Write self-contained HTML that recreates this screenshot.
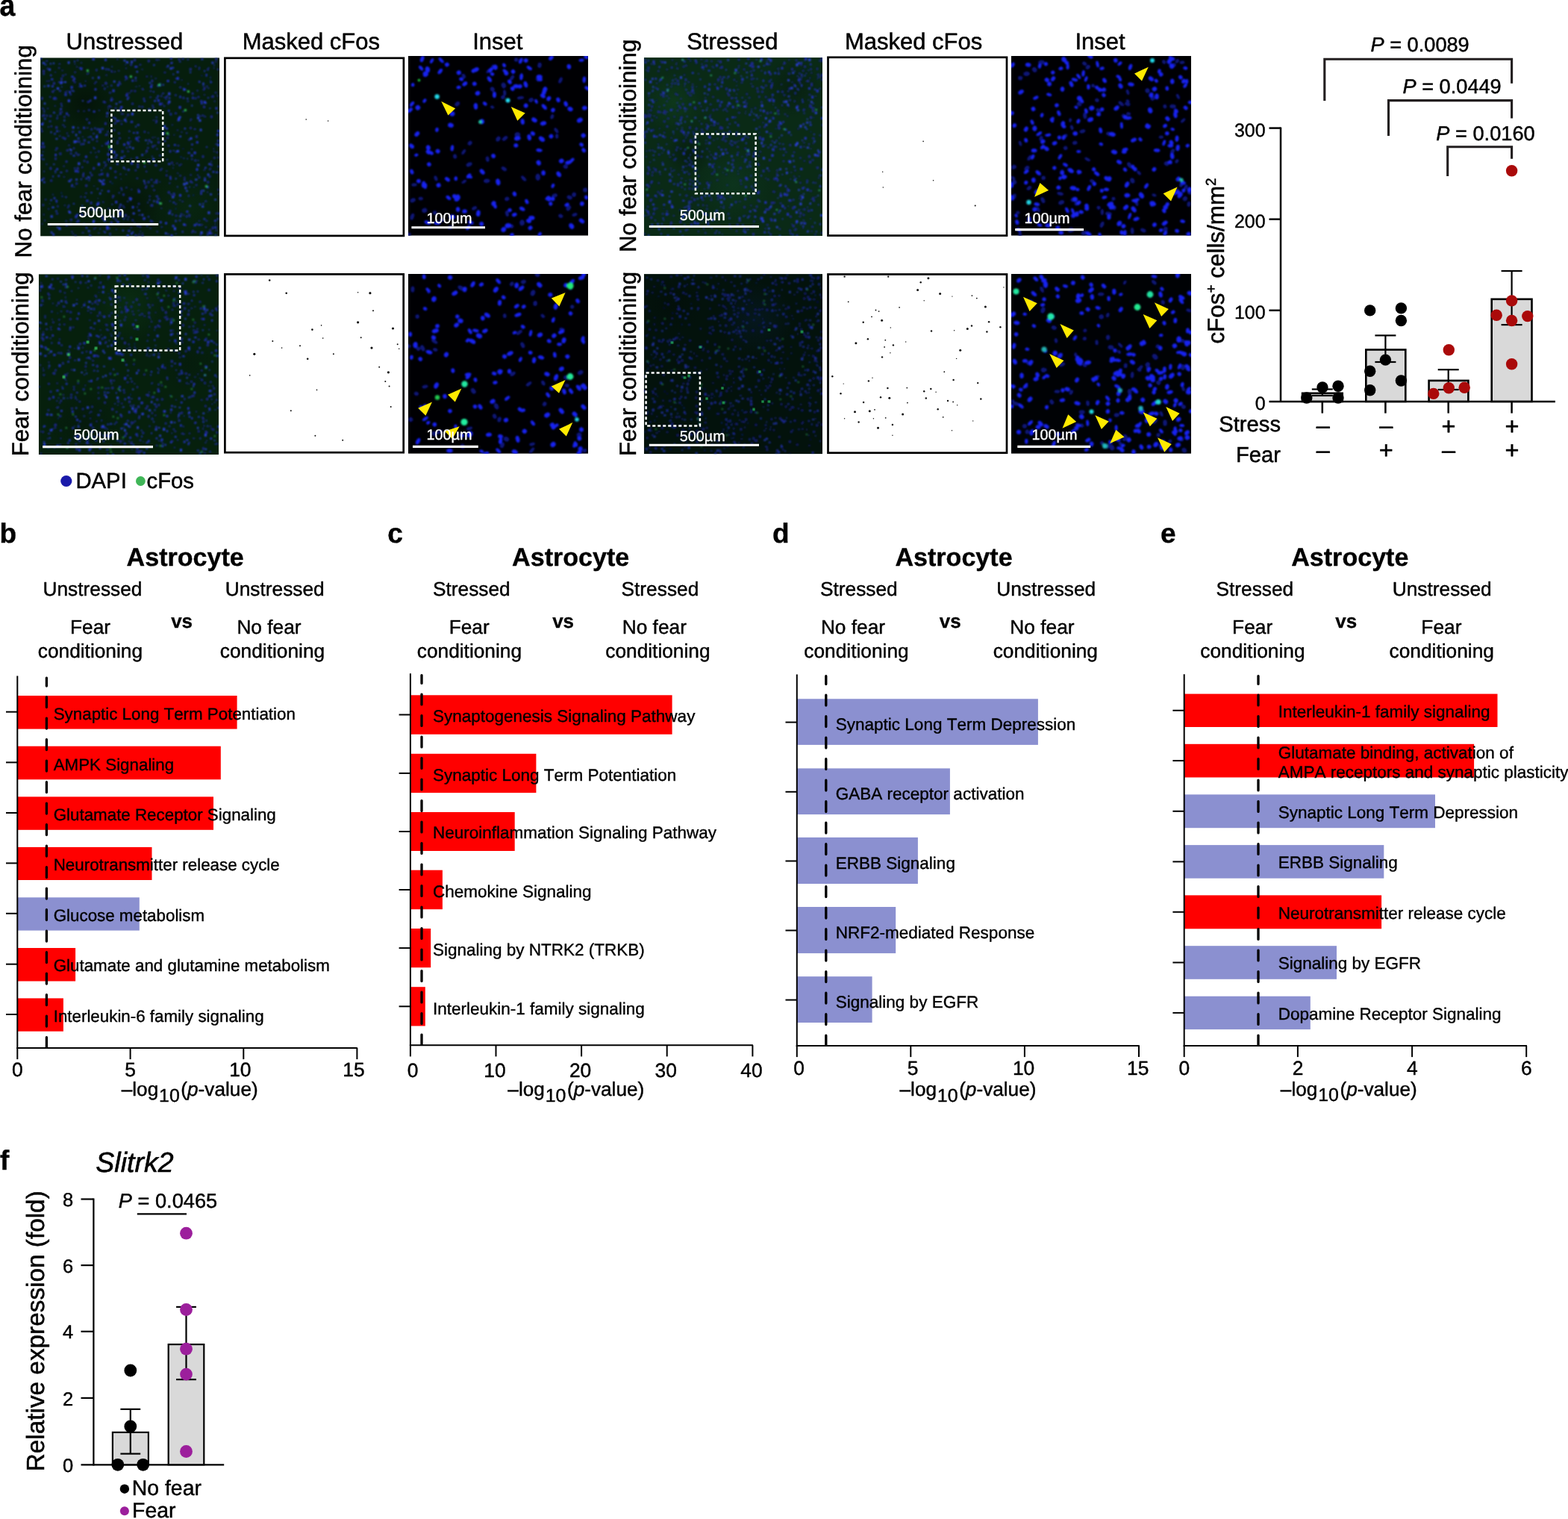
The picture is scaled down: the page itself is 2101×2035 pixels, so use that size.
<!DOCTYPE html>
<html lang="en">
<head>
<meta charset="utf-8">
<title>Figure</title>
<style>
html,body{margin:0;padding:0;background:#fff;}
body{width:2101px;height:2035px;overflow:hidden;}
svg{display:block;}
text{font-family:'Liberation Sans', Arial, Helvetica, sans-serif;font-kerning:none;stroke-linejoin:round;text-rendering:geometricPrecision;}
</style>
</head>
<body>
<svg width="2101" height="2035" viewBox="0 0 2101 2035">
<rect width="2101" height="2035" fill="#fff"/>
<text font-size="37.5" font-weight="bold" stroke="#000" stroke-width="0.41" transform="translate(-0.6 20.5) scale(1 1.09)">a</text>
<text font-size="31" text-anchor="middle" stroke="#000" stroke-width="0.50" transform="translate(166.9 65.7)">Unstressed</text>
<text font-size="31" text-anchor="middle" stroke="#000" stroke-width="0.50" transform="translate(416.8 65.7)">Masked cFos</text>
<text font-size="31" text-anchor="middle" stroke="#000" stroke-width="0.50" transform="translate(666.8 65.7)">Inset</text>
<text font-size="31" text-anchor="middle" stroke="#000" stroke-width="0.50" transform="translate(981.3 65.7)">Stressed</text>
<text font-size="31" text-anchor="middle" stroke="#000" stroke-width="0.50" transform="translate(1224.1 65.7)">Masked cFos</text>
<text font-size="31" text-anchor="middle" stroke="#000" stroke-width="0.50" transform="translate(1474.0 65.7)">Inset</text>
<text font-size="31.3" stroke="#000" stroke-width="0.50" transform="translate(41.9 345.4) rotate(-90)">No fear conditioining</text>
<text font-size="31.3" stroke="#000" stroke-width="0.50" transform="translate(37.9 611.3) rotate(-90)">Fear conditioining</text>
<text font-size="31.3" stroke="#000" stroke-width="0.50" transform="translate(852.0 338.0) rotate(-90)">No fear conditioining</text>
<text font-size="31.3" stroke="#000" stroke-width="0.50" transform="translate(852.0 611.0) rotate(-90)">Fear conditioining</text>
<defs><filter id="bl" x="-5%" y="-5%" width="110%" height="110%"><feGaussianBlur stdDeviation="0.8"/></filter><filter id="bl2" x="-5%" y="-5%" width="110%" height="110%"><feGaussianBlur stdDeviation="1.0"/></filter><filter id="bl3" x="-20%" y="-20%" width="140%" height="140%"><feGaussianBlur stdDeviation="14"/></filter></defs>
<clipPath id="c1"><rect x="0" y="0" width="240.0" height="239.3"/></clipPath>
<g transform="translate(54.1 77.3)" clip-path="url(#c1)">
<rect width="240.0" height="239.3" fill="#061e0d"/>
<radialGradient id="g1"><stop offset="0" stop-color="#000" stop-opacity="0.35"/><stop offset="1" stop-color="#000" stop-opacity="0"/></radialGradient>
<circle cx="60" cy="60" r="40" fill="url(#g1)"/>
<radialGradient id="g2"><stop offset="0" stop-color="#0a2c14" stop-opacity="0.5"/><stop offset="1" stop-color="#0a2c14" stop-opacity="0"/></radialGradient>
<circle cx="200" cy="200" r="50" fill="url(#g2)"/>
<radialGradient id="g3"><stop offset="0" stop-color="#000" stop-opacity="0.3"/><stop offset="1" stop-color="#000" stop-opacity="0"/></radialGradient>
<circle cx="120" cy="200" r="40" fill="url(#g3)"/>
<g filter="url(#bl)">
<path d="M120.9 139.6h3.0v3.6h-3.0zM2.6 125.4h1.8v1.4h-1.8zM69.6 0.1h3.0v3.6h-3.0zM180.9 27.2h1.8v1.4h-1.8zM13.4 189.7h2.2v2.2h-2.2zM77.9 69.9h1.8v1.4h-1.8zM49.1 151.3h2.6v2.6h-2.6zM217.0 194.7h2.2v1.8h-2.2zM176.5 224.0h3.0v3.0h-3.0zM143.8 99.9h1.8v1.4h-1.8zM41.1 171.4h2.2v1.8h-2.2zM63.6 105.7h1.8v1.4h-1.8zM66.7 126.1h1.8v1.8h-1.8zM73.7 31.7h1.8v1.8h-1.8zM83.4 163.0h3.0v2.4h-3.0zM138.8 144.7h1.8v2.2h-1.8zM143.3 114.1h1.8v1.8h-1.8zM107.2 64.8h3.0v3.0h-3.0zM31.6 107.8h2.6v2.1h-2.6zM202.7 166.5h1.8v1.8h-1.8zM222.8 171.9h3.0v3.0h-3.0zM46.3 211.3h3.0v3.6h-3.0zM77.4 234.1h1.8v1.4h-1.8zM57.2 92.4h2.6v3.1h-2.6zM118.4 97.4h1.8v2.2h-1.8zM89.5 127.8h3.0v3.6h-3.0zM63.6 112.2h2.6v2.6h-2.6zM186.0 4.5h2.2v1.8h-2.2zM143.8 212.1h2.2v1.8h-2.2zM212.0 31.0h2.2v2.6h-2.2zM44.5 26.5h2.2v2.2h-2.2zM221.5 21.8h2.2v2.6h-2.2zM101.3 83.8h2.6v2.1h-2.6zM151.2 8.8h2.2v2.2h-2.2zM38.6 121.7h2.6v2.1h-2.6zM190.4 71.2h1.8v1.8h-1.8zM236.7 215.0h2.2v2.2h-2.2zM96.5 42.5h3.0v3.6h-3.0zM171.0 69.8h2.2v2.6h-2.2zM214.4 178.1h2.6v2.1h-2.6zM65.9 56.3h2.2v2.6h-2.2zM5.5 8.1h2.6v2.1h-2.6zM180.4 217.5h2.2v2.6h-2.2zM130.7 177.5h3.0v3.6h-3.0zM52.1 12.8h2.6v2.1h-2.6zM155.3 191.5h2.6v3.1h-2.6zM19.3 150.7h1.8v2.2h-1.8zM116.1 191.6h1.8v1.8h-1.8zM85.9 1.4h3.0v3.0h-3.0zM218.7 57.8h3.0v3.6h-3.0zM154.5 184.7h1.8v1.8h-1.8zM25.1 43.2h2.2v2.6h-2.2zM171.1 141.3h3.0v2.4h-3.0zM206.0 94.6h2.2v2.2h-2.2zM156.8 55.9h3.0v3.0h-3.0zM136.3 41.7h2.2v1.8h-2.2zM159.0 60.4h3.0v3.6h-3.0zM53.4 36.6h3.0v3.0h-3.0zM32.4 48.2h3.0v3.0h-3.0zM78.5 97.6h3.0v3.6h-3.0zM81.1 154.7h3.0v2.4h-3.0zM225.8 149.1h1.8v1.4h-1.8zM107.5 173.6h1.8v2.2h-1.8zM34.0 222.5h2.6v3.1h-2.6zM43.5 130.1h3.0v2.4h-3.0zM46.9 111.0h3.0v2.4h-3.0zM57.6 222.0h1.8v2.2h-1.8zM124.0 99.6h2.6v2.1h-2.6zM113.2 24.2h2.6v3.1h-2.6zM93.9 55.4h2.6v3.1h-2.6zM100.1 191.7h3.0v3.6h-3.0zM84.6 139.1h2.6v2.1h-2.6zM69.9 219.8h2.2v2.2h-2.2zM150.8 44.8h1.8v1.8h-1.8zM122.8 232.8h2.2v2.2h-2.2zM219.1 16.7h1.8v2.2h-1.8zM67.4 179.8h2.2v2.2h-2.2zM222.0 118.6h1.8v2.2h-1.8zM62.1 190.1h1.8v1.4h-1.8zM34.1 73.4h2.6v3.1h-2.6zM177.7 123.8h1.8v1.4h-1.8zM97.4 124.8h3.0v3.6h-3.0zM70.5 100.6h1.8v2.2h-1.8zM59.8 131.1h3.0v3.0h-3.0zM205.4 222.9h3.0v3.0h-3.0zM116.7 149.0h3.0v2.4h-3.0zM128.7 99.3h2.6v2.6h-2.6zM182.8 172.1h1.8v1.8h-1.8zM93.6 56.0h2.2v1.8h-2.2zM122.3 29.5h2.6v2.6h-2.6zM100.8 129.2h2.6v2.6h-2.6zM173.1 158.4h2.2v2.2h-2.2zM127.4 106.5h3.0v3.6h-3.0zM159.9 218.9h2.6v3.1h-2.6zM61.3 190.3h3.0v3.0h-3.0zM218.5 215.0h2.6v2.1h-2.6zM168.7 50.8h1.8v2.2h-1.8zM129.3 145.6h2.6v2.1h-2.6zM85.5 232.8h2.2v2.2h-2.2zM53.8 161.8h1.8v2.2h-1.8zM94.1 36.4h2.2v1.8h-2.2zM176.0 209.0h1.8v2.2h-1.8zM235.0 152.5h2.6v2.1h-2.6zM223.0 235.6h2.2v2.6h-2.2zM238.4 207.4h2.6v2.6h-2.6zM174.5 236.8h3.0v3.0h-3.0zM102.8 35.3h2.6v3.1h-2.6zM237.0 96.8h3.0v3.0h-3.0zM192.7 93.7h2.2v2.6h-2.2zM199.1 172.5h1.8v1.4h-1.8zM236.0 101.9h3.0v3.0h-3.0zM111.5 131.0h2.2v2.2h-2.2zM66.1 153.0h1.8v2.2h-1.8zM104.7 180.2h1.8v1.8h-1.8zM16.3 235.4h2.6v3.1h-2.6zM143.7 165.3h2.2v1.8h-2.2zM165.5 110.6h2.6v2.1h-2.6zM82.1 167.4h3.0v3.6h-3.0zM156.8 107.4h1.8v1.8h-1.8zM159.3 36.3h2.6v2.1h-2.6zM155.0 166.8h1.8v1.8h-1.8zM156.5 188.1h2.2v2.2h-2.2zM71.4 120.4h1.8v2.2h-1.8zM24.1 31.9h2.2v1.8h-2.2zM237.4 133.0h1.8v1.8h-1.8zM154.7 78.9h1.8v1.8h-1.8zM178.9 115.6h2.6v2.6h-2.6zM75.8 174.8h1.8v1.8h-1.8zM158.9 130.2h1.8v1.8h-1.8zM22.3 76.6h1.8v1.4h-1.8zM208.7 112.0h3.0v3.0h-3.0zM167.9 93.8h3.0v2.4h-3.0zM72.6 201.8h2.6v3.1h-2.6zM58.3 36.4h2.6v2.1h-2.6zM38.1 44.5h2.6v3.1h-2.6zM20.4 190.5h2.6v2.6h-2.6zM226.8 158.1h1.8v1.8h-1.8zM214.9 60.3h2.6v2.1h-2.6zM233.2 226.3h3.0v2.4h-3.0zM19.7 123.3h1.8v1.4h-1.8zM70.5 71.0h3.0v2.4h-3.0zM88.1 228.3h3.0v2.4h-3.0zM214.6 56.9h2.6v3.1h-2.6zM55.3 210.0h2.2v1.8h-2.2zM49.7 107.0h2.6v2.1h-2.6zM209.5 43.2h1.8v1.8h-1.8zM121.3 175.9h1.8v1.4h-1.8zM51.3 98.2h2.6v3.1h-2.6zM99.6 159.4h2.6v2.1h-2.6zM232.8 217.2h3.0v2.4h-3.0zM90.3 14.6h2.2v1.8h-2.2zM48.3 209.1h2.6v2.6h-2.6zM173.1 160.9h2.6v2.6h-2.6zM230.6 151.7h2.6v2.6h-2.6zM238.4 115.9h2.2v1.8h-2.2zM225.6 233.0h3.0v3.6h-3.0zM95.1 11.4h1.8v1.4h-1.8zM95.3 195.8h1.8v1.4h-1.8zM4.9 80.8h2.6v2.1h-2.6zM226.4 67.0h1.8v1.8h-1.8zM202.2 135.1h1.8v1.8h-1.8zM66.2 104.9h2.6v2.1h-2.6zM45.8 150.5h3.0v3.0h-3.0zM206.7 232.6h1.8v1.8h-1.8zM154.5 163.2h2.6v2.6h-2.6zM237.0 14.8h1.8v1.8h-1.8zM212.2 12.4h1.8v1.8h-1.8zM118.6 186.8h3.0v3.6h-3.0zM169.5 29.8h3.0v3.0h-3.0zM208.4 147.9h3.0v3.6h-3.0zM17.0 53.3h3.0v3.0h-3.0zM1.2 129.6h2.6v2.1h-2.6zM88.9 156.3h2.6v3.1h-2.6zM208.4 222.4h2.2v1.8h-2.2zM44.9 4.0h1.8v2.2h-1.8zM195.5 204.7h2.6v3.1h-2.6zM76.2 193.2h3.0v3.6h-3.0zM84.2 168.0h2.6v2.1h-2.6zM4.0 165.8h2.6v2.1h-2.6zM186.1 51.9h2.6v2.1h-2.6zM40.5 37.9h3.0v3.6h-3.0zM4.3 71.0h1.8v2.2h-1.8zM88.1 224.9h3.0v3.6h-3.0zM220.2 146.1h2.2v2.6h-2.2zM156.6 50.3h2.2v2.2h-2.2zM117.8 230.7h2.6v2.6h-2.6zM219.2 160.4h2.6v2.1h-2.6zM126.4 10.7h2.6v3.1h-2.6zM88.1 78.0h2.2v1.8h-2.2zM44.5 172.4h1.8v1.4h-1.8zM197.1 34.4h1.8v1.4h-1.8zM57.0 153.9h1.8v2.2h-1.8zM26.0 67.6h3.0v2.4h-3.0zM89.8 177.8h3.0v2.4h-3.0zM129.0 223.9h2.2v2.2h-2.2zM166.9 220.3h3.0v3.0h-3.0zM182.7 26.0h3.0v3.6h-3.0zM95.9 134.0h1.8v1.8h-1.8zM-0.7 -0.8h2.6v3.1h-2.6zM147.0 37.8h3.0v3.0h-3.0zM201.7 129.5h2.6v3.1h-2.6zM13.0 22.5h2.2v2.2h-2.2zM54.0 6.1h1.8v1.4h-1.8zM152.2 56.6h2.6v2.6h-2.6zM114.1 84.5h1.8v2.2h-1.8zM173.8 -0.2h3.0v2.4h-3.0zM234.5 66.3h2.6v3.1h-2.6zM33.5 185.7h1.8v2.2h-1.8zM223.9 52.6h1.8v2.2h-1.8zM202.1 115.3h2.6v2.1h-2.6zM45.0 27.7h1.8v2.2h-1.8zM81.0 149.6h1.8v2.2h-1.8zM21.2 97.2h2.6v2.6h-2.6zM137.7 213.7h3.0v3.6h-3.0zM26.3 32.5h2.6v3.1h-2.6zM-0.7 130.1h2.2v1.8h-2.2zM60.7 160.7h2.2v2.6h-2.2zM27.9 38.4h1.8v1.4h-1.8zM18.1 100.9h2.6v2.1h-2.6zM18.6 52.6h2.6v2.1h-2.6zM41.3 24.2h3.0v2.4h-3.0zM43.7 194.7h2.2v1.8h-2.2zM89.8 111.5h2.6v2.1h-2.6zM53.6 14.1h2.6v2.6h-2.6zM21.3 148.0h2.6v2.6h-2.6zM127.9 132.7h3.0v2.4h-3.0zM89.1 226.0h2.6v2.1h-2.6zM214.2 180.9h2.6v2.6h-2.6zM185.5 64.8h3.0v3.6h-3.0zM105.1 58.5h1.8v2.2h-1.8zM211.5 222.7h3.0v2.4h-3.0zM64.6 159.9h2.2v2.2h-2.2zM3.7 20.7h1.8v2.2h-1.8zM60.8 226.6h2.2v2.6h-2.2zM196.1 134.6h1.8v1.4h-1.8zM75.1 103.1h1.8v1.8h-1.8zM-0.1 94.2h2.2v1.8h-2.2zM72.6 40.9h2.6v3.1h-2.6zM16.1 157.9h1.8v2.2h-1.8zM111.0 115.0h3.0v3.0h-3.0zM117.0 115.0h1.8v2.2h-1.8zM72.3 93.5h1.8v2.2h-1.8zM121.4 84.4h2.6v3.1h-2.6zM176.8 12.2h2.2v2.6h-2.2zM48.2 218.9h1.8v2.2h-1.8zM116.0 112.1h2.6v3.1h-2.6zM52.1 34.2h2.2v2.2h-2.2zM197.5 126.4h3.0v2.4h-3.0zM39.9 162.3h2.6v2.1h-2.6zM129.7 88.9h3.0v2.4h-3.0zM165.7 52.5h1.8v1.8h-1.8zM203.0 52.5h2.6v2.6h-2.6zM205.5 125.6h3.0v3.6h-3.0zM92.5 234.6h1.8v2.2h-1.8zM107.2 133.3h2.2v1.8h-2.2zM26.5 152.7h2.6v2.1h-2.6zM114.2 48.9h3.0v3.0h-3.0zM14.1 27.7h3.0v2.4h-3.0zM15.0 37.0h2.6v2.6h-2.6zM177.4 192.9h2.6v2.1h-2.6zM64.5 86.0h2.2v2.6h-2.2zM138.4 57.1h2.6v2.1h-2.6zM90.0 135.3h3.0v2.4h-3.0zM171.9 52.9h2.2v2.2h-2.2zM212.7 195.3h2.2v2.6h-2.2zM36.6 104.0h1.8v1.8h-1.8zM121.7 84.7h1.8v1.4h-1.8zM41.5 169.4h2.2v2.2h-2.2zM20.3 204.5h2.2v2.2h-2.2zM17.6 186.9h2.6v2.6h-2.6zM104.9 207.1h3.0v3.6h-3.0zM177.3 21.1h1.8v2.2h-1.8zM88.4 113.8h3.0v3.0h-3.0zM56.9 114.4h2.2v2.2h-2.2zM19.4 153.4h1.8v1.4h-1.8zM19.2 128.8h2.6v3.1h-2.6zM58.6 185.7h2.2v1.8h-2.2zM102.0 141.5h2.6v2.1h-2.6zM185.9 182.6h3.0v3.6h-3.0zM3.2 135.3h2.2v1.8h-2.2zM23.6 157.2h2.2v2.6h-2.2zM103.8 83.5h2.2v2.2h-2.2zM215.5 0.6h2.6v2.6h-2.6zM227.3 31.8h2.6v2.1h-2.6z" fill="#2230c4"/>
<path d="M146.4 43.6h2.6v2.1h-2.6zM20.8 192.7h1.8v2.2h-1.8zM234.7 229.9h2.2v2.6h-2.2zM104.7 200.6h2.2v2.6h-2.2zM60.0 180.4h2.6v2.1h-2.6zM15.9 182.4h1.8v1.8h-1.8zM49.3 216.8h3.0v3.6h-3.0zM94.4 16.5h2.2v2.6h-2.2zM63.7 19.9h1.8v1.8h-1.8zM153.5 26.9h2.2v1.8h-2.2zM236.4 50.0h1.8v2.2h-1.8zM148.3 29.4h3.0v3.6h-3.0zM31.6 91.4h2.2v2.2h-2.2zM122.0 60.1h3.0v3.0h-3.0zM100.0 215.5h2.6v3.1h-2.6zM114.0 155.4h1.8v1.8h-1.8zM50.0 217.9h1.8v1.4h-1.8zM32.2 106.8h2.2v2.6h-2.2zM7.4 3.3h2.6v2.1h-2.6zM4.1 151.2h1.8v2.2h-1.8zM130.1 175.4h2.2v2.2h-2.2zM206.2 136.1h3.0v3.0h-3.0zM26.7 60.5h2.6v2.6h-2.6zM223.2 165.1h3.0v3.0h-3.0zM186.2 157.0h2.6v2.1h-2.6zM87.3 33.3h2.2v2.6h-2.2zM39.7 215.7h3.0v3.0h-3.0zM213.0 77.2h2.6v2.1h-2.6zM91.3 138.5h2.2v1.8h-2.2zM149.2 117.2h3.0v3.0h-3.0zM169.1 135.5h1.8v2.2h-1.8zM186.0 189.7h1.8v1.8h-1.8zM25.2 127.1h2.6v2.1h-2.6zM163.3 46.7h2.6v2.1h-2.6zM170.4 179.7h1.8v1.4h-1.8zM53.3 185.3h2.2v2.2h-2.2zM233.4 222.1h1.8v1.8h-1.8zM120.1 7.9h3.0v3.0h-3.0zM191.0 40.4h2.2v2.2h-2.2zM34.7 122.6h3.0v3.0h-3.0zM125.4 68.4h2.2v2.6h-2.2zM122.4 216.1h2.6v3.1h-2.6zM90.5 201.3h2.2v2.2h-2.2zM203.2 230.7h2.6v3.1h-2.6zM191.3 133.7h1.8v2.2h-1.8zM39.0 221.7h3.0v3.0h-3.0zM215.2 222.9h2.6v2.1h-2.6zM44.9 146.9h2.2v2.6h-2.2zM1.8 67.0h2.6v2.1h-2.6zM147.7 24.1h1.8v2.2h-1.8zM148.6 170.7h3.0v2.4h-3.0zM89.2 97.9h2.2v2.6h-2.2zM48.0 150.1h2.2v2.6h-2.2zM50.9 128.9h2.2v1.8h-2.2zM218.6 149.3h2.2v2.2h-2.2zM20.2 91.8h3.0v3.6h-3.0zM188.6 29.2h1.8v1.4h-1.8zM168.1 150.9h2.2v1.8h-2.2zM109.9 182.0h3.0v3.0h-3.0zM107.9 175.9h2.2v2.6h-2.2zM142.9 119.7h2.6v2.6h-2.6zM31.0 77.9h2.6v2.6h-2.6zM182.7 96.1h2.2v1.8h-2.2zM225.7 158.4h2.2v2.6h-2.2zM239.0 152.7h1.8v1.8h-1.8zM234.2 4.5h1.8v2.2h-1.8zM55.9 105.2h1.8v1.4h-1.8zM154.5 1.6h2.6v2.6h-2.6zM216.4 130.6h3.0v3.6h-3.0zM135.3 237.1h3.0v3.6h-3.0zM222.2 37.3h2.2v2.2h-2.2zM129.1 141.8h3.0v3.0h-3.0zM67.3 94.4h2.6v3.1h-2.6zM67.6 155.8h2.6v3.1h-2.6zM190.4 52.5h3.0v3.0h-3.0zM232.6 57.3h1.8v2.2h-1.8zM168.5 11.1h3.0v2.4h-3.0zM47.9 11.5h2.2v1.8h-2.2zM86.2 32.4h3.0v3.6h-3.0zM61.9 138.3h2.6v3.1h-2.6zM126.4 237.7h2.2v1.8h-2.2zM114.5 119.4h2.6v2.6h-2.6zM64.2 162.9h2.2v2.6h-2.2zM8.5 13.5h2.6v2.6h-2.6zM234.6 114.8h2.2v2.2h-2.2zM35.8 199.1h2.6v2.6h-2.6zM87.6 22.2h1.8v2.2h-1.8zM18.9 134.0h3.0v3.0h-3.0zM196.6 1.2h2.2v2.6h-2.2zM143.9 165.3h2.6v2.6h-2.6zM210.6 51.3h2.6v2.6h-2.6zM216.5 76.2h2.6v2.6h-2.6zM126.3 236.5h2.6v2.1h-2.6zM94.9 222.7h2.2v1.8h-2.2zM85.8 86.5h3.0v3.6h-3.0zM92.0 45.7h2.6v2.6h-2.6zM128.7 199.1h2.2v1.8h-2.2zM19.2 18.5h1.8v1.8h-1.8zM194.9 100.0h2.2v2.2h-2.2zM83.1 192.2h2.2v2.2h-2.2zM180.7 234.9h1.8v1.8h-1.8zM199.1 211.7h1.8v2.2h-1.8zM39.2 47.9h2.6v2.6h-2.6zM231.7 13.2h1.8v1.8h-1.8zM130.6 194.5h2.6v2.6h-2.6zM212.0 217.8h1.8v1.8h-1.8zM107.0 58.0h2.2v2.2h-2.2zM36.7 76.0h2.2v2.6h-2.2zM177.0 147.2h1.8v1.4h-1.8zM18.8 63.6h1.8v1.8h-1.8zM165.5 18.8h2.6v2.1h-2.6zM188.4 98.8h1.8v1.8h-1.8zM49.0 129.0h3.0v2.4h-3.0zM226.2 229.7h2.6v2.6h-2.6zM17.2 72.2h1.8v1.8h-1.8zM16.8 32.6h3.0v3.6h-3.0zM105.9 205.7h3.0v2.4h-3.0zM48.6 146.4h3.0v3.6h-3.0zM25.3 73.1h3.0v3.6h-3.0zM152.7 105.9h1.8v1.4h-1.8zM32.8 21.6h2.2v1.8h-2.2zM45.4 7.7h1.8v1.4h-1.8zM235.5 125.8h2.6v2.1h-2.6zM170.2 59.8h2.6v3.1h-2.6zM55.1 145.5h2.2v2.6h-2.2zM170.2 235.1h2.2v2.6h-2.2zM57.7 137.0h2.6v2.6h-2.6zM21.0 207.8h3.0v2.4h-3.0zM218.6 39.3h2.6v3.1h-2.6zM214.3 56.6h2.6v2.1h-2.6zM95.8 186.3h2.2v2.2h-2.2zM180.5 201.8h1.8v1.4h-1.8zM135.7 40.6h2.2v2.2h-2.2zM160.0 33.6h1.8v1.8h-1.8zM81.9 213.6h3.0v3.0h-3.0zM27.2 26.4h2.6v3.1h-2.6zM70.1 146.5h3.0v3.6h-3.0zM76.3 187.9h1.8v1.4h-1.8zM28.9 106.0h3.0v2.4h-3.0zM28.4 16.2h2.2v1.8h-2.2zM210.7 136.8h1.8v1.8h-1.8zM57.5 70.6h2.2v1.8h-2.2zM104.8 106.7h3.0v2.4h-3.0zM108.2 74.1h3.0v2.4h-3.0zM223.1 232.9h2.2v1.8h-2.2zM200.1 83.7h1.8v1.4h-1.8zM151.5 166.0h2.2v2.6h-2.2zM173.2 73.9h3.0v3.6h-3.0zM18.0 52.4h1.8v2.2h-1.8zM164.9 63.4h2.2v2.6h-2.2zM158.5 188.2h1.8v2.2h-1.8zM30.8 158.8h1.8v1.8h-1.8zM139.8 127.6h1.8v1.4h-1.8zM148.3 218.3h3.0v2.4h-3.0zM185.4 216.7h3.0v2.4h-3.0zM186.1 38.5h3.0v2.4h-3.0zM159.4 130.1h2.2v2.2h-2.2zM116.4 51.9h3.0v3.0h-3.0zM7.5 141.8h1.8v2.2h-1.8zM106.6 209.7h2.2v2.6h-2.2zM3.3 117.7h3.0v3.6h-3.0zM155.0 121.2h2.6v2.1h-2.6zM74.8 110.7h2.2v2.6h-2.2zM231.9 9.1h2.2v1.8h-2.2zM238.1 181.7h2.2v2.2h-2.2zM19.6 53.4h2.6v3.1h-2.6zM51.4 37.4h1.8v2.2h-1.8zM186.5 50.5h2.2v1.8h-2.2zM189.4 191.4h2.2v2.2h-2.2zM50.5 110.9h3.0v3.0h-3.0zM226.7 147.6h2.2v2.6h-2.2zM62.0 93.0h2.2v2.2h-2.2zM23.8 12.7h2.6v2.1h-2.6zM60.5 209.3h1.8v1.8h-1.8zM206.8 53.1h2.6v2.6h-2.6zM28.3 184.4h2.2v2.6h-2.2zM13.4 90.7h2.6v2.6h-2.6zM167.8 52.0h2.2v2.2h-2.2zM183.4 82.9h2.2v2.6h-2.2zM21.3 80.8h2.2v2.2h-2.2zM138.8 166.8h2.6v3.1h-2.6zM218.0 64.1h3.0v3.6h-3.0zM71.0 171.1h1.8v1.4h-1.8zM7.5 76.4h2.6v2.6h-2.6zM194.6 211.3h3.0v3.0h-3.0zM146.7 227.4h1.8v2.2h-1.8zM198.1 209.5h3.0v2.4h-3.0zM191.9 162.5h2.6v2.6h-2.6zM234.2 -0.2h3.0v3.6h-3.0zM82.2 211.1h2.2v2.6h-2.2zM98.6 86.8h3.0v2.4h-3.0zM154.1 85.7h2.2v2.6h-2.2zM73.4 202.2h3.0v2.4h-3.0zM81.7 94.1h3.0v3.0h-3.0zM170.8 59.3h2.6v2.1h-2.6zM29.1 89.2h2.6v2.1h-2.6zM155.5 232.0h2.2v2.2h-2.2zM164.0 99.3h3.0v3.0h-3.0zM92.4 165.1h2.6v2.1h-2.6zM105.1 198.5h2.6v2.6h-2.6zM135.5 64.5h2.6v2.6h-2.6zM53.6 114.4h2.6v3.1h-2.6zM17.8 42.7h2.2v1.8h-2.2zM147.0 196.9h2.6v2.1h-2.6zM128.4 160.5h2.6v2.1h-2.6zM179.9 73.2h3.0v2.4h-3.0zM211.8 14.2h1.8v2.2h-1.8zM62.6 57.6h3.0v3.0h-3.0zM72.9 126.2h1.8v1.8h-1.8zM95.5 167.8h1.8v1.4h-1.8zM137.4 53.4h2.6v3.1h-2.6zM156.7 193.0h3.0v3.0h-3.0zM73.9 15.0h2.6v3.1h-2.6zM21.6 79.1h2.2v1.8h-2.2zM10.3 30.3h2.2v1.8h-2.2zM82.4 36.2h2.6v2.1h-2.6zM102.4 1.3h1.8v1.8h-1.8zM161.5 225.8h2.2v2.2h-2.2zM125.0 1.4h3.0v3.6h-3.0zM12.3 146.5h3.0v3.6h-3.0zM149.9 119.8h1.8v1.4h-1.8zM200.0 164.1h3.0v3.6h-3.0zM111.1 199.2h2.2v2.2h-2.2zM143.2 136.1h1.8v2.2h-1.8zM149.6 105.9h1.8v2.2h-1.8zM12.1 76.7h3.0v3.0h-3.0zM237.3 175.6h2.2v2.6h-2.2zM25.7 43.7h2.2v1.8h-2.2zM190.4 121.4h1.8v1.4h-1.8zM207.8 169.3h2.6v2.6h-2.6zM48.8 2.4h2.2v2.2h-2.2zM204.2 183.5h1.8v1.4h-1.8zM193.8 41.7h1.8v1.8h-1.8zM228.3 51.5h1.8v1.8h-1.8zM231.8 133.0h3.0v2.4h-3.0zM61.1 81.3h2.6v2.6h-2.6zM46.1 237.1h2.2v2.6h-2.2zM34.1 150.1h2.6v3.1h-2.6zM97.2 108.3h1.8v1.4h-1.8zM27.2 28.5h1.8v2.2h-1.8zM154.6 53.0h3.0v2.4h-3.0zM177.4 142.9h1.8v1.8h-1.8zM99.6 66.3h2.6v2.6h-2.6zM157.8 2.0h2.2v1.8h-2.2zM2.9 6.2h2.6v2.1h-2.6zM110.6 74.6h1.8v1.4h-1.8zM233.3 236.5h3.0v2.4h-3.0zM87.8 33.2h1.8v2.2h-1.8zM189.7 -0.1h2.6v3.1h-2.6zM25.1 97.8h1.8v1.4h-1.8zM56.1 157.6h2.6v2.6h-2.6zM83.7 57.8h3.0v3.0h-3.0zM12.0 51.1h2.2v2.6h-2.2zM231.9 124.6h1.8v1.8h-1.8zM175.9 89.1h1.8v1.8h-1.8zM25.5 71.0h1.8v1.8h-1.8zM98.9 17.7h1.8v2.2h-1.8zM219.5 77.7h2.2v2.6h-2.2zM149.2 63.0h2.6v2.1h-2.6zM87.3 101.7h3.0v3.0h-3.0zM199.6 13.8h3.0v3.6h-3.0zM76.4 194.9h1.8v2.2h-1.8zM88.3 74.2h2.2v2.6h-2.2zM141.4 24.1h2.6v2.1h-2.6zM86.8 142.1h2.6v2.1h-2.6zM145.2 140.1h2.2v2.2h-2.2zM27.3 180.5h1.8v1.4h-1.8zM205.4 95.3h1.8v1.4h-1.8zM94.2 52.9h2.6v2.1h-2.6zM66.8 238.2h1.8v1.8h-1.8zM148.9 131.1h1.8v2.2h-1.8zM223.2 179.1h1.8v2.2h-1.8zM114.0 79.3h1.8v1.4h-1.8zM73.4 227.3h1.8v1.4h-1.8zM47.1 167.2h3.0v3.0h-3.0zM2.5 196.0h2.6v2.6h-2.6zM140.9 123.4h3.0v3.6h-3.0zM150.8 83.0h1.8v1.8h-1.8zM220.2 191.1h3.0v2.4h-3.0zM171.0 102.6h1.8v2.2h-1.8zM42.1 98.0h3.0v3.0h-3.0zM37.3 116.3h2.2v2.2h-2.2zM204.8 172.9h1.8v1.4h-1.8zM84.9 40.3h2.6v2.6h-2.6zM59.7 30.5h1.8v1.8h-1.8zM6.0 188.9h2.2v2.2h-2.2zM12.0 223.1h2.2v2.2h-2.2zM107.7 87.7h2.2v2.6h-2.2zM120.4 134.4h2.2v1.8h-2.2zM227.0 25.4h1.8v1.8h-1.8zM215.4 23.4h1.8v1.4h-1.8zM136.0 234.2h1.8v1.8h-1.8zM125.5 43.2h2.6v3.1h-2.6zM118.8 46.3h1.8v1.8h-1.8zM32.5 45.2h3.0v2.4h-3.0zM132.8 231.7h1.8v1.4h-1.8zM145.1 189.4h2.6v2.1h-2.6zM34.8 43.6h1.8v1.4h-1.8zM96.8 79.3h3.0v2.4h-3.0zM172.5 123.7h3.0v3.6h-3.0zM56.2 155.6h2.6v3.1h-2.6zM90.1 67.7h1.8v1.8h-1.8zM45.2 31.5h2.2v2.6h-2.2zM211.6 158.9h2.6v3.1h-2.6zM42.9 28.4h3.0v3.6h-3.0zM61.8 21.0h2.2v1.8h-2.2zM189.3 231.7h2.6v3.1h-2.6zM100.8 229.1h1.8v1.8h-1.8zM79.8 201.9h2.6v3.1h-2.6zM112.5 148.3h2.2v2.2h-2.2zM33.5 137.6h3.0v3.0h-3.0zM128.6 109.2h3.0v2.4h-3.0zM161.6 147.8h2.2v2.2h-2.2zM121.1 234.6h2.2v2.6h-2.2zM74.2 131.8h2.2v2.6h-2.2zM114.1 25.8h3.0v3.6h-3.0zM-0.6 117.8h3.0v3.6h-3.0zM118.4 114.3h2.2v1.8h-2.2zM132.2 225.3h3.0v2.4h-3.0zM68.7 200.3h2.6v2.1h-2.6zM154.2 164.0h2.6v3.1h-2.6zM156.9 111.7h3.0v3.6h-3.0zM234.7 207.5h2.6v2.1h-2.6zM145.5 184.4h2.2v2.6h-2.2zM187.5 208.1h2.6v2.6h-2.6zM152.4 116.7h2.6v2.1h-2.6zM155.9 184.5h2.2v2.6h-2.2zM102.5 110.7h2.2v1.8h-2.2zM221.5 217.1h2.6v2.6h-2.6zM184.8 78.8h2.2v2.6h-2.2zM180.6 124.9h2.2v2.6h-2.2zM86.4 102.9h1.8v1.8h-1.8zM11.5 84.0h3.0v2.4h-3.0zM96.6 55.3h1.8v1.4h-1.8zM102.0 112.9h2.6v3.1h-2.6zM128.9 237.7h1.8v1.4h-1.8zM42.6 235.2h2.2v1.8h-2.2zM131.3 64.2h2.6v2.6h-2.6zM183.1 154.0h1.8v1.8h-1.8zM13.6 232.5h2.2v2.2h-2.2zM56.6 205.6h1.8v1.4h-1.8zM3.0 16.4h3.0v3.6h-3.0zM208.7 220.6h1.8v1.8h-1.8zM94.7 211.3h1.8v1.4h-1.8zM168.9 106.3h3.0v2.4h-3.0zM107.7 74.5h1.8v1.8h-1.8zM112.7 209.5h3.0v3.6h-3.0zM50.0 70.4h1.8v2.2h-1.8zM139.8 173.0h3.0v2.4h-3.0zM200.6 81.4h2.6v2.1h-2.6zM146.2 51.9h2.6v2.1h-2.6zM178.4 102.8h1.8v1.4h-1.8zM200.0 92.6h2.6v3.1h-2.6zM86.5 113.4h3.0v3.6h-3.0zM227.8 77.3h3.0v3.6h-3.0zM116.0 215.8h2.2v1.8h-2.2zM144.4 109.2h3.0v3.6h-3.0zM4.4 68.5h1.8v1.4h-1.8zM90.2 64.5h1.8v2.2h-1.8zM5.1 216.9h1.8v2.2h-1.8zM120.3 84.9h2.2v2.6h-2.2zM147.7 34.9h3.0v3.0h-3.0zM41.1 42.6h2.2v2.2h-2.2zM114.0 13.1h1.8v2.2h-1.8zM177.9 182.5h1.8v1.4h-1.8zM159.1 165.4h1.8v1.8h-1.8zM85.4 58.6h2.6v2.6h-2.6zM2.6 86.2h2.2v2.2h-2.2zM120.0 111.1h2.2v2.2h-2.2zM108.5 123.9h3.0v3.6h-3.0zM131.7 209.7h2.2v1.8h-2.2zM25.3 126.9h3.0v3.6h-3.0zM132.5 8.3h2.6v2.1h-2.6zM170.6 178.7h3.0v3.6h-3.0zM182.0 140.6h2.2v1.8h-2.2zM110.4 214.5h3.0v2.4h-3.0zM79.1 228.2h1.8v2.2h-1.8zM151.2 176.1h2.6v2.6h-2.6zM215.3 176.5h1.8v2.2h-1.8zM209.9 156.1h2.2v2.2h-2.2zM159.7 149.2h2.6v2.6h-2.6zM0.7 97.2h3.0v2.4h-3.0zM89.2 38.1h1.8v1.8h-1.8zM10.2 201.5h1.8v2.2h-1.8zM103.9 16.6h2.2v1.8h-2.2zM39.5 127.2h3.0v2.4h-3.0zM112.8 8.5h1.8v1.4h-1.8zM192.6 222.8h3.0v3.0h-3.0zM191.0 209.9h1.8v2.2h-1.8zM8.8 67.1h2.2v1.8h-2.2zM85.9 143.9h2.6v2.1h-2.6zM200.4 155.9h2.2v2.2h-2.2zM149.9 65.9h3.0v2.4h-3.0zM43.9 120.1h2.2v2.6h-2.2zM202.8 46.5h2.6v3.1h-2.6zM65.1 236.2h1.8v1.4h-1.8zM172.4 204.0h3.0v3.0h-3.0zM75.3 94.1h3.0v3.6h-3.0zM161.3 60.3h3.0v3.0h-3.0zM224.8 12.7h1.8v1.8h-1.8zM126.6 29.7h2.6v2.1h-2.6zM88.5 154.5h3.0v3.6h-3.0zM105.6 67.5h3.0v2.4h-3.0zM1.6 113.0h3.0v3.6h-3.0zM217.4 36.5h1.8v2.2h-1.8zM30.6 144.2h1.8v2.2h-1.8zM68.6 108.0h3.0v3.0h-3.0zM93.7 219.3h3.0v3.6h-3.0zM94.9 18.0h2.2v2.2h-2.2zM34.8 100.3h2.2v1.8h-2.2zM105.7 69.6h3.0v2.4h-3.0zM30.7 31.6h1.8v2.2h-1.8zM161.0 50.2h2.2v2.6h-2.2zM217.7 41.7h2.6v2.6h-2.6zM219.0 48.9h1.8v1.8h-1.8zM220.7 226.0h2.2v2.2h-2.2zM56.3 201.0h2.6v2.1h-2.6zM177.5 180.7h3.0v3.6h-3.0zM41.2 232.2h2.2v1.8h-2.2zM20.6 120.0h3.0v3.0h-3.0zM55.7 233.4h2.6v2.1h-2.6zM154.3 83.4h2.6v3.1h-2.6zM161.3 200.9h1.8v1.8h-1.8zM141.0 151.2h2.2v2.6h-2.2zM126.4 149.7h2.6v2.6h-2.6zM53.2 209.0h3.0v2.4h-3.0zM174.0 6.2h2.6v2.6h-2.6zM143.7 2.6h3.0v3.6h-3.0zM116.1 75.2h3.0v3.0h-3.0zM83.9 231.7h1.8v1.4h-1.8zM7.6 30.8h1.8v1.4h-1.8zM82.5 154.1h2.2v2.2h-2.2zM77.8 155.6h3.0v2.4h-3.0zM46.4 126.5h3.0v2.4h-3.0zM229.7 50.1h3.0v3.6h-3.0zM37.1 196.6h2.2v2.6h-2.2zM180.4 194.7h2.2v2.6h-2.2zM112.7 29.5h1.8v1.4h-1.8zM67.3 201.7h2.6v2.6h-2.6zM120.4 226.6h2.2v1.8h-2.2zM9.9 91.6h1.8v2.2h-1.8zM13.1 163.3h3.0v3.0h-3.0zM107.5 84.0h1.8v1.8h-1.8zM223.1 14.3h2.6v3.1h-2.6zM224.1 40.0h2.2v1.8h-2.2zM28.1 71.4h1.8v2.2h-1.8zM162.4 47.8h1.8v1.4h-1.8zM97.8 95.6h2.6v2.6h-2.6zM63.9 68.9h2.6v2.6h-2.6zM3.0 160.4h3.0v3.0h-3.0zM3.7 209.3h1.8v1.8h-1.8zM127.6 37.9h1.8v1.8h-1.8zM187.5 132.2h1.8v1.8h-1.8zM91.7 63.5h2.2v2.6h-2.2zM71.2 228.3h1.8v2.2h-1.8zM0.7 52.8h3.0v3.6h-3.0zM109.8 221.6h1.8v1.4h-1.8zM91.3 122.2h3.0v2.4h-3.0zM142.0 224.0h2.2v2.6h-2.2zM57.7 109.0h3.0v3.6h-3.0zM167.8 156.1h2.6v3.1h-2.6zM130.5 105.4h3.0v2.4h-3.0zM178.2 182.6h2.6v3.1h-2.6zM143.6 166.6h2.2v1.8h-2.2zM229.5 226.3h3.0v3.6h-3.0zM213.5 236.1h2.2v2.6h-2.2zM172.6 191.1h2.2v1.8h-2.2zM107.3 161.9h1.8v1.4h-1.8zM52.2 98.5h2.2v2.6h-2.2zM192.2 159.4h2.2v2.6h-2.2zM185.4 142.9h2.2v2.6h-2.2zM86.8 13.9h2.6v3.1h-2.6zM236.8 109.6h3.0v3.6h-3.0zM1.7 77.0h1.8v2.2h-1.8zM93.8 64.7h1.8v2.2h-1.8zM233.6 45.8h2.6v2.1h-2.6zM76.9 124.3h2.6v2.6h-2.6zM116.2 124.4h2.6v2.1h-2.6zM22.2 197.8h2.2v2.6h-2.2zM25.0 103.9h2.2v2.2h-2.2zM231.4 121.1h1.8v1.8h-1.8zM91.3 15.7h1.8v1.8h-1.8zM21.8 39.8h3.0v3.0h-3.0zM202.3 232.6h2.2v2.6h-2.2zM143.1 192.9h1.8v2.2h-1.8zM226.7 29.4h1.8v1.4h-1.8zM117.9 106.4h1.8v2.2h-1.8zM125.3 220.4h1.8v1.8h-1.8zM172.1 166.9h2.2v2.2h-2.2zM92.5 237.4h2.2v1.8h-2.2zM138.4 98.0h2.6v2.6h-2.6zM84.3 147.3h1.8v1.4h-1.8zM167.5 54.6h2.2v1.8h-2.2zM69.9 119.4h1.8v1.4h-1.8zM128.9 11.3h2.2v1.8h-2.2zM207.0 10.1h2.2v2.6h-2.2zM203.7 53.0h2.6v2.1h-2.6zM29.0 22.8h2.6v2.6h-2.6zM196.4 57.4h2.6v2.1h-2.6zM72.0 33.4h1.8v2.2h-1.8zM104.4 31.4h3.0v3.0h-3.0zM180.7 210.2h2.6v3.1h-2.6zM131.4 235.4h2.2v2.6h-2.2zM135.6 14.7h1.8v1.8h-1.8zM148.2 196.0h3.0v3.6h-3.0zM31.9 197.0h1.8v1.8h-1.8zM131.8 37.2h1.8v1.4h-1.8zM201.8 121.6h2.2v1.8h-2.2zM154.3 83.0h2.2v1.8h-2.2zM146.5 217.2h2.6v3.1h-2.6zM228.0 138.3h1.8v1.8h-1.8zM175.2 183.6h2.2v1.8h-2.2zM15.0 44.7h2.2v2.2h-2.2zM187.8 141.7h1.8v2.2h-1.8zM104.5 211.2h1.8v2.2h-1.8zM94.2 220.8h2.2v2.6h-2.2zM19.5 53.5h2.2v1.8h-2.2zM45.4 18.1h2.2v2.6h-2.2zM153.2 142.6h3.0v3.0h-3.0zM146.0 69.7h2.2v2.2h-2.2zM175.0 139.1h2.6v3.1h-2.6zM180.0 48.9h2.6v2.6h-2.6zM117.3 212.3h2.2v2.2h-2.2zM228.0 234.0h2.6v3.1h-2.6zM140.9 170.9h2.2v2.2h-2.2zM114.2 173.0h2.2v2.2h-2.2zM-0.1 134.1h2.6v2.1h-2.6zM228.1 142.3h2.6v3.1h-2.6zM122.5 140.1h2.2v2.2h-2.2zM81.7 117.2h2.2v1.8h-2.2zM104.0 100.0h2.6v2.6h-2.6zM147.6 162.1h2.6v2.6h-2.6zM60.1 169.6h3.0v3.6h-3.0zM237.3 144.4h2.6v2.6h-2.6zM207.8 103.9h3.0v3.6h-3.0zM33.6 217.8h2.2v1.8h-2.2zM11.7 194.9h1.8v1.4h-1.8zM221.4 24.2h1.8v1.4h-1.8zM77.5 162.8h2.6v2.6h-2.6zM116.8 230.8h2.2v2.6h-2.2zM24.6 7.2h2.2v2.2h-2.2zM114.9 46.9h3.0v3.0h-3.0zM54.7 12.9h2.2v1.8h-2.2zM44.0 120.0h1.8v1.4h-1.8zM1.6 221.9h1.8v1.8h-1.8zM106.1 34.2h2.2v2.2h-2.2zM120.8 43.2h2.6v2.6h-2.6zM183.5 116.8h2.6v2.1h-2.6zM96.2 183.8h3.0v3.0h-3.0zM184.5 0.6h2.6v3.1h-2.6zM198.0 108.7h2.6v2.6h-2.6zM3.2 75.4h3.0v3.6h-3.0zM170.4 116.7h2.6v2.6h-2.6zM136.6 215.3h2.2v1.8h-2.2zM178.9 31.7h2.6v2.6h-2.6zM173.7 182.0h2.2v1.8h-2.2zM130.6 111.1h2.2v1.8h-2.2zM15.3 44.0h3.0v3.0h-3.0zM99.1 151.2h3.0v3.0h-3.0zM109.7 197.5h2.2v1.8h-2.2zM197.7 183.8h2.2v2.6h-2.2zM74.3 106.2h1.8v2.2h-1.8zM193.2 172.6h3.0v3.6h-3.0zM106.2 154.9h2.2v2.2h-2.2zM99.3 132.3h3.0v3.0h-3.0zM66.5 192.8h3.0v3.6h-3.0zM156.1 36.1h2.6v3.1h-2.6z" fill="#1a2688"/>
<path d="M107.6 133.0h3.0v3.0h-3.0zM210.1 142.5h3.0v3.0h-3.0zM65.8 237.7h1.8v2.2h-1.8zM91.8 228.3h1.8v1.4h-1.8zM121.1 234.8h2.2v2.2h-2.2zM63.8 231.3h2.6v2.1h-2.6zM49.6 93.3h1.8v1.4h-1.8zM200.2 19.0h1.8v1.8h-1.8zM151.2 191.3h2.2v1.8h-2.2zM31.3 82.9h1.8v2.2h-1.8zM14.4 233.6h2.2v1.8h-2.2zM16.9 6.5h1.8v2.2h-1.8zM135.5 209.4h2.6v2.6h-2.6zM116.0 5.8h1.8v1.8h-1.8zM137.9 163.9h2.2v2.2h-2.2zM47.2 162.3h2.6v2.1h-2.6zM114.7 4.8h3.0v2.4h-3.0zM191.4 167.6h3.0v3.6h-3.0zM217.7 177.1h2.2v2.2h-2.2zM17.3 142.0h1.8v1.8h-1.8zM9.3 36.5h3.0v2.4h-3.0zM217.3 33.5h2.2v2.6h-2.2zM81.5 177.2h1.8v1.4h-1.8zM106.4 195.7h2.2v2.2h-2.2zM100.8 60.8h2.2v2.2h-2.2zM20.5 107.7h2.6v2.1h-2.6zM182.7 123.8h3.0v3.0h-3.0zM3.1 114.1h1.8v1.8h-1.8zM213.7 95.3h2.6v3.1h-2.6zM233.2 189.2h2.6v2.1h-2.6zM109.8 230.4h1.8v2.2h-1.8zM69.4 26.1h1.8v2.2h-1.8zM178.9 227.3h3.0v3.6h-3.0zM184.1 80.8h3.0v3.6h-3.0zM167.0 234.0h2.2v2.6h-2.2zM121.2 187.7h1.8v2.2h-1.8zM115.6 237.0h3.0v3.0h-3.0zM210.0 79.1h3.0v3.0h-3.0zM175.2 5.9h2.2v1.8h-2.2zM123.0 120.0h2.2v2.6h-2.2zM135.5 129.0h2.2v2.6h-2.2zM176.2 185.8h3.0v2.4h-3.0zM37.4 164.3h3.0v2.4h-3.0zM81.4 165.2h2.2v2.2h-2.2zM200.3 106.7h3.0v3.0h-3.0zM145.7 32.6h1.8v2.2h-1.8zM150.3 134.4h2.6v3.1h-2.6zM182.7 17.9h2.6v2.6h-2.6zM78.9 163.9h2.6v2.6h-2.6zM38.0 206.3h3.0v2.4h-3.0zM79.1 180.7h2.2v2.6h-2.2zM216.1 198.3h3.0v2.4h-3.0zM88.6 73.0h2.6v2.1h-2.6zM93.0 146.8h2.2v2.6h-2.2zM11.3 14.4h2.6v3.1h-2.6zM224.3 205.9h3.0v3.6h-3.0zM21.7 226.5h2.2v1.8h-2.2zM210.3 75.8h1.8v2.2h-1.8zM186.3 211.4h2.6v2.1h-2.6zM42.6 92.0h3.0v3.0h-3.0zM195.0 166.5h2.6v3.1h-2.6zM171.3 207.3h3.0v2.4h-3.0zM97.8 30.6h2.6v2.6h-2.6zM100.0 80.7h1.8v2.2h-1.8zM193.7 173.9h1.8v1.8h-1.8zM111.5 2.8h2.6v2.1h-2.6zM196.3 53.8h1.8v2.2h-1.8zM50.2 140.1h3.0v3.6h-3.0zM75.2 195.1h2.6v3.1h-2.6zM186.5 104.4h2.2v2.2h-2.2zM180.7 161.1h1.8v1.8h-1.8zM164.5 91.8h3.0v2.4h-3.0zM130.9 203.6h2.6v2.1h-2.6zM140.3 109.6h2.2v2.2h-2.2zM115.8 54.4h1.8v2.2h-1.8zM227.2 182.0h2.6v2.1h-2.6zM76.9 25.1h2.6v3.1h-2.6zM37.4 204.7h2.2v2.6h-2.2zM236.3 73.0h2.2v1.8h-2.2zM128.6 17.8h2.2v2.2h-2.2zM84.6 217.0h3.0v2.4h-3.0zM32.3 31.6h2.6v2.1h-2.6zM27.8 64.3h1.8v1.4h-1.8zM17.4 73.0h2.2v1.8h-2.2zM55.3 197.4h1.8v1.8h-1.8zM219.1 162.9h2.6v2.6h-2.6zM191.3 41.2h3.0v3.0h-3.0zM170.4 9.6h1.8v2.2h-1.8zM173.4 13.0h3.0v3.0h-3.0zM4.5 37.5h2.2v1.8h-2.2zM110.6 146.2h2.2v2.2h-2.2zM24.3 227.2h3.0v3.6h-3.0zM72.0 51.9h3.0v3.6h-3.0zM214.5 232.6h3.0v3.6h-3.0zM36.7 5.0h2.6v3.1h-2.6zM121.2 4.1h2.6v3.1h-2.6zM74.3 104.7h2.6v3.1h-2.6zM76.8 141.0h3.0v3.6h-3.0zM127.0 91.5h1.8v1.8h-1.8zM121.8 73.6h3.0v3.6h-3.0zM171.3 57.4h3.0v3.0h-3.0zM126.6 26.0h2.2v2.2h-2.2zM223.6 155.1h2.6v3.1h-2.6zM43.2 44.0h2.2v1.8h-2.2zM12.7 7.2h2.2v1.8h-2.2zM0.6 162.7h2.6v2.6h-2.6zM165.8 90.2h1.8v2.2h-1.8zM119.1 118.6h2.2v2.2h-2.2zM44.5 110.9h3.0v3.6h-3.0zM63.3 158.8h1.8v1.8h-1.8zM102.5 219.0h3.0v2.4h-3.0zM163.5 35.4h2.2v1.8h-2.2zM78.8 95.1h2.2v1.8h-2.2zM13.5 98.7h1.8v2.2h-1.8zM40.1 122.7h2.2v2.6h-2.2zM22.0 39.6h3.0v3.0h-3.0zM91.3 135.1h2.2v2.2h-2.2zM191.1 222.2h2.6v2.6h-2.6zM123.6 207.5h3.0v2.4h-3.0zM195.3 177.4h2.2v2.2h-2.2zM185.9 78.4h2.6v2.6h-2.6zM229.4 5.5h2.6v2.6h-2.6zM70.0 217.4h3.0v3.0h-3.0zM225.2 141.4h3.0v2.4h-3.0zM36.7 55.9h3.0v3.6h-3.0zM55.9 57.0h1.8v1.8h-1.8zM93.4 121.5h3.0v2.4h-3.0zM96.9 212.9h2.2v2.2h-2.2zM220.1 59.6h2.6v2.1h-2.6zM13.6 211.2h3.0v3.0h-3.0zM122.7 198.8h2.6v3.1h-2.6zM212.3 82.6h3.0v3.0h-3.0zM112.0 81.9h3.0v3.0h-3.0zM4.8 60.2h2.2v2.6h-2.2zM207.2 162.1h3.0v2.4h-3.0zM199.4 197.4h2.2v2.2h-2.2zM81.9 12.5h3.0v3.0h-3.0zM120.1 189.4h1.8v2.2h-1.8zM46.9 102.3h2.2v2.6h-2.2zM2.8 5.9h3.0v2.4h-3.0zM144.6 68.3h2.2v2.2h-2.2zM27.2 31.5h2.6v3.1h-2.6zM237.3 115.4h2.6v3.1h-2.6zM202.3 63.3h1.8v1.8h-1.8zM147.8 112.3h2.2v1.8h-2.2zM171.2 46.5h3.0v3.6h-3.0zM0.9 87.8h3.0v3.0h-3.0zM15.4 199.4h3.0v2.4h-3.0zM163.1 100.7h2.6v3.1h-2.6z" fill="#2c40e0"/>
<path d="M160 194h2.6v2.6h-2.6zM197 44h2.6v2.6h-2.6zM120 24h2.6v2.6h-2.6zM91 118h2.6v2.6h-2.6zM193 69h2.6v2.6h-2.6zM158 35h2.6v2.6h-2.6zM62 16h2.6v2.6h-2.6zM138 139h2.6v2.6h-2.6zM169 100h2.6v2.6h-2.6zM221 171h2.6v2.6h-2.6z" fill="#38d060"/>
</g></g>
<rect x="149.4" y="147.9" width="68.8" height="68.4" fill="none" stroke="#fff" stroke-width="2.5" stroke-dasharray="4.1 2.9"/>
<line x1="63.8" y1="300.5" x2="212.2" y2="300.5" stroke="#fff" stroke-width="3.1" />
<text font-size="19.8" text-anchor="middle" fill="#fff" stroke="#fff" stroke-width="0.32" transform="translate(136.0 291.4)">500µm</text>
<rect x="301.4" y="77.8" width="239.5" height="238.1" fill="#fff" stroke="#000" stroke-width="2.7" />
<circle cx="410.2" cy="160.0" r="0.8" fill="#111"/>
<circle cx="439.6" cy="162.0" r="0.8" fill="#111"/>
<clipPath id="c2"><rect x="0" y="0" width="241.0" height="240.7"/></clipPath>
<g transform="translate(547.0 75.0)" clip-path="url(#c2)">
<rect width="241.0" height="240.7" fill="#000003"/>
<g filter="url(#bl2)">
<path d="M19.8 191.0a3.1 2.0 180 1 0 -6.1 0.0a3.1 2.0 180 1 0 6.1 -0.0zM207.8 147.1a3.3 2.5 21 1 0 6.1 2.3a3.3 2.5 21 1 0 -6.1 -2.3zM80.7 114.9a2.7 2.9 42 1 0 3.9 3.6a2.7 2.9 42 1 0 -3.9 -3.6zM180.0 28.5a4.3 2.2 166 1 0 -8.3 2.0a4.3 2.2 166 1 0 8.3 -2.0zM199.9 185.8a4.0 2.7 162 1 0 -7.6 2.5a4.0 2.7 162 1 0 7.6 -2.5zM237.3 176.4a3.1 3.0 95 1 0 -0.5 6.2a3.1 3.0 95 1 0 0.5 -6.2zM76.5 125.1a4.2 2.0 123 1 0 -4.6 7.0a4.2 2.0 123 1 0 4.6 -7.0zM77.9 166.3a3.7 2.0 147 1 0 -6.2 4.1a3.7 2.0 147 1 0 6.2 -4.1zM167.5 57.3a3.4 2.6 148 1 0 -5.8 3.5a3.4 2.6 148 1 0 5.8 -3.5zM151.5 160.8a4.5 2.3 46 1 0 6.3 6.5a4.5 2.3 46 1 0 -6.3 -6.5zM35.6 160.4a3.8 2.3 68 1 0 2.8 7.1a3.8 2.3 68 1 0 -2.8 -7.1zM226.6 211.5a3.8 2.1 162 1 0 -7.2 2.3a3.8 2.1 162 1 0 7.2 -2.3zM194.1 78.3a3.3 2.3 113 1 0 -2.6 6.1a3.3 2.3 113 1 0 2.6 -6.1zM124.8 149.2a4.0 2.5 29 1 0 7.1 3.9a4.0 2.5 29 1 0 -7.1 -3.9zM133.1 107.9a4.3 2.6 144 1 0 -7.0 5.0a4.3 2.6 144 1 0 7.0 -5.0zM122.7 107.9a3.9 2.6 125 1 0 -4.4 6.4a3.9 2.6 125 1 0 4.4 -6.4zM201.4 212.9a3.2 2.6 26 1 0 5.8 2.9a3.2 2.6 26 1 0 -5.8 -2.9zM126.5 35.8a4.0 2.7 70 1 0 2.7 7.4a4.0 2.7 70 1 0 -2.7 -7.4zM73.0 23.8a3.5 2.2 67 1 0 2.7 6.4a3.5 2.2 67 1 0 -2.7 -6.4zM42.6 218.0a3.0 2.0 39 1 0 4.7 3.7a3.0 2.0 39 1 0 -4.7 -3.7zM216.9 200.3a4.0 2.8 122 1 0 -4.2 6.8a4.0 2.8 122 1 0 4.2 -6.8zM68.8 61.9a3.8 2.7 142 1 0 -6.1 4.7a3.8 2.7 142 1 0 6.1 -4.7zM205.8 28.4a4.5 2.3 114 1 0 -3.6 8.3a4.5 2.3 114 1 0 3.6 -8.3zM9.5 191.6a3.8 2.5 153 1 0 -6.7 3.4a3.8 2.5 153 1 0 6.7 -3.4zM105.5 134.4a3.8 2.4 79 1 0 1.4 7.5a3.8 2.4 79 1 0 -1.4 -7.5zM152.9 219.4a4.0 3.0 95 1 0 -0.7 7.9a4.0 3.0 95 1 0 0.7 -7.9zM173.5 157.7a4.6 2.9 87 1 0 0.5 9.1a4.6 2.9 87 1 0 -0.5 -9.1zM131.5 188.9a2.8 2.7 72 1 0 1.7 5.2a2.8 2.7 72 1 0 -1.7 -5.2zM176.8 8.6a3.8 2.7 102 1 0 -1.6 7.5a3.8 2.7 102 1 0 1.6 -7.5zM171.4 29.6a2.9 2.0 47 1 0 4.0 4.3a2.9 2.0 47 1 0 -4.0 -4.3zM38.3 209.6a2.7 2.5 170 1 0 -5.3 0.9a2.7 2.5 170 1 0 5.3 -0.9zM109.5 167.0a4.3 2.5 176 1 0 -8.5 0.7a4.3 2.5 176 1 0 8.5 -0.7zM142.2 4.1a2.6 2.3 21 1 0 4.8 1.8a2.6 2.3 21 1 0 -4.8 -1.8zM61.9 131.4a3.2 2.6 78 1 0 1.3 6.3a3.2 2.6 78 1 0 -1.3 -6.3zM25.1 205.5a3.6 2.8 158 1 0 -6.6 2.7a3.6 2.8 158 1 0 6.6 -2.7zM92.0 202.4a3.7 2.4 156 1 0 -6.8 3.0a3.7 2.4 156 1 0 6.8 -3.0zM59.5 228.8a3.3 2.4 166 1 0 -6.5 1.6a3.3 2.4 166 1 0 6.5 -1.6zM-1.7 238.7a2.7 2.5 18 1 0 5.1 1.6a2.7 2.5 18 1 0 -5.1 -1.6zM150.2 104.9a3.9 3.0 171 1 0 -7.6 1.2a3.9 3.0 171 1 0 7.6 -1.2zM199.2 104.2a3.3 2.2 90 1 0 -0.0 6.6a3.3 2.2 90 1 0 0.0 -6.6zM110.1 67.4a2.7 2.0 23 1 0 5.0 2.1a2.7 2.0 23 1 0 -5.0 -2.1zM11.8 172.2a3.8 2.3 177 1 0 -7.6 0.5a3.8 2.3 177 1 0 7.6 -0.5zM155.1 55.6a4.6 2.1 175 1 0 -9.2 0.8a4.6 2.1 175 1 0 9.2 -0.8zM111.3 16.3a4.6 2.0 136 1 0 -6.5 6.4a4.6 2.0 136 1 0 6.5 -6.4zM125.3 53.2a2.6 2.8 51 1 0 3.3 4.0a2.6 2.8 51 1 0 -3.3 -4.0zM85.5 143.6a4.3 2.5 156 1 0 -7.8 3.5a4.3 2.5 156 1 0 7.8 -3.5zM223.3 182.7a3.2 2.5 111 1 0 -2.3 5.9a3.2 2.5 111 1 0 2.3 -5.9zM6.9 210.8a4.6 2.5 109 1 0 -3.0 8.7a4.6 2.5 109 1 0 3.0 -8.7zM196.0 96.4a4.2 2.2 55 1 0 4.8 6.9a4.2 2.2 55 1 0 -4.8 -6.9zM131.7 207.1a4.2 2.1 80 1 0 1.4 8.2a4.2 2.1 80 1 0 -1.4 -8.2zM111.0 41.8a3.3 2.9 57 1 0 3.7 5.5a3.3 2.9 57 1 0 -3.7 -5.5zM212.6 188.1a3.8 2.7 22 1 0 7.1 2.9a3.8 2.7 22 1 0 -7.1 -2.9zM128.7 45.3a4.0 2.1 83 1 0 1.0 8.0a4.0 2.1 83 1 0 -1.0 -8.0zM141.4 26.0a4.1 2.2 125 1 0 -4.7 6.7a4.1 2.2 125 1 0 4.7 -6.7zM141.0 226.9a2.6 2.7 149 1 0 -4.5 2.6a2.6 2.7 149 1 0 4.5 -2.6zM116.4 13.0a2.7 2.9 145 1 0 -4.4 3.1a2.7 2.9 145 1 0 4.4 -3.1z" fill="#0a1278"/>
<path d="M115.5 47.7a4.2 2.5 91 1 0 -0.1 8.5a4.2 2.5 91 1 0 0.1 -8.5zM88.4 34.5a2.8 2.9 82 1 0 0.8 5.6a2.8 2.9 82 1 0 -0.8 -5.6zM97.5 84.7a3.4 3.0 70 1 0 2.4 6.3a3.4 3.0 70 1 0 -2.4 -6.3zM177.2 51.4a3.7 2.6 33 1 0 6.3 4.0a3.7 2.6 33 1 0 -6.3 -4.0zM80.3 221.9a3.8 2.3 19 1 0 7.2 2.4a3.8 2.3 19 1 0 -7.2 -2.4zM145.4 211.3a3.4 2.2 158 1 0 -6.2 2.5a3.4 2.2 158 1 0 6.2 -2.5zM115.7 198.5a3.1 2.3 76 1 0 1.6 6.0a3.1 2.3 76 1 0 -1.6 -6.0zM208.5 139.7a3.4 3.0 163 1 0 -6.5 2.0a3.4 3.0 163 1 0 6.5 -2.0zM26.1 21.2a3.5 2.1 156 1 0 -6.4 2.8a3.5 2.1 156 1 0 6.4 -2.8zM27.4 127.9a3.6 2.2 30 1 0 6.2 3.6a3.6 2.2 30 1 0 -6.2 -3.6zM189.2 187.9a3.5 2.0 138 1 0 -5.2 4.8a3.5 2.0 138 1 0 5.2 -4.8zM170.4 57.8a3.2 2.0 70 1 0 2.2 6.1a3.2 2.0 70 1 0 -2.2 -6.1zM213.5 69.9a3.7 3.0 18 1 0 7.1 2.3a3.7 3.0 18 1 0 -7.1 -2.3zM25.2 14.1a4.3 2.8 81 1 0 1.4 8.4a4.3 2.8 81 1 0 -1.4 -8.4zM3.7 151.7a3.6 2.4 72 1 0 2.2 6.9a3.6 2.4 72 1 0 -2.2 -6.9zM14.4 101.4a4.0 2.8 130 1 0 -5.2 6.2a4.0 2.8 130 1 0 5.2 -6.2zM53.2 91.7a3.9 3.0 15 1 0 7.5 2.1a3.9 3.0 15 1 0 -7.5 -2.1zM235.5 0.1a3.2 2.4 26 1 0 5.8 2.8a3.2 2.4 26 1 0 -5.8 -2.8zM175.3 108.5a4.6 2.7 37 1 0 7.3 5.5a4.6 2.7 37 1 0 -7.3 -5.5zM70.7 41.6a3.1 2.2 173 1 0 -6.2 0.8a3.1 2.2 173 1 0 6.2 -0.8zM1.8 118.0a3.8 2.7 43 1 0 5.6 5.3a3.8 2.7 43 1 0 -5.6 -5.3zM129.8 19.5a3.5 2.9 67 1 0 2.8 6.5a3.5 2.9 67 1 0 -2.8 -6.5zM190.0 195.4a2.7 2.2 73 1 0 1.6 5.1a2.7 2.2 73 1 0 -1.6 -5.1zM184.6 41.4a4.3 2.6 112 1 0 -3.1 7.9a4.3 2.6 112 1 0 3.1 -7.9zM14.5 13.3a4.0 2.2 49 1 0 5.3 6.0a4.0 2.2 49 1 0 -5.3 -6.0zM156.1 33.8a4.5 2.5 74 1 0 2.6 8.6a4.5 2.5 74 1 0 -2.6 -8.6zM171.2 125.7a4.3 2.2 7 1 0 8.5 1.1a4.3 2.2 7 1 0 -8.5 -1.1zM194.1 0.0a3.8 2.6 136 1 0 -5.5 5.3a3.8 2.6 136 1 0 5.5 -5.3zM43.3 224.0a4.4 2.2 180 1 0 -8.8 0.1a4.4 2.2 180 1 0 8.8 -0.1zM89.8 18.3a2.9 2.5 147 1 0 -4.9 3.2a2.9 2.5 147 1 0 4.9 -3.2zM33.5 3.2a3.8 2.0 120 1 0 -3.8 6.6a3.8 2.0 120 1 0 3.8 -6.6zM21.7 221.6a4.4 2.5 22 1 0 8.2 3.3a4.4 2.5 22 1 0 -8.2 -3.3zM181.0 153.2a3.5 2.4 88 1 0 0.2 6.9a3.5 2.4 88 1 0 -0.2 -6.9zM177.8 236.2a3.4 2.0 120 1 0 -3.3 5.9a3.4 2.0 120 1 0 3.3 -5.9zM141.5 238.4a3.0 2.7 146 1 0 -5.1 3.4a3.0 2.7 146 1 0 5.1 -3.4zM185.1 89.3a4.2 2.8 167 1 0 -8.2 1.9a4.2 2.8 167 1 0 8.2 -1.9zM63.8 161.2a3.0 2.2 90 1 0 0.0 6.1a3.0 2.2 90 1 0 -0.0 -6.1zM49.3 163.0a3.9 2.4 35 1 0 6.4 4.5a3.9 2.4 35 1 0 -6.4 -4.5zM15.2 165.1a2.8 2.9 118 1 0 -2.6 5.0a2.8 2.9 118 1 0 2.6 -5.0zM173.3 139.8a3.6 3.0 67 1 0 2.8 6.7a3.6 3.0 67 1 0 -2.8 -6.7zM152.7 83.9a4.1 2.6 82 1 0 1.1 8.2a4.1 2.6 82 1 0 -1.1 -8.2zM50.9 187.5a3.9 2.4 40 1 0 6.0 5.0a3.9 2.4 40 1 0 -6.0 -5.0zM139.0 18.4a2.9 2.8 59 1 0 3.0 5.0a2.9 2.8 59 1 0 -3.0 -5.0zM54.5 10.2a2.9 2.6 153 1 0 -5.1 2.7a2.9 2.6 153 1 0 5.1 -2.7zM24.2 126.6a3.4 2.8 37 1 0 5.5 4.1a3.4 2.8 37 1 0 -5.5 -4.1zM126.8 18.2a3.8 2.1 37 1 0 6.1 4.6a3.8 2.1 37 1 0 -6.1 -4.6zM5.7 70.0a4.5 2.3 141 1 0 -7.0 5.6a4.5 2.3 141 1 0 7.0 -5.6zM141.8 42.1a2.7 3.0 140 1 0 -4.2 3.5a2.7 3.0 140 1 0 4.2 -3.5zM15.2 66.9a3.3 2.8 136 1 0 -4.6 4.5a3.3 2.8 136 1 0 4.6 -4.5zM112.4 131.5a3.0 2.5 55 1 0 3.4 4.9a3.0 2.5 55 1 0 -3.4 -4.9zM83.8 157.7a3.9 2.4 133 1 0 -5.3 5.8a3.9 2.4 133 1 0 5.3 -5.8zM90.2 63.1a4.3 2.7 86 1 0 0.5 8.6a4.3 2.7 86 1 0 -0.5 -8.6zM119.3 164.4a4.6 2.7 78 1 0 2.0 8.9a4.6 2.7 78 1 0 -2.0 -8.9zM68.3 30.3a2.9 2.0 17 1 0 5.5 1.6a2.9 2.0 17 1 0 -5.5 -1.6zM25.9 119.5a3.5 2.7 74 1 0 1.9 6.7a3.5 2.7 74 1 0 -1.9 -6.7zM179.6 27.6a4.0 2.8 176 1 0 -8.0 0.5a4.0 2.8 176 1 0 8.0 -0.5zM65.6 185.7a3.3 2.2 62 1 0 3.1 5.8a3.3 2.2 62 1 0 -3.1 -5.8zM148.2 38.4a2.8 2.9 56 1 0 3.2 4.6a2.8 2.9 56 1 0 -3.2 -4.6zM62.3 77.3a3.5 2.9 179 1 0 -6.9 0.1a3.5 2.9 179 1 0 6.9 -0.1zM229.1 218.8a4.0 2.8 34 1 0 6.7 4.4a4.0 2.8 34 1 0 -6.7 -4.4zM21.1 167.6a4.5 2.2 99 1 0 -1.4 8.8a4.5 2.2 99 1 0 1.4 -8.8zM195.2 171.0a3.2 2.1 114 1 0 -2.7 5.9a3.2 2.1 114 1 0 2.7 -5.9zM38.8 95.8a3.1 2.3 97 1 0 -0.7 6.2a3.1 2.3 97 1 0 0.7 -6.2zM127.1 9.7a3.0 2.2 61 1 0 2.9 5.3a3.0 2.2 61 1 0 -2.9 -5.3zM199.4 154.9a4.2 2.7 57 1 0 4.6 7.0a4.2 2.7 57 1 0 -4.6 -7.0zM23.3 170.1a4.1 2.4 96 1 0 -0.9 8.2a4.1 2.4 96 1 0 0.9 -8.2zM152.1 23.3a4.6 2.2 97 1 0 -1.1 9.1a4.6 2.2 97 1 0 1.1 -9.1zM190.1 54.1a3.4 2.7 121 1 0 -3.6 5.9a3.4 2.7 121 1 0 3.6 -5.9zM164.3 102.0a3.2 2.4 35 1 0 5.2 3.7a3.2 2.4 35 1 0 -5.2 -3.7zM214.6 11.1a3.4 2.3 77 1 0 1.5 6.5a3.4 2.3 77 1 0 -1.5 -6.5zM166.0 228.5a3.0 2.3 143 1 0 -4.8 3.5a3.0 2.3 143 1 0 4.8 -3.5zM140.6 40.0a4.3 2.5 8 1 0 8.5 1.1a4.3 2.5 8 1 0 -8.5 -1.1zM79.2 160.5a3.6 2.2 20 1 0 6.8 2.5a3.6 2.2 20 1 0 -6.8 -2.5zM233.3 123.4a3.3 2.5 57 1 0 3.6 5.6a3.3 2.5 57 1 0 -3.6 -5.6zM96.3 152.0a4.2 2.7 48 1 0 5.7 6.2a4.2 2.7 48 1 0 -5.7 -6.2zM68.7 188.7a4.2 2.9 140 1 0 -6.4 5.4a4.2 2.9 140 1 0 6.4 -5.4zM179.3 64.7a4.6 2.1 49 1 0 5.9 6.9a4.6 2.1 49 1 0 -5.9 -6.9zM216.6 224.3a4.2 3.0 59 1 0 4.3 7.2a4.2 3.0 59 1 0 -4.3 -7.2zM59.6 186.1a3.7 2.9 36 1 0 6.0 4.4a3.7 2.9 36 1 0 -6.0 -4.4zM130.3 230.1a3.6 2.9 135 1 0 -5.1 5.0a3.6 2.9 135 1 0 5.1 -5.0zM229.7 116.9a3.0 2.3 37 1 0 4.9 3.7a3.0 2.3 37 1 0 -4.9 -3.7zM70.8 21.6a3.1 3.0 166 1 0 -6.1 1.5a3.1 3.0 166 1 0 6.1 -1.5zM199.6 55.7a3.4 2.3 67 1 0 2.6 6.2a3.4 2.3 67 1 0 -2.6 -6.2zM158.1 3.3a2.8 3.0 99 1 0 -0.9 5.6a2.8 3.0 99 1 0 0.9 -5.6zM222.0 137.0a3.9 2.0 134 1 0 -5.4 5.6a3.9 2.0 134 1 0 5.4 -5.6zM185.9 188.6a3.6 2.8 45 1 0 5.0 5.0a3.6 2.8 45 1 0 -5.0 -5.0zM149.2 203.0a4.0 2.2 28 1 0 7.0 3.7a4.0 2.2 28 1 0 -7.0 -3.7zM36.8 126.3a3.1 2.9 26 1 0 5.6 2.7a3.1 2.9 26 1 0 -5.6 -2.7zM78.9 207.7a3.3 2.4 172 1 0 -6.5 0.9a3.3 2.4 172 1 0 6.5 -0.9zM91.6 47.3a3.0 2.9 61 1 0 2.8 5.2a3.0 2.9 61 1 0 -2.8 -5.2zM210.1 60.5a3.9 2.6 73 1 0 2.2 7.5a3.9 2.6 73 1 0 -2.2 -7.5zM78.9 35.1a3.8 2.6 144 1 0 -6.2 4.5a3.8 2.6 144 1 0 6.2 -4.5zM161.3 104.9a4.3 2.5 78 1 0 1.7 8.4a4.3 2.5 78 1 0 -1.7 -8.4zM100.5 61.7a3.2 2.0 44 1 0 4.5 4.4a3.2 2.0 44 1 0 -4.5 -4.4zM158.8 14.0a4.1 2.3 32 1 0 7.0 4.3a4.1 2.3 32 1 0 -7.0 -4.3zM94.6 16.6a4.2 2.8 155 1 0 -7.7 3.6a4.2 2.8 155 1 0 7.7 -3.6zM43.5 172.4a3.0 2.7 166 1 0 -5.8 1.4a3.0 2.7 166 1 0 5.8 -1.4zM20.2 -0.1a4.4 2.5 110 1 0 -3.1 8.3a4.4 2.5 110 1 0 3.1 -8.3zM169.5 216.8a4.2 2.9 179 1 0 -8.4 0.2a4.2 2.9 179 1 0 8.4 -0.2zM237.5 186.7a2.9 2.3 71 1 0 1.9 5.6a2.9 2.3 71 1 0 -1.9 -5.6zM113.2 15.4a4.2 2.3 128 1 0 -5.2 6.7a4.2 2.3 128 1 0 5.2 -6.7zM157.2 192.0a3.5 2.1 63 1 0 3.2 6.2a3.5 2.1 63 1 0 -3.2 -6.2zM172.7 29.8a3.8 2.4 21 1 0 7.1 2.8a3.8 2.4 21 1 0 -7.1 -2.8zM133.8 32.1a3.3 2.4 51 1 0 4.2 5.2a3.3 2.4 51 1 0 -4.2 -5.2zM66.4 202.3a3.3 2.6 86 1 0 0.4 6.7a3.3 2.6 86 1 0 -0.4 -6.7zM115.9 11.7a3.5 2.8 77 1 0 1.5 6.8a3.5 2.8 77 1 0 -1.5 -6.8zM158.0 63.6a3.0 2.6 97 1 0 -0.7 5.9a3.0 2.6 97 1 0 0.7 -5.9zM195.8 70.1a3.0 2.7 126 1 0 -3.6 4.8a3.0 2.7 126 1 0 3.6 -4.8zM236.1 27.4a4.3 2.2 94 1 0 -0.6 8.6a4.3 2.2 94 1 0 0.6 -8.6zM237.2 104.9a3.0 2.9 147 1 0 -5.0 3.3a3.0 2.9 147 1 0 5.0 -3.3zM138.4 205.3a2.6 2.6 153 1 0 -4.7 2.4a2.6 2.6 153 1 0 4.7 -2.4zM141.2 181.7a3.3 2.6 69 1 0 2.4 6.2a3.3 2.6 69 1 0 -2.4 -6.2zM239.6 69.5a3.3 2.5 176 1 0 -6.5 0.4a3.3 2.5 176 1 0 6.5 -0.4zM55.1 215.7a4.0 2.7 0 1 0 7.9 0.0a4.0 2.7 0 1 0 -7.9 -0.0zM109.8 24.0a2.8 2.3 6 1 0 5.6 0.6a2.8 2.3 6 1 0 -5.6 -0.6zM23.8 57.6a3.0 2.1 128 1 0 -3.8 4.8a3.0 2.1 128 1 0 3.8 -4.8zM59.5 119.2a4.2 2.1 98 1 0 -1.2 8.3a4.2 2.1 98 1 0 1.2 -8.3zM26.2 142.9a2.8 2.5 54 1 0 3.3 4.5a2.8 2.5 54 1 0 -3.3 -4.5zM150.6 109.9a4.3 2.9 173 1 0 -8.6 1.1a4.3 2.9 173 1 0 8.6 -1.1zM179.4 47.6a2.8 2.3 28 1 0 4.9 2.6a2.8 2.3 28 1 0 -4.9 -2.6zM215.4 197.6a3.3 2.1 150 1 0 -5.7 3.3a3.3 2.1 150 1 0 5.7 -3.3zM40.9 2.5a4.6 2.1 45 1 0 6.5 6.6a4.6 2.1 45 1 0 -6.5 -6.6zM165.5 83.8a4.0 2.9 30 1 0 7.0 4.0a4.0 2.9 30 1 0 -7.0 -4.0zM100.3 223.0a2.9 2.6 137 1 0 -4.2 3.9a2.9 2.6 137 1 0 4.2 -3.9zM13.5 132.1a2.7 2.0 169 1 0 -5.4 1.1a2.7 2.0 169 1 0 5.4 -1.1zM115.2 194.3a3.4 2.8 102 1 0 -1.4 6.6a3.4 2.8 102 1 0 1.4 -6.6zM235.6 5.2a3.6 2.0 173 1 0 -7.2 0.9a3.6 2.0 173 1 0 7.2 -0.9zM230.4 196.8a2.8 2.6 24 1 0 5.0 2.3a2.8 2.6 24 1 0 -5.0 -2.3zM138.0 226.5a4.3 3.0 169 1 0 -8.4 1.6a4.3 3.0 169 1 0 8.4 -1.6zM26.7 23.2a3.8 2.4 152 1 0 -6.6 3.6a3.8 2.4 152 1 0 6.6 -3.6zM7.6 61.1a4.1 2.2 129 1 0 -5.2 6.4a4.1 2.2 129 1 0 5.2 -6.4zM236.4 41.2a4.2 2.4 32 1 0 7.2 4.4a4.2 2.4 32 1 0 -7.2 -4.4zM194.0 106.3a2.9 2.4 151 1 0 -5.0 2.7a2.9 2.4 151 1 0 5.0 -2.7zM233.6 84.1a4.2 2.9 152 1 0 -7.4 3.9a4.2 2.9 152 1 0 7.4 -3.9zM106.5 27.6a4.3 2.2 57 1 0 4.7 7.1a4.3 2.2 57 1 0 -4.7 -7.1zM158.1 220.1a3.5 2.7 13 1 0 6.8 1.6a3.5 2.7 13 1 0 -6.8 -1.6zM152.5 2.7a4.2 2.1 115 1 0 -3.5 7.6a4.2 2.1 115 1 0 3.5 -7.6zM94.6 206.4a4.4 2.8 100 1 0 -1.5 8.7a4.4 2.8 100 1 0 1.5 -8.7zM82.9 227.0a3.8 2.2 132 1 0 -5.1 5.7a3.8 2.2 132 1 0 5.1 -5.7zM218.6 142.1a4.2 2.6 170 1 0 -8.3 1.5a4.2 2.6 170 1 0 8.3 -1.5zM6.3 35.9a2.7 2.3 93 1 0 -0.3 5.4a2.7 2.3 93 1 0 0.3 -5.4zM45.4 17.2a4.3 2.4 127 1 0 -5.2 6.9a4.3 2.4 127 1 0 5.2 -6.9zM192.0 189.5a2.7 2.2 50 1 0 3.4 4.1a2.7 2.2 50 1 0 -3.4 -4.1zM147.3 119.8a2.9 2.7 179 1 0 -5.9 0.1a2.9 2.7 179 1 0 5.9 -0.1z" fill="#1422f0"/>
<circle cx="38.6" cy="54.5" r="3.2" fill="#20d8e8"/>
<circle cx="133.5" cy="59.5" r="3.0" fill="#20d8f0"/>
<circle cx="96.5" cy="88.5" r="2.4" fill="#20c8a0"/>
<circle cx="14.5" cy="32.5" r="1.8" fill="#20d040"/>
</g></g>
<polygon points="591.2,135.7 610.2,145.3 600.4,154.5" fill="#ffea00"/>
<polygon points="684.7,142.9 703.7,151.4 693.3,161.8" fill="#ffea00"/>
<line x1="551.4" y1="304.7" x2="650.0" y2="304.7" stroke="#fff" stroke-width="3.1" />
<text font-size="19.8" text-anchor="middle" fill="#fff" stroke="#fff" stroke-width="0.32" transform="translate(602.0 298.6)">100µm</text>
<clipPath id="c3"><rect x="0" y="0" width="241.2" height="241.9"/></clipPath>
<g transform="translate(51.8 367.2)" clip-path="url(#c3)">
<rect width="241.2" height="241.9" fill="#06200d"/>
<radialGradient id="g4"><stop offset="0" stop-color="#0c3416" stop-opacity="0.6"/><stop offset="1" stop-color="#0c3416" stop-opacity="0"/></radialGradient>
<circle cx="120" cy="40" r="50" fill="url(#g4)"/>
<radialGradient id="g5"><stop offset="0" stop-color="#04140c" stop-opacity="0.5"/><stop offset="1" stop-color="#04140c" stop-opacity="0"/></radialGradient>
<circle cx="60" cy="200" r="50" fill="url(#g5)"/>
<radialGradient id="g6"><stop offset="0" stop-color="#04160c" stop-opacity="0.4"/><stop offset="1" stop-color="#04160c" stop-opacity="0"/></radialGradient>
<circle cx="200" cy="120" r="40" fill="url(#g6)"/>
<g filter="url(#bl)">
<path d="M90.9 206.8h1.8v1.4h-1.8zM162.0 9.5h1.8v2.2h-1.8zM167.1 206.0h2.2v2.2h-2.2zM221.9 87.1h2.2v2.6h-2.2zM57.3 1.1h2.2v2.6h-2.2zM57.2 104.3h2.6v2.1h-2.6zM37.8 165.6h1.8v1.4h-1.8zM190.1 170.8h2.6v2.6h-2.6zM212.3 22.4h1.8v1.8h-1.8zM189.3 201.2h2.6v3.1h-2.6zM2.1 40.4h2.2v2.6h-2.2zM194.0 223.2h2.6v3.1h-2.6zM207.0 145.8h2.6v3.1h-2.6zM119.2 47.4h1.8v2.2h-1.8zM5.8 203.4h2.2v2.2h-2.2zM181.6 87.6h3.0v3.6h-3.0zM200.9 224.7h1.8v2.2h-1.8zM143.7 160.9h2.2v1.8h-2.2zM40.7 95.7h2.6v3.1h-2.6zM87.6 83.6h2.6v2.6h-2.6zM38.5 116.4h2.6v2.1h-2.6zM190.3 54.3h2.2v1.8h-2.2zM64.8 217.4h2.2v2.6h-2.2zM95.2 32.1h2.6v2.6h-2.6zM100.9 200.0h1.8v1.8h-1.8zM27.2 73.3h2.2v1.8h-2.2zM144.0 224.7h2.2v2.2h-2.2zM18.5 163.4h2.6v3.1h-2.6zM103.3 183.8h2.2v1.8h-2.2zM149.4 134.3h1.8v1.8h-1.8zM114.6 215.8h2.2v2.6h-2.2zM112.7 107.3h1.8v1.4h-1.8zM157.0 218.7h2.2v2.6h-2.2zM77.2 141.0h1.8v1.4h-1.8zM14.1 218.5h1.8v2.2h-1.8zM5.1 79.9h2.2v1.8h-2.2zM114.0 -0.0h3.0v2.4h-3.0zM183.6 92.5h1.8v1.4h-1.8zM131.9 231.8h1.8v1.4h-1.8zM4.0 80.4h2.6v2.1h-2.6zM206.2 69.1h2.2v1.8h-2.2zM190.0 128.5h2.6v2.1h-2.6zM40.5 104.1h1.8v1.4h-1.8zM220.4 5.8h1.8v2.2h-1.8zM113.8 31.0h1.8v1.8h-1.8zM163.6 222.6h1.8v2.2h-1.8zM157.5 167.1h1.8v2.2h-1.8zM158.6 125.5h1.8v1.4h-1.8zM183.4 127.9h1.8v1.4h-1.8zM103.3 104.8h3.0v3.0h-3.0zM9.4 83.6h3.0v2.4h-3.0zM133.5 165.0h2.6v2.1h-2.6zM150.1 129.8h2.2v2.2h-2.2zM8.0 97.1h2.6v2.6h-2.6zM150.4 212.0h1.8v2.2h-1.8zM180.4 15.1h2.2v2.6h-2.2zM100.0 74.4h1.8v1.8h-1.8zM104.5 132.6h2.2v2.2h-2.2zM210.1 2.1h2.6v2.6h-2.6zM97.2 20.0h3.0v3.6h-3.0zM231.2 60.9h2.2v2.6h-2.2zM19.6 106.9h3.0v3.0h-3.0zM129.7 213.2h3.0v3.0h-3.0zM96.7 81.7h2.2v1.8h-2.2zM144.9 88.6h1.8v1.8h-1.8zM59.7 91.1h3.0v3.0h-3.0zM199.2 178.4h2.6v3.1h-2.6zM120.2 183.4h2.6v3.1h-2.6zM178.5 79.0h2.2v2.2h-2.2zM16.7 91.4h1.8v1.8h-1.8zM194.7 21.9h2.6v3.1h-2.6zM176.0 74.5h2.2v2.6h-2.2zM218.3 52.1h2.6v2.1h-2.6zM99.5 126.6h1.8v2.2h-1.8zM123.6 200.4h1.8v1.4h-1.8zM76.5 81.5h3.0v2.4h-3.0zM219.6 196.8h2.2v2.6h-2.2zM114.8 166.4h2.2v2.6h-2.2zM227.6 73.7h1.8v1.4h-1.8zM25.8 165.2h1.8v1.4h-1.8zM94.0 30.5h1.8v1.8h-1.8zM6.0 224.0h2.6v2.1h-2.6zM25.3 71.7h2.6v3.1h-2.6zM73.9 64.6h2.6v2.6h-2.6zM122.7 107.1h2.6v2.1h-2.6zM159.3 155.8h3.0v2.4h-3.0zM176.0 224.1h3.0v2.4h-3.0zM119.3 164.4h3.0v2.4h-3.0zM54.1 196.3h2.6v2.1h-2.6zM83.5 195.2h1.8v1.8h-1.8zM128.4 196.3h1.8v1.8h-1.8zM105.2 6.5h2.2v2.6h-2.2zM7.0 202.5h2.2v2.2h-2.2zM201.0 133.8h1.8v2.2h-1.8zM34.5 133.8h1.8v2.2h-1.8zM92.9 215.7h3.0v3.6h-3.0zM69.4 141.6h2.6v3.1h-2.6zM125.7 36.8h2.2v1.8h-2.2zM138.9 1.2h1.8v1.8h-1.8zM212.1 235.2h2.6v2.1h-2.6zM48.5 163.5h1.8v1.8h-1.8zM59.6 40.1h3.0v3.0h-3.0zM68.2 200.8h2.6v3.1h-2.6zM219.4 58.8h3.0v3.0h-3.0zM133.7 165.9h2.2v2.6h-2.2zM197.6 221.2h3.0v2.4h-3.0zM87.6 160.8h2.2v2.6h-2.2zM96.7 213.8h2.2v2.2h-2.2zM177.3 175.6h2.6v2.1h-2.6zM112.3 13.1h2.2v2.6h-2.2zM154.0 100.4h3.0v3.0h-3.0zM196.5 21.8h2.2v2.6h-2.2zM26.7 120.9h3.0v3.6h-3.0zM231.0 104.5h2.2v1.8h-2.2zM195.5 58.9h2.2v2.2h-2.2zM79.6 33.7h3.0v3.0h-3.0zM187.2 23.9h2.2v2.2h-2.2zM160.3 222.5h1.8v1.4h-1.8zM92.8 152.0h1.8v1.8h-1.8zM237.8 137.1h1.8v1.4h-1.8zM137.4 216.6h1.8v2.2h-1.8zM113.9 200.6h2.2v1.8h-2.2zM69.7 202.3h1.8v1.8h-1.8zM6.0 79.8h1.8v1.4h-1.8zM238.0 47.6h1.8v2.2h-1.8zM48.5 189.9h2.2v2.2h-2.2zM89.1 135.7h1.8v1.4h-1.8zM40.3 221.4h2.6v2.6h-2.6zM132.8 127.8h2.2v2.6h-2.2zM160.9 61.5h2.6v2.6h-2.6zM187.4 141.2h3.0v3.0h-3.0zM14.9 85.3h1.8v1.4h-1.8zM199.6 226.4h2.2v2.6h-2.2zM171.5 59.0h2.6v2.1h-2.6zM214.9 239.3h2.6v2.1h-2.6zM134.5 54.0h1.8v1.8h-1.8zM27.1 66.5h1.8v2.2h-1.8zM239.8 178.1h2.6v2.1h-2.6zM118.1 46.3h1.8v1.4h-1.8zM212.5 76.6h1.8v1.8h-1.8zM78.2 138.7h2.2v1.8h-2.2zM170.0 21.3h1.8v1.4h-1.8zM68.7 232.5h2.6v2.1h-2.6zM28.4 208.5h2.6v2.1h-2.6zM136.8 170.7h3.0v3.6h-3.0zM107.6 30.3h2.2v1.8h-2.2zM146.1 222.3h2.6v3.1h-2.6zM117.7 47.3h3.0v2.4h-3.0zM237.6 93.6h2.2v1.8h-2.2zM210.4 77.5h1.8v1.8h-1.8zM103.1 158.0h1.8v2.2h-1.8zM31.2 152.0h2.2v2.2h-2.2zM68.2 103.0h3.0v3.6h-3.0zM193.1 38.2h2.6v2.6h-2.6zM140.2 238.3h2.6v2.6h-2.6zM200.4 47.9h1.8v2.2h-1.8zM85.2 15.6h3.0v3.6h-3.0zM205.9 89.4h3.0v3.0h-3.0zM15.5 12.9h2.6v3.1h-2.6zM7.5 108.4h3.0v2.4h-3.0zM237.5 8.3h2.2v2.6h-2.2zM171.0 137.5h2.2v1.8h-2.2zM208.5 83.7h3.0v2.4h-3.0zM239.7 202.9h3.0v3.0h-3.0zM10.1 186.5h3.0v3.0h-3.0zM225.6 89.4h3.0v3.6h-3.0zM159.8 146.9h1.8v2.2h-1.8zM204.3 191.9h2.2v2.6h-2.2zM68.8 70.9h2.6v2.1h-2.6zM36.1 145.8h2.6v2.6h-2.6zM78.7 109.1h2.2v2.2h-2.2zM207.7 157.3h2.6v3.1h-2.6zM190.0 86.8h1.8v2.2h-1.8zM227.4 162.1h3.0v3.0h-3.0zM229.4 219.1h3.0v2.4h-3.0zM50.5 58.6h2.6v2.1h-2.6zM52.4 51.6h2.6v2.6h-2.6zM164.3 122.4h3.0v3.6h-3.0zM190.7 131.3h2.6v3.1h-2.6zM204.4 34.5h1.8v2.2h-1.8zM3.6 84.3h2.2v2.6h-2.2zM95.7 199.6h2.6v2.1h-2.6zM163.7 220.3h3.0v3.0h-3.0zM154.1 173.2h2.6v2.1h-2.6zM228.6 237.1h2.2v1.8h-2.2zM182.1 216.8h2.6v2.6h-2.6zM18.7 131.8h2.6v2.1h-2.6zM86.4 55.5h3.0v3.0h-3.0zM44.2 182.8h2.6v3.1h-2.6zM44.6 205.0h2.6v2.6h-2.6zM181.7 118.9h2.2v1.8h-2.2zM177.3 122.2h2.2v1.8h-2.2zM49.6 38.7h2.6v2.1h-2.6zM25.9 90.7h2.6v3.1h-2.6zM145.6 15.2h2.2v2.6h-2.2zM13.2 121.6h2.2v2.6h-2.2zM29.1 182.1h3.0v2.4h-3.0zM50.9 215.6h3.0v3.6h-3.0zM168.5 15.5h2.2v1.8h-2.2zM176.2 180.4h3.0v3.0h-3.0zM125.3 66.2h3.0v3.0h-3.0zM65.7 110.9h3.0v2.4h-3.0zM98.2 240.7h3.0v2.4h-3.0zM123.8 166.4h1.8v1.4h-1.8zM91.0 158.0h2.2v1.8h-2.2zM114.0 226.0h3.0v2.4h-3.0zM225.6 202.5h1.8v2.2h-1.8zM23.7 154.9h3.0v2.4h-3.0zM116.5 120.3h2.2v2.6h-2.2zM159.3 131.1h1.8v2.2h-1.8zM171.1 209.1h2.2v2.6h-2.2zM71.6 120.8h2.6v2.1h-2.6zM213.2 190.2h2.6v2.1h-2.6zM2.1 95.0h2.6v2.6h-2.6zM114.3 137.9h3.0v3.6h-3.0zM206.7 22.6h1.8v2.2h-1.8zM157.5 228.8h1.8v1.8h-1.8zM155.7 174.0h1.8v1.4h-1.8zM208.8 197.7h2.6v2.6h-2.6zM35.5 15.9h2.6v2.6h-2.6zM107.5 104.2h2.2v2.6h-2.2zM154.6 181.2h2.2v1.8h-2.2zM154.5 87.4h1.8v2.2h-1.8zM94.8 111.8h3.0v3.0h-3.0zM170.8 188.8h2.6v3.1h-2.6zM2.3 95.1h2.6v3.1h-2.6zM110.0 106.2h2.6v3.1h-2.6zM201.1 189.8h2.2v2.6h-2.2zM107.2 150.0h3.0v2.4h-3.0zM36.5 37.7h2.2v1.8h-2.2zM165.7 120.6h1.8v1.4h-1.8zM136.9 208.5h1.8v1.8h-1.8zM187.5 185.6h2.2v1.8h-2.2zM50.4 157.9h2.2v1.8h-2.2zM79.5 82.8h2.2v2.6h-2.2zM218.9 10.7h1.8v2.2h-1.8zM32.1 12.8h2.2v2.2h-2.2zM73.0 107.8h3.0v3.6h-3.0zM144.8 1.5h3.0v3.6h-3.0zM50.4 193.7h2.6v3.1h-2.6zM92.4 2.4h3.0v3.0h-3.0zM53.3 234.0h3.0v3.6h-3.0zM101.3 89.7h3.0v3.6h-3.0zM235.5 134.4h2.2v2.6h-2.2zM78.8 187.6h3.0v2.4h-3.0zM188.0 119.0h3.0v3.6h-3.0zM86.1 222.9h1.8v2.2h-1.8zM141.6 25.5h3.0v2.4h-3.0zM236.4 101.1h3.0v3.0h-3.0zM168.8 227.5h2.2v2.6h-2.2zM87.2 157.2h2.2v2.2h-2.2zM17.2 206.7h2.2v2.2h-2.2zM121.5 217.9h2.6v2.6h-2.6zM97.2 65.8h3.0v3.6h-3.0zM192.6 108.9h3.0v2.4h-3.0zM90.3 73.2h2.2v1.8h-2.2zM235.9 226.7h1.8v1.8h-1.8zM189.5 48.6h3.0v2.4h-3.0z" fill="#2230c4"/>
<path d="M113.5 158.0h2.6v2.1h-2.6zM91.1 240.1h2.6v3.1h-2.6zM194.5 166.1h2.2v2.6h-2.2zM-0.6 150.0h2.6v2.1h-2.6zM80.9 49.9h2.2v1.8h-2.2zM122.9 197.2h3.0v2.4h-3.0zM3.5 13.7h2.2v1.8h-2.2zM237.7 101.5h1.8v2.2h-1.8zM101.1 31.7h2.2v2.6h-2.2zM212.6 133.3h1.8v1.8h-1.8zM145.5 160.6h3.0v3.6h-3.0zM91.8 6.4h1.8v1.4h-1.8zM234.5 159.5h2.6v3.1h-2.6zM92.0 74.0h2.2v2.2h-2.2zM52.2 17.9h1.8v1.8h-1.8zM65.7 82.3h1.8v2.2h-1.8zM109.8 49.5h3.0v3.0h-3.0zM27.0 86.3h2.2v1.8h-2.2zM222.7 212.3h2.6v3.1h-2.6zM27.5 188.7h3.0v3.0h-3.0zM150.2 62.5h2.2v2.2h-2.2zM69.3 210.2h2.6v3.1h-2.6zM67.7 60.7h1.8v2.2h-1.8zM5.6 134.0h3.0v2.4h-3.0zM99.7 141.3h2.2v2.6h-2.2zM133.3 236.1h3.0v3.6h-3.0zM215.5 219.3h2.2v2.2h-2.2zM224.3 165.7h3.0v3.6h-3.0zM146.4 50.3h3.0v3.6h-3.0zM58.3 97.4h1.8v2.2h-1.8zM79.2 165.1h2.6v2.6h-2.6zM166.8 182.8h3.0v3.0h-3.0zM41.4 49.6h3.0v3.0h-3.0zM42.3 160.4h3.0v2.4h-3.0zM87.4 204.3h3.0v3.0h-3.0zM52.2 221.3h2.6v2.1h-2.6zM119.8 93.1h2.2v2.2h-2.2zM128.8 183.2h3.0v3.6h-3.0zM11.6 24.7h2.6v2.6h-2.6zM151.6 40.2h2.2v2.6h-2.2zM31.4 118.6h2.6v2.6h-2.6zM97.5 150.8h3.0v3.6h-3.0zM76.4 29.4h1.8v2.2h-1.8zM145.8 188.7h3.0v3.6h-3.0zM213.1 209.1h2.6v3.1h-2.6zM179.7 206.9h2.6v2.1h-2.6zM29.5 94.0h2.6v2.6h-2.6zM83.0 55.0h1.8v1.4h-1.8zM164.3 148.0h1.8v2.2h-1.8zM54.0 223.0h2.2v2.2h-2.2zM181.5 101.5h2.6v2.1h-2.6zM93.3 157.7h1.8v2.2h-1.8zM224.1 86.6h1.8v1.8h-1.8zM28.7 104.5h3.0v3.0h-3.0zM46.0 150.1h2.6v2.1h-2.6zM54.6 92.2h2.2v2.6h-2.2zM159.7 105.5h2.6v2.6h-2.6zM99.9 23.8h3.0v2.4h-3.0zM86.5 36.7h2.6v2.6h-2.6zM80.0 89.6h3.0v2.4h-3.0zM79.2 158.1h1.8v2.2h-1.8zM46.3 153.4h2.2v2.6h-2.2zM43.2 178.9h3.0v2.4h-3.0zM225.0 93.8h3.0v3.0h-3.0zM125.9 174.7h2.6v2.6h-2.6zM161.1 69.1h2.2v2.6h-2.2zM200.8 100.8h2.2v2.2h-2.2zM187.0 132.5h3.0v3.0h-3.0zM206.5 219.0h2.6v2.1h-2.6zM61.9 128.1h1.8v1.8h-1.8zM71.7 238.7h2.6v2.6h-2.6zM19.5 131.2h3.0v3.6h-3.0zM1.0 121.0h2.2v1.8h-2.2zM79.9 16.6h2.6v2.6h-2.6zM231.0 166.5h1.8v2.2h-1.8zM144.4 31.4h2.2v1.8h-2.2zM131.2 216.1h2.2v2.2h-2.2zM3.7 34.0h3.0v3.6h-3.0zM77.7 39.6h1.8v1.8h-1.8zM223.7 84.9h1.8v2.2h-1.8zM117.2 99.4h1.8v2.2h-1.8zM72.0 209.9h1.8v1.8h-1.8zM20.1 230.9h2.2v2.6h-2.2zM102.9 197.2h2.6v2.6h-2.6zM187.0 104.8h2.6v2.6h-2.6zM11.4 231.1h3.0v2.4h-3.0zM217.2 128.1h2.6v2.1h-2.6zM203.0 163.0h2.2v2.6h-2.2zM155.8 50.6h1.8v1.8h-1.8zM112.3 222.3h1.8v1.8h-1.8zM138.2 19.4h2.2v2.6h-2.2zM112.8 205.1h2.2v1.8h-2.2zM219.3 206.4h2.2v1.8h-2.2zM123.6 142.8h2.6v2.6h-2.6zM18.1 38.4h1.8v1.8h-1.8zM143.8 108.0h2.2v1.8h-2.2zM151.0 184.9h2.2v2.6h-2.2zM127.6 96.5h2.2v1.8h-2.2zM18.3 63.3h2.6v2.6h-2.6zM172.9 27.8h2.2v2.2h-2.2zM142.5 178.6h3.0v3.0h-3.0zM88.6 66.8h1.8v1.4h-1.8zM78.0 54.7h2.6v2.6h-2.6zM37.1 105.0h3.0v3.6h-3.0zM145.6 39.7h3.0v3.0h-3.0zM209.7 75.3h2.6v3.1h-2.6zM30.6 149.7h1.8v1.8h-1.8zM110.5 85.0h2.6v2.6h-2.6zM32.1 42.1h2.6v2.6h-2.6zM23.4 177.7h3.0v2.4h-3.0zM176.1 184.7h1.8v1.8h-1.8zM39.0 101.0h1.8v1.8h-1.8zM112.8 154.1h2.6v3.1h-2.6zM126.5 119.5h2.2v2.6h-2.2zM185.4 78.8h2.2v2.2h-2.2zM34.4 43.2h1.8v1.4h-1.8zM117.9 195.4h3.0v2.4h-3.0zM236.9 167.5h3.0v2.4h-3.0zM42.0 164.1h3.0v3.0h-3.0zM98.1 67.7h3.0v3.0h-3.0zM64.0 223.1h2.6v2.6h-2.6zM25.2 37.0h3.0v3.6h-3.0zM189.9 185.5h1.8v2.2h-1.8zM91.5 200.1h3.0v2.4h-3.0zM27.7 227.7h2.6v2.1h-2.6zM48.5 165.7h2.2v1.8h-2.2zM54.6 9.5h3.0v3.6h-3.0zM146.3 9.5h1.8v2.2h-1.8zM180.9 41.4h3.0v2.4h-3.0zM31.5 117.6h1.8v1.4h-1.8zM218.6 191.0h2.6v2.1h-2.6zM231.3 48.0h3.0v2.4h-3.0zM164.1 44.1h2.2v2.2h-2.2zM73.1 216.7h2.6v2.6h-2.6zM177.9 46.7h2.6v2.1h-2.6zM1.7 210.1h1.8v1.8h-1.8zM109.4 188.5h3.0v3.6h-3.0zM147.1 157.2h1.8v1.8h-1.8zM129.9 32.4h3.0v3.6h-3.0zM172.4 99.2h2.6v2.6h-2.6zM87.5 170.6h2.6v3.1h-2.6zM5.5 128.0h2.2v2.2h-2.2zM155.4 188.4h2.2v1.8h-2.2zM232.5 148.9h1.8v2.2h-1.8zM137.3 52.0h2.6v3.1h-2.6zM90.1 66.8h2.6v3.1h-2.6zM168.1 124.2h2.6v3.1h-2.6zM208.4 137.0h2.2v1.8h-2.2zM222.3 175.3h2.6v3.1h-2.6zM222.7 209.7h3.0v3.6h-3.0zM1.1 20.6h2.2v2.6h-2.2zM159.2 23.6h2.2v2.6h-2.2zM237.8 0.1h2.6v3.1h-2.6zM44.3 1.6h2.6v2.1h-2.6zM158.6 6.3h3.0v3.0h-3.0zM117.9 143.7h2.6v2.6h-2.6zM35.5 6.4h2.6v2.6h-2.6zM120.9 97.9h2.2v2.2h-2.2zM131.1 150.1h2.2v2.6h-2.2zM126.0 53.1h2.6v2.1h-2.6zM2.4 11.1h1.8v1.4h-1.8zM171.2 139.6h2.6v2.1h-2.6zM199.1 52.2h3.0v3.6h-3.0zM150.8 192.6h3.0v3.0h-3.0zM133.2 39.7h3.0v2.4h-3.0zM160.5 128.2h1.8v1.4h-1.8zM53.7 169.5h2.6v2.6h-2.6zM20.3 201.3h2.6v2.1h-2.6zM60.4 133.7h1.8v2.2h-1.8zM191.5 90.2h2.2v2.2h-2.2zM4.8 40.2h1.8v1.4h-1.8zM206.8 26.7h3.0v3.0h-3.0zM134.9 221.6h2.6v2.1h-2.6zM222.3 50.8h2.2v2.6h-2.2zM141.2 7.1h2.2v2.2h-2.2zM130.6 231.9h3.0v3.6h-3.0zM147.6 202.9h2.2v1.8h-2.2zM238.1 226.3h2.6v2.1h-2.6zM34.2 138.9h2.2v2.6h-2.2zM138.5 211.3h3.0v3.0h-3.0zM71.4 204.8h3.0v2.4h-3.0zM61.7 122.3h2.6v3.1h-2.6zM108.3 44.0h1.8v1.4h-1.8zM164.7 33.8h2.6v2.1h-2.6zM4.4 15.9h2.2v2.2h-2.2zM183.8 35.8h1.8v1.4h-1.8zM219.1 192.9h3.0v2.4h-3.0zM63.0 111.6h2.2v1.8h-2.2zM169.0 198.5h2.6v3.1h-2.6zM150.9 163.5h3.0v3.0h-3.0zM9.4 72.7h3.0v2.4h-3.0zM159.5 30.8h2.2v1.8h-2.2zM221.5 238.8h2.6v2.1h-2.6zM169.0 49.6h3.0v3.6h-3.0zM36.1 141.8h1.8v1.4h-1.8zM159.7 173.7h2.6v3.1h-2.6zM104.2 81.6h2.2v2.6h-2.2zM236.3 44.5h3.0v3.6h-3.0zM132.9 48.0h1.8v1.8h-1.8zM85.8 101.1h2.2v2.2h-2.2zM233.7 90.8h2.6v2.6h-2.6zM7.8 57.4h1.8v2.2h-1.8zM122.1 160.6h1.8v1.4h-1.8zM227.3 5.9h2.6v2.6h-2.6zM76.9 121.6h3.0v3.6h-3.0zM35.1 30.1h1.8v2.2h-1.8zM203.8 44.9h2.2v1.8h-2.2zM129.2 179.3h3.0v3.0h-3.0zM221.2 67.2h2.2v1.8h-2.2zM229.3 88.2h1.8v2.2h-1.8zM126.5 182.3h3.0v3.0h-3.0zM195.9 131.8h3.0v3.0h-3.0zM131.4 213.5h1.8v1.4h-1.8zM208.3 199.3h1.8v1.8h-1.8zM140.7 55.3h2.6v2.1h-2.6zM23.8 145.4h2.2v1.8h-2.2zM145.6 2.5h1.8v1.4h-1.8zM103.0 36.1h2.2v2.6h-2.2zM51.5 59.7h1.8v1.8h-1.8zM94.6 132.0h3.0v3.0h-3.0zM115.1 42.3h3.0v3.6h-3.0zM15.8 73.4h1.8v2.2h-1.8zM25.2 192.6h1.8v1.4h-1.8zM120.5 203.0h3.0v3.0h-3.0zM20.9 204.6h2.6v2.6h-2.6zM207.1 77.4h3.0v2.4h-3.0zM80.7 212.5h3.0v3.6h-3.0zM52.2 200.2h1.8v1.4h-1.8zM187.7 17.6h3.0v2.4h-3.0zM203.2 142.9h3.0v2.4h-3.0zM16.4 49.0h2.6v2.6h-2.6zM113.9 115.7h2.2v1.8h-2.2zM176.0 59.3h2.6v3.1h-2.6zM5.3 87.3h2.2v2.6h-2.2zM235.1 171.1h1.8v1.8h-1.8zM7.6 55.1h2.2v2.2h-2.2zM156.1 176.4h3.0v3.0h-3.0zM158.7 67.3h2.2v2.2h-2.2zM12.8 117.1h1.8v2.2h-1.8zM114.0 60.1h2.6v2.6h-2.6zM93.2 54.6h3.0v3.0h-3.0zM33.1 66.4h2.6v2.1h-2.6zM37.8 132.1h1.8v1.8h-1.8zM164.9 47.0h3.0v2.4h-3.0zM229.3 202.6h1.8v2.2h-1.8zM51.7 145.3h2.6v2.1h-2.6zM14.6 207.6h2.6v2.1h-2.6zM217.1 167.5h2.6v2.1h-2.6zM12.1 145.9h3.0v2.4h-3.0zM27.7 21.4h2.6v3.1h-2.6zM142.9 101.3h2.2v2.6h-2.2zM191.0 212.5h3.0v2.4h-3.0zM12.6 27.0h3.0v2.4h-3.0zM21.5 127.3h2.6v3.1h-2.6zM186.6 6.6h2.6v2.6h-2.6zM193.3 213.3h2.6v2.1h-2.6zM41.3 58.8h2.6v3.1h-2.6zM200.8 69.3h2.2v2.6h-2.2zM180.2 21.7h2.2v1.8h-2.2zM177.6 212.3h1.8v1.8h-1.8zM191.3 85.4h2.2v2.6h-2.2zM145.9 80.6h2.2v2.2h-2.2zM43.4 21.5h1.8v2.2h-1.8zM157.9 166.6h2.6v3.1h-2.6zM144.5 175.5h2.6v3.1h-2.6zM238.1 74.9h1.8v1.4h-1.8zM179.0 74.6h2.2v1.8h-2.2zM174.8 88.3h1.8v1.8h-1.8zM140.3 133.2h2.6v2.6h-2.6zM88.5 152.0h3.0v2.4h-3.0zM67.2 185.6h1.8v1.4h-1.8zM158.7 67.7h2.6v3.1h-2.6zM78.5 39.4h2.2v1.8h-2.2zM68.3 112.8h2.2v1.8h-2.2zM164.0 166.3h3.0v3.0h-3.0zM65.2 48.0h2.2v2.2h-2.2zM92.7 25.7h1.8v1.4h-1.8zM84.1 85.3h2.6v3.1h-2.6zM81.8 74.0h1.8v1.8h-1.8zM69.2 228.4h1.8v2.2h-1.8zM26.2 60.1h2.6v2.1h-2.6zM144.7 105.6h1.8v1.8h-1.8zM225.8 184.0h1.8v1.4h-1.8zM108.2 34.2h2.2v2.2h-2.2zM133.6 189.4h2.6v2.6h-2.6zM58.8 153.0h3.0v3.0h-3.0zM185.2 221.4h2.2v1.8h-2.2zM229.3 155.1h3.0v3.0h-3.0zM76.6 196.2h2.2v2.2h-2.2zM146.7 55.9h2.6v3.1h-2.6zM17.5 80.6h2.6v3.1h-2.6zM4.4 85.6h3.0v3.6h-3.0zM222.5 225.1h2.2v1.8h-2.2zM79.9 213.8h3.0v3.6h-3.0zM211.6 102.4h3.0v3.6h-3.0zM5.1 76.8h2.2v1.8h-2.2zM175.6 67.2h1.8v1.4h-1.8zM14.8 230.4h1.8v1.4h-1.8zM208.1 63.8h2.6v2.6h-2.6zM58.0 179.2h2.6v3.1h-2.6zM0.1 72.1h2.6v2.1h-2.6zM15.6 18.1h2.6v2.1h-2.6zM68.2 192.6h2.2v1.8h-2.2zM107.2 0.9h3.0v2.4h-3.0zM12.6 105.1h2.2v2.2h-2.2zM159.7 126.6h1.8v1.4h-1.8zM116.1 48.3h3.0v3.6h-3.0zM96.6 51.0h2.6v2.6h-2.6zM97.4 179.2h3.0v3.6h-3.0zM12.5 125.2h1.8v1.8h-1.8zM72.6 45.0h3.0v3.6h-3.0zM223.8 195.0h2.2v2.6h-2.2zM233.7 151.6h2.6v3.1h-2.6zM181.0 231.5h2.2v1.8h-2.2zM199.4 38.9h3.0v2.4h-3.0zM210.2 183.2h1.8v2.2h-1.8zM180.4 31.7h3.0v3.0h-3.0zM149.8 107.6h1.8v1.4h-1.8zM194.0 37.9h2.6v2.6h-2.6zM116.0 211.9h3.0v3.6h-3.0zM217.5 58.9h3.0v2.4h-3.0zM14.9 156.1h2.6v3.1h-2.6zM194.4 44.2h3.0v3.6h-3.0zM123.0 225.9h2.6v2.6h-2.6zM205.9 161.5h3.0v3.0h-3.0zM228.6 51.6h3.0v3.6h-3.0zM61.3 37.5h1.8v1.4h-1.8zM25.4 177.4h2.2v1.8h-2.2zM230.1 206.2h2.2v1.8h-2.2zM199.7 186.0h1.8v2.2h-1.8zM132.4 175.9h3.0v3.6h-3.0zM25.0 104.5h3.0v2.4h-3.0zM199.3 25.2h3.0v2.4h-3.0zM96.2 39.4h2.6v2.6h-2.6zM95.9 79.1h1.8v1.4h-1.8zM21.3 200.3h3.0v3.6h-3.0zM27.5 171.7h1.8v2.2h-1.8zM66.8 78.6h1.8v2.2h-1.8zM224.1 210.7h2.6v3.1h-2.6zM177.0 115.1h3.0v3.6h-3.0zM131.6 72.2h2.6v2.6h-2.6zM190.9 184.4h2.6v2.6h-2.6zM65.9 86.3h2.2v2.2h-2.2zM120.9 12.9h2.6v2.6h-2.6zM59.9 189.0h2.2v2.6h-2.2zM240.1 42.1h2.6v2.1h-2.6zM40.4 110.3h3.0v3.0h-3.0zM166.5 182.2h2.6v3.1h-2.6zM111.9 235.9h2.6v2.1h-2.6zM69.1 50.9h1.8v2.2h-1.8zM228.2 181.3h2.2v2.2h-2.2zM75.9 107.8h3.0v3.0h-3.0zM175.3 161.8h1.8v1.8h-1.8zM123.6 224.0h2.2v2.2h-2.2zM216.0 44.6h3.0v3.0h-3.0zM129.1 18.3h1.8v1.4h-1.8zM196.0 101.8h2.6v3.1h-2.6zM38.2 230.7h2.2v2.2h-2.2zM179.5 41.4h2.2v1.8h-2.2zM227.3 149.1h1.8v1.4h-1.8zM48.8 226.5h2.6v2.6h-2.6zM12.2 187.0h1.8v2.2h-1.8zM47.2 203.0h1.8v1.4h-1.8zM18.8 18.3h2.2v2.6h-2.2zM170.4 59.6h2.6v2.6h-2.6zM116.7 37.3h2.2v2.6h-2.2zM3.0 65.5h1.8v1.4h-1.8zM68.9 183.4h2.6v2.1h-2.6zM73.0 128.2h3.0v2.4h-3.0zM217.4 0.9h1.8v1.4h-1.8zM73.3 72.4h1.8v2.2h-1.8zM88.8 89.8h2.6v3.1h-2.6zM127.6 146.1h1.8v1.8h-1.8zM232.4 206.8h3.0v3.0h-3.0zM82.9 80.9h1.8v1.4h-1.8zM147.7 69.6h1.8v1.8h-1.8zM99.6 89.0h2.6v2.6h-2.6zM90.4 234.1h3.0v2.4h-3.0zM143.1 -0.7h2.6v2.1h-2.6zM11.2 219.5h2.2v1.8h-2.2zM78.7 151.7h2.6v2.1h-2.6zM37.1 48.3h2.6v3.1h-2.6zM47.6 114.3h2.2v2.6h-2.2zM178.7 58.9h1.8v1.4h-1.8zM95.4 229.0h2.6v2.6h-2.6zM189.6 41.8h1.8v1.8h-1.8zM105.4 169.1h2.6v3.1h-2.6zM23.6 168.8h1.8v2.2h-1.8zM181.0 101.9h1.8v1.8h-1.8zM72.9 72.7h1.8v1.8h-1.8zM35.4 134.2h3.0v3.0h-3.0zM24.6 51.7h1.8v1.4h-1.8zM32.0 160.8h2.2v1.8h-2.2zM70.4 176.2h2.6v3.1h-2.6zM118.3 134.8h2.2v2.2h-2.2zM185.9 191.2h2.2v2.2h-2.2zM192.1 67.1h3.0v3.0h-3.0zM43.2 1.9h3.0v3.0h-3.0zM130.3 236.8h2.6v3.1h-2.6zM57.0 44.0h1.8v1.4h-1.8zM183.2 167.6h1.8v1.8h-1.8zM208.6 42.8h1.8v1.8h-1.8zM219.1 237.3h1.8v1.4h-1.8zM43.3 127.0h1.8v2.2h-1.8zM24.6 5.1h2.2v2.2h-2.2zM206.5 74.1h2.6v2.1h-2.6zM50.2 33.6h2.2v1.8h-2.2zM155.2 69.6h2.6v3.1h-2.6zM50.7 167.4h1.8v1.8h-1.8zM88.1 92.4h1.8v1.4h-1.8zM120.0 223.2h2.2v1.8h-2.2zM104.3 54.7h2.2v2.2h-2.2zM101.4 172.6h1.8v2.2h-1.8zM65.0 17.2h2.2v1.8h-2.2zM76.4 34.1h1.8v2.2h-1.8zM212.9 86.5h3.0v2.4h-3.0zM23.4 41.0h1.8v2.2h-1.8zM78.9 150.9h2.6v2.1h-2.6zM221.5 144.4h2.6v3.1h-2.6zM158.7 152.9h3.0v3.0h-3.0zM71.7 114.8h2.2v2.6h-2.2zM89.0 161.5h2.2v2.2h-2.2zM51.7 95.0h1.8v1.8h-1.8zM65.2 225.6h2.2v2.2h-2.2zM211.3 8.0h1.8v1.8h-1.8zM28.6 219.2h2.2v1.8h-2.2zM201.1 212.3h2.2v2.2h-2.2zM111.3 178.0h1.8v1.4h-1.8zM45.2 70.3h2.6v2.1h-2.6zM4.5 210.1h2.6v2.6h-2.6zM186.8 194.7h3.0v3.0h-3.0zM81.9 181.8h2.2v2.6h-2.2zM79.7 23.7h1.8v1.4h-1.8zM114.1 90.4h3.0v3.6h-3.0zM38.2 224.7h2.6v3.1h-2.6zM177.5 222.5h3.0v2.4h-3.0zM225.2 2.4h2.2v1.8h-2.2zM128.9 60.8h2.6v2.1h-2.6zM170.9 55.7h1.8v2.2h-1.8zM5.0 125.4h1.8v1.4h-1.8zM34.8 35.0h3.0v3.6h-3.0zM165.3 225.8h2.2v2.2h-2.2zM148.9 59.0h1.8v1.4h-1.8zM95.3 141.1h3.0v3.6h-3.0zM108.2 222.4h3.0v3.6h-3.0zM58.0 1.0h1.8v1.8h-1.8zM122.3 175.1h2.2v2.6h-2.2zM179.5 37.5h2.6v3.1h-2.6zM14.0 15.9h3.0v2.4h-3.0zM47.3 99.0h1.8v1.4h-1.8zM104.7 214.6h1.8v1.8h-1.8zM237.7 210.9h2.6v2.6h-2.6zM54.1 92.0h3.0v3.0h-3.0zM136.2 235.8h3.0v2.4h-3.0zM193.1 203.1h1.8v2.2h-1.8zM110.1 172.3h2.6v2.1h-2.6zM133.4 239.2h2.2v2.6h-2.2zM67.7 78.7h2.6v3.1h-2.6zM197.1 145.1h2.6v2.1h-2.6zM35.4 15.5h3.0v3.6h-3.0zM81.5 10.5h2.6v2.6h-2.6zM217.9 104.0h2.6v2.6h-2.6zM156.1 203.5h3.0v3.0h-3.0zM1.9 240.8h1.8v1.4h-1.8zM40.7 73.4h3.0v2.4h-3.0zM151.4 144.7h1.8v1.8h-1.8zM69.3 14.0h2.2v2.6h-2.2zM12.4 212.5h3.0v2.4h-3.0zM105.4 174.8h1.8v1.4h-1.8zM115.1 44.9h3.0v3.0h-3.0zM1.6 15.6h3.0v2.4h-3.0zM219.2 232.0h3.0v3.6h-3.0zM17.2 5.9h2.6v2.1h-2.6zM82.5 9.9h1.8v1.4h-1.8zM49.6 232.5h3.0v3.6h-3.0zM124.9 197.8h3.0v2.4h-3.0zM133.3 191.7h2.6v2.6h-2.6zM235.6 180.7h1.8v2.2h-1.8zM69.4 199.5h2.2v2.6h-2.2zM74.9 27.8h2.6v2.6h-2.6zM165.4 124.1h2.2v1.8h-2.2zM185.1 39.3h3.0v2.4h-3.0zM137.8 186.0h2.6v3.1h-2.6zM57.9 218.7h2.2v2.6h-2.2zM115.2 56.5h2.6v2.1h-2.6zM194.0 189.2h1.8v1.8h-1.8zM96.0 110.9h1.8v2.2h-1.8zM70.9 38.2h2.2v2.6h-2.2zM83.2 203.0h3.0v3.6h-3.0zM154.4 74.2h1.8v1.8h-1.8zM217.3 140.2h3.0v3.0h-3.0zM13.0 165.2h3.0v3.6h-3.0zM215.1 139.0h1.8v1.4h-1.8zM139.1 224.0h1.8v1.4h-1.8zM181.8 209.6h2.6v2.1h-2.6zM127.8 92.5h1.8v1.4h-1.8zM188.3 110.3h1.8v2.2h-1.8zM61.6 148.2h1.8v1.8h-1.8zM120.2 169.3h3.0v3.6h-3.0zM222.1 41.7h1.8v1.8h-1.8zM222.4 48.7h2.6v2.6h-2.6zM142.1 19.2h1.8v2.2h-1.8zM75.5 221.8h3.0v2.4h-3.0zM89.9 214.5h3.0v3.6h-3.0zM74.0 5.3h2.6v2.6h-2.6zM80.4 51.3h3.0v2.4h-3.0zM215.0 35.9h2.6v2.6h-2.6zM174.0 202.8h2.6v2.1h-2.6zM124.1 234.2h1.8v1.4h-1.8zM150.6 145.5h1.8v2.2h-1.8zM122.9 84.0h2.2v2.6h-2.2zM8.9 99.4h3.0v2.4h-3.0zM147.5 109.2h1.8v1.8h-1.8zM11.8 181.0h2.6v2.6h-2.6zM74.5 35.7h3.0v3.6h-3.0zM64.8 220.7h2.2v2.6h-2.2zM229.2 143.2h2.6v2.6h-2.6zM215.4 218.6h2.2v1.8h-2.2zM17.5 59.9h1.8v1.4h-1.8zM224.3 222.3h1.8v1.8h-1.8zM34.0 24.0h2.2v2.2h-2.2zM127.4 71.9h2.2v2.2h-2.2zM104.7 29.8h2.6v2.6h-2.6zM15.3 70.1h2.2v2.2h-2.2zM63.1 102.5h2.2v2.6h-2.2zM167.9 56.9h3.0v2.4h-3.0zM107.1 78.1h2.6v2.1h-2.6zM208.9 9.6h3.0v3.0h-3.0zM226.7 19.8h3.0v3.0h-3.0zM152.5 163.4h3.0v2.4h-3.0zM81.2 1.1h1.8v1.8h-1.8zM231.6 173.2h1.8v1.8h-1.8zM211.7 72.3h2.2v2.2h-2.2zM28.6 168.3h2.6v3.1h-2.6zM122.7 42.4h3.0v3.0h-3.0zM200.6 146.3h1.8v1.4h-1.8zM204.5 162.3h2.6v2.1h-2.6zM124.5 49.0h2.6v2.1h-2.6zM62.0 10.5h2.6v2.1h-2.6zM220.6 202.2h2.2v2.2h-2.2zM222.2 122.2h2.2v2.6h-2.2zM184.7 138.2h1.8v1.4h-1.8zM2.5 239.3h1.8v1.8h-1.8z" fill="#1a2688"/>
<path d="M86.6 122.7h2.2v1.8h-2.2zM0.6 63.9h2.6v2.1h-2.6zM153.4 106.7h2.2v2.6h-2.2zM109.9 205.8h2.2v2.2h-2.2zM182.8 3.1h3.0v3.0h-3.0zM157.8 81.2h3.0v3.0h-3.0zM91.8 95.7h2.2v1.8h-2.2zM219.7 185.5h2.6v2.1h-2.6zM84.8 202.3h3.0v3.6h-3.0zM96.9 146.0h1.8v1.4h-1.8zM80.9 91.3h3.0v3.0h-3.0zM78.3 129.0h1.8v1.8h-1.8zM29.4 49.2h1.8v1.4h-1.8zM147.9 43.8h1.8v1.8h-1.8zM189.2 234.0h3.0v3.6h-3.0zM52.0 97.5h3.0v3.6h-3.0zM28.7 9.3h2.2v1.8h-2.2zM56.7 130.9h2.2v1.8h-2.2zM206.5 149.2h1.8v2.2h-1.8zM223.0 233.6h2.2v2.2h-2.2zM104.9 221.9h1.8v2.2h-1.8zM41.4 70.5h2.2v2.2h-2.2zM234.8 222.0h1.8v1.8h-1.8zM13.4 31.6h1.8v2.2h-1.8zM221.4 134.4h3.0v2.4h-3.0zM206.4 8.8h1.8v1.4h-1.8zM66.7 142.8h1.8v1.4h-1.8zM23.9 228.5h2.6v3.1h-2.6zM108.7 187.2h2.2v1.8h-2.2zM162.7 34.0h3.0v3.0h-3.0zM200.4 86.6h3.0v2.4h-3.0zM52.4 113.3h3.0v3.0h-3.0zM29.6 34.9h2.2v2.6h-2.2zM197.9 137.9h1.8v2.2h-1.8zM200.5 164.4h1.8v1.8h-1.8zM119.3 202.3h1.8v2.2h-1.8zM85.1 22.9h2.6v2.6h-2.6zM18.2 82.0h1.8v1.4h-1.8zM238.3 108.2h2.6v2.6h-2.6zM108.4 105.5h1.8v1.8h-1.8zM108.4 62.0h1.8v1.4h-1.8zM176.1 79.9h2.6v2.6h-2.6zM137.9 185.9h3.0v3.0h-3.0zM86.4 215.6h1.8v2.2h-1.8zM114.3 207.8h2.6v3.1h-2.6zM192.1 11.5h2.2v1.8h-2.2zM230.8 88.8h2.6v2.1h-2.6zM15.1 102.6h3.0v2.4h-3.0zM79.5 61.3h2.6v2.6h-2.6zM46.5 127.2h2.6v2.6h-2.6zM158.5 10.8h3.0v3.0h-3.0zM15.3 207.7h3.0v3.0h-3.0zM199.8 97.4h3.0v3.6h-3.0zM88.8 134.7h2.2v2.6h-2.2zM48.5 9.8h1.8v1.4h-1.8zM103.0 103.7h3.0v3.6h-3.0zM93.8 88.5h1.8v1.4h-1.8zM155.8 207.1h3.0v2.4h-3.0zM66.9 233.9h2.6v3.1h-2.6zM159.5 109.8h2.6v3.1h-2.6zM220.6 44.6h3.0v3.6h-3.0zM167.8 182.5h2.6v2.6h-2.6zM49.3 178.6h2.2v1.8h-2.2zM222.1 214.0h3.0v3.6h-3.0zM128.9 99.9h1.8v1.8h-1.8zM212.2 204.7h2.2v2.6h-2.2zM68.2 81.0h3.0v2.4h-3.0zM228.0 155.3h2.2v2.6h-2.2zM69.1 45.5h2.2v2.2h-2.2zM13.1 15.9h2.6v3.1h-2.6zM32.6 165.4h2.2v1.8h-2.2zM186.6 188.0h2.2v2.6h-2.2zM224.9 46.9h2.2v2.2h-2.2zM165.0 229.3h2.2v2.6h-2.2zM214.8 97.8h2.2v2.2h-2.2zM143.8 232.9h2.2v1.8h-2.2zM66.6 35.8h3.0v2.4h-3.0zM166.4 206.3h3.0v3.6h-3.0zM231.7 116.3h1.8v1.8h-1.8zM228.0 127.7h1.8v1.4h-1.8zM160.3 205.1h2.2v1.8h-2.2zM9.1 1.7h2.6v2.1h-2.6zM155.8 95.0h1.8v1.4h-1.8zM200.5 184.0h2.6v3.1h-2.6zM131.5 204.1h2.6v3.1h-2.6zM147.3 181.3h3.0v2.4h-3.0zM176.5 197.0h3.0v3.0h-3.0zM2.2 15.8h3.0v2.4h-3.0zM96.5 94.0h2.6v3.1h-2.6zM1.2 105.1h2.6v3.1h-2.6zM195.4 5.1h3.0v3.6h-3.0zM62.7 117.8h1.8v2.2h-1.8zM81.2 232.3h2.2v2.2h-2.2zM231.5 54.2h2.2v1.8h-2.2zM113.0 177.4h1.8v1.4h-1.8zM87.1 104.4h2.2v1.8h-2.2zM182.2 5.5h1.8v1.8h-1.8zM145.5 98.2h3.0v2.4h-3.0zM89.5 163.8h2.6v2.6h-2.6zM106.5 107.2h1.8v1.4h-1.8zM45.6 40.2h3.0v3.0h-3.0zM190.9 162.4h3.0v2.4h-3.0zM93.3 111.0h2.6v3.1h-2.6zM161.5 215.3h2.6v2.6h-2.6zM130.3 131.4h2.6v2.6h-2.6zM6.3 226.8h3.0v3.6h-3.0zM64.3 177.2h3.0v3.0h-3.0zM47.5 217.3h2.2v1.8h-2.2zM52.1 203.1h2.6v2.1h-2.6zM176.3 63.3h3.0v3.0h-3.0zM181.7 176.7h2.2v1.8h-2.2zM150.3 170.1h2.2v2.6h-2.2zM65.4 43.1h2.6v2.6h-2.6zM9.0 65.5h2.2v2.6h-2.2zM85.2 102.2h1.8v2.2h-1.8zM224.0 123.0h2.2v2.6h-2.2zM117.2 5.6h3.0v2.4h-3.0zM124.6 178.2h3.0v3.6h-3.0zM63.7 225.4h1.8v2.2h-1.8zM4.6 96.9h1.8v1.4h-1.8zM65.8 8.3h2.6v2.6h-2.6zM153.4 197.4h1.8v1.4h-1.8zM118.9 128.1h1.8v2.2h-1.8zM45.1 3.6h1.8v1.4h-1.8zM104.8 8.4h1.8v2.2h-1.8zM64.2 1.8h1.8v2.2h-1.8zM195.5 24.1h3.0v3.6h-3.0zM104.3 164.3h3.0v3.0h-3.0zM195.9 79.2h2.6v2.1h-2.6zM181.5 197.7h1.8v2.2h-1.8zM128.8 182.1h2.2v2.2h-2.2zM85.4 136.5h1.8v2.2h-1.8zM126.3 227.7h1.8v2.2h-1.8zM116.0 199.6h3.0v3.0h-3.0zM108.0 154.8h2.2v2.2h-2.2zM144.3 18.6h1.8v1.8h-1.8zM230.3 161.6h2.2v2.2h-2.2zM227.8 179.1h2.2v2.6h-2.2zM109.0 66.5h3.0v3.6h-3.0zM35.3 12.2h2.6v2.6h-2.6zM122.5 139.1h1.8v1.8h-1.8zM108.1 8.6h2.2v1.8h-2.2zM15.5 187.3h3.0v2.4h-3.0zM125.3 153.6h2.2v1.8h-2.2zM219.1 74.2h1.8v1.8h-1.8zM187.9 177.7h2.2v1.8h-2.2zM106.3 82.0h1.8v1.4h-1.8zM44.3 4.8h1.8v1.8h-1.8zM63.5 132.3h1.8v1.8h-1.8z" fill="#2c40e0"/>
<path d="M223 125h2.0v2.0h-2.0zM154 158h2.0v2.0h-2.0zM28 160h2.0v2.0h-2.0zM227 80h2.0v2.0h-2.0zM96 237h2.0v2.0h-2.0zM235 108h2.0v2.0h-2.0zM222 134h2.0v2.0h-2.0zM105 192h2.0v2.0h-2.0zM38 16h2.0v2.0h-2.0zM45 187h2.0v2.0h-2.0zM180 61h2.0v2.0h-2.0zM206 60h2.0v2.0h-2.0zM37 232h2.0v2.0h-2.0zM106 153h2.0v2.0h-2.0zM36 205h2.0v2.0h-2.0zM12 100h2.0v2.0h-2.0zM69 153h2.0v2.0h-2.0zM169 150h2.0v2.0h-2.0zM104 4h2.0v2.0h-2.0zM101 134h2.0v2.0h-2.0zM167 188h2.0v2.0h-2.0zM112 218h2.0v2.0h-2.0zM184 11h2.0v2.0h-2.0zM84 151h2.0v2.0h-2.0zM33 56h2.0v2.0h-2.0zM52 142h2.0v2.0h-2.0zM177 163h2.0v2.0h-2.0zM143 128h2.0v2.0h-2.0zM69 218h2.0v2.0h-2.0zM220 42h2.0v2.0h-2.0zM163 144h2.0v2.0h-2.0zM127 114h2.0v2.0h-2.0zM204 153h2.0v2.0h-2.0zM180 34h2.0v2.0h-2.0zM173 43h2.0v2.0h-2.0zM216 119h2.0v2.0h-2.0zM95 233h2.0v2.0h-2.0zM162 229h2.0v2.0h-2.0zM208 8h2.0v2.0h-2.0zM167 28h2.0v2.0h-2.0zM158 26h2.0v2.0h-2.0zM99 190h2.0v2.0h-2.0zM75 4h2.0v2.0h-2.0zM3 30h2.0v2.0h-2.0zM74 101h2.0v2.0h-2.0zM217 237h2.0v2.0h-2.0zM61 159h2.0v2.0h-2.0zM206 10h2.0v2.0h-2.0zM235 216h2.0v2.0h-2.0zM25 187h2.0v2.0h-2.0z" fill="#2c9a48"/>
</g></g>
<circle cx="117.6" cy="458.2" r="2" fill="#40e070" filter="url(#bl)"/>
<circle cx="128.6" cy="466.5" r="2" fill="#40e070" filter="url(#bl)"/>
<circle cx="92" cy="475" r="2" fill="#40e070" filter="url(#bl)"/>
<circle cx="164.5" cy="482.5" r="2" fill="#40e070" filter="url(#bl)"/>
<circle cx="183.5" cy="454.5" r="2" fill="#40e070" filter="url(#bl)"/>
<circle cx="85.5" cy="505" r="2" fill="#40e070" filter="url(#bl)"/>
<circle cx="184" cy="437.5" r="2" fill="#40e070" filter="url(#bl)"/>
<rect x="154.7" y="383.6" width="86.5" height="85.8" fill="none" stroke="#fff" stroke-width="2.5" stroke-dasharray="4.1 2.9"/>
<line x1="57.1" y1="598.6" x2="205.0" y2="598.6" stroke="#fff" stroke-width="3.1" />
<text font-size="19.8" text-anchor="middle" fill="#fff" stroke="#fff" stroke-width="0.32" transform="translate(129.1 589.4)">500µm</text>
<rect x="301.4" y="367.4" width="239.3" height="238.8" fill="#fff" stroke="#000" stroke-width="2.7" />
<circle cx="361.2" cy="375.5" r="1.3" fill="#111"/>
<circle cx="383.7" cy="392.7" r="1.3" fill="#111"/>
<circle cx="479.6" cy="391.8" r="0.8" fill="#111"/>
<circle cx="495.9" cy="392.7" r="1.6" fill="#111"/>
<circle cx="540.8" cy="383.7" r="1.0" fill="#111"/>
<circle cx="540.8" cy="393.9" r="0.8" fill="#111"/>
<circle cx="500.0" cy="416.3" r="1.0" fill="#111"/>
<circle cx="430.6" cy="435.9" r="0.8" fill="#111"/>
<circle cx="418.4" cy="441.6" r="1.3" fill="#111"/>
<circle cx="479.6" cy="431.8" r="1.6" fill="#111"/>
<circle cx="483.7" cy="452.2" r="1.0" fill="#111"/>
<circle cx="526.5" cy="440.0" r="1.6" fill="#111"/>
<circle cx="432.7" cy="453.1" r="0.8" fill="#111"/>
<circle cx="365.3" cy="457.1" r="1.0" fill="#111"/>
<circle cx="377.6" cy="466.1" r="0.8" fill="#111"/>
<circle cx="402.0" cy="463.3" r="1.0" fill="#111"/>
<circle cx="340.8" cy="474.3" r="1.6" fill="#111"/>
<circle cx="412.2" cy="480.8" r="1.3" fill="#111"/>
<circle cx="446.9" cy="474.3" r="1.0" fill="#111"/>
<circle cx="498.0" cy="466.1" r="1.6" fill="#111"/>
<circle cx="532.7" cy="461.2" r="1.0" fill="#111"/>
<circle cx="534.7" cy="467.3" r="0.8" fill="#111"/>
<circle cx="508.2" cy="491.8" r="1.0" fill="#111"/>
<circle cx="520.4" cy="498.8" r="1.6" fill="#111"/>
<circle cx="516.3" cy="511.0" r="1.0" fill="#111"/>
<circle cx="521.6" cy="517.6" r="1.0" fill="#111"/>
<circle cx="334.7" cy="502.9" r="0.8" fill="#111"/>
<circle cx="424.5" cy="522.4" r="0.8" fill="#111"/>
<circle cx="523.7" cy="544.9" r="1.0" fill="#111"/>
<circle cx="389.8" cy="550.2" r="1.0" fill="#111"/>
<circle cx="422.4" cy="583.7" r="1.0" fill="#111"/>
<circle cx="459.2" cy="589.8" r="1.0" fill="#111"/>
<clipPath id="c4"><rect x="0" y="0" width="241.0" height="240.8"/></clipPath>
<g transform="translate(547.0 367.0)" clip-path="url(#c4)">
<rect width="241.0" height="240.8" fill="#000003"/>
<g filter="url(#bl2)">
<path d="M6.1 16.5a4.1 2.5 92 1 0 -0.3 8.3a4.1 2.5 92 1 0 0.3 -8.3zM28.2 21.1a2.7 2.3 103 1 0 -1.2 5.3a2.7 2.3 103 1 0 1.2 -5.3zM128.1 219.3a3.9 3.0 30 1 0 6.7 3.9a3.9 3.0 30 1 0 -6.7 -3.9zM15.0 98.0a2.7 2.9 124 1 0 -3.0 4.5a2.7 2.9 124 1 0 3.0 -4.5zM170.0 -0.5a3.4 2.9 26 1 0 6.2 3.0a3.4 2.9 26 1 0 -6.2 -3.0zM72.0 227.8a3.4 2.4 76 1 0 1.7 6.5a3.4 2.4 76 1 0 -1.7 -6.5zM66.7 16.5a4.6 2.7 31 1 0 7.9 4.6a4.6 2.7 31 1 0 -7.9 -4.6zM217.3 42.8a2.7 2.7 25 1 0 4.9 2.3a2.7 2.7 25 1 0 -4.9 -2.3zM84.9 153.3a4.2 3.0 56 1 0 4.7 7.0a4.2 3.0 56 1 0 -4.7 -7.0zM238.7 234.7a2.9 2.4 139 1 0 -4.4 3.8a2.9 2.4 139 1 0 4.4 -3.8zM179.1 142.7a3.8 2.2 62 1 0 3.5 6.7a3.8 2.2 62 1 0 -3.5 -6.7zM170.0 227.1a4.0 2.1 166 1 0 -7.8 2.0a4.0 2.1 166 1 0 7.8 -2.0zM231.5 148.5a3.7 2.3 103 1 0 -1.7 7.2a3.7 2.3 103 1 0 1.7 -7.2zM165.2 144.8a4.4 2.2 145 1 0 -7.2 5.1a4.4 2.2 145 1 0 7.2 -5.1zM123.2 191.4a3.7 2.6 107 1 0 -2.2 7.2a3.7 2.6 107 1 0 2.2 -7.2zM114.4 187.6a3.5 2.7 68 1 0 2.6 6.5a3.5 2.7 68 1 0 -2.6 -6.5zM46.2 209.9a4.6 2.0 155 1 0 -8.4 4.0a4.6 2.0 155 1 0 8.4 -4.0zM168.6 21.6a4.2 2.8 113 1 0 -3.2 7.7a4.2 2.8 113 1 0 3.2 -7.7zM127.4 225.7a4.0 2.7 112 1 0 -3.0 7.4a4.0 2.7 112 1 0 3.0 -7.4zM26.6 150.0a4.1 2.3 167 1 0 -8.0 1.9a4.1 2.3 167 1 0 8.0 -1.9zM168.8 232.8a4.7 2.2 131 1 0 -6.2 7.1a4.7 2.2 131 1 0 6.2 -7.1zM157.9 9.6a3.6 2.8 164 1 0 -7.0 2.0a3.6 2.8 164 1 0 7.0 -2.0zM212.4 136.1a2.9 3.1 106 1 0 -1.6 5.5a2.9 3.1 106 1 0 1.6 -5.5zM11.9 158.0a2.7 2.6 112 1 0 -2.0 4.9a2.7 2.6 112 1 0 2.0 -4.9zM-3.1 96.4a3.3 2.6 6 1 0 6.6 0.7a3.3 2.6 6 1 0 -6.6 -0.7zM234.2 130.2a4.0 2.9 152 1 0 -7.1 3.8a4.0 2.9 152 1 0 7.1 -3.8zM86.1 205.7a4.3 2.2 162 1 0 -8.2 2.6a4.3 2.2 162 1 0 8.2 -2.6zM128.9 53.1a3.1 2.4 83 1 0 0.8 6.2a3.1 2.4 83 1 0 -0.8 -6.2zM143.5 131.5a4.2 2.2 145 1 0 -6.8 4.8a4.2 2.2 145 1 0 6.8 -4.8zM232.0 214.3a3.4 2.8 154 1 0 -6.0 2.9a3.4 2.8 154 1 0 6.0 -2.9zM209.7 149.2a3.1 2.2 6 1 0 6.1 0.7a3.1 2.2 6 1 0 -6.1 -0.7zM33.1 100.3a3.3 2.3 21 1 0 6.2 2.4a3.3 2.3 21 1 0 -6.2 -2.4zM177.9 54.2a3.2 2.1 42 1 0 4.8 4.4a3.2 2.1 42 1 0 -4.8 -4.4zM116.2 173.3a4.5 2.7 65 1 0 3.8 8.1a4.5 2.7 65 1 0 -3.8 -8.1zM17.3 95.4a4.5 2.7 64 1 0 4.0 8.1a4.5 2.7 64 1 0 -4.0 -8.1zM184.2 171.4a3.2 2.7 118 1 0 -3.0 5.7a3.2 2.7 118 1 0 3.0 -5.7zM152.6 75.5a4.7 2.4 142 1 0 -7.5 5.8a4.7 2.4 142 1 0 7.5 -5.8zM215.7 12.7a4.6 2.7 74 1 0 2.5 8.9a4.6 2.7 74 1 0 -2.5 -8.9zM36.8 212.6a2.7 3.0 147 1 0 -4.5 2.9a2.7 3.0 147 1 0 4.5 -2.9zM202.2 73.4a3.8 2.1 11 1 0 7.5 1.4a3.8 2.1 11 1 0 -7.5 -1.4zM151.5 91.6a4.2 2.6 64 1 0 3.6 7.6a4.2 2.6 64 1 0 -3.6 -7.6zM11.8 54.2a2.9 2.4 82 1 0 0.8 5.7a2.9 2.4 82 1 0 -0.8 -5.7zM6.0 193.7a3.0 2.8 153 1 0 -5.3 2.7a3.0 2.8 153 1 0 5.3 -2.7zM140.4 10.6a3.2 2.5 121 1 0 -3.4 5.5a3.2 2.5 121 1 0 3.4 -5.5zM170.6 36.1a3.5 2.4 98 1 0 -1.0 6.8a3.5 2.4 98 1 0 1.0 -6.8zM31.4 88.1a4.6 2.2 32 1 0 7.8 4.8a4.6 2.2 32 1 0 -7.8 -4.8z" fill="#0a1278"/>
<path d="M224.2 224.1a4.5 2.1 107 1 0 -2.6 8.7a4.5 2.1 107 1 0 2.6 -8.7zM125.4 29.4a3.0 2.5 40 1 0 4.7 3.9a3.0 2.5 40 1 0 -4.7 -3.9zM88.6 10.1a4.3 2.6 118 1 0 -4.1 7.6a4.3 2.6 118 1 0 4.1 -7.6zM234.9 83.2a4.2 2.4 103 1 0 -1.9 8.3a4.2 2.4 103 1 0 1.9 -8.3zM76.8 17.2a3.6 2.8 106 1 0 -2.0 7.0a3.6 2.8 106 1 0 2.0 -7.0zM157.3 42.2a3.0 2.4 147 1 0 -5.1 3.3a3.0 2.4 147 1 0 5.1 -3.3zM82.2 86.9a3.2 2.3 140 1 0 -5.0 4.2a3.2 2.3 140 1 0 5.0 -4.2zM66.0 23.6a4.3 2.8 149 1 0 -7.4 4.4a4.3 2.8 149 1 0 7.4 -4.4zM196.7 225.8a3.8 3.1 135 1 0 -5.3 5.4a3.8 3.1 135 1 0 5.3 -5.4zM234.5 87.8a3.0 2.1 84 1 0 0.7 6.1a3.0 2.1 84 1 0 -0.7 -6.1zM225.3 225.8a3.1 2.1 95 1 0 -0.6 6.2a3.1 2.1 95 1 0 0.6 -6.2zM134.0 194.8a3.2 2.5 162 1 0 -6.0 1.9a3.2 2.5 162 1 0 6.0 -1.9zM85.0 211.3a4.4 3.0 124 1 0 -4.8 7.2a4.4 3.0 124 1 0 4.8 -7.2zM164.6 196.6a4.0 2.3 53 1 0 4.8 6.4a4.0 2.3 53 1 0 -4.8 -6.4zM182.4 132.9a3.8 2.9 20 1 0 7.2 2.5a3.8 2.9 20 1 0 -7.2 -2.5zM84.5 134.0a4.4 2.3 171 1 0 -8.7 1.3a4.4 2.3 171 1 0 8.7 -1.3zM135.2 127.3a3.1 2.6 85 1 0 0.6 6.2a3.1 2.6 85 1 0 -0.6 -6.2zM48.3 161.1a3.0 2.5 76 1 0 1.4 5.8a3.0 2.5 76 1 0 -1.4 -5.8zM169.3 111.6a4.1 2.6 100 1 0 -1.4 8.1a4.1 2.6 100 1 0 1.4 -8.1zM74.3 215.2a2.8 2.9 155 1 0 -5.1 2.3a2.8 2.9 155 1 0 5.1 -2.3zM185.1 158.8a3.9 2.3 58 1 0 4.2 6.6a3.9 2.3 58 1 0 -4.2 -6.6zM112.1 132.5a3.2 2.3 16 1 0 6.1 1.8a3.2 2.3 16 1 0 -6.1 -1.8zM63.2 201.6a3.7 2.1 83 1 0 0.9 7.4a3.7 2.1 83 1 0 -0.9 -7.4zM140.4 104.5a4.5 2.3 153 1 0 -7.9 4.0a4.5 2.3 153 1 0 7.9 -4.0zM235.0 150.6a2.7 2.9 50 1 0 3.5 4.2a2.7 2.9 50 1 0 -3.5 -4.2zM34.4 199.0a2.8 2.8 71 1 0 1.8 5.4a2.8 2.8 71 1 0 -1.8 -5.4zM116.3 168.7a3.8 2.8 148 1 0 -6.5 4.1a3.8 2.8 148 1 0 6.5 -4.1zM145.2 77.4a2.9 2.1 154 1 0 -5.3 2.5a2.9 2.1 154 1 0 5.3 -2.5zM106.4 74.6a3.9 2.6 155 1 0 -7.1 3.4a3.9 2.6 155 1 0 7.1 -3.4zM10.0 91.0a4.2 2.8 96 1 0 -0.9 8.3a4.2 2.8 96 1 0 0.9 -8.3zM100.8 12.4a3.3 2.5 148 1 0 -5.6 3.5a3.3 2.5 148 1 0 5.6 -3.5zM99.3 56.0a3.3 2.7 80 1 0 1.1 6.5a3.3 2.7 80 1 0 -1.1 -6.5zM199.8 134.3a4.7 2.6 112 1 0 -3.5 8.7a4.7 2.6 112 1 0 3.5 -8.7zM145.6 216.7a4.7 2.7 77 1 0 2.0 9.2a4.7 2.7 77 1 0 -2.0 -9.2zM199.1 93.9a3.4 2.1 6 1 0 6.9 0.7a3.4 2.1 6 1 0 -6.9 -0.7zM232.2 175.2a4.1 2.7 49 1 0 5.4 6.3a4.1 2.7 49 1 0 -5.4 -6.3zM145.7 11.5a3.9 2.6 98 1 0 -1.0 7.7a3.9 2.6 98 1 0 1.0 -7.7zM14.6 111.5a2.9 2.7 56 1 0 3.3 4.9a2.9 2.7 56 1 0 -3.3 -4.9zM67.6 66.2a3.7 2.6 142 1 0 -5.8 4.5a3.7 2.6 142 1 0 5.8 -4.5zM236.1 4.0a4.3 2.6 162 1 0 -8.2 2.6a4.3 2.6 162 1 0 8.2 -2.6zM29.0 197.5a2.8 2.1 143 1 0 -4.5 3.4a2.8 2.1 143 1 0 4.5 -3.4zM157.9 208.5a3.1 2.8 132 1 0 -4.1 4.6a3.1 2.8 132 1 0 4.1 -4.6zM199.2 39.7a3.1 2.1 119 1 0 -3.0 5.4a3.1 2.1 119 1 0 3.0 -5.4zM236.1 -4.2a4.3 2.8 102 1 0 -1.9 8.5a4.3 2.8 102 1 0 1.9 -8.5zM191.0 150.6a2.9 2.9 64 1 0 2.6 5.3a2.9 2.9 64 1 0 -2.6 -5.3zM120.1 216.8a3.5 2.9 15 1 0 6.8 1.8a3.5 2.9 15 1 0 -6.8 -1.8zM35.8 30.0a3.9 3.1 110 1 0 -2.7 7.3a3.9 3.1 110 1 0 2.7 -7.3zM195.6 200.4a3.2 2.7 148 1 0 -5.4 3.4a3.2 2.7 148 1 0 5.4 -3.4zM228.1 217.8a2.9 2.6 64 1 0 2.5 5.2a2.9 2.6 64 1 0 -2.5 -5.2zM117.7 233.9a4.3 2.1 45 1 0 6.1 6.0a4.3 2.1 45 1 0 -6.1 -6.0zM211.2 108.6a3.0 2.6 45 1 0 4.2 4.2a3.0 2.6 45 1 0 -4.2 -4.2zM139.0 236.6a4.3 2.8 27 1 0 7.6 3.9a4.3 2.8 27 1 0 -7.6 -3.9zM157.0 182.0a3.6 2.1 167 1 0 -7.0 1.6a3.6 2.1 167 1 0 7.0 -1.6zM173.9 110.6a4.3 2.4 17 1 0 8.2 2.5a4.3 2.4 17 1 0 -8.2 -2.5zM225.5 148.9a4.6 2.2 54 1 0 5.4 7.4a4.6 2.2 54 1 0 -5.4 -7.4zM94.6 174.6a3.9 2.4 61 1 0 3.8 6.8a3.9 2.4 61 1 0 -3.8 -6.8zM2.5 77.6a3.3 2.1 87 1 0 0.3 6.5a3.3 2.1 87 1 0 -0.3 -6.5zM220.5 184.9a4.0 2.9 49 1 0 5.3 6.1a4.0 2.9 49 1 0 -5.3 -6.1zM151.4 53.1a4.7 2.5 160 1 0 -8.8 3.3a4.7 2.5 160 1 0 8.8 -3.3zM179.8 80.0a3.8 2.6 153 1 0 -6.7 3.4a3.8 2.6 153 1 0 6.7 -3.4zM86.2 75.0a4.3 2.1 11 1 0 8.5 1.7a4.3 2.1 11 1 0 -8.5 -1.7zM23.7 103.4a4.5 2.4 18 1 0 8.5 2.8a4.5 2.4 18 1 0 -8.5 -2.8zM83.0 134.4a4.2 2.5 132 1 0 -5.6 6.3a4.2 2.5 132 1 0 5.6 -6.3zM202.4 180.1a4.5 2.8 51 1 0 5.7 7.0a4.5 2.8 51 1 0 -5.7 -7.0zM189.7 186.8a4.2 2.9 148 1 0 -7.1 4.4a4.2 2.9 148 1 0 7.1 -4.4zM102.2 52.7a4.5 2.7 34 1 0 7.4 5.1a4.5 2.7 34 1 0 -7.4 -5.1zM195.6 58.1a3.7 2.2 110 1 0 -2.6 7.0a3.7 2.2 110 1 0 2.6 -7.0zM187.3 27.9a3.1 2.4 0 1 0 6.1 0.0a3.1 2.4 0 1 0 -6.1 -0.0zM229.7 206.5a3.0 2.9 41 1 0 4.6 3.9a3.0 2.9 41 1 0 -4.6 -3.9zM151.1 69.2a3.1 2.1 32 1 0 5.2 3.2a3.1 2.1 32 1 0 -5.2 -3.2zM222.2 7.2a3.8 2.2 130 1 0 -4.8 5.8a3.8 2.2 130 1 0 4.8 -5.8zM88.1 175.3a2.7 2.5 59 1 0 2.8 4.6a2.7 2.5 59 1 0 -2.8 -4.6zM154.9 16.3a4.5 2.3 139 1 0 -6.7 5.9a4.5 2.3 139 1 0 6.7 -5.9zM20.1 45.4a2.8 2.3 25 1 0 5.1 2.4a2.8 2.3 25 1 0 -5.1 -2.4zM208.4 125.2a3.7 2.6 146 1 0 -6.1 4.1a3.7 2.6 146 1 0 6.1 -4.1zM120.0 17.6a4.3 2.9 126 1 0 -5.1 7.0a4.3 2.9 126 1 0 5.1 -7.0zM232.4 147.8a3.3 2.9 40 1 0 5.0 4.3a3.3 2.9 40 1 0 -5.0 -4.3zM219.2 8.9a4.5 2.4 103 1 0 -2.0 8.7a4.5 2.4 103 1 0 2.0 -8.7zM215.4 51.1a2.8 2.6 40 1 0 4.3 3.7a2.8 2.6 40 1 0 -4.3 -3.7zM24.0 18.8a3.8 2.1 48 1 0 5.1 5.7a3.8 2.1 48 1 0 -5.1 -5.7zM26.6 191.4a4.5 2.1 145 1 0 -7.5 5.2a4.5 2.1 145 1 0 7.5 -5.2zM172.9 11.5a4.2 3.0 47 1 0 5.8 6.1a4.2 3.0 47 1 0 -5.8 -6.1zM227.7 234.0a3.0 2.8 4 1 0 5.9 0.5a3.0 2.8 4 1 0 -5.9 -0.5zM195.8 104.6a3.8 2.1 83 1 0 1.0 7.5a3.8 2.1 83 1 0 -1.0 -7.5zM165.0 75.0a4.5 2.0 102 1 0 -1.9 8.8a4.5 2.0 102 1 0 1.9 -8.8zM186.2 88.1a3.1 2.6 35 1 0 5.1 3.6a3.1 2.6 35 1 0 -5.1 -3.6zM80.7 73.3a4.1 2.3 60 1 0 4.1 7.1a4.1 2.3 60 1 0 -4.1 -7.1zM225.2 33.4a3.3 2.3 57 1 0 3.6 5.5a3.3 2.3 57 1 0 -3.6 -5.5zM198.6 39.6a4.2 2.5 103 1 0 -1.9 8.1a4.2 2.5 103 1 0 1.9 -8.1zM148.4 40.7a3.9 2.4 141 1 0 -6.1 4.9a3.9 2.4 141 1 0 6.1 -4.9zM95.5 236.5a3.0 2.0 22 1 0 5.6 2.3a3.0 2.0 22 1 0 -5.6 -2.3zM23.2 174.5a2.8 2.3 112 1 0 -2.1 5.2a2.8 2.3 112 1 0 2.1 -5.2zM108.3 239.5a4.2 2.4 164 1 0 -8.0 2.4a4.2 2.4 164 1 0 8.0 -2.4zM197.9 80.4a3.4 2.8 137 1 0 -5.0 4.7a3.4 2.8 137 1 0 5.0 -4.7zM35.1 82.7a2.7 2.8 113 1 0 -2.1 4.9a2.7 2.8 113 1 0 2.1 -4.9zM231.5 236.2a4.2 2.9 127 1 0 -5.0 6.8a4.2 2.9 127 1 0 5.0 -6.8zM66.6 54.5a2.7 2.7 106 1 0 -1.5 5.2a2.7 2.7 106 1 0 1.5 -5.2zM124.6 219.7a4.2 2.2 104 1 0 -2.0 8.1a4.2 2.2 104 1 0 2.0 -8.1zM89.4 138.8a3.1 2.4 79 1 0 1.2 6.1a3.1 2.4 79 1 0 -1.2 -6.1zM122.8 34.7a4.0 2.6 95 1 0 -0.6 8.0a4.0 2.6 95 1 0 0.6 -8.0zM207.7 153.7a4.0 2.6 72 1 0 2.5 7.7a4.0 2.6 72 1 0 -2.5 -7.7zM160.9 105.0a2.8 2.3 10 1 0 5.5 0.9a2.8 2.3 10 1 0 -5.5 -0.9zM83.9 88.6a3.6 2.2 42 1 0 5.4 4.8a3.6 2.2 42 1 0 -5.4 -4.8zM66.4 62.1a3.7 2.8 11 1 0 7.2 1.4a3.7 2.8 11 1 0 -7.2 -1.4zM111.9 215.0a4.0 2.4 175 1 0 -7.9 0.7a4.0 2.4 175 1 0 7.9 -0.7zM201.1 201.1a2.7 2.2 142 1 0 -4.3 3.3a2.7 2.2 142 1 0 4.3 -3.3zM126.3 109.3a3.0 2.9 26 1 0 5.4 2.7a3.0 2.9 26 1 0 -5.4 -2.7zM20.9 0.6a3.3 2.1 84 1 0 0.6 6.5a3.3 2.1 84 1 0 -0.6 -6.5zM4.8 108.5a3.2 2.3 97 1 0 -0.8 6.4a3.2 2.3 97 1 0 0.8 -6.4zM15.4 220.1a4.7 2.3 119 1 0 -4.5 8.2a4.7 2.3 119 1 0 4.5 -8.2zM59.4 126.4a3.2 2.3 82 1 0 0.9 6.3a3.2 2.3 82 1 0 -0.9 -6.3zM59.7 236.8a4.3 2.4 179 1 0 -8.5 0.1a4.3 2.4 179 1 0 8.5 -0.1zM209.3 75.9a4.5 2.5 157 1 0 -8.3 3.5a4.5 2.5 157 1 0 8.3 -3.5zM91.1 81.2a4.3 2.9 24 1 0 7.8 3.5a4.3 2.9 24 1 0 -7.8 -3.5zM39.9 13.5a2.9 2.1 54 1 0 3.4 4.7a2.9 2.1 54 1 0 -3.4 -4.7zM215.8 153.4a4.2 2.4 58 1 0 4.5 7.2a4.2 2.4 58 1 0 -4.5 -7.2zM52.9 4.3a3.2 3.0 9 1 0 6.4 1.0a3.2 3.0 9 1 0 -6.4 -1.0zM57.7 181.6a2.7 2.6 130 1 0 -3.5 4.1a2.7 2.6 130 1 0 3.5 -4.1zM209.6 85.2a4.0 2.5 105 1 0 -2.1 7.6a4.0 2.5 105 1 0 2.1 -7.6zM81.8 88.0a4.7 2.8 28 1 0 8.3 4.4a4.7 2.8 28 1 0 -8.3 -4.4zM119.6 145.0a3.2 2.3 170 1 0 -6.3 1.1a3.2 2.3 170 1 0 6.3 -1.1zM136.0 163.9a4.2 2.2 141 1 0 -6.6 5.3a4.2 2.2 141 1 0 6.6 -5.3zM40.8 74.8a4.7 2.9 163 1 0 -9.0 2.8a4.7 2.9 163 1 0 9.0 -2.8zM117.9 6.4a4.4 2.1 50 1 0 5.6 6.7a4.4 2.1 50 1 0 -5.6 -6.7zM52.6 105.0a3.6 2.6 117 1 0 -3.3 6.3a3.6 2.6 117 1 0 3.3 -6.3zM208.9 13.4a2.9 2.7 37 1 0 4.6 3.5a2.9 2.7 37 1 0 -4.6 -3.5zM120.7 128.5a3.4 3.0 53 1 0 4.1 5.4a3.4 3.0 53 1 0 -4.1 -5.4zM36.1 69.6a2.9 2.7 4 1 0 5.8 0.4a2.9 2.7 4 1 0 -5.8 -0.4zM197.5 203.3a3.4 2.8 146 1 0 -5.6 3.8a3.4 2.8 146 1 0 5.6 -3.8zM147.4 179.1a3.3 2.4 46 1 0 4.6 4.8a3.3 2.4 46 1 0 -4.6 -4.8zM120.7 129.6a3.0 2.1 4 1 0 6.1 0.5a3.0 2.1 4 1 0 -6.1 -0.5zM39.5 145.6a4.4 2.6 116 1 0 -3.8 7.8a4.4 2.6 116 1 0 3.8 -7.8zM15.6 176.4a4.3 2.2 56 1 0 4.8 7.0a4.3 2.2 56 1 0 -4.8 -7.0zM151.9 111.3a3.6 2.1 115 1 0 -3.1 6.5a3.6 2.1 115 1 0 3.1 -6.5z" fill="#1422f0"/>
<circle cx="217.0" cy="16.0" r="4.6" fill="#20e878"/>
<circle cx="217.0" cy="137.5" r="4.4" fill="#20e898"/>
<circle cx="75.5" cy="147.5" r="4.2" fill="#20e8a0"/>
<circle cx="75.0" cy="198.5" r="4.6" fill="#20f0a0"/>
<circle cx="39.0" cy="165.5" r="3.2" fill="#20c850"/>
<circle cx="226.0" cy="195.0" r="2.8" fill="#20d0e0"/>
</g></g>
<polygon points="738.8,399.6 757.6,392.0 749.4,410.4" fill="#ffea00"/>
<polygon points="738.8,517.6 757.6,509.0 749.0,526.7" fill="#ffea00"/>
<polygon points="600.0,528.8 618.4,520.6 609.8,538.4" fill="#ffea00"/>
<polygon points="560.2,546.7 579.0,538.4 570.4,556.7" fill="#ffea00"/>
<polygon points="595.9,577.8 615.7,571.2 606.1,588.0" fill="#ffea00"/>
<polygon points="749.0,574.7 767.3,566.1 758.8,584.5" fill="#ffea00"/>
<line x1="553.0" y1="598.4" x2="640.8" y2="598.4" stroke="#fff" stroke-width="3.1" />
<text font-size="19.8" text-anchor="middle" fill="#fff" stroke="#fff" stroke-width="0.32" transform="translate(602.0 589.4)">100µm</text>
<clipPath id="c5"><rect x="0" y="0" width="239.2" height="239.0"/></clipPath>
<g transform="translate(862.8 77.1)" clip-path="url(#c5)">
<rect width="239.2" height="239.0" fill="#0a2a16"/>
<radialGradient id="g7"><stop offset="0" stop-color="#10401e" stop-opacity="0.6"/><stop offset="1" stop-color="#10401e" stop-opacity="0"/></radialGradient>
<circle cx="40" cy="60" r="40" fill="url(#g7)"/>
<radialGradient id="g8"><stop offset="0" stop-color="#0e3a22" stop-opacity="0.6"/><stop offset="1" stop-color="#0e3a22" stop-opacity="0"/></radialGradient>
<circle cx="120" cy="170" r="50" fill="url(#g8)"/>
<radialGradient id="g9"><stop offset="0" stop-color="#02100a" stop-opacity="0.5"/><stop offset="1" stop-color="#02100a" stop-opacity="0"/></radialGradient>
<circle cx="60" cy="130" r="30" fill="url(#g9)"/>
<radialGradient id="g10"><stop offset="0" stop-color="#04140c" stop-opacity="0.5"/><stop offset="1" stop-color="#04140c" stop-opacity="0"/></radialGradient>
<circle cx="200" cy="40" r="40" fill="url(#g10)"/>
<g filter="url(#bl)">
<path d="M54.1 34.2h2.2v1.8h-2.2zM143.4 171.7h1.8v2.2h-1.8zM159.1 69.9h3.0v3.6h-3.0zM169.8 36.5h2.6v2.6h-2.6zM47.8 82.8h2.6v2.6h-2.6zM109.2 15.4h1.8v2.2h-1.8zM13.7 125.2h2.2v1.8h-2.2zM25.8 195.8h2.6v2.6h-2.6zM187.1 181.5h3.0v3.6h-3.0zM12.0 129.8h1.8v2.2h-1.8zM19.8 11.4h2.2v2.6h-2.2zM135.6 172.2h2.2v2.6h-2.2zM4.3 205.1h2.6v3.1h-2.6zM53.0 4.1h2.2v2.2h-2.2zM217.6 176.0h2.6v2.1h-2.6zM169.5 29.0h1.8v1.4h-1.8zM162.5 88.7h3.0v3.0h-3.0zM70.8 220.8h3.0v3.0h-3.0zM47.8 231.9h1.8v2.2h-1.8zM12.3 103.6h3.0v3.6h-3.0zM66.0 170.0h1.8v1.4h-1.8zM116.9 142.1h3.0v2.4h-3.0zM-0.5 211.0h1.8v1.8h-1.8zM106.0 99.7h1.8v2.2h-1.8zM123.5 57.3h3.0v3.0h-3.0zM45.1 34.4h2.2v2.6h-2.2zM217.1 94.6h2.2v2.2h-2.2zM33.2 185.2h2.2v1.8h-2.2zM169.1 115.9h2.2v2.6h-2.2zM113.9 98.1h2.2v2.2h-2.2zM173.8 118.4h2.2v1.8h-2.2zM188.8 171.1h2.2v2.6h-2.2zM171.7 121.5h3.0v3.6h-3.0zM24.6 104.7h2.2v2.2h-2.2zM3.9 183.1h2.6v3.1h-2.6zM182.0 183.2h3.0v3.6h-3.0zM49.1 80.5h2.2v1.8h-2.2zM193.2 98.8h3.0v2.4h-3.0zM22.1 235.4h2.2v1.8h-2.2zM14.9 27.0h2.2v2.6h-2.2zM140.7 75.3h2.6v2.6h-2.6zM118.1 64.7h2.6v3.1h-2.6zM86.4 113.2h3.0v3.0h-3.0zM100.2 233.5h1.8v1.8h-1.8zM2.9 98.1h2.2v2.2h-2.2zM128.6 102.2h1.8v1.8h-1.8zM29.6 115.5h1.8v1.4h-1.8zM24.7 214.3h2.2v2.2h-2.2zM105.3 69.8h1.8v1.4h-1.8zM53.3 66.7h2.6v2.6h-2.6zM17.4 41.1h2.2v2.6h-2.2zM160.1 9.8h1.8v2.2h-1.8zM14.1 184.0h3.0v2.4h-3.0zM200.2 145.3h2.6v2.1h-2.6zM237.2 80.0h3.0v3.0h-3.0zM121.6 86.0h1.8v2.2h-1.8zM59.1 201.0h3.0v3.6h-3.0zM53.2 200.4h1.8v1.4h-1.8zM29.1 208.1h3.0v3.6h-3.0zM65.8 125.1h3.0v2.4h-3.0zM132.6 211.7h2.2v1.8h-2.2zM211.7 173.6h2.6v3.1h-2.6zM138.6 122.5h2.6v2.6h-2.6zM105.9 25.3h2.6v2.1h-2.6zM56.9 78.1h1.8v1.8h-1.8zM11.1 58.6h3.0v2.4h-3.0zM80.4 37.7h2.6v2.6h-2.6zM210.7 24.9h1.8v1.8h-1.8zM177.8 156.9h2.6v2.1h-2.6zM186.6 121.2h2.6v2.6h-2.6zM85.1 222.0h2.2v2.6h-2.2zM110.4 81.3h2.6v3.1h-2.6zM166.1 233.1h2.2v1.8h-2.2zM161.7 18.7h1.8v1.8h-1.8zM206.2 5.8h3.0v3.0h-3.0zM118.8 145.8h2.2v2.6h-2.2zM212.6 88.2h2.6v2.1h-2.6zM120.3 43.5h1.8v2.2h-1.8zM143.6 6.1h3.0v3.6h-3.0zM188.9 95.3h2.6v2.6h-2.6zM86.7 34.7h2.6v2.6h-2.6zM48.5 166.2h2.2v2.6h-2.2zM214.3 220.6h3.0v3.0h-3.0zM215.6 -0.3h3.0v3.6h-3.0zM130.9 52.9h1.8v1.8h-1.8zM227.9 41.6h2.6v2.1h-2.6zM97.2 38.8h1.8v2.2h-1.8zM184.4 197.1h3.0v3.6h-3.0zM72.9 60.0h3.0v2.4h-3.0zM101.5 186.9h2.6v2.6h-2.6zM192.7 177.0h3.0v2.4h-3.0zM13.2 201.0h1.8v1.4h-1.8zM44.6 170.3h2.2v2.2h-2.2zM211.8 58.5h2.2v2.2h-2.2zM185.7 115.2h1.8v1.8h-1.8zM60.5 61.3h3.0v3.0h-3.0zM39.4 168.3h2.2v2.2h-2.2zM103.7 31.8h2.6v3.1h-2.6zM217.7 166.2h1.8v2.2h-1.8zM151.7 179.4h3.0v3.6h-3.0zM166.5 18.0h2.6v3.1h-2.6zM224.3 51.2h3.0v3.6h-3.0zM215.0 106.3h3.0v3.6h-3.0zM122.4 53.1h2.2v2.2h-2.2zM170.7 129.3h3.0v3.6h-3.0zM231.0 43.0h3.0v3.6h-3.0zM155.1 69.4h2.2v2.6h-2.2zM158.3 117.6h3.0v2.4h-3.0zM159.0 29.7h2.2v2.6h-2.2zM199.6 189.4h1.8v2.2h-1.8zM211.5 55.4h1.8v2.2h-1.8zM154.8 108.3h1.8v1.8h-1.8zM76.6 12.3h2.2v1.8h-2.2zM218.0 175.4h3.0v3.6h-3.0zM66.1 101.4h2.2v2.2h-2.2zM172.3 56.0h3.0v3.6h-3.0zM132.7 231.5h1.8v2.2h-1.8zM222.3 7.8h2.2v2.6h-2.2zM167.7 199.7h2.6v2.6h-2.6zM213.9 74.0h1.8v1.4h-1.8zM76.0 187.9h1.8v1.4h-1.8zM5.8 208.7h1.8v2.2h-1.8zM23.2 221.8h1.8v2.2h-1.8zM68.0 2.8h2.6v2.1h-2.6zM27.5 148.7h2.2v2.2h-2.2zM74.5 28.3h2.2v1.8h-2.2zM158.4 107.3h2.6v2.1h-2.6zM206.1 28.7h3.0v3.0h-3.0zM82.5 208.7h2.2v2.2h-2.2zM97.4 40.2h3.0v3.0h-3.0zM64.1 19.3h2.6v2.6h-2.6zM235.1 171.2h2.2v2.6h-2.2zM30.3 35.7h1.8v1.8h-1.8zM53.1 152.6h2.6v2.6h-2.6zM179.5 20.3h2.2v2.6h-2.2zM134.6 232.4h2.6v3.1h-2.6zM209.4 147.8h3.0v3.0h-3.0zM61.3 129.7h1.8v1.4h-1.8zM233.0 196.4h1.8v1.8h-1.8zM77.6 11.4h3.0v3.0h-3.0zM117.4 79.0h3.0v2.4h-3.0zM206.3 42.4h1.8v1.8h-1.8zM76.4 87.8h1.8v2.2h-1.8zM186.3 129.8h1.8v2.2h-1.8zM142.7 157.5h1.8v1.8h-1.8zM227.2 102.0h1.8v1.8h-1.8zM102.5 58.4h3.0v2.4h-3.0zM107.9 147.7h2.2v2.2h-2.2zM184.9 215.3h1.8v1.8h-1.8zM123.6 112.3h1.8v1.4h-1.8zM51.8 98.6h3.0v3.6h-3.0zM8.5 96.7h2.6v2.6h-2.6zM220.1 39.9h3.0v3.0h-3.0zM83.5 94.5h2.2v2.2h-2.2zM4.5 154.5h1.8v1.4h-1.8zM93.3 85.4h3.0v2.4h-3.0zM90.9 145.3h2.6v2.6h-2.6zM24.9 45.7h3.0v3.6h-3.0zM50.3 93.3h1.8v1.4h-1.8zM157.8 108.7h3.0v3.0h-3.0zM6.9 123.6h1.8v1.8h-1.8zM233.3 125.6h2.6v3.1h-2.6zM207.0 203.2h1.8v2.2h-1.8zM33.7 163.2h3.0v3.6h-3.0zM21.6 27.9h2.6v3.1h-2.6zM39.9 109.9h2.6v3.1h-2.6zM224.4 66.9h2.2v1.8h-2.2zM37.8 29.5h1.8v2.2h-1.8zM187.1 5.7h1.8v1.8h-1.8zM237.8 65.8h2.2v2.2h-2.2zM182.3 180.9h1.8v1.8h-1.8zM190.7 152.8h1.8v1.8h-1.8zM137.5 145.1h2.2v2.6h-2.2zM180.7 85.5h3.0v2.4h-3.0zM76.0 185.9h2.6v2.6h-2.6zM110.1 127.0h2.2v1.8h-2.2zM84.0 66.6h1.8v1.8h-1.8zM140.8 9.9h2.6v2.1h-2.6zM118.6 53.6h1.8v1.4h-1.8zM102.6 37.6h2.6v2.1h-2.6zM172.1 80.2h2.6v2.6h-2.6zM235.1 222.2h2.2v2.2h-2.2zM190.5 182.5h3.0v2.4h-3.0zM160.6 232.9h2.6v2.6h-2.6zM12.7 7.5h2.2v2.2h-2.2zM144.2 11.4h3.0v2.4h-3.0zM139.7 128.6h2.6v2.1h-2.6zM55.7 41.9h1.8v2.2h-1.8zM230.6 130.5h2.2v1.8h-2.2zM156.1 157.4h2.2v1.8h-2.2zM208.8 118.3h2.6v3.1h-2.6zM168.5 2.2h3.0v3.6h-3.0zM58.2 99.3h2.6v2.6h-2.6zM143.1 71.9h2.2v1.8h-2.2zM134.9 188.4h2.2v2.6h-2.2zM68.1 173.1h3.0v2.4h-3.0zM64.8 122.8h2.2v2.2h-2.2zM214.5 23.3h2.2v1.8h-2.2zM125.1 90.1h2.6v2.1h-2.6zM163.5 7.1h3.0v3.0h-3.0zM23.8 4.8h2.6v2.1h-2.6zM43.9 59.9h1.8v1.4h-1.8zM202.8 161.2h1.8v1.8h-1.8zM130.6 27.5h3.0v3.6h-3.0zM167.2 55.5h3.0v3.6h-3.0zM119.2 42.3h2.2v2.2h-2.2zM198.5 236.2h2.2v2.2h-2.2zM55.1 230.3h1.8v2.2h-1.8zM51.5 190.6h3.0v2.4h-3.0zM41.7 134.7h2.2v1.8h-2.2zM136.1 113.6h1.8v2.2h-1.8zM52.0 126.7h3.0v3.6h-3.0zM11.8 4.0h2.6v3.1h-2.6zM225.8 60.4h1.8v2.2h-1.8zM54.4 122.1h2.2v2.2h-2.2zM96.4 9.0h2.6v3.1h-2.6zM5.2 237.3h2.2v2.6h-2.2zM182.2 87.2h3.0v3.0h-3.0zM175.9 160.4h3.0v3.0h-3.0zM135.5 159.9h3.0v3.0h-3.0zM136.6 162.2h3.0v2.4h-3.0zM106.4 188.3h2.6v2.1h-2.6zM50.9 237.8h1.8v2.2h-1.8zM40.1 23.2h1.8v1.4h-1.8zM26.3 63.0h1.8v1.8h-1.8zM85.8 16.3h3.0v2.4h-3.0zM174.7 19.6h2.6v2.6h-2.6zM180.3 106.7h1.8v1.4h-1.8zM198.4 224.1h1.8v1.4h-1.8zM171.2 48.7h2.6v2.6h-2.6zM11.2 195.7h3.0v2.4h-3.0zM36.9 158.8h1.8v1.8h-1.8zM132.7 58.8h3.0v2.4h-3.0zM212.4 220.6h1.8v1.8h-1.8zM131.8 107.3h1.8v1.8h-1.8zM4.9 17.0h1.8v2.2h-1.8zM67.1 220.5h2.6v3.1h-2.6zM184.7 155.9h1.8v1.4h-1.8zM56.9 152.2h1.8v1.4h-1.8zM35.1 68.7h2.6v3.1h-2.6zM105.9 200.5h1.8v1.8h-1.8zM156.0 0.7h3.0v3.6h-3.0zM93.8 133.9h3.0v2.4h-3.0zM210.3 21.9h2.2v2.2h-2.2zM85.3 173.4h2.2v2.2h-2.2zM110.7 105.1h1.8v1.8h-1.8zM30.9 237.5h2.6v2.1h-2.6zM141.1 204.8h2.6v2.6h-2.6zM9.7 164.8h2.2v2.6h-2.2zM200.5 199.0h3.0v2.4h-3.0zM15.9 105.0h2.6v2.1h-2.6zM139.3 124.9h2.2v2.6h-2.2zM54.3 137.5h2.2v1.8h-2.2zM64.1 42.3h2.6v3.1h-2.6zM190.7 184.0h1.8v1.8h-1.8zM159.0 39.6h2.2v2.2h-2.2zM175.6 66.5h1.8v1.4h-1.8zM11.9 208.9h2.2v1.8h-2.2zM180.0 93.5h2.6v2.6h-2.6zM70.6 164.5h1.8v2.2h-1.8zM211.3 110.1h1.8v1.8h-1.8zM179.3 74.7h2.2v1.8h-2.2zM204.9 41.0h1.8v2.2h-1.8zM66.9 218.7h1.8v2.2h-1.8zM4.9 146.0h2.2v2.2h-2.2zM96.5 231.4h1.8v1.8h-1.8zM73.7 167.7h2.2v2.2h-2.2zM98.0 56.3h2.6v3.1h-2.6zM85.8 41.0h3.0v3.6h-3.0zM183.9 12.7h2.6v3.1h-2.6zM0.6 5.3h3.0v2.4h-3.0zM20.2 102.6h3.0v2.4h-3.0zM5.0 3.4h2.2v1.8h-2.2zM221.9 89.1h3.0v2.4h-3.0zM238.2 148.7h2.6v3.1h-2.6zM198.0 130.5h2.6v2.6h-2.6zM0.6 112.9h2.2v2.2h-2.2zM100.0 146.1h1.8v1.4h-1.8zM58.4 209.0h1.8v2.2h-1.8zM180.8 170.9h2.6v2.1h-2.6zM72.3 21.1h1.8v1.4h-1.8zM84.6 90.6h2.6v3.1h-2.6zM231.9 130.0h3.0v3.0h-3.0zM155.7 213.7h3.0v2.4h-3.0zM94.9 127.5h3.0v3.6h-3.0zM54.2 84.9h1.8v2.2h-1.8zM25.7 123.8h1.8v1.4h-1.8zM193.2 137.7h3.0v2.4h-3.0zM148.3 168.3h2.6v2.1h-2.6zM212.4 225.0h2.2v2.2h-2.2zM102.4 122.3h3.0v2.4h-3.0zM161.5 192.3h3.0v3.6h-3.0zM223.6 203.5h2.6v2.1h-2.6zM170.0 216.7h2.6v2.6h-2.6zM8.0 189.6h2.2v2.2h-2.2zM156.4 38.2h2.2v2.2h-2.2zM232.2 146.4h1.8v2.2h-1.8zM134.9 135.3h3.0v3.0h-3.0zM98.2 183.3h2.2v2.2h-2.2zM221.7 85.7h2.2v2.2h-2.2zM185.9 85.2h2.2v2.2h-2.2zM191.3 208.2h3.0v3.6h-3.0zM101.4 101.3h1.8v1.4h-1.8zM124.1 129.1h2.2v2.6h-2.2zM178.3 44.4h2.6v2.6h-2.6zM225.9 166.6h2.2v1.8h-2.2zM47.6 232.1h2.6v2.1h-2.6zM78.0 69.9h2.2v2.2h-2.2zM161.5 20.2h1.8v2.2h-1.8zM115.9 110.9h2.6v2.1h-2.6z" fill="#2230c4"/>
<path d="M61.0 162.8h2.2v2.6h-2.2zM15.9 201.1h2.6v2.1h-2.6zM102.2 199.2h1.8v1.8h-1.8zM86.1 101.7h1.8v1.8h-1.8zM195.1 189.8h3.0v3.6h-3.0zM145.2 234.9h3.0v3.6h-3.0zM41.3 47.4h2.6v2.6h-2.6zM87.8 61.6h3.0v2.4h-3.0zM137.1 130.5h2.2v1.8h-2.2zM166.8 30.3h3.0v3.0h-3.0zM59.7 174.2h2.6v2.6h-2.6zM47.6 203.0h2.2v2.6h-2.2zM166.9 8.2h2.6v2.1h-2.6zM69.6 38.3h1.8v1.4h-1.8zM39.0 101.6h1.8v1.8h-1.8zM196.4 153.2h1.8v1.4h-1.8zM237.7 28.0h2.6v3.1h-2.6zM141.9 17.5h2.6v2.1h-2.6zM0.4 79.0h3.0v2.4h-3.0zM162.6 201.9h3.0v3.6h-3.0zM55.4 183.7h2.6v2.6h-2.6zM184.1 44.5h3.0v3.0h-3.0zM143.3 68.5h2.2v1.8h-2.2zM85.4 104.6h3.0v2.4h-3.0zM38.9 211.0h2.2v1.8h-2.2zM213.0 217.1h2.2v1.8h-2.2zM113.6 87.8h2.6v2.1h-2.6zM93.9 34.6h2.6v2.6h-2.6zM2.7 124.3h1.8v1.8h-1.8zM192.5 100.4h2.6v2.1h-2.6zM25.2 72.7h3.0v3.0h-3.0zM63.0 186.6h2.6v2.1h-2.6zM124.9 126.2h2.6v2.1h-2.6zM61.5 109.2h3.0v2.4h-3.0zM23.6 139.7h1.8v1.8h-1.8zM177.3 154.1h1.8v2.2h-1.8zM35.8 11.8h3.0v3.0h-3.0zM125.9 1.3h2.6v3.1h-2.6zM51.7 11.1h3.0v2.4h-3.0zM81.5 53.2h1.8v1.8h-1.8zM129.8 32.9h1.8v1.8h-1.8zM226.8 79.8h1.8v1.4h-1.8zM97.2 133.8h1.8v1.4h-1.8zM58.9 -0.2h2.6v2.6h-2.6zM200.0 125.9h2.6v2.1h-2.6zM29.8 15.0h2.2v2.2h-2.2zM37.1 2.7h2.2v1.8h-2.2zM18.3 115.4h2.2v1.8h-2.2zM11.9 147.4h2.2v1.8h-2.2zM167.9 100.9h2.6v2.1h-2.6zM61.7 191.6h3.0v3.0h-3.0zM192.3 51.5h1.8v1.4h-1.8zM168.8 54.8h2.6v2.1h-2.6zM101.2 12.6h3.0v2.4h-3.0zM226.2 190.1h3.0v3.0h-3.0zM56.7 102.8h2.6v2.6h-2.6zM9.2 82.6h3.0v3.0h-3.0zM179.4 93.0h3.0v2.4h-3.0zM191.0 174.7h3.0v2.4h-3.0zM8.3 166.1h3.0v3.0h-3.0zM116.8 116.0h3.0v2.4h-3.0zM222.8 121.4h1.8v1.4h-1.8zM26.2 99.4h2.2v2.2h-2.2zM15.0 39.4h2.2v2.6h-2.2zM236.6 -0.5h2.2v1.8h-2.2zM110.9 26.8h1.8v1.8h-1.8zM125.1 41.9h1.8v2.2h-1.8zM5.6 148.3h3.0v3.6h-3.0zM191.4 77.5h2.2v1.8h-2.2zM98.0 185.0h3.0v2.4h-3.0zM127.7 191.8h1.8v2.2h-1.8zM185.9 137.7h2.6v2.1h-2.6zM234.2 3.3h2.6v2.1h-2.6zM32.1 209.0h1.8v1.4h-1.8zM201.2 17.1h1.8v2.2h-1.8zM110.8 169.8h1.8v2.2h-1.8zM80.3 175.2h1.8v1.8h-1.8zM91.8 68.9h2.6v3.1h-2.6zM23.7 127.2h1.8v1.4h-1.8zM72.1 231.9h1.8v2.2h-1.8zM10.3 123.4h2.6v2.1h-2.6zM152.4 142.9h2.6v2.1h-2.6zM71.1 111.6h2.2v2.6h-2.2zM77.6 189.6h3.0v2.4h-3.0zM217.1 30.9h1.8v1.8h-1.8zM70.6 171.8h2.2v1.8h-2.2zM66.3 188.7h3.0v3.6h-3.0zM149.9 1.8h2.2v2.2h-2.2zM231.1 14.8h2.2v1.8h-2.2zM24.0 208.1h2.6v2.6h-2.6zM133.0 14.4h2.6v3.1h-2.6zM53.4 102.8h2.2v1.8h-2.2zM20.8 155.6h2.2v1.8h-2.2zM110.7 99.8h1.8v1.8h-1.8zM134.7 120.4h2.6v3.1h-2.6zM88.8 129.5h2.2v1.8h-2.2zM83.5 197.4h1.8v2.2h-1.8zM78.5 98.8h3.0v2.4h-3.0zM24.7 50.1h3.0v3.6h-3.0zM204.8 23.8h2.2v1.8h-2.2zM158.8 150.2h3.0v3.6h-3.0zM123.4 48.2h1.8v1.8h-1.8zM106.4 103.9h2.2v2.2h-2.2zM179.6 205.8h2.6v3.1h-2.6zM180.7 228.7h2.6v2.1h-2.6zM222.4 14.2h2.6v2.6h-2.6zM47.9 25.9h1.8v1.8h-1.8zM7.8 69.4h3.0v2.4h-3.0zM61.1 111.0h2.6v2.6h-2.6zM88.7 76.0h1.8v1.4h-1.8zM101.2 225.4h1.8v1.8h-1.8zM96.4 211.5h1.8v2.2h-1.8zM78.4 207.5h1.8v2.2h-1.8zM100.6 130.7h2.2v2.6h-2.2zM186.7 49.1h3.0v2.4h-3.0zM115.2 186.0h2.2v1.8h-2.2zM43.0 6.3h1.8v1.4h-1.8zM63.6 38.1h3.0v3.0h-3.0zM47.5 218.8h3.0v3.0h-3.0zM62.9 112.2h2.6v2.6h-2.6zM213.0 68.4h3.0v3.0h-3.0zM82.4 109.8h2.2v1.8h-2.2zM123.0 99.2h3.0v2.4h-3.0zM146.6 218.2h2.2v2.6h-2.2zM61.3 197.6h1.8v1.4h-1.8zM97.3 163.1h2.2v2.2h-2.2zM194.6 230.4h2.6v3.1h-2.6zM26.0 84.1h3.0v3.0h-3.0zM55.3 199.0h2.2v2.6h-2.2zM62.0 45.5h2.2v2.2h-2.2zM126.3 110.7h1.8v1.8h-1.8zM92.8 88.3h3.0v3.6h-3.0zM27.7 225.5h1.8v1.4h-1.8zM232.0 21.7h3.0v2.4h-3.0zM54.9 9.6h3.0v2.4h-3.0zM108.6 101.0h1.8v1.4h-1.8zM203.6 237.0h3.0v3.6h-3.0zM237.2 234.0h2.6v2.1h-2.6zM192.8 63.7h2.2v2.6h-2.2zM79.0 14.8h1.8v2.2h-1.8zM154.0 91.9h2.2v2.6h-2.2zM228.6 235.9h2.2v2.2h-2.2zM236.5 -0.7h1.8v1.4h-1.8zM49.2 160.8h2.6v2.1h-2.6zM235.8 25.1h1.8v1.8h-1.8zM127.0 217.0h3.0v3.0h-3.0zM114.2 114.2h2.6v2.1h-2.6zM35.0 147.7h2.2v1.8h-2.2zM119.9 28.5h2.2v2.6h-2.2zM223.3 33.6h3.0v3.0h-3.0zM197.8 32.2h1.8v1.8h-1.8zM2.1 131.9h1.8v1.8h-1.8zM48.4 121.2h2.2v2.2h-2.2zM-0.8 235.4h2.6v2.1h-2.6zM126.2 10.2h2.2v1.8h-2.2zM162.3 36.2h2.6v2.6h-2.6zM227.0 107.3h2.2v2.2h-2.2zM192.6 198.4h1.8v1.4h-1.8zM40.7 33.1h2.6v3.1h-2.6zM62.2 222.1h3.0v3.6h-3.0zM88.9 189.7h2.6v2.1h-2.6zM179.0 88.8h3.0v3.6h-3.0zM237.2 21.7h3.0v3.6h-3.0zM193.7 2.5h1.8v1.8h-1.8zM225.4 106.9h2.6v2.6h-2.6zM207.0 26.2h2.2v1.8h-2.2zM87.0 104.9h3.0v3.6h-3.0zM140.0 52.8h2.6v2.1h-2.6zM25.9 201.7h1.8v1.4h-1.8zM59.9 141.9h3.0v3.6h-3.0zM172.2 79.0h1.8v1.8h-1.8zM108.2 122.0h3.0v3.0h-3.0zM213.9 137.3h2.2v2.2h-2.2zM98.4 3.9h2.2v1.8h-2.2zM223.2 36.2h3.0v2.4h-3.0zM110.8 62.9h3.0v3.6h-3.0zM177.6 162.5h3.0v3.6h-3.0zM11.6 95.7h2.2v2.6h-2.2zM105.1 153.3h1.8v1.4h-1.8zM53.1 22.3h2.2v2.2h-2.2zM181.8 121.4h2.6v2.6h-2.6zM100.7 102.0h2.2v1.8h-2.2zM153.3 178.0h2.2v2.2h-2.2zM133.5 227.3h2.6v3.1h-2.6zM142.4 197.3h2.2v1.8h-2.2zM33.9 224.4h3.0v3.0h-3.0zM64.7 164.6h2.2v2.6h-2.2zM12.0 201.8h2.2v2.2h-2.2zM14.1 216.9h2.2v2.6h-2.2zM35.5 151.8h1.8v1.4h-1.8zM68.0 67.9h2.6v2.1h-2.6zM43.6 13.4h2.6v2.6h-2.6zM79.2 225.7h2.2v2.2h-2.2zM221.6 26.5h1.8v1.8h-1.8zM68.8 93.6h3.0v3.6h-3.0zM138.5 0.2h3.0v3.0h-3.0zM173.9 179.0h2.2v2.2h-2.2zM200.5 35.2h2.6v3.1h-2.6zM79.2 228.7h1.8v1.8h-1.8zM55.9 67.8h2.6v2.6h-2.6zM25.4 217.2h2.2v1.8h-2.2zM204.5 63.7h3.0v3.0h-3.0zM213.6 118.5h2.2v1.8h-2.2zM49.0 216.3h2.2v1.8h-2.2zM180.6 114.2h2.6v2.1h-2.6zM138.2 229.1h2.6v2.1h-2.6zM229.5 185.8h1.8v1.8h-1.8zM208.5 184.9h2.2v1.8h-2.2zM225.2 69.6h3.0v3.6h-3.0zM10.5 152.4h2.6v2.6h-2.6zM38.3 129.2h2.6v2.1h-2.6zM86.7 146.1h1.8v1.4h-1.8zM41.5 27.8h2.6v2.1h-2.6zM22.9 5.7h2.6v2.1h-2.6zM98.2 28.0h3.0v3.0h-3.0zM98.0 188.6h2.2v2.6h-2.2zM19.1 128.9h2.6v2.6h-2.6zM200.9 57.2h2.2v2.6h-2.2zM161.7 116.2h1.8v1.8h-1.8zM78.2 196.6h2.2v2.2h-2.2zM210.5 37.9h1.8v1.8h-1.8zM150.6 39.8h2.6v3.1h-2.6zM175.8 94.4h1.8v1.4h-1.8zM94.4 233.8h2.6v2.6h-2.6zM207.2 20.1h2.6v2.1h-2.6zM93.0 141.5h2.2v1.8h-2.2zM103.6 27.9h2.6v3.1h-2.6zM162.1 51.6h2.6v2.6h-2.6zM115.2 60.8h2.2v2.6h-2.2zM4.6 12.1h3.0v3.6h-3.0zM142.6 6.7h3.0v3.6h-3.0zM201.6 149.8h2.2v2.6h-2.2zM231.0 146.2h3.0v3.0h-3.0zM157.5 215.9h3.0v3.6h-3.0zM183.2 35.2h2.2v1.8h-2.2zM146.3 127.0h2.6v3.1h-2.6zM92.7 109.4h1.8v2.2h-1.8zM113.9 49.2h1.8v2.2h-1.8zM81.9 9.2h3.0v3.6h-3.0zM176.5 110.0h2.2v2.6h-2.2zM176.4 118.3h2.2v2.6h-2.2zM7.7 75.7h2.2v2.6h-2.2zM166.5 150.3h2.2v2.6h-2.2zM3.7 211.0h1.8v1.4h-1.8zM208.7 28.0h3.0v2.4h-3.0zM143.5 21.5h2.2v2.6h-2.2zM225.0 136.1h2.6v2.6h-2.6zM82.8 92.9h1.8v1.8h-1.8zM77.5 181.1h2.2v1.8h-2.2zM222.3 78.5h3.0v3.6h-3.0zM29.7 44.2h3.0v2.4h-3.0zM143.3 10.7h2.6v2.6h-2.6zM92.1 132.2h2.2v2.2h-2.2zM67.1 65.6h3.0v3.6h-3.0zM165.5 55.5h2.2v2.2h-2.2zM167.2 135.9h3.0v3.0h-3.0zM130.7 32.4h1.8v2.2h-1.8zM11.0 223.0h1.8v1.8h-1.8zM43.7 49.0h2.6v2.1h-2.6zM110.3 71.0h2.2v1.8h-2.2zM6.8 55.7h2.6v2.1h-2.6zM140.6 139.0h3.0v2.4h-3.0zM103.2 93.0h3.0v3.6h-3.0zM97.6 107.9h1.8v1.8h-1.8zM152.2 78.7h1.8v1.8h-1.8zM112.4 49.3h2.6v2.6h-2.6zM12.7 202.1h2.6v3.1h-2.6zM155.1 215.3h2.2v2.2h-2.2zM222.8 98.8h1.8v1.4h-1.8zM52.1 110.2h2.6v3.1h-2.6zM211.1 202.6h1.8v1.4h-1.8zM39.5 135.7h3.0v3.0h-3.0zM91.5 51.7h2.6v2.1h-2.6zM89.4 3.8h2.6v2.1h-2.6zM57.2 203.7h3.0v2.4h-3.0zM222.5 215.5h1.8v1.4h-1.8zM18.4 16.9h2.2v2.6h-2.2zM35.8 38.2h2.2v1.8h-2.2zM138.3 106.0h2.6v2.1h-2.6zM75.5 64.6h2.2v1.8h-2.2zM232.7 25.2h2.6v2.1h-2.6zM143.9 22.8h2.2v1.8h-2.2zM163.9 4.2h2.2v1.8h-2.2zM9.3 64.1h3.0v3.0h-3.0zM44.3 168.1h2.6v2.6h-2.6zM104.2 236.1h1.8v1.4h-1.8zM152.0 141.1h2.2v2.2h-2.2zM123.6 66.5h2.2v2.2h-2.2zM96.0 98.5h1.8v1.8h-1.8zM16.6 186.8h1.8v1.4h-1.8zM229.5 50.9h1.8v1.4h-1.8zM145.1 224.7h3.0v3.0h-3.0zM168.1 20.2h3.0v3.6h-3.0zM214.7 2.4h2.2v2.6h-2.2zM152.5 130.6h2.2v1.8h-2.2zM-0.8 103.2h3.0v3.6h-3.0zM234.4 156.9h2.2v2.2h-2.2zM130.7 131.9h1.8v1.8h-1.8zM67.0 151.6h2.6v2.1h-2.6zM59.1 191.3h3.0v2.4h-3.0zM144.4 37.4h2.6v2.6h-2.6zM169.4 38.7h2.6v3.1h-2.6zM214.0 201.8h2.6v3.1h-2.6zM35.1 219.7h3.0v3.6h-3.0zM5.2 74.6h2.2v1.8h-2.2zM8.7 226.2h2.6v2.1h-2.6zM44.0 69.7h2.2v2.6h-2.2zM132.0 106.9h3.0v3.6h-3.0zM231.3 13.4h2.2v2.2h-2.2zM1.0 28.4h2.2v2.6h-2.2zM146.0 131.5h3.0v2.4h-3.0zM54.6 28.0h3.0v3.6h-3.0zM198.9 223.8h3.0v3.6h-3.0zM168.6 235.6h2.6v3.1h-2.6zM125.4 19.2h2.2v2.2h-2.2zM218.1 199.6h2.2v1.8h-2.2zM92.8 12.6h1.8v1.8h-1.8zM154.8 124.8h2.2v2.6h-2.2zM189.1 125.6h2.6v2.1h-2.6zM208.4 133.5h2.6v2.1h-2.6zM74.1 203.4h1.8v2.2h-1.8zM5.6 50.4h1.8v2.2h-1.8zM220.0 130.7h3.0v3.6h-3.0zM116.5 116.8h2.2v1.8h-2.2zM229.1 167.0h2.2v1.8h-2.2zM145.4 202.7h1.8v1.8h-1.8zM208.1 32.5h2.2v2.6h-2.2zM3.6 77.2h3.0v2.4h-3.0zM208.4 206.9h3.0v3.6h-3.0zM168.7 215.0h3.0v3.0h-3.0zM214.3 10.6h3.0v3.0h-3.0zM29.4 50.4h2.6v2.1h-2.6zM123.4 36.9h1.8v1.4h-1.8zM6.9 78.0h2.2v2.6h-2.2zM32.6 53.4h1.8v2.2h-1.8zM207.7 211.9h2.6v2.1h-2.6zM72.4 157.6h1.8v2.2h-1.8zM99.3 118.7h2.2v2.6h-2.2zM53.6 37.3h1.8v1.8h-1.8zM171.0 110.9h2.2v2.2h-2.2zM212.6 228.0h1.8v1.4h-1.8zM113.9 222.9h2.2v2.2h-2.2zM98.7 31.2h1.8v1.4h-1.8zM192.3 44.1h2.2v2.2h-2.2zM120.8 78.8h3.0v2.4h-3.0zM50.3 1.6h2.6v3.1h-2.6zM178.2 69.6h3.0v3.6h-3.0zM84.5 210.7h1.8v1.8h-1.8zM87.0 78.0h2.6v3.1h-2.6zM207.3 188.1h1.8v1.4h-1.8zM156.3 4.2h1.8v1.4h-1.8zM58.9 31.7h2.2v2.2h-2.2zM20.6 72.1h3.0v2.4h-3.0zM17.8 70.8h3.0v3.6h-3.0zM2.0 202.9h2.2v2.6h-2.2zM43.4 119.2h3.0v2.4h-3.0zM121.2 113.7h2.2v2.2h-2.2zM77.1 216.6h1.8v2.2h-1.8zM94.0 149.0h1.8v1.4h-1.8zM238.0 89.2h2.2v2.6h-2.2zM111.1 46.3h2.6v3.1h-2.6zM8.5 31.4h2.2v2.6h-2.2zM70.4 120.9h1.8v1.8h-1.8zM15.9 56.7h1.8v1.4h-1.8zM200.5 158.2h1.8v2.2h-1.8zM112.8 24.3h2.2v1.8h-2.2zM57.4 229.6h2.2v2.2h-2.2zM123.5 31.3h1.8v1.8h-1.8zM64.2 175.0h2.6v2.1h-2.6zM81.4 78.4h2.6v3.1h-2.6zM29.8 72.0h2.2v1.8h-2.2zM82.1 114.1h2.2v1.8h-2.2zM3.8 169.5h2.6v2.6h-2.6zM88.6 166.8h1.8v1.4h-1.8zM198.5 200.0h3.0v3.6h-3.0zM111.9 185.6h1.8v1.4h-1.8zM103.2 11.1h3.0v3.6h-3.0zM109.4 155.6h2.2v1.8h-2.2zM179.7 17.4h1.8v1.8h-1.8zM165.5 147.1h1.8v1.8h-1.8zM25.9 122.4h2.2v1.8h-2.2zM29.7 91.0h3.0v3.0h-3.0zM154.0 105.5h3.0v3.6h-3.0zM165.5 119.5h2.6v2.1h-2.6zM68.8 4.9h3.0v3.6h-3.0zM212.8 70.7h1.8v1.8h-1.8zM112.2 208.2h2.2v2.6h-2.2zM173.5 160.9h3.0v3.6h-3.0zM44.0 29.8h3.0v3.0h-3.0zM17.8 178.8h2.6v2.6h-2.6zM135.2 74.2h1.8v1.4h-1.8zM151.8 79.9h2.6v2.1h-2.6zM4.6 70.7h1.8v1.4h-1.8zM171.2 53.1h1.8v2.2h-1.8zM73.5 84.4h1.8v1.4h-1.8zM136.9 128.0h1.8v1.8h-1.8zM15.7 151.8h1.8v1.8h-1.8zM148.2 66.4h2.2v2.6h-2.2zM34.6 190.9h1.8v1.4h-1.8zM62.8 139.3h2.2v2.2h-2.2zM188.1 75.0h2.2v1.8h-2.2zM97.8 87.2h2.6v2.6h-2.6zM26.7 227.1h1.8v2.2h-1.8zM60.1 92.1h3.0v3.6h-3.0zM87.1 125.2h1.8v1.4h-1.8zM63.2 44.2h2.2v1.8h-2.2zM129.2 168.6h2.2v1.8h-2.2zM106.0 105.3h2.6v3.1h-2.6zM76.1 95.4h3.0v2.4h-3.0zM133.5 199.0h2.6v3.1h-2.6zM101.0 24.7h2.6v2.6h-2.6zM122.7 102.7h2.2v2.6h-2.2zM141.3 186.4h1.8v1.4h-1.8zM219.4 16.1h2.2v1.8h-2.2zM153.7 99.6h1.8v1.8h-1.8zM119.7 112.2h2.2v2.2h-2.2zM48.5 54.1h2.2v2.2h-2.2zM124.9 151.3h1.8v1.4h-1.8zM48.8 96.9h3.0v3.6h-3.0zM147.9 212.1h3.0v2.4h-3.0zM56.6 183.6h2.2v2.2h-2.2zM210.0 183.4h2.2v1.8h-2.2zM172.3 178.3h2.6v2.6h-2.6zM123.1 231.5h2.2v2.2h-2.2zM166.1 85.3h2.6v2.1h-2.6zM170.1 101.4h1.8v1.8h-1.8zM135.3 63.6h3.0v3.6h-3.0zM42.4 8.0h1.8v2.2h-1.8zM-0.9 98.2h2.6v2.6h-2.6zM134.8 210.9h1.8v1.4h-1.8zM48.1 79.5h1.8v1.4h-1.8zM4.3 198.5h2.2v2.6h-2.2zM221.1 64.6h1.8v2.2h-1.8zM38.5 68.8h1.8v1.4h-1.8zM128.3 163.3h2.6v3.1h-2.6zM115.0 226.8h2.2v2.6h-2.2zM26.4 70.1h3.0v3.6h-3.0zM195.1 211.6h3.0v3.0h-3.0zM21.4 3.9h1.8v1.4h-1.8zM205.7 94.5h2.2v1.8h-2.2zM126.0 12.7h1.8v2.2h-1.8zM39.7 78.2h2.2v2.2h-2.2zM197.1 13.8h3.0v3.6h-3.0zM127.7 63.5h2.2v2.6h-2.2zM31.0 41.0h2.6v2.6h-2.6zM165.6 202.5h3.0v2.4h-3.0zM35.8 196.4h3.0v3.0h-3.0zM42.2 122.7h2.6v2.6h-2.6zM151.8 189.6h2.6v3.1h-2.6zM160.3 91.4h2.6v3.1h-2.6zM201.6 46.2h2.6v3.1h-2.6zM213.4 173.0h2.6v2.1h-2.6zM173.1 193.2h3.0v2.4h-3.0zM235.5 125.4h1.8v1.4h-1.8zM208.5 166.5h2.2v2.6h-2.2zM224.3 225.5h3.0v2.4h-3.0zM12.7 77.4h2.2v1.8h-2.2zM59.3 154.8h2.6v2.6h-2.6zM153.2 51.2h2.6v2.6h-2.6zM22.8 177.5h2.6v2.1h-2.6zM209.3 223.6h1.8v1.4h-1.8zM226.1 114.0h1.8v1.8h-1.8zM219.7 55.9h1.8v1.8h-1.8zM209.5 7.7h2.6v3.1h-2.6zM222.4 177.3h2.6v2.6h-2.6zM237.5 2.3h3.0v3.6h-3.0zM100.7 62.0h3.0v3.6h-3.0zM9.9 44.9h1.8v1.8h-1.8zM19.4 65.2h2.2v1.8h-2.2zM136.7 47.6h2.6v2.6h-2.6zM83.2 201.8h2.6v2.1h-2.6zM5.2 171.4h3.0v3.0h-3.0zM187.1 6.4h3.0v2.4h-3.0zM59.6 197.7h3.0v2.4h-3.0zM82.7 88.3h2.2v2.2h-2.2zM217.4 163.3h3.0v2.4h-3.0zM68.8 148.9h2.6v2.6h-2.6zM39.7 149.9h1.8v2.2h-1.8zM162.0 228.1h1.8v2.2h-1.8zM108.0 110.2h3.0v3.0h-3.0zM0.1 75.7h2.6v3.1h-2.6zM93.2 151.7h2.6v2.6h-2.6zM49.5 78.6h2.6v2.6h-2.6zM64.2 34.9h2.2v1.8h-2.2zM20.5 181.2h3.0v3.0h-3.0zM139.4 211.1h3.0v3.0h-3.0zM96.4 68.3h3.0v2.4h-3.0zM197.3 222.3h1.8v1.4h-1.8zM145.2 10.5h3.0v3.0h-3.0zM193.0 20.1h3.0v3.0h-3.0zM30.0 57.5h1.8v2.2h-1.8zM104.0 108.7h3.0v2.4h-3.0zM0.3 2.0h2.6v2.1h-2.6zM146.4 82.5h2.6v2.1h-2.6zM70.4 130.3h3.0v3.0h-3.0zM49.7 172.2h2.2v2.6h-2.2zM212.9 209.4h2.6v3.1h-2.6zM100.9 94.8h1.8v1.8h-1.8zM82.9 3.0h2.6v2.6h-2.6zM83.5 166.5h3.0v3.6h-3.0zM223.7 231.9h2.2v1.8h-2.2zM221.3 138.2h3.0v3.6h-3.0zM33.9 132.2h2.2v2.2h-2.2zM169.3 79.8h1.8v1.4h-1.8zM76.7 7.9h2.2v1.8h-2.2zM222.8 64.2h2.6v3.1h-2.6zM203.0 2.5h2.6v2.6h-2.6zM174.6 113.0h1.8v1.8h-1.8zM202.4 228.6h2.6v3.1h-2.6zM7.5 139.3h1.8v1.8h-1.8zM128.0 146.7h3.0v3.0h-3.0zM186.4 7.8h1.8v2.2h-1.8zM231.5 27.8h1.8v1.4h-1.8zM75.7 1.7h2.2v1.8h-2.2zM145.8 15.9h3.0v2.4h-3.0zM178.6 13.8h2.6v2.1h-2.6zM66.8 107.0h3.0v3.0h-3.0zM61.3 49.7h2.6v2.1h-2.6zM45.5 155.6h2.2v2.2h-2.2zM49.9 96.2h2.6v3.1h-2.6zM195.5 162.1h1.8v1.8h-1.8zM7.6 190.8h2.2v2.6h-2.2zM193.7 39.8h3.0v3.6h-3.0zM80.3 4.6h1.8v1.4h-1.8zM156.3 58.4h2.6v2.6h-2.6zM212.8 68.7h3.0v2.4h-3.0zM50.6 149.8h2.2v1.8h-2.2zM111.9 126.6h1.8v1.8h-1.8zM14.0 149.2h2.2v2.2h-2.2zM124.8 88.7h2.6v2.1h-2.6zM234.8 40.4h2.2v2.2h-2.2zM83.4 121.2h2.6v2.1h-2.6zM70.9 205.8h1.8v2.2h-1.8zM101.1 91.9h3.0v3.0h-3.0zM187.6 200.2h2.6v3.1h-2.6zM29.9 204.6h2.2v2.2h-2.2zM109.1 40.1h3.0v3.6h-3.0zM61.4 3.7h2.2v1.8h-2.2zM219.3 204.0h3.0v3.0h-3.0zM106.1 197.6h1.8v1.8h-1.8zM90.5 143.1h3.0v3.0h-3.0zM102.1 183.9h2.6v3.1h-2.6zM20.2 94.4h1.8v1.4h-1.8zM63.1 85.9h2.2v1.8h-2.2zM117.9 135.8h3.0v3.6h-3.0zM223.9 188.8h1.8v1.8h-1.8zM234.8 103.2h2.2v2.2h-2.2zM60.5 168.0h2.6v3.1h-2.6zM100.7 64.4h2.2v2.6h-2.2zM216.6 20.4h2.2v1.8h-2.2zM81.3 233.6h2.2v2.6h-2.2zM57.8 45.9h2.6v3.1h-2.6zM105.8 127.9h2.2v1.8h-2.2zM162.4 160.8h1.8v1.8h-1.8zM170.7 33.2h2.6v3.1h-2.6zM238.0 0.6h2.6v3.1h-2.6zM84.8 219.0h2.2v2.6h-2.2zM60.1 49.4h1.8v1.8h-1.8zM89.9 84.1h2.2v2.2h-2.2zM54.6 4.6h1.8v1.8h-1.8zM125.9 223.6h1.8v1.8h-1.8zM177.5 149.8h2.6v2.6h-2.6zM51.0 61.0h2.6v3.1h-2.6zM42.2 86.6h2.6v3.1h-2.6zM101.5 192.4h1.8v1.8h-1.8zM194.2 55.8h3.0v2.4h-3.0zM90.1 154.6h3.0v2.4h-3.0zM135.3 56.5h2.2v1.8h-2.2zM184.1 62.9h2.2v2.2h-2.2zM148.1 204.3h3.0v2.4h-3.0zM125.5 154.9h1.8v1.8h-1.8zM0.1 107.0h1.8v2.2h-1.8zM4.0 153.5h3.0v3.6h-3.0zM181.9 194.1h2.6v2.1h-2.6zM46.0 89.7h2.2v1.8h-2.2zM135.6 71.3h1.8v1.4h-1.8zM64.8 98.4h2.6v2.1h-2.6zM10.0 156.3h2.2v2.6h-2.2zM200.9 230.2h1.8v2.2h-1.8zM87.9 135.3h1.8v2.2h-1.8zM65.2 46.1h2.6v2.6h-2.6zM158.6 86.3h2.2v1.8h-2.2zM150.0 198.2h2.6v3.1h-2.6zM218.0 232.9h1.8v1.8h-1.8zM220.1 114.9h2.2v2.6h-2.2zM35.7 106.7h2.2v1.8h-2.2zM31.0 80.4h3.0v2.4h-3.0zM170.0 193.0h3.0v3.6h-3.0zM194.7 115.7h2.6v3.1h-2.6zM214.7 -0.5h1.8v1.4h-1.8zM225.4 187.0h3.0v3.0h-3.0zM173.5 123.4h1.8v2.2h-1.8zM18.8 166.8h2.2v2.6h-2.2zM8.4 189.2h3.0v3.0h-3.0zM84.4 48.5h2.6v2.1h-2.6zM9.3 7.5h1.8v2.2h-1.8zM89.8 187.0h1.8v1.4h-1.8zM124.2 118.6h3.0v2.4h-3.0zM203.2 221.0h2.2v1.8h-2.2zM157.1 44.3h3.0v3.0h-3.0zM45.6 63.7h3.0v2.4h-3.0zM123.7 222.7h3.0v2.4h-3.0zM36.8 151.2h2.2v1.8h-2.2zM165.3 162.1h2.2v2.6h-2.2zM207.1 158.5h1.8v1.4h-1.8zM226.8 66.4h2.2v2.2h-2.2zM93.9 207.1h2.2v2.2h-2.2zM16.2 33.6h2.2v1.8h-2.2zM142.8 34.1h1.8v1.8h-1.8zM191.3 177.8h2.2v2.6h-2.2zM14.1 148.4h3.0v3.6h-3.0zM151.3 44.2h3.0v3.0h-3.0zM65.2 171.4h1.8v1.4h-1.8zM136.3 60.5h2.6v2.1h-2.6zM116.2 52.8h2.6v3.1h-2.6zM163.9 222.9h3.0v2.4h-3.0zM209.6 188.9h2.6v3.1h-2.6zM11.7 207.7h3.0v2.4h-3.0zM121.7 192.2h3.0v3.0h-3.0zM143.0 27.3h2.6v3.1h-2.6zM55.5 164.5h1.8v1.4h-1.8zM114.3 200.0h1.8v1.8h-1.8zM221.4 62.3h3.0v3.0h-3.0zM168.6 72.6h3.0v2.4h-3.0zM29.2 41.8h1.8v1.4h-1.8zM213.5 113.0h2.2v1.8h-2.2zM24.2 139.9h2.2v1.8h-2.2zM218.4 29.9h3.0v3.0h-3.0zM55.6 144.5h2.2v1.8h-2.2zM28.2 74.4h1.8v2.2h-1.8zM91.0 11.1h1.8v2.2h-1.8zM21.8 48.2h2.6v3.1h-2.6zM233.1 160.3h2.2v1.8h-2.2zM156.4 16.9h2.2v1.8h-2.2zM145.7 175.0h3.0v2.4h-3.0zM20.0 31.3h1.8v1.8h-1.8zM104.2 185.1h2.6v2.6h-2.6zM148.3 120.4h1.8v1.8h-1.8zM223.5 19.7h2.2v1.8h-2.2zM163.9 72.7h3.0v3.6h-3.0zM220.8 48.7h2.6v2.1h-2.6zM43.6 94.5h1.8v2.2h-1.8zM212.1 16.3h2.6v2.6h-2.6zM195.3 234.6h2.6v2.6h-2.6zM47.5 65.9h2.6v3.1h-2.6zM101.2 4.0h3.0v3.6h-3.0zM75.8 131.5h2.6v2.6h-2.6zM56.8 138.7h1.8v2.2h-1.8zM76.0 99.5h2.6v2.1h-2.6zM8.5 212.6h3.0v3.6h-3.0zM146.1 27.1h2.2v2.2h-2.2zM36.3 33.7h3.0v2.4h-3.0zM172.3 62.3h1.8v1.4h-1.8zM16.0 79.3h2.2v2.2h-2.2zM55.2 106.6h2.2v1.8h-2.2zM7.7 31.8h1.8v1.4h-1.8zM2.2 15.8h1.8v1.8h-1.8zM155.4 76.8h1.8v2.2h-1.8zM1.9 88.6h2.2v1.8h-2.2zM26.4 105.2h3.0v3.0h-3.0zM126.0 72.8h3.0v2.4h-3.0zM107.9 67.5h2.6v3.1h-2.6zM89.3 89.9h1.8v1.4h-1.8zM-0.0 76.9h3.0v2.4h-3.0zM23.3 44.6h1.8v1.4h-1.8zM61.1 137.2h2.2v1.8h-2.2z" fill="#1a2688"/>
<path d="M198.6 19.3h2.6v2.6h-2.6zM177.1 225.9h2.6v2.6h-2.6zM202.3 115.3h3.0v3.6h-3.0zM-0.5 100.4h1.8v1.4h-1.8zM32.9 191.7h3.0v3.6h-3.0zM83.0 69.6h1.8v1.8h-1.8zM10.2 55.8h2.2v2.6h-2.2zM31.8 126.6h2.6v3.1h-2.6zM223.2 58.1h2.6v2.6h-2.6zM36.5 198.8h3.0v3.0h-3.0zM182.3 169.7h2.2v1.8h-2.2zM136.0 7.2h2.2v1.8h-2.2zM221.9 194.3h2.2v2.6h-2.2zM208.6 90.1h3.0v3.6h-3.0zM121.8 15.1h3.0v3.6h-3.0zM10.3 27.5h2.6v2.1h-2.6zM3.6 85.6h2.6v3.1h-2.6zM116.6 130.8h2.2v2.6h-2.2zM39.3 227.7h1.8v1.8h-1.8zM104.4 127.2h3.0v3.6h-3.0zM201.9 37.2h2.2v2.2h-2.2zM218.1 119.6h3.0v2.4h-3.0zM199.7 137.5h1.8v2.2h-1.8zM181.7 204.0h1.8v2.2h-1.8zM35.7 178.5h3.0v2.4h-3.0zM67.7 79.6h2.6v2.1h-2.6zM9.5 222.9h2.2v1.8h-2.2zM230.2 232.4h1.8v1.4h-1.8zM138.4 213.6h1.8v1.8h-1.8zM86.4 183.6h2.2v2.6h-2.2zM116.2 195.8h2.6v2.6h-2.6zM203.6 8.0h3.0v3.6h-3.0zM112.1 140.1h2.2v2.2h-2.2zM210.4 5.8h1.8v1.8h-1.8zM80.3 208.3h2.2v2.6h-2.2zM218.0 81.7h1.8v1.8h-1.8zM228.3 129.0h2.6v3.1h-2.6zM58.4 198.1h1.8v1.8h-1.8zM59.5 194.3h2.2v1.8h-2.2zM135.0 104.0h1.8v2.2h-1.8zM196.7 39.3h3.0v3.0h-3.0zM158.2 218.0h3.0v3.0h-3.0zM87.3 106.3h1.8v2.2h-1.8zM143.4 23.4h1.8v1.4h-1.8zM160.9 205.6h2.6v3.1h-2.6zM178.7 187.6h1.8v1.4h-1.8zM31.7 124.5h2.2v2.2h-2.2zM148.5 125.3h1.8v1.8h-1.8zM156.8 62.7h3.0v3.6h-3.0zM174.4 113.0h1.8v1.8h-1.8zM154.2 191.9h1.8v1.8h-1.8zM203.4 65.7h3.0v3.0h-3.0zM45.3 87.7h1.8v2.2h-1.8zM157.1 213.9h2.6v2.6h-2.6zM22.5 119.8h2.2v2.6h-2.2zM167.4 83.4h3.0v3.6h-3.0zM163.1 98.3h3.0v2.4h-3.0zM208.6 194.3h3.0v3.6h-3.0zM33.5 155.4h2.6v2.6h-2.6zM156.9 216.2h1.8v1.8h-1.8zM186.7 58.1h2.2v2.6h-2.2zM131.4 223.6h2.2v1.8h-2.2zM127.1 213.8h2.2v2.6h-2.2zM200.9 163.2h2.6v2.1h-2.6zM181.1 237.9h2.2v2.2h-2.2zM228.2 220.7h1.8v1.4h-1.8zM194.3 137.8h3.0v3.6h-3.0zM149.6 94.3h2.2v2.6h-2.2zM81.1 184.5h2.2v1.8h-2.2zM3.0 170.2h1.8v1.4h-1.8zM7.2 31.1h3.0v3.0h-3.0zM27.1 5.4h2.6v2.6h-2.6zM113.8 42.3h2.6v3.1h-2.6zM152.0 11.2h3.0v2.4h-3.0zM53.6 223.6h1.8v1.4h-1.8zM24.2 142.3h2.6v2.1h-2.6zM164.2 147.4h1.8v2.2h-1.8zM203.3 205.7h2.6v3.1h-2.6zM50.5 212.0h3.0v3.0h-3.0zM116.6 150.1h2.6v2.6h-2.6zM19.3 228.6h2.2v2.6h-2.2zM80.3 47.2h2.2v1.8h-2.2zM189.4 57.3h3.0v3.6h-3.0zM211.3 185.3h3.0v3.6h-3.0zM183.6 103.4h2.2v1.8h-2.2zM162.2 79.9h2.6v3.1h-2.6zM204.1 113.1h3.0v3.6h-3.0zM159.2 133.3h3.0v3.0h-3.0zM113.6 214.3h2.2v1.8h-2.2zM236.8 157.1h1.8v1.4h-1.8zM5.5 46.8h2.6v2.1h-2.6zM77.2 124.8h2.2v2.2h-2.2zM227.9 129.4h1.8v1.8h-1.8zM191.6 61.8h2.6v2.6h-2.6zM189.7 148.3h2.2v1.8h-2.2zM42.0 109.5h3.0v2.4h-3.0zM217.5 85.8h2.6v2.6h-2.6zM51.5 145.4h2.2v2.6h-2.2zM86.5 142.0h3.0v2.4h-3.0zM190.3 153.0h2.6v3.1h-2.6zM111.5 92.6h1.8v1.8h-1.8zM11.1 43.3h1.8v2.2h-1.8zM48.5 25.2h2.6v3.1h-2.6zM90.5 215.9h3.0v3.0h-3.0zM147.7 203.7h1.8v2.2h-1.8zM166.2 228.0h2.6v2.1h-2.6zM205.0 69.3h3.0v2.4h-3.0zM83.9 132.4h2.2v1.8h-2.2zM181.5 148.4h2.6v2.6h-2.6zM130.3 108.7h3.0v3.0h-3.0zM150.8 27.8h1.8v1.4h-1.8zM20.1 152.3h2.2v1.8h-2.2zM96.5 203.8h2.2v2.6h-2.2zM20.7 29.6h1.8v1.4h-1.8zM59.2 133.6h1.8v1.8h-1.8zM5.9 62.4h1.8v2.2h-1.8zM220.5 1.2h3.0v3.6h-3.0zM111.5 2.3h2.6v2.1h-2.6zM24.4 104.0h1.8v1.8h-1.8zM145.3 131.5h1.8v1.4h-1.8zM166.0 0.6h2.6v2.1h-2.6zM232.6 184.2h1.8v1.4h-1.8zM193.7 190.2h2.2v2.2h-2.2zM11.2 38.3h2.2v2.2h-2.2zM218.6 231.7h2.2v2.2h-2.2zM89.9 227.4h1.8v1.4h-1.8zM54.5 71.3h1.8v1.4h-1.8zM149.6 76.1h2.2v2.2h-2.2zM214.9 92.2h2.6v2.1h-2.6zM81.1 56.9h3.0v3.6h-3.0zM86.0 169.9h2.2v2.6h-2.2zM173.7 208.5h2.6v2.1h-2.6zM169.3 198.1h2.2v2.6h-2.2zM134.5 138.9h1.8v1.8h-1.8zM227.5 111.1h2.2v2.2h-2.2zM174.5 216.5h2.6v3.1h-2.6zM17.6 221.8h2.2v2.6h-2.2zM213.3 181.9h1.8v1.4h-1.8zM64.2 144.3h3.0v3.0h-3.0zM206.3 176.4h2.6v2.1h-2.6zM232.3 123.5h2.2v2.2h-2.2zM141.7 144.8h2.2v1.8h-2.2zM71.1 188.4h1.8v1.8h-1.8zM54.1 175.7h1.8v1.4h-1.8zM12.6 136.5h1.8v1.4h-1.8zM89.0 82.0h2.6v2.6h-2.6zM236.3 210.0h3.0v3.0h-3.0zM156.6 113.1h2.6v3.1h-2.6zM136.9 19.1h2.2v1.8h-2.2zM210.5 36.0h1.8v2.2h-1.8zM53.1 208.0h3.0v3.6h-3.0zM146.5 74.8h1.8v1.4h-1.8zM38.5 98.3h1.8v2.2h-1.8zM92.9 84.5h1.8v2.2h-1.8zM196.3 103.1h1.8v1.4h-1.8zM209.7 220.3h2.2v2.6h-2.2zM203.5 217.9h3.0v3.6h-3.0zM193.6 51.0h1.8v2.2h-1.8zM137.2 25.6h1.8v1.8h-1.8zM192.4 28.8h2.6v3.1h-2.6zM47.5 182.8h1.8v1.8h-1.8zM5.3 94.6h1.8v2.2h-1.8zM140.5 142.8h1.8v1.4h-1.8zM133.3 64.4h3.0v2.4h-3.0zM148.0 212.1h1.8v2.2h-1.8zM18.5 119.6h2.2v2.2h-2.2zM48.9 86.8h1.8v2.2h-1.8zM112.2 25.1h1.8v1.4h-1.8zM112.8 59.6h2.6v3.1h-2.6zM129.5 24.1h1.8v1.4h-1.8zM71.8 196.6h1.8v1.8h-1.8zM229.1 72.6h3.0v3.0h-3.0zM23.5 182.8h3.0v3.0h-3.0zM102.7 192.4h2.6v3.1h-2.6z" fill="#2c40e0"/>
<path d="M155 4h2.0v2.0h-2.0zM135 184h2.0v2.0h-2.0zM66 59h2.0v2.0h-2.0zM97 156h2.0v2.0h-2.0zM175 74h2.0v2.0h-2.0zM24 26h2.0v2.0h-2.0zM169 105h2.0v2.0h-2.0zM51 2h2.0v2.0h-2.0zM81 80h2.0v2.0h-2.0zM63 84h2.0v2.0h-2.0zM89 23h2.0v2.0h-2.0zM177 203h2.0v2.0h-2.0zM111 150h2.0v2.0h-2.0zM187 95h2.0v2.0h-2.0zM121 20h2.0v2.0h-2.0zM58 120h2.0v2.0h-2.0zM203 166h2.0v2.0h-2.0zM3 176h2.0v2.0h-2.0zM54 169h2.0v2.0h-2.0zM73 115h2.0v2.0h-2.0zM31 43h2.0v2.0h-2.0zM234 177h2.0v2.0h-2.0zM125 63h2.0v2.0h-2.0zM138 124h2.0v2.0h-2.0zM230 69h2.0v2.0h-2.0z" fill="#30b070"/>
</g></g>
<rect x="931.9" y="179.5" width="80.7" height="79.8" fill="none" stroke="#fff" stroke-width="2.5" stroke-dasharray="4.1 2.9"/>
<line x1="869.8" y1="303.5" x2="1017.0" y2="303.5" stroke="#fff" stroke-width="3.1" />
<text font-size="19.8" text-anchor="middle" fill="#fff" stroke="#fff" stroke-width="0.32" transform="translate(941.3 294.9)">500µm</text>
<rect x="1109.5" y="76.8" width="239.5" height="238.8" fill="#fff" stroke="#000" stroke-width="2.7" />
<circle cx="1237.1" cy="189.4" r="0.8" fill="#111"/>
<circle cx="1250.6" cy="241.8" r="0.8" fill="#111"/>
<circle cx="1306.7" cy="275.5" r="1.0" fill="#111"/>
<circle cx="1182.7" cy="230.2" r="0.7" fill="#111"/>
<circle cx="1183.3" cy="251.0" r="0.7" fill="#111"/>
<clipPath id="c6"><rect x="0" y="0" width="241.0" height="240.7"/></clipPath>
<g transform="translate(1355.0 75.0)" clip-path="url(#c6)">
<rect width="241.0" height="240.7" fill="#000003"/>
<g filter="url(#bl2)">
<path d="M127.2 103.3a3.9 2.5 16 1 0 7.5 2.1a3.9 2.5 16 1 0 -7.5 -2.1zM79.4 83.1a2.9 2.0 96 1 0 -0.6 5.8a2.9 2.0 96 1 0 0.6 -5.8zM154.9 44.7a3.9 2.0 74 1 0 2.2 7.5a3.9 2.0 74 1 0 -2.2 -7.5zM203.5 5.2a2.9 2.4 69 1 0 2.1 5.5a2.9 2.4 69 1 0 -2.1 -5.5zM40.5 189.3a4.3 2.5 65 1 0 3.6 7.8a4.3 2.5 65 1 0 -3.6 -7.8zM166.6 192.5a4.5 2.1 73 1 0 2.6 8.6a4.5 2.1 73 1 0 -2.6 -8.6zM204.8 143.8a3.6 2.7 4 1 0 7.1 0.5a3.6 2.7 4 1 0 -7.1 -0.5zM123.3 221.8a4.4 2.3 112 1 0 -3.3 8.1a4.4 2.3 112 1 0 3.3 -8.1zM84.3 232.3a4.4 2.7 162 1 0 -8.4 2.7a4.4 2.7 162 1 0 8.4 -2.7zM154.1 76.8a3.1 2.2 10 1 0 6.1 1.1a3.1 2.2 10 1 0 -6.1 -1.1zM126.0 210.8a4.5 2.3 7 1 0 8.8 1.1a4.5 2.3 7 1 0 -8.8 -1.1zM11.6 235.2a4.2 2.0 87 1 0 0.5 8.3a4.2 2.0 87 1 0 -0.5 -8.3zM223.6 138.3a3.1 2.2 124 1 0 -3.5 5.2a3.1 2.2 124 1 0 3.5 -5.2zM80.2 92.3a3.6 2.1 73 1 0 2.1 7.0a3.6 2.1 73 1 0 -2.1 -7.0zM89.2 153.2a3.0 1.9 79 1 0 1.1 6.0a3.0 1.9 79 1 0 -1.1 -6.0zM105.5 165.9a3.7 2.2 32 1 0 6.2 3.9a3.7 2.2 32 1 0 -6.2 -3.9zM12.5 27.0a2.7 2.8 97 1 0 -0.7 5.3a2.7 2.8 97 1 0 0.7 -5.3zM148.4 78.5a3.4 2.7 42 1 0 5.1 4.5a3.4 2.7 42 1 0 -5.1 -4.5zM95.3 8.7a3.2 2.5 26 1 0 5.8 2.9a3.2 2.5 26 1 0 -5.8 -2.9zM66.6 152.4a2.6 2.8 57 1 0 2.9 4.4a2.6 2.8 57 1 0 -2.9 -4.4zM107.9 38.0a2.6 2.0 47 1 0 3.5 3.7a2.6 2.0 47 1 0 -3.5 -3.7zM212.1 67.4a4.3 2.7 2 1 0 8.7 0.3a4.3 2.7 2 1 0 -8.7 -0.3zM11.1 113.5a3.7 2.0 75 1 0 1.9 7.2a3.7 2.0 75 1 0 -1.9 -7.2zM101.4 198.0a2.7 2.0 90 1 0 0.0 5.4a2.7 2.0 90 1 0 -0.0 -5.4zM61.3 183.5a4.5 2.2 13 1 0 8.8 2.0a4.5 2.2 13 1 0 -8.8 -2.0zM235.3 188.9a3.4 2.7 137 1 0 -4.9 4.6a3.4 2.7 137 1 0 4.9 -4.6zM88.7 115.7a3.5 2.6 169 1 0 -6.9 1.4a3.5 2.6 169 1 0 6.9 -1.4zM99.3 99.7a4.1 2.3 163 1 0 -7.8 2.4a4.1 2.3 163 1 0 7.8 -2.4zM173.1 232.0a4.0 2.5 23 1 0 7.4 3.2a4.0 2.5 23 1 0 -7.4 -3.2zM29.2 15.5a3.6 2.8 56 1 0 4.0 5.9a3.6 2.8 56 1 0 -4.0 -5.9zM84.1 232.4a4.0 2.8 177 1 0 -8.0 0.4a4.0 2.8 177 1 0 8.0 -0.4zM238.6 194.8a3.7 2.4 101 1 0 -1.4 7.3a3.7 2.4 101 1 0 1.4 -7.3zM26.8 133.2a4.1 2.4 126 1 0 -4.8 6.7a4.1 2.4 126 1 0 4.8 -6.7zM75.2 105.3a3.8 2.5 144 1 0 -6.2 4.4a3.8 2.5 144 1 0 6.2 -4.4zM100.7 235.4a3.8 2.8 151 1 0 -6.6 3.7a3.8 2.8 151 1 0 6.6 -3.7zM121.9 204.9a4.2 2.1 91 1 0 -0.1 8.4a4.2 2.1 91 1 0 0.1 -8.4zM218.0 124.5a3.8 2.6 120 1 0 -3.8 6.6a3.8 2.6 120 1 0 3.8 -6.6zM188.5 185.5a3.1 1.9 18 1 0 5.9 1.9a3.1 1.9 18 1 0 -5.9 -1.9zM-1.1 161.9a3.5 2.1 24 1 0 6.4 2.9a3.5 2.1 24 1 0 -6.4 -2.9zM216.4 10.3a2.6 2.6 52 1 0 3.1 4.1a2.6 2.6 52 1 0 -3.1 -4.1zM112.3 57.9a2.9 2.6 29 1 0 5.1 2.8a2.9 2.6 29 1 0 -5.1 -2.8zM1.8 165.7a3.7 2.9 56 1 0 4.1 6.1a3.7 2.9 56 1 0 -4.1 -6.1zM224.3 4.4a3.1 2.1 129 1 0 -3.9 4.8a3.1 2.1 129 1 0 3.9 -4.8zM5.2 184.4a4.3 2.4 107 1 0 -2.5 8.2a4.3 2.4 107 1 0 2.5 -8.2zM221.8 50.7a3.9 2.0 66 1 0 3.3 7.2a3.9 2.0 66 1 0 -3.3 -7.2zM191.1 53.8a3.3 2.6 120 1 0 -3.3 5.6a3.3 2.6 120 1 0 3.3 -5.6zM228.6 171.2a2.5 2.4 120 1 0 -2.5 4.4a2.5 2.4 120 1 0 2.5 -4.4zM168.7 153.9a3.6 2.1 48 1 0 4.8 5.4a3.6 2.1 48 1 0 -4.8 -5.4zM91.2 61.0a3.2 2.1 77 1 0 1.4 6.2a3.2 2.1 77 1 0 -1.4 -6.2zM93.0 61.6a3.1 2.9 133 1 0 -4.3 4.6a3.1 2.9 133 1 0 4.3 -4.6zM6.9 147.5a3.8 2.9 159 1 0 -7.2 2.7a3.8 2.9 159 1 0 7.2 -2.7zM236.0 182.4a3.5 2.0 17 1 0 6.6 2.1a3.5 2.0 17 1 0 -6.6 -2.1zM71.0 194.5a4.1 2.8 156 1 0 -7.6 3.4a4.1 2.8 156 1 0 7.6 -3.4zM23.7 147.5a3.9 2.9 134 1 0 -5.5 5.6a3.9 2.9 134 1 0 5.5 -5.6zM235.6 172.6a3.6 2.3 119 1 0 -3.5 6.4a3.6 2.3 119 1 0 3.5 -6.4zM233.1 83.8a4.0 1.9 138 1 0 -5.9 5.4a4.0 1.9 138 1 0 5.9 -5.4zM160.6 163.5a3.9 2.8 64 1 0 3.4 7.0a3.9 2.8 64 1 0 -3.4 -7.0zM185.5 45.3a3.2 2.9 158 1 0 -5.9 2.3a3.2 2.9 158 1 0 5.9 -2.3zM24.8 23.5a4.3 2.8 175 1 0 -8.5 0.7a4.3 2.8 175 1 0 8.5 -0.7zM98.3 136.4a4.4 2.0 28 1 0 7.7 4.2a4.4 2.0 28 1 0 -7.7 -4.2zM143.8 61.0a4.5 2.3 40 1 0 7.0 5.8a4.5 2.3 40 1 0 -7.0 -5.8zM156.0 142.6a4.4 2.8 55 1 0 5.1 7.3a4.4 2.8 55 1 0 -5.1 -7.3zM118.6 201.2a2.5 2.6 127 1 0 -3.1 4.0a2.5 2.6 127 1 0 3.1 -4.0zM152.3 62.8a3.8 2.7 23 1 0 7.0 3.0a3.8 2.7 23 1 0 -7.0 -3.0zM223.5 177.7a4.3 2.8 135 1 0 -6.1 6.2a4.3 2.8 135 1 0 6.1 -6.2zM161.9 229.9a4.4 2.1 86 1 0 0.6 8.7a4.4 2.1 86 1 0 -0.6 -8.7zM41.0 107.2a3.4 2.6 106 1 0 -1.9 6.6a3.4 2.6 106 1 0 1.9 -6.6zM139.5 190.7a2.6 2.4 169 1 0 -5.1 1.0a2.6 2.4 169 1 0 5.1 -1.0zM126.3 43.2a2.7 2.8 133 1 0 -3.6 3.9a2.7 2.8 133 1 0 3.6 -3.9zM197.6 108.5a3.2 2.1 3 1 0 6.4 0.4a3.2 2.1 3 1 0 -6.4 -0.4zM113.9 70.6a4.0 2.5 41 1 0 6.1 5.3a4.0 2.5 41 1 0 -6.1 -5.3zM98.3 75.5a4.5 2.4 84 1 0 0.9 8.9a4.5 2.4 84 1 0 -0.9 -8.9zM153.8 59.1a2.6 2.0 26 1 0 4.7 2.3a2.6 2.0 26 1 0 -4.7 -2.3zM204.0 231.6a2.9 2.9 8 1 0 5.7 0.8a2.9 2.9 8 1 0 -5.7 -0.8zM105.1 12.4a3.4 2.6 134 1 0 -4.7 4.9a3.4 2.6 134 1 0 4.7 -4.9zM72.0 120.7a2.8 2.4 76 1 0 1.4 5.3a2.8 2.4 76 1 0 -1.4 -5.3zM34.8 202.1a3.8 2.1 68 1 0 2.9 7.1a3.8 2.1 68 1 0 -2.9 -7.1zM232.3 8.2a3.4 2.0 174 1 0 -6.7 0.8a3.4 2.0 174 1 0 6.7 -0.8zM139.5 200.8a3.0 2.6 115 1 0 -2.6 5.5a3.0 2.6 115 1 0 2.6 -5.5zM205.0 64.9a2.8 2.2 72 1 0 1.7 5.3a2.8 2.2 72 1 0 -1.7 -5.3zM44.6 8.0a4.3 2.7 174 1 0 -8.5 0.9a4.3 2.7 174 1 0 8.5 -0.9zM83.9 190.0a3.0 2.2 122 1 0 -3.2 5.0a3.0 2.2 122 1 0 3.2 -5.0zM46.0 163.1a2.9 2.4 175 1 0 -5.7 0.5a2.9 2.4 175 1 0 5.7 -0.5zM26.9 174.7a3.7 2.5 144 1 0 -6.0 4.4a3.7 2.5 144 1 0 6.0 -4.4zM90.0 197.0a2.9 2.5 159 1 0 -5.5 2.1a2.9 2.5 159 1 0 5.5 -2.1zM6.5 208.7a2.5 2.1 24 1 0 4.7 2.0a2.5 2.1 24 1 0 -4.7 -2.0z" fill="#0a1278"/>
<path d="M228.8 32.4a2.6 2.9 33 1 0 4.3 2.8a2.6 2.9 33 1 0 -4.3 -2.8zM161.3 82.6a4.3 2.2 173 1 0 -8.6 1.1a4.3 2.2 173 1 0 8.6 -1.1zM147.2 221.3a3.9 2.9 127 1 0 -4.7 6.2a3.9 2.9 127 1 0 4.7 -6.2zM215.2 140.5a3.1 2.1 153 1 0 -5.6 2.9a3.1 2.1 153 1 0 5.6 -2.9zM228.7 182.7a4.5 2.5 126 1 0 -5.2 7.2a4.5 2.5 126 1 0 5.2 -7.2zM65.4 229.8a3.1 2.7 172 1 0 -6.2 0.9a3.1 2.7 172 1 0 6.2 -0.9zM30.5 198.0a3.9 2.1 9 1 0 7.6 1.2a3.9 2.1 9 1 0 -7.6 -1.2zM6.8 219.3a3.5 2.5 74 1 0 2.0 6.8a3.5 2.5 74 1 0 -2.0 -6.8zM218.9 71.3a3.3 2.5 54 1 0 3.9 5.3a3.3 2.5 54 1 0 -3.9 -5.3zM89.0 103.4a3.3 2.9 171 1 0 -6.6 1.0a3.3 2.9 171 1 0 6.6 -1.0zM97.2 19.0a4.3 2.1 98 1 0 -1.3 8.6a4.3 2.1 98 1 0 1.3 -8.6zM222.3 106.6a4.2 2.4 94 1 0 -0.6 8.4a4.2 2.4 94 1 0 0.6 -8.4zM240.4 175.9a3.5 2.7 116 1 0 -3.0 6.3a3.5 2.7 116 1 0 3.0 -6.3zM185.2 197.1a3.7 2.9 3 1 0 7.5 0.4a3.7 2.9 3 1 0 -7.5 -0.4zM152.3 79.2a2.9 2.6 78 1 0 1.2 5.6a2.9 2.6 78 1 0 -1.2 -5.6zM7.6 230.8a3.2 2.1 39 1 0 5.0 4.1a3.2 2.1 39 1 0 -5.0 -4.1zM208.5 40.4a3.1 2.0 85 1 0 0.6 6.1a3.1 2.0 85 1 0 -0.6 -6.1zM78.6 176.4a4.4 2.8 7 1 0 8.7 1.1a4.4 2.8 7 1 0 -8.7 -1.1zM171.0 109.6a3.0 2.2 48 1 0 4.0 4.5a3.0 2.2 48 1 0 -4.0 -4.5zM156.2 37.2a4.3 2.6 10 1 0 8.5 1.5a4.3 2.6 10 1 0 -8.5 -1.5zM148.1 7.8a3.5 2.0 138 1 0 -5.2 4.7a3.5 2.0 138 1 0 5.2 -4.7zM152.8 233.0a4.2 2.2 96 1 0 -0.9 8.4a4.2 2.2 96 1 0 0.9 -8.4zM81.0 204.1a4.2 1.9 68 1 0 3.1 7.8a4.2 1.9 68 1 0 -3.1 -7.8zM126.3 43.8a3.1 2.1 151 1 0 -5.4 3.0a3.1 2.1 151 1 0 5.4 -3.0zM180.2 91.2a3.8 2.1 29 1 0 6.7 3.7a3.8 2.1 29 1 0 -6.7 -3.7zM88.3 55.1a3.6 2.9 28 1 0 6.3 3.3a3.6 2.9 28 1 0 -6.3 -3.3zM161.3 193.3a4.2 2.0 12 1 0 8.2 1.7a4.2 2.0 12 1 0 -8.2 -1.7zM71.4 2.6a3.2 2.0 80 1 0 1.1 6.2a3.2 2.0 80 1 0 -1.1 -6.2zM45.1 112.9a3.4 2.3 146 1 0 -5.6 3.7a3.4 2.3 146 1 0 5.6 -3.7zM122.4 50.1a2.8 2.2 56 1 0 3.1 4.6a2.8 2.2 56 1 0 -3.1 -4.6zM124.7 15.8a3.2 2.3 165 1 0 -6.2 1.7a3.2 2.3 165 1 0 6.2 -1.7zM112.8 150.3a2.6 2.6 145 1 0 -4.3 3.0a2.6 2.6 145 1 0 4.3 -3.0zM84.7 67.6a2.5 2.0 28 1 0 4.5 2.4a2.5 2.0 28 1 0 -4.5 -2.4zM188.9 49.1a3.5 2.6 113 1 0 -2.7 6.4a3.5 2.6 113 1 0 2.7 -6.4zM136.5 196.2a3.0 2.8 141 1 0 -4.7 3.8a3.0 2.8 141 1 0 4.7 -3.8zM125.1 161.6a3.7 2.5 43 1 0 5.4 5.0a3.7 2.5 43 1 0 -5.4 -5.0zM86.3 188.9a3.3 2.9 104 1 0 -1.6 6.3a3.3 2.9 104 1 0 1.6 -6.3zM101.5 27.0a4.0 2.0 109 1 0 -2.6 7.6a4.0 2.0 109 1 0 2.6 -7.6zM184.4 27.9a3.9 2.7 42 1 0 5.8 5.2a3.9 2.7 42 1 0 -5.8 -5.2zM34.7 225.3a3.5 2.1 18 1 0 6.7 2.2a3.5 2.1 18 1 0 -6.7 -2.2zM112.9 40.4a2.7 2.4 46 1 0 3.8 3.9a2.7 2.4 46 1 0 -3.8 -3.9zM223.7 118.8a4.3 2.6 97 1 0 -1.0 8.6a4.3 2.6 97 1 0 1.0 -8.6zM226.3 220.6a3.4 2.3 13 1 0 6.7 1.6a3.4 2.3 13 1 0 -6.7 -1.6zM208.5 91.7a3.1 2.5 143 1 0 -4.9 3.8a3.1 2.5 143 1 0 4.9 -3.8zM193.5 149.6a3.1 2.6 132 1 0 -4.2 4.7a3.1 2.6 132 1 0 4.2 -4.7zM18.7 110.1a3.0 2.1 70 1 0 2.0 5.6a3.0 2.1 70 1 0 -2.0 -5.6zM190.8 126.1a4.3 2.4 5 1 0 8.6 0.7a4.3 2.4 5 1 0 -8.6 -0.7zM72.9 202.8a4.2 2.1 63 1 0 3.8 7.5a4.2 2.1 63 1 0 -3.8 -7.5zM56.6 81.8a3.4 2.1 118 1 0 -3.2 5.9a3.4 2.1 118 1 0 3.2 -5.9zM212.9 112.9a3.4 2.7 62 1 0 3.2 6.0a3.4 2.7 62 1 0 -3.2 -6.0zM28.2 68.3a3.0 2.7 64 1 0 2.6 5.4a3.0 2.7 64 1 0 -2.6 -5.4zM69.4 15.9a3.1 2.3 164 1 0 -6.0 1.7a3.1 2.3 164 1 0 6.0 -1.7zM54.0 36.9a3.0 2.9 168 1 0 -5.9 1.3a3.0 2.9 168 1 0 5.9 -1.3zM0.2 169.1a3.9 2.7 88 1 0 0.3 7.8a3.9 2.7 88 1 0 -0.3 -7.8zM123.1 29.8a3.6 2.2 58 1 0 3.8 6.0a3.6 2.2 58 1 0 -3.8 -6.0zM38.8 9.7a3.6 2.2 100 1 0 -1.3 7.1a3.6 2.2 100 1 0 1.3 -7.1zM58.2 27.5a3.7 2.6 124 1 0 -4.2 6.2a3.7 2.6 124 1 0 4.2 -6.2zM138.6 3.0a3.1 2.7 68 1 0 2.4 5.8a3.1 2.7 68 1 0 -2.4 -5.8zM91.7 56.4a4.1 2.0 53 1 0 4.9 6.5a4.1 2.0 53 1 0 -4.9 -6.5zM203.4 204.4a3.2 2.2 65 1 0 2.6 5.8a3.2 2.2 65 1 0 -2.6 -5.8zM117.9 236.5a4.1 2.2 78 1 0 1.8 8.0a4.1 2.2 78 1 0 -1.8 -8.0zM93.0 194.5a3.5 2.5 140 1 0 -5.4 4.5a3.5 2.5 140 1 0 5.4 -4.5zM132.5 161.2a3.6 2.9 107 1 0 -2.2 6.9a3.6 2.9 107 1 0 2.2 -6.9zM226.5 169.9a3.7 2.3 3 1 0 7.3 0.4a3.7 2.3 3 1 0 -7.3 -0.4zM183.3 170.7a4.1 2.0 123 1 0 -4.4 6.8a4.1 2.0 123 1 0 4.4 -6.8zM90.4 208.5a3.3 2.4 9 1 0 6.6 1.1a3.3 2.4 9 1 0 -6.6 -1.1zM47.2 50.8a3.6 2.0 16 1 0 6.9 2.0a3.6 2.0 16 1 0 -6.9 -2.0zM44.6 121.8a3.6 2.7 41 1 0 5.4 4.8a3.6 2.7 41 1 0 -5.4 -4.8zM69.1 41.0a3.4 2.7 100 1 0 -1.2 6.8a3.4 2.7 100 1 0 1.2 -6.8zM52.6 83.6a3.3 2.2 56 1 0 3.7 5.5a3.3 2.2 56 1 0 -3.7 -5.5zM74.5 161.2a3.8 2.6 166 1 0 -7.3 1.8a3.8 2.6 166 1 0 7.3 -1.8zM31.7 93.6a3.6 2.7 95 1 0 -0.7 7.1a3.6 2.7 95 1 0 0.7 -7.1zM111.5 155.1a4.1 2.4 38 1 0 6.4 5.1a4.1 2.4 38 1 0 -6.4 -5.1zM122.1 177.9a2.7 2.5 107 1 0 -1.6 5.2a2.7 2.5 107 1 0 1.6 -5.2zM58.2 21.3a2.6 2.2 161 1 0 -4.9 1.6a2.6 2.2 161 1 0 4.9 -1.6zM78.9 33.6a4.3 2.6 68 1 0 3.2 8.0a4.3 2.6 68 1 0 -3.2 -8.0zM76.0 151.1a4.5 2.7 33 1 0 7.5 4.9a4.5 2.7 33 1 0 -7.5 -4.9zM159.3 186.4a3.9 2.9 176 1 0 -7.8 0.6a3.9 2.9 176 1 0 7.8 -0.6zM114.5 6.6a4.5 2.0 77 1 0 2.1 8.8a4.5 2.0 77 1 0 -2.1 -8.8zM103.3 37.8a3.5 2.2 88 1 0 0.2 7.1a3.5 2.2 88 1 0 -0.2 -7.1zM235.1 36.9a3.5 2.1 126 1 0 -4.1 5.7a3.5 2.1 126 1 0 4.1 -5.7zM206.2 112.5a4.1 2.0 110 1 0 -2.9 7.7a4.1 2.0 110 1 0 2.9 -7.7zM199.3 22.5a2.7 2.6 59 1 0 2.8 4.6a2.7 2.6 59 1 0 -2.8 -4.6zM111.1 68.5a3.6 2.8 159 1 0 -6.6 2.6a3.6 2.8 159 1 0 6.6 -2.6zM220.6 182.0a2.6 2.6 143 1 0 -4.1 3.1a2.6 2.6 143 1 0 4.1 -3.1zM87.6 154.3a3.5 2.5 16 1 0 6.8 2.0a3.5 2.5 16 1 0 -6.8 -2.0zM207.2 81.4a3.5 2.5 51 1 0 4.4 5.4a3.5 2.5 51 1 0 -4.4 -5.4zM236.6 236.0a2.8 2.7 70 1 0 1.9 5.2a2.8 2.7 70 1 0 -1.9 -5.2zM24.0 214.9a4.3 2.5 90 1 0 0.1 8.6a4.3 2.5 90 1 0 -0.1 -8.6zM226.3 182.3a2.9 2.5 179 1 0 -5.7 0.1a2.9 2.5 179 1 0 5.7 -0.1zM91.2 84.4a3.3 2.1 113 1 0 -2.6 6.0a3.3 2.1 113 1 0 2.6 -6.0zM167.8 110.8a4.2 2.7 154 1 0 -7.6 3.6a4.2 2.7 154 1 0 7.6 -3.6zM230.4 15.6a3.0 2.3 12 1 0 5.9 1.3a3.0 2.3 12 1 0 -5.9 -1.3zM209.0 200.9a2.9 2.8 141 1 0 -4.5 3.6a2.9 2.8 141 1 0 4.5 -3.6zM209.3 221.6a4.3 2.7 147 1 0 -7.2 4.7a4.3 2.7 147 1 0 7.2 -4.7zM109.3 169.9a2.6 2.7 36 1 0 4.2 3.1a2.6 2.7 36 1 0 -4.2 -3.1zM114.1 77.7a3.0 2.4 9 1 0 5.9 1.0a3.0 2.4 9 1 0 -5.9 -1.0zM34.4 204.6a3.1 2.9 162 1 0 -6.0 1.9a3.1 2.9 162 1 0 6.0 -1.9zM208.1 234.6a3.4 2.4 121 1 0 -3.6 5.8a3.4 2.4 121 1 0 3.6 -5.8zM60.4 176.1a3.0 2.3 4 1 0 5.9 0.4a3.0 2.3 4 1 0 -5.9 -0.4zM192.6 30.9a2.9 2.3 54 1 0 3.4 4.7a2.9 2.3 54 1 0 -3.4 -4.7zM16.5 46.0a4.1 2.7 145 1 0 -6.8 4.7a4.1 2.7 145 1 0 6.8 -4.7zM244.5 61.6a3.9 2.4 173 1 0 -7.8 1.0a3.9 2.4 173 1 0 7.8 -1.0zM172.1 182.9a4.5 2.7 59 1 0 4.6 7.6a4.5 2.7 59 1 0 -4.6 -7.6zM193.9 223.8a3.0 2.7 130 1 0 -3.9 4.6a3.0 2.7 130 1 0 3.9 -4.6zM30.1 131.8a3.7 2.3 111 1 0 -2.7 6.9a3.7 2.3 111 1 0 2.7 -6.9zM133.9 127.6a4.2 2.7 14 1 0 8.1 2.1a4.2 2.7 14 1 0 -8.1 -2.1zM26.7 126.6a3.9 2.6 2 1 0 7.8 0.2a3.9 2.6 2 1 0 -7.8 -0.2zM44.7 119.6a3.5 2.4 137 1 0 -5.2 4.8a3.5 2.4 137 1 0 5.2 -4.8zM87.8 24.0a4.1 2.0 53 1 0 4.9 6.6a4.1 2.0 53 1 0 -4.9 -6.6zM238.5 118.7a2.7 2.3 146 1 0 -4.5 3.0a2.7 2.3 146 1 0 4.5 -3.0zM156.6 124.5a4.0 2.3 168 1 0 -7.9 1.6a4.0 2.3 168 1 0 7.9 -1.6zM99.1 70.2a3.6 2.2 70 1 0 2.5 6.8a3.6 2.2 70 1 0 -2.5 -6.8zM147.9 128.1a3.4 2.4 6 1 0 6.8 0.7a3.4 2.4 6 1 0 -6.8 -0.7zM229.0 27.1a2.6 2.6 148 1 0 -4.4 2.7a2.6 2.6 148 1 0 4.4 -2.7zM23.4 153.1a3.8 2.2 146 1 0 -6.4 4.2a3.8 2.2 146 1 0 6.4 -4.2zM75.9 10.8a3.7 2.1 93 1 0 -0.4 7.4a3.7 2.1 93 1 0 0.4 -7.4zM213.3 4.0a3.6 2.8 116 1 0 -3.2 6.6a3.6 2.8 116 1 0 3.2 -6.6zM135.2 196.7a3.8 2.8 147 1 0 -6.3 4.2a3.8 2.8 147 1 0 6.3 -4.2zM29.2 162.9a3.5 2.8 80 1 0 1.2 6.9a3.5 2.8 80 1 0 -1.2 -6.9zM37.9 179.2a4.3 2.7 140 1 0 -6.5 5.5a4.3 2.7 140 1 0 6.5 -5.5zM41.9 76.3a3.1 2.2 105 1 0 -1.6 6.0a3.1 2.2 105 1 0 1.6 -6.0zM160.2 210.2a4.5 1.9 110 1 0 -3.1 8.5a4.5 1.9 110 1 0 3.1 -8.5zM106.0 173.0a4.3 2.2 114 1 0 -3.6 7.8a4.3 2.2 114 1 0 3.6 -7.8zM109.9 83.6a4.2 2.8 157 1 0 -7.7 3.3a4.2 2.8 157 1 0 7.7 -3.3zM140.5 26.5a3.2 2.1 23 1 0 6.0 2.5a3.2 2.1 23 1 0 -6.0 -2.5zM69.9 1.0a3.5 2.9 83 1 0 0.8 7.0a3.5 2.9 83 1 0 -0.8 -7.0zM87.9 208.3a3.5 2.6 87 1 0 0.4 7.0a3.5 2.6 87 1 0 -0.4 -7.0zM212.4 139.5a2.9 2.2 71 1 0 1.9 5.5a2.9 2.2 71 1 0 -1.9 -5.5zM215.6 30.5a3.6 2.7 88 1 0 0.3 7.2a3.6 2.7 88 1 0 -0.3 -7.2zM150.6 150.1a2.9 2.0 49 1 0 3.8 4.3a2.9 2.0 49 1 0 -3.8 -4.3zM72.3 7.8a2.7 2.6 35 1 0 4.5 3.1a2.7 2.6 35 1 0 -4.5 -3.1zM100.2 197.7a3.6 2.8 76 1 0 1.7 7.1a3.6 2.8 76 1 0 -1.7 -7.1zM226.0 162.3a3.4 2.8 131 1 0 -4.5 5.1a3.4 2.8 131 1 0 4.5 -5.1zM5.3 211.5a2.7 1.9 61 1 0 2.7 4.8a2.7 1.9 61 1 0 -2.7 -4.8zM61.3 115.4a3.5 2.6 156 1 0 -6.4 2.9a3.5 2.6 156 1 0 6.4 -2.9zM211.6 103.6a2.8 2.6 179 1 0 -5.6 0.1a2.8 2.6 179 1 0 5.6 -0.1zM147.6 88.6a4.5 2.0 86 1 0 0.6 9.0a4.5 2.0 86 1 0 -0.6 -9.0zM91.5 178.7a2.5 2.2 174 1 0 -5.0 0.5a2.5 2.2 174 1 0 5.0 -0.5zM62.3 72.9a3.9 2.3 68 1 0 3.0 7.3a3.9 2.3 68 1 0 -3.0 -7.3zM45.1 30.3a3.3 2.6 35 1 0 5.4 3.7a3.3 2.6 35 1 0 -5.4 -3.7zM21.5 94.7a3.7 2.5 116 1 0 -3.3 6.6a3.7 2.5 116 1 0 3.3 -6.6zM171.8 191.8a4.2 1.9 167 1 0 -8.2 1.8a4.2 1.9 167 1 0 8.2 -1.8zM3.7 8.8a3.9 2.5 122 1 0 -4.1 6.7a3.9 2.5 122 1 0 4.1 -6.7zM229.6 178.1a2.5 2.5 59 1 0 2.6 4.3a2.5 2.5 59 1 0 -2.6 -4.3zM150.5 236.0a2.6 2.7 168 1 0 -5.0 1.1a2.6 2.7 168 1 0 5.0 -1.1zM213.6 1.8a3.2 2.0 32 1 0 5.4 3.4a3.2 2.0 32 1 0 -5.4 -3.4zM131.0 103.8a4.5 2.7 13 1 0 8.7 2.1a4.5 2.7 13 1 0 -8.7 -2.1zM138.7 201.0a4.2 2.8 158 1 0 -7.8 3.1a4.2 2.8 158 1 0 7.8 -3.1zM219.0 74.6a4.4 2.5 78 1 0 1.8 8.6a4.4 2.5 78 1 0 -1.8 -8.6zM118.9 95.8a4.0 2.2 78 1 0 1.6 7.8a4.0 2.2 78 1 0 -1.6 -7.8zM5.8 90.4a3.1 2.7 120 1 0 -3.1 5.4a3.1 2.7 120 1 0 3.1 -5.4zM213.4 97.6a2.8 2.0 13 1 0 5.5 1.2a2.8 2.0 13 1 0 -5.5 -1.2zM21.1 167.2a2.8 2.4 118 1 0 -2.7 4.9a2.8 2.4 118 1 0 2.7 -4.9zM71.2 105.8a3.4 2.5 106 1 0 -1.9 6.6a3.4 2.5 106 1 0 1.9 -6.6zM161.4 202.0a4.5 2.6 53 1 0 5.4 7.1a4.5 2.6 53 1 0 -5.4 -7.1zM99.9 235.7a4.5 2.6 35 1 0 7.4 5.2a4.5 2.6 35 1 0 -7.4 -5.2zM41.0 101.8a4.4 2.1 147 1 0 -7.4 4.8a4.4 2.1 147 1 0 7.4 -4.8zM66.9 108.4a2.6 2.6 163 1 0 -5.0 1.6a2.6 2.6 163 1 0 5.0 -1.6zM231.1 67.5a3.2 2.6 39 1 0 5.1 4.0a3.2 2.6 39 1 0 -5.1 -4.0zM117.7 117.1a2.8 2.1 20 1 0 5.3 2.0a2.8 2.1 20 1 0 -5.3 -2.0zM32.9 153.7a4.3 2.5 41 1 0 6.5 5.7a4.3 2.5 41 1 0 -6.5 -5.7zM130.8 211.9a3.7 2.7 88 1 0 0.2 7.4a3.7 2.7 88 1 0 -0.2 -7.4zM67.5 131.5a4.1 2.0 121 1 0 -4.2 7.0a4.1 2.0 121 1 0 4.2 -7.0zM157.1 168.4a4.4 2.6 117 1 0 -4.0 7.8a4.4 2.6 117 1 0 4.0 -7.8zM48.8 9.6a2.6 2.5 154 1 0 -4.7 2.3a2.6 2.5 154 1 0 4.7 -2.3zM217.2 120.1a3.9 2.1 179 1 0 -7.7 0.2a3.9 2.1 179 1 0 7.7 -0.2zM60.1 148.7a2.6 2.6 151 1 0 -4.6 2.5a2.6 2.6 151 1 0 4.6 -2.5zM63.4 64.4a2.9 2.6 147 1 0 -4.9 3.2a2.9 2.6 147 1 0 4.9 -3.2zM171.5 217.0a4.2 2.3 161 1 0 -7.9 2.7a4.2 2.3 161 1 0 7.9 -2.7zM199.0 17.4a3.2 2.0 101 1 0 -1.3 6.2a3.2 2.0 101 1 0 1.3 -6.2zM144.3 36.9a3.9 2.4 56 1 0 4.3 6.4a3.9 2.4 56 1 0 -4.3 -6.4zM156.6 199.9a4.2 2.8 135 1 0 -6.0 5.9a4.2 2.8 135 1 0 6.0 -5.9zM179.3 93.2a3.7 2.0 28 1 0 6.4 3.5a3.7 2.0 28 1 0 -6.4 -3.5zM69.3 144.1a3.6 2.0 29 1 0 6.3 3.4a3.6 2.0 29 1 0 -6.3 -3.4zM26.8 85.3a3.6 2.2 69 1 0 2.6 6.8a3.6 2.2 69 1 0 -2.6 -6.8zM195.1 50.3a4.0 2.4 91 1 0 -0.1 7.9a4.0 2.4 91 1 0 0.1 -7.9zM212.0 -0.4a4.3 2.0 69 1 0 3.1 8.0a4.3 2.0 69 1 0 -3.1 -8.0zM213.9 10.1a3.6 2.8 72 1 0 2.1 6.8a3.6 2.8 72 1 0 -2.1 -6.8zM141.2 140.4a3.8 2.6 27 1 0 6.8 3.5a3.8 2.6 27 1 0 -6.8 -3.5zM-2.2 75.6a3.0 2.5 17 1 0 5.6 1.8a3.0 2.5 17 1 0 -5.6 -1.8zM128.3 188.6a3.5 2.0 167 1 0 -6.8 1.6a3.5 2.0 167 1 0 6.8 -1.6zM162.4 145.7a3.4 2.0 77 1 0 1.6 6.5a3.4 2.0 77 1 0 -1.6 -6.5zM203.3 232.5a2.8 2.4 159 1 0 -5.3 2.0a2.8 2.4 159 1 0 5.3 -2.0zM215.1 129.8a4.2 2.7 82 1 0 1.1 8.4a4.2 2.7 82 1 0 -1.1 -8.4zM53.4 105.2a4.2 2.0 170 1 0 -8.3 1.4a4.2 2.0 170 1 0 8.3 -1.4zM119.5 70.1a2.6 2.6 33 1 0 4.4 2.8a2.6 2.6 33 1 0 -4.4 -2.8zM93.4 127.8a3.1 2.0 177 1 0 -6.2 0.3a3.1 2.0 177 1 0 6.2 -0.3zM168.3 150.6a2.6 2.8 157 1 0 -4.8 2.1a2.6 2.8 157 1 0 4.8 -2.1zM235.6 30.8a3.4 2.0 96 1 0 -0.7 6.8a3.4 2.0 96 1 0 0.7 -6.8zM116.4 43.3a2.9 2.6 43 1 0 4.3 4.0a2.9 2.6 43 1 0 -4.3 -4.0zM70.2 87.2a3.9 2.5 104 1 0 -1.9 7.5a3.9 2.5 104 1 0 1.9 -7.5zM65.9 161.2a2.6 2.0 102 1 0 -1.1 5.2a2.6 2.0 102 1 0 1.1 -5.2zM67.1 234.0a2.8 2.8 98 1 0 -0.8 5.4a2.8 2.8 98 1 0 0.8 -5.4zM18.9 11.0a3.8 2.7 13 1 0 7.4 1.7a3.8 2.7 13 1 0 -7.4 -1.7zM98.6 202.8a3.0 2.8 33 1 0 5.1 3.3a3.0 2.8 33 1 0 -5.1 -3.3zM124.0 178.5a3.5 2.0 6 1 0 6.9 0.7a3.5 2.0 6 1 0 -6.9 -0.7zM69.5 154.1a2.9 2.8 117 1 0 -2.6 5.2a2.9 2.8 117 1 0 2.6 -5.2zM161.0 10.8a4.3 2.1 110 1 0 -2.9 8.0a4.3 2.1 110 1 0 2.9 -8.0zM194.0 197.7a4.1 2.6 164 1 0 -8.0 2.2a4.1 2.6 164 1 0 8.0 -2.2zM184.8 69.0a4.1 2.8 71 1 0 2.7 7.7a4.1 2.8 71 1 0 -2.7 -7.7zM67.7 93.8a2.9 2.3 14 1 0 5.7 1.5a2.9 2.3 14 1 0 -5.7 -1.5zM190.6 41.7a3.0 2.8 63 1 0 2.7 5.2a3.0 2.8 63 1 0 -2.7 -5.2zM153.0 226.4a3.0 2.7 146 1 0 -5.0 3.4a3.0 2.7 146 1 0 5.0 -3.4zM219.3 233.4a3.0 2.1 19 1 0 5.6 1.9a3.0 2.1 19 1 0 -5.6 -1.9zM0.6 186.1a3.9 2.2 84 1 0 0.8 7.7a3.9 2.2 84 1 0 -0.8 -7.7zM102.4 -1.5a4.0 2.5 31 1 0 6.9 4.2a4.0 2.5 31 1 0 -6.9 -4.2zM144.1 67.1a4.1 2.5 138 1 0 -6.1 5.4a4.1 2.5 138 1 0 6.1 -5.4zM53.3 226.9a4.0 2.4 180 1 0 -7.9 0.0a4.0 2.4 180 1 0 7.9 -0.0zM144.8 28.2a3.1 2.1 71 1 0 2.1 5.9a3.1 2.1 71 1 0 -2.1 -5.9zM86.6 211.5a3.7 2.8 144 1 0 -6.0 4.3a3.7 2.8 144 1 0 6.0 -4.3zM80.8 30.7a4.3 2.1 15 1 0 8.3 2.2a4.3 2.1 15 1 0 -8.3 -2.2zM36.4 54.3a3.9 2.3 154 1 0 -7.1 3.4a3.9 2.3 154 1 0 7.1 -3.4zM210.7 196.3a3.0 2.5 122 1 0 -3.2 5.2a3.0 2.5 122 1 0 3.2 -5.2z" fill="#1422f0"/>
<circle cx="189.0" cy="6.0" r="3" fill="#20d8e8"/>
<circle cx="23.5" cy="196.0" r="3.2" fill="#20d0e0"/>
<circle cx="228.0" cy="166.0" r="2.6" fill="#20b8a0"/>
</g></g>
<polygon points="1520.0,98.4 1538.8,89.8 1530.0,108.6" fill="#ffea00"/>
<polygon points="1386.1,263.7 1393.5,244.9 1405.1,255.1" fill="#ffea00"/>
<polygon points="1558.6,259.2 1577.6,250.6 1569.0,269.4" fill="#ffea00"/>
<line x1="1360.2" y1="307.6" x2="1452.0" y2="307.6" stroke="#fff" stroke-width="3.1" />
<text font-size="19.8" text-anchor="middle" fill="#fff" stroke="#fff" stroke-width="0.32" transform="translate(1403.0 299.0)">100µm</text>
<clipPath id="c7"><rect x="0" y="0" width="239.2" height="241.2"/></clipPath>
<g transform="translate(862.8 367.1)" clip-path="url(#c7)">
<rect width="239.2" height="241.2" fill="#03120c"/>
<radialGradient id="g11"><stop offset="0" stop-color="#081c30" stop-opacity="0.5"/><stop offset="1" stop-color="#081c30" stop-opacity="0"/></radialGradient>
<circle cx="150" cy="60" r="50" fill="url(#g11)"/>
<radialGradient id="g12"><stop offset="0" stop-color="#020c08" stop-opacity="0.5"/><stop offset="1" stop-color="#020c08" stop-opacity="0"/></radialGradient>
<circle cx="40" cy="40" r="40" fill="url(#g12)"/>
<g filter="url(#bl)">
<path d="M174.8 69.2h3.0v3.0h-3.0zM191.4 151.4h2.2v2.6h-2.2zM158.2 65.4h1.8v1.4h-1.8zM59.9 28.2h2.6v2.6h-2.6zM21.8 22.6h2.6v2.1h-2.6zM217.9 146.8h3.0v3.0h-3.0zM47.0 166.0h2.2v2.2h-2.2zM156.1 133.4h3.0v3.0h-3.0zM62.6 112.3h2.6v2.1h-2.6zM161.9 154.8h2.2v2.6h-2.2zM235.5 222.9h1.8v1.8h-1.8zM89.1 171.6h3.0v3.6h-3.0zM60.0 206.3h1.8v1.8h-1.8zM206.3 133.7h2.2v2.6h-2.2zM24.7 86.8h2.6v2.6h-2.6zM215.3 127.7h1.8v2.2h-1.8zM159.5 177.3h1.8v1.4h-1.8zM120.3 15.0h2.2v2.2h-2.2zM46.5 190.1h2.2v2.2h-2.2zM195.7 197.0h1.8v2.2h-1.8zM18.3 178.8h2.2v1.8h-2.2zM114.8 172.1h2.6v2.1h-2.6zM89.0 57.9h2.6v3.1h-2.6zM167.1 224.3h2.6v2.6h-2.6zM10.9 180.5h3.0v3.6h-3.0zM170.0 193.4h2.2v2.6h-2.2zM228.8 27.8h1.8v1.4h-1.8zM33.3 93.7h2.2v1.8h-2.2zM214.1 133.9h2.6v2.1h-2.6zM107.0 57.3h3.0v2.4h-3.0zM2.4 81.8h2.2v1.8h-2.2zM21.4 144.3h3.0v3.0h-3.0zM12.2 112.6h1.8v1.4h-1.8zM70.0 223.4h2.6v2.6h-2.6zM133.2 34.8h2.6v2.6h-2.6zM2.9 129.6h1.8v1.4h-1.8zM229.5 170.9h1.8v2.2h-1.8zM29.0 71.6h1.8v2.2h-1.8zM43.4 148.6h2.6v2.6h-2.6zM81.2 11.1h2.2v1.8h-2.2zM132.6 230.7h1.8v2.2h-1.8zM210.3 152.6h3.0v2.4h-3.0zM170.1 33.1h2.6v3.1h-2.6zM146.7 124.0h2.2v2.2h-2.2zM91.8 74.4h1.8v2.2h-1.8zM118.7 76.3h3.0v2.4h-3.0zM230.9 121.0h1.8v2.2h-1.8zM220.0 33.2h2.2v2.2h-2.2zM112.6 77.7h3.0v3.0h-3.0zM142.1 168.7h3.0v3.0h-3.0zM184.0 9.8h3.0v2.4h-3.0zM136.8 64.5h2.6v2.1h-2.6zM34.9 66.5h2.6v2.1h-2.6zM219.9 195.6h2.2v2.6h-2.2zM171.1 11.2h3.0v2.4h-3.0zM225.0 237.8h2.6v3.1h-2.6zM52.1 48.1h2.6v2.6h-2.6zM12.7 169.6h3.0v3.0h-3.0zM6.6 48.5h1.8v2.2h-1.8zM53.1 183.7h2.6v3.1h-2.6zM110.5 155.9h1.8v2.2h-1.8zM223.6 25.5h1.8v1.4h-1.8zM231.7 137.1h3.0v3.6h-3.0zM29.7 181.1h3.0v3.6h-3.0zM61.0 137.4h2.2v2.6h-2.2zM162.5 230.3h1.8v1.8h-1.8zM35.6 177.5h1.8v1.4h-1.8zM126.5 111.8h2.6v2.6h-2.6zM54.5 164.3h2.6v2.6h-2.6zM182.1 193.5h2.2v2.2h-2.2zM45.3 117.1h2.6v3.1h-2.6zM232.9 61.1h2.2v2.6h-2.2zM130.8 181.9h1.8v1.4h-1.8zM113.6 128.7h2.2v1.8h-2.2zM3.4 116.0h1.8v2.2h-1.8zM225.2 12.3h2.2v2.6h-2.2zM71.8 16.3h2.6v2.6h-2.6zM199.8 158.0h2.6v2.6h-2.6zM187.8 195.7h3.0v2.4h-3.0zM221.6 70.0h3.0v2.4h-3.0zM167.1 22.6h1.8v1.4h-1.8zM23.2 105.8h2.6v3.1h-2.6zM170.6 47.6h3.0v3.0h-3.0zM44.2 186.0h1.8v1.4h-1.8zM58.3 123.2h2.2v2.2h-2.2zM177.3 117.4h3.0v3.6h-3.0zM227.0 4.7h2.2v1.8h-2.2zM13.9 153.0h2.2v1.8h-2.2zM204.7 23.2h1.8v2.2h-1.8zM218.3 98.2h2.2v2.2h-2.2zM4.8 126.1h1.8v1.4h-1.8zM212.3 96.3h3.0v2.4h-3.0zM203.3 38.7h1.8v1.8h-1.8zM216.9 60.6h1.8v1.8h-1.8zM97.0 131.1h2.6v3.1h-2.6zM175.2 118.3h2.2v2.6h-2.2zM221.8 0.0h3.0v3.0h-3.0zM160.7 208.9h1.8v1.8h-1.8zM218.3 127.1h3.0v3.0h-3.0zM1.6 97.4h3.0v3.6h-3.0zM226.2 129.3h2.2v2.6h-2.2zM211.0 89.7h2.6v2.6h-2.6zM159.1 139.4h1.8v1.8h-1.8zM155.4 192.5h2.6v2.1h-2.6zM119.3 27.7h2.2v1.8h-2.2zM33.8 87.1h1.8v1.4h-1.8zM190.5 160.0h3.0v2.4h-3.0zM1.8 233.0h3.0v2.4h-3.0zM120.5 213.1h1.8v2.2h-1.8zM189.5 55.9h1.8v1.8h-1.8zM176.0 39.1h1.8v1.4h-1.8zM62.6 193.6h1.8v2.2h-1.8zM112.1 204.3h2.6v3.1h-2.6zM54.8 186.5h1.8v1.8h-1.8zM29.9 115.1h2.2v2.2h-2.2zM97.3 186.4h1.8v1.8h-1.8zM45.8 46.4h3.0v2.4h-3.0zM221.8 43.5h2.2v2.6h-2.2zM87.0 111.3h2.6v2.6h-2.6zM10.8 166.1h2.6v2.1h-2.6zM223.9 200.5h2.2v1.8h-2.2zM52.1 98.9h1.8v1.4h-1.8zM192.3 173.1h2.6v2.1h-2.6zM94.6 104.1h3.0v3.0h-3.0zM131.9 135.7h3.0v2.4h-3.0zM216.5 17.8h3.0v3.6h-3.0zM183.1 229.8h3.0v3.0h-3.0zM120.1 53.0h2.6v2.1h-2.6zM151.5 129.7h3.0v3.6h-3.0zM-0.4 43.1h3.0v2.4h-3.0zM183.9 194.7h3.0v3.0h-3.0zM226.5 148.0h2.2v1.8h-2.2zM221.0 141.4h3.0v2.4h-3.0zM106.8 232.7h1.8v1.4h-1.8zM236.8 158.9h2.6v3.1h-2.6zM156.4 75.4h3.0v3.6h-3.0zM94.0 170.6h3.0v3.0h-3.0zM125.9 151.9h3.0v3.0h-3.0zM118.9 100.3h2.6v2.1h-2.6zM116.5 200.9h1.8v2.2h-1.8zM3.8 21.6h2.6v2.6h-2.6zM233.0 100.7h3.0v3.0h-3.0zM177.4 84.8h2.6v2.6h-2.6zM101.0 68.0h2.2v1.8h-2.2zM235.4 97.9h1.8v1.8h-1.8zM23.3 75.2h2.6v2.1h-2.6zM235.2 26.6h2.2v2.2h-2.2zM3.4 64.3h2.2v1.8h-2.2zM64.4 6.6h2.2v2.6h-2.2zM23.8 9.7h1.8v2.2h-1.8zM213.0 43.9h2.6v2.1h-2.6zM219.7 82.8h3.0v3.6h-3.0zM232.4 3.4h3.0v2.4h-3.0zM94.3 239.8h2.6v3.1h-2.6zM124.2 55.8h2.2v2.6h-2.2zM91.5 16.3h3.0v3.6h-3.0zM146.5 60.6h1.8v1.8h-1.8zM53.5 15.2h2.2v2.2h-2.2zM80.9 159.2h3.0v3.6h-3.0zM115.2 58.4h3.0v3.6h-3.0zM185.4 52.2h3.0v3.0h-3.0zM45.3 42.1h1.8v2.2h-1.8zM148.6 184.4h2.2v2.2h-2.2zM233.3 12.5h2.6v2.6h-2.6zM234.8 92.9h2.6v2.6h-2.6zM136.0 75.5h1.8v1.8h-1.8zM65.4 11.8h3.0v2.4h-3.0zM201.7 73.9h2.6v2.1h-2.6zM9.2 107.3h1.8v1.4h-1.8zM182.2 154.2h2.6v3.1h-2.6zM221.8 32.6h2.2v2.6h-2.2zM84.3 89.2h1.8v1.4h-1.8zM211.2 5.8h2.6v3.1h-2.6zM186.0 196.9h2.6v3.1h-2.6zM44.1 33.2h2.2v2.2h-2.2zM221.0 117.4h1.8v1.8h-1.8zM60.1 110.6h2.6v3.1h-2.6zM3.3 3.8h1.8v2.2h-1.8zM199.8 137.8h1.8v1.8h-1.8zM129.9 11.9h1.8v2.2h-1.8zM67.9 131.2h1.8v1.4h-1.8zM47.0 55.1h3.0v3.6h-3.0zM189.2 138.3h1.8v1.4h-1.8zM160.8 20.2h2.6v2.6h-2.6zM159.9 70.2h2.2v2.2h-2.2zM34.5 201.4h1.8v1.8h-1.8zM142.4 172.7h3.0v3.6h-3.0zM209.3 19.1h3.0v3.0h-3.0zM177.2 158.1h1.8v1.8h-1.8zM76.5 184.4h2.2v2.2h-2.2zM57.5 52.1h2.6v2.6h-2.6zM103.4 198.7h1.8v1.4h-1.8zM21.1 176.4h3.0v3.6h-3.0zM126.8 75.3h2.6v2.1h-2.6zM12.6 102.3h3.0v3.0h-3.0zM36.8 89.8h1.8v2.2h-1.8zM224.0 3.5h2.2v2.2h-2.2zM177.5 234.8h2.6v3.1h-2.6zM189.1 65.9h2.2v1.8h-2.2zM42.1 34.6h1.8v2.2h-1.8zM152.2 97.4h2.2v2.2h-2.2zM130.5 45.1h2.6v2.1h-2.6zM49.1 222.6h1.8v1.4h-1.8zM143.0 165.0h1.8v1.8h-1.8zM111.3 27.0h3.0v3.0h-3.0zM44.8 31.9h3.0v3.0h-3.0zM180.8 47.0h1.8v2.2h-1.8zM39.5 166.2h3.0v3.0h-3.0zM231.9 122.6h1.8v1.4h-1.8zM173.5 67.8h3.0v3.6h-3.0zM222.1 172.9h1.8v2.2h-1.8zM119.9 223.9h2.6v2.6h-2.6zM102.2 157.9h2.2v2.6h-2.2zM115.9 38.0h2.2v2.6h-2.2zM171.3 39.9h2.6v3.1h-2.6zM131.9 74.1h2.6v2.6h-2.6zM109.7 140.0h2.2v2.2h-2.2zM126.2 123.0h2.6v2.1h-2.6zM50.5 234.6h1.8v2.2h-1.8zM108.8 193.3h3.0v3.0h-3.0zM104.4 25.5h2.2v2.6h-2.2zM42.9 0.6h3.0v2.4h-3.0zM118.7 212.1h2.6v3.1h-2.6zM165.5 17.6h1.8v1.4h-1.8zM118.2 42.8h1.8v1.8h-1.8zM159.8 63.7h1.8v2.2h-1.8zM118.6 175.4h1.8v2.2h-1.8zM236.4 138.0h3.0v2.4h-3.0zM234.6 124.2h2.6v2.1h-2.6zM121.4 226.7h2.6v3.1h-2.6zM71.8 191.3h1.8v1.8h-1.8zM206.1 18.1h3.0v2.4h-3.0zM72.5 131.8h2.6v2.1h-2.6zM126.6 137.7h3.0v2.4h-3.0zM11.9 120.9h1.8v1.8h-1.8z" fill="#1a2898"/>
<path d="M24.6 168.5h2.2v2.2h-2.2zM110.6 209.5h1.8v1.8h-1.8zM52.4 216.4h2.6v2.6h-2.6zM141.3 5.7h2.2v2.2h-2.2zM95.6 237.9h1.8v2.2h-1.8zM163.3 25.9h2.6v2.1h-2.6zM205.9 179.2h2.2v2.2h-2.2zM27.3 38.0h1.8v2.2h-1.8zM124.8 21.4h2.2v2.6h-2.2zM91.5 73.7h3.0v3.0h-3.0zM141.4 21.9h3.0v2.4h-3.0zM106.5 147.4h1.8v2.2h-1.8zM33.3 168.7h3.0v2.4h-3.0zM196.4 96.9h1.8v1.8h-1.8zM168.8 87.7h2.6v2.6h-2.6zM71.3 44.5h3.0v3.0h-3.0zM234.1 140.4h2.6v2.6h-2.6zM54.0 209.6h2.2v1.8h-2.2zM48.7 163.0h2.6v3.1h-2.6zM181.2 87.9h2.2v2.6h-2.2zM153.2 46.6h3.0v2.4h-3.0zM115.5 29.3h1.8v1.4h-1.8zM60.4 87.9h3.0v2.4h-3.0zM3.1 218.1h2.6v3.1h-2.6zM236.9 153.8h1.8v1.4h-1.8zM31.3 90.4h2.2v1.8h-2.2zM125.3 70.5h2.2v2.2h-2.2zM90.5 69.8h2.6v2.1h-2.6zM59.4 67.0h2.6v2.1h-2.6zM124.3 200.5h1.8v2.2h-1.8zM15.7 104.7h3.0v3.6h-3.0zM100.1 163.2h2.2v1.8h-2.2zM193.2 144.6h3.0v3.0h-3.0zM52.8 178.5h1.8v2.2h-1.8zM170.8 172.2h2.2v2.2h-2.2zM118.1 198.8h1.8v1.4h-1.8zM6.3 73.0h2.6v2.6h-2.6zM83.1 204.9h2.6v2.6h-2.6zM194.7 240.0h1.8v1.4h-1.8zM8.6 209.0h2.2v2.2h-2.2zM66.3 105.5h1.8v1.8h-1.8zM214.6 24.6h3.0v3.0h-3.0zM91.3 14.6h2.6v2.1h-2.6zM214.0 80.7h2.2v2.2h-2.2zM81.0 197.8h3.0v2.4h-3.0zM1.4 177.5h2.6v2.1h-2.6zM130.4 196.6h2.6v2.6h-2.6zM107.8 170.5h2.6v2.1h-2.6zM119.7 218.6h1.8v1.8h-1.8zM151.9 5.9h2.6v2.6h-2.6zM104.0 106.2h3.0v3.0h-3.0zM169.8 108.6h3.0v3.6h-3.0zM112.3 179.4h2.6v2.6h-2.6zM43.3 29.6h1.8v1.8h-1.8zM194.0 222.9h3.0v3.6h-3.0zM46.9 165.9h1.8v1.4h-1.8zM135.4 193.1h3.0v3.6h-3.0zM45.3 116.3h2.2v2.6h-2.2zM37.4 18.6h2.6v2.6h-2.6zM42.2 190.2h3.0v3.0h-3.0zM154.1 215.8h3.0v3.6h-3.0zM130.0 220.0h1.8v2.2h-1.8zM115.1 176.3h2.2v2.2h-2.2zM15.0 73.6h2.6v3.1h-2.6zM89.6 79.4h1.8v1.8h-1.8zM131.6 132.2h2.2v2.2h-2.2zM133.2 196.9h2.6v2.6h-2.6zM160.0 20.3h3.0v3.0h-3.0zM-0.8 155.1h2.6v2.6h-2.6zM143.2 225.7h3.0v3.0h-3.0zM213.3 107.0h2.6v2.6h-2.6zM144.7 74.3h3.0v3.0h-3.0zM69.7 184.5h3.0v3.6h-3.0zM89.8 159.5h3.0v3.0h-3.0zM43.7 215.5h2.6v2.1h-2.6zM166.1 137.7h2.2v1.8h-2.2zM136.5 39.9h2.2v1.8h-2.2zM175.2 47.9h2.6v2.1h-2.6zM30.6 88.3h2.6v3.1h-2.6zM185.5 103.8h2.2v2.2h-2.2zM83.2 127.1h1.8v1.4h-1.8zM44.6 94.7h2.6v2.1h-2.6zM237.5 115.6h2.2v1.8h-2.2zM17.7 99.6h1.8v1.4h-1.8zM76.1 95.9h2.6v2.6h-2.6zM13.4 57.6h2.2v1.8h-2.2zM98.4 186.1h3.0v2.4h-3.0zM69.1 212.4h3.0v3.6h-3.0zM173.6 39.4h2.6v3.1h-2.6zM138.6 199.0h1.8v1.4h-1.8zM56.6 223.9h1.8v1.4h-1.8zM140.2 115.4h2.2v1.8h-2.2zM173.7 27.8h3.0v3.0h-3.0zM236.7 76.1h2.2v2.6h-2.2zM107.2 76.7h2.2v2.6h-2.2zM204.5 5.6h3.0v3.6h-3.0zM42.0 172.1h1.8v1.8h-1.8zM157.6 105.8h2.6v3.1h-2.6zM229.1 193.1h1.8v1.8h-1.8zM215.9 82.1h3.0v3.6h-3.0zM50.9 207.6h2.6v2.6h-2.6zM207.8 68.9h1.8v2.2h-1.8zM24.8 88.3h1.8v1.4h-1.8zM36.5 127.9h1.8v2.2h-1.8zM168.2 207.2h2.2v2.2h-2.2zM142.8 180.6h2.2v2.6h-2.2zM14.7 231.8h3.0v3.6h-3.0zM189.2 176.2h2.6v2.1h-2.6zM116.9 129.3h3.0v2.4h-3.0zM84.1 90.0h2.2v2.6h-2.2zM236.9 30.3h2.2v2.6h-2.2zM221.1 176.0h2.2v1.8h-2.2zM163.8 88.2h2.2v2.2h-2.2zM200.6 26.8h2.2v1.8h-2.2zM109.3 200.1h2.6v3.1h-2.6zM132.3 45.6h2.6v2.1h-2.6zM220.0 108.1h2.2v1.8h-2.2zM231.5 181.7h2.6v3.1h-2.6zM43.0 51.6h2.6v2.6h-2.6zM190.3 191.7h1.8v2.2h-1.8zM119.5 63.8h2.6v3.1h-2.6zM104.8 41.3h2.6v2.6h-2.6zM93.8 26.9h1.8v2.2h-1.8zM231.1 62.2h1.8v2.2h-1.8zM175.2 192.0h2.2v1.8h-2.2zM34.5 194.8h2.6v3.1h-2.6zM19.4 177.0h3.0v3.0h-3.0zM183.1 117.7h3.0v2.4h-3.0zM109.5 45.4h1.8v2.2h-1.8zM148.7 200.6h3.0v3.0h-3.0zM230.5 200.8h3.0v3.6h-3.0zM84.7 102.4h2.6v3.1h-2.6zM10.6 155.9h2.6v2.6h-2.6zM183.0 172.8h2.6v3.1h-2.6zM209.6 73.0h2.6v2.6h-2.6zM24.0 9.5h2.6v2.6h-2.6zM119.3 205.9h2.2v2.6h-2.2zM93.7 163.1h1.8v1.4h-1.8zM14.9 159.7h2.2v2.6h-2.2zM198.9 59.4h1.8v1.4h-1.8zM112.1 33.9h3.0v3.0h-3.0zM232.4 87.2h2.6v3.1h-2.6zM105.8 185.1h1.8v1.8h-1.8zM125.2 51.0h2.6v2.6h-2.6zM119.1 138.9h1.8v1.4h-1.8zM71.1 32.9h3.0v2.4h-3.0zM31.2 39.1h2.6v3.1h-2.6zM50.8 83.9h2.2v1.8h-2.2zM175.9 12.6h2.6v3.1h-2.6zM45.8 45.0h3.0v3.0h-3.0zM11.3 158.0h2.6v2.6h-2.6zM128.0 151.8h1.8v1.4h-1.8zM142.2 184.3h1.8v1.8h-1.8zM165.7 114.0h2.6v3.1h-2.6zM25.6 202.1h2.2v1.8h-2.2zM205.1 79.5h1.8v1.8h-1.8zM108.5 67.3h3.0v3.6h-3.0zM43.7 214.3h3.0v3.0h-3.0zM26.9 156.7h1.8v1.4h-1.8zM169.8 193.5h1.8v2.2h-1.8zM13.7 195.3h1.8v2.2h-1.8zM133.2 184.6h2.6v2.1h-2.6zM226.1 138.3h2.6v3.1h-2.6zM35.2 2.4h2.6v2.6h-2.6zM143.7 37.9h2.2v1.8h-2.2zM57.2 145.5h3.0v3.6h-3.0zM193.2 10.8h3.0v3.0h-3.0zM106.5 111.6h3.0v3.6h-3.0zM188.3 3.9h3.0v3.6h-3.0zM109.1 68.8h2.2v2.2h-2.2zM130.5 68.3h3.0v2.4h-3.0zM180.2 217.0h2.6v2.6h-2.6zM22.7 122.2h2.6v2.6h-2.6zM85.1 58.8h3.0v2.4h-3.0zM181.2 192.0h3.0v3.0h-3.0zM47.3 86.7h2.2v1.8h-2.2zM175.5 6.6h2.2v2.2h-2.2zM169.0 3.1h2.2v1.8h-2.2zM33.2 195.9h1.8v1.8h-1.8zM23.2 64.8h2.2v2.2h-2.2zM69.8 24.0h2.2v1.8h-2.2zM173.0 207.7h2.2v2.6h-2.2zM4.7 80.4h1.8v1.4h-1.8zM112.4 151.6h2.2v2.6h-2.2zM192.3 43.0h3.0v3.6h-3.0zM100.7 54.6h2.2v2.6h-2.2zM210.7 198.9h2.6v2.6h-2.6zM33.3 113.9h1.8v1.8h-1.8zM217.3 207.3h1.8v2.2h-1.8zM229.7 55.7h2.2v2.2h-2.2zM44.1 45.9h2.2v2.6h-2.2zM132.6 125.4h1.8v1.4h-1.8zM107.0 28.0h3.0v2.4h-3.0zM58.9 141.5h2.6v2.1h-2.6zM46.6 170.8h3.0v3.0h-3.0zM49.9 66.7h1.8v1.8h-1.8zM102.3 169.4h1.8v2.2h-1.8zM20.7 113.1h2.6v3.1h-2.6zM84.8 170.5h1.8v1.8h-1.8zM130.9 214.1h1.8v2.2h-1.8zM181.5 4.0h2.6v2.6h-2.6zM2.8 26.0h2.2v2.2h-2.2zM135.6 112.9h2.6v2.1h-2.6zM50.1 193.3h2.6v2.1h-2.6zM204.5 9.0h3.0v3.0h-3.0zM228.9 114.1h3.0v3.6h-3.0zM113.3 214.3h2.2v2.2h-2.2zM1.6 157.1h2.6v2.1h-2.6zM176.9 100.8h2.2v2.6h-2.2zM213.0 78.1h2.6v2.1h-2.6zM110.9 31.4h2.6v3.1h-2.6zM162.9 148.8h1.8v2.2h-1.8zM73.1 96.2h2.2v2.6h-2.2zM99.4 62.6h1.8v1.8h-1.8zM126.3 225.3h2.2v1.8h-2.2zM140.3 220.0h2.6v3.1h-2.6zM122.1 199.4h3.0v3.0h-3.0zM162.7 206.0h1.8v1.8h-1.8zM142.7 157.1h2.2v2.6h-2.2zM116.9 87.0h2.6v2.6h-2.6zM62.6 39.3h1.8v1.4h-1.8zM206.6 131.1h2.2v2.2h-2.2zM7.3 197.1h2.6v2.1h-2.6zM16.0 211.8h2.6v2.1h-2.6zM70.1 28.2h3.0v3.0h-3.0zM96.0 154.7h2.2v2.2h-2.2zM109.5 155.1h2.6v3.1h-2.6zM8.2 204.8h1.8v2.2h-1.8zM91.7 145.0h1.8v2.2h-1.8zM211.2 206.6h2.6v2.1h-2.6zM36.4 191.0h1.8v2.2h-1.8zM116.8 219.1h1.8v1.8h-1.8zM232.0 154.4h3.0v3.6h-3.0zM76.4 208.7h1.8v1.4h-1.8zM96.2 121.3h1.8v1.8h-1.8zM108.4 7.3h2.2v2.2h-2.2zM231.3 116.9h1.8v1.8h-1.8zM86.7 77.7h3.0v2.4h-3.0zM17.7 163.1h1.8v1.4h-1.8zM75.0 201.2h1.8v1.4h-1.8zM51.7 145.7h2.6v2.1h-2.6zM61.3 212.7h2.2v2.2h-2.2zM5.0 118.2h2.2v2.2h-2.2zM119.6 47.3h2.2v2.6h-2.2zM219.9 66.6h2.6v3.1h-2.6zM204.0 227.5h3.0v2.4h-3.0zM38.3 204.5h2.6v2.6h-2.6zM71.5 194.3h2.2v1.8h-2.2zM117.6 186.5h2.6v2.6h-2.6zM210.6 181.2h3.0v3.0h-3.0zM187.4 126.4h1.8v1.4h-1.8zM197.5 54.9h1.8v1.8h-1.8zM36.5 58.3h3.0v2.4h-3.0zM233.2 197.8h2.2v2.2h-2.2zM154.0 155.1h1.8v1.8h-1.8zM158.7 37.8h2.6v2.1h-2.6zM30.6 105.1h1.8v1.4h-1.8zM86.0 32.5h2.2v2.2h-2.2zM42.8 83.8h3.0v3.0h-3.0zM200.7 194.9h3.0v3.0h-3.0zM32.6 102.2h3.0v3.0h-3.0zM226.1 21.9h3.0v3.6h-3.0zM234.8 47.6h3.0v3.0h-3.0zM194.5 180.5h3.0v2.4h-3.0zM25.9 188.3h2.2v2.2h-2.2zM94.1 93.0h2.6v3.1h-2.6zM128.2 161.8h2.6v2.1h-2.6zM24.8 175.7h2.2v1.8h-2.2zM89.0 28.1h2.2v2.2h-2.2zM142.1 183.5h3.0v3.0h-3.0zM231.8 36.3h1.8v2.2h-1.8zM235.2 127.1h3.0v2.4h-3.0zM130.9 114.0h2.2v2.2h-2.2zM227.5 183.4h2.6v3.1h-2.6zM149.7 111.8h1.8v2.2h-1.8zM8.0 121.7h2.2v2.6h-2.2zM125.2 184.7h2.2v1.8h-2.2zM215.0 103.9h1.8v1.8h-1.8zM37.6 51.7h1.8v1.4h-1.8zM121.3 96.1h2.6v2.6h-2.6zM120.4 181.5h2.6v2.1h-2.6zM215.2 155.7h2.6v3.1h-2.6zM227.8 114.6h2.6v3.1h-2.6zM12.4 84.0h2.6v3.1h-2.6zM183.4 132.4h3.0v3.6h-3.0zM237.2 200.2h2.6v3.1h-2.6zM85.5 162.0h2.6v2.1h-2.6zM90.9 227.4h2.2v1.8h-2.2zM36.4 199.0h3.0v3.6h-3.0zM123.6 78.6h2.2v2.2h-2.2zM156.5 160.9h1.8v1.4h-1.8zM7.6 237.2h2.6v3.1h-2.6zM56.8 154.8h2.6v2.1h-2.6zM71.3 47.0h1.8v1.8h-1.8zM231.6 4.5h2.6v3.1h-2.6zM167.3 148.4h3.0v2.4h-3.0zM214.8 61.3h2.2v2.2h-2.2zM98.5 100.8h3.0v3.0h-3.0zM147.8 221.9h2.6v2.6h-2.6zM46.0 79.2h1.8v1.4h-1.8zM88.6 3.9h2.6v2.1h-2.6zM165.2 180.9h2.2v2.2h-2.2zM228.5 43.9h3.0v2.4h-3.0zM127.7 78.3h2.6v2.6h-2.6zM115.8 9.8h2.6v2.1h-2.6zM79.6 98.5h1.8v2.2h-1.8zM78.0 10.1h2.2v1.8h-2.2zM148.2 46.3h2.6v2.6h-2.6zM10.3 214.6h2.6v2.6h-2.6zM9.0 228.8h1.8v1.4h-1.8zM159.2 127.4h2.6v2.6h-2.6zM175.7 102.1h1.8v1.4h-1.8zM196.2 209.8h2.6v3.1h-2.6zM110.7 228.5h2.6v3.1h-2.6zM117.2 66.9h2.6v2.1h-2.6zM130.6 29.3h3.0v2.4h-3.0zM13.0 66.5h2.2v1.8h-2.2zM196.7 177.4h2.2v2.2h-2.2zM40.7 84.6h3.0v3.6h-3.0zM219.3 94.6h2.2v2.2h-2.2zM67.2 124.2h3.0v2.4h-3.0zM74.7 204.3h1.8v2.2h-1.8zM121.7 34.8h2.6v2.6h-2.6zM234.8 83.7h1.8v2.2h-1.8zM206.6 206.8h2.2v2.6h-2.2zM43.3 114.3h2.2v2.2h-2.2zM73.1 199.2h1.8v2.2h-1.8zM81.9 192.4h1.8v2.2h-1.8zM220.3 157.7h1.8v2.2h-1.8zM148.5 150.5h1.8v1.8h-1.8zM109.0 52.0h2.6v3.1h-2.6zM3.1 234.6h1.8v1.8h-1.8zM56.8 123.3h2.2v2.6h-2.2zM119.1 43.0h2.6v2.6h-2.6zM69.7 208.7h3.0v2.4h-3.0zM237.3 140.8h1.8v1.8h-1.8zM163.8 68.6h1.8v1.4h-1.8zM169.7 117.5h1.8v2.2h-1.8zM135.6 183.7h3.0v2.4h-3.0zM198.3 177.1h3.0v3.0h-3.0zM138.0 165.7h3.0v3.6h-3.0zM18.8 87.7h3.0v3.6h-3.0zM30.4 159.6h1.8v1.4h-1.8zM221.4 149.5h1.8v1.4h-1.8zM55.2 25.7h2.6v2.1h-2.6zM145.5 218.5h3.0v3.6h-3.0zM149.7 11.2h1.8v1.4h-1.8zM132.1 62.4h2.2v2.2h-2.2zM106.0 226.5h2.2v2.6h-2.2zM119.5 144.1h2.2v2.2h-2.2zM103.2 53.5h2.6v3.1h-2.6zM109.9 115.7h2.6v2.1h-2.6zM114.1 195.0h3.0v3.6h-3.0zM136.7 18.1h1.8v1.8h-1.8zM158.8 97.4h3.0v3.0h-3.0zM147.5 51.8h3.0v2.4h-3.0zM2.9 41.8h2.2v2.2h-2.2zM121.3 38.9h1.8v1.4h-1.8zM23.9 64.7h2.6v3.1h-2.6zM210.2 47.6h2.6v3.1h-2.6zM105.7 207.2h2.2v2.2h-2.2zM49.8 114.1h3.0v3.6h-3.0zM123.5 199.7h2.6v2.6h-2.6zM235.9 17.5h1.8v2.2h-1.8zM149.3 221.4h3.0v3.6h-3.0zM22.6 13.4h1.8v1.8h-1.8zM131.2 127.3h3.0v2.4h-3.0zM175.8 68.1h3.0v3.0h-3.0zM226.6 32.8h3.0v2.4h-3.0zM227.6 110.6h1.8v1.4h-1.8zM158.3 59.5h1.8v1.4h-1.8zM189.1 45.4h2.2v2.6h-2.2zM153.7 67.8h1.8v1.4h-1.8zM235.1 127.5h2.6v2.6h-2.6zM208.5 156.5h2.2v2.2h-2.2zM189.1 177.2h2.2v2.2h-2.2zM34.6 24.2h2.6v2.6h-2.6zM69.7 108.8h2.2v2.2h-2.2zM207.6 65.2h2.2v2.6h-2.2zM220.7 228.6h1.8v2.2h-1.8zM74.9 72.2h2.2v2.2h-2.2zM2.9 185.8h2.6v2.6h-2.6zM56.4 151.5h2.6v3.1h-2.6zM111.5 196.6h2.6v2.1h-2.6zM152.4 141.0h3.0v3.6h-3.0zM16.5 190.1h1.8v1.8h-1.8zM54.1 230.9h1.8v2.2h-1.8zM122.4 73.7h2.6v3.1h-2.6zM40.2 203.1h3.0v3.6h-3.0zM220.1 215.4h1.8v1.8h-1.8zM75.0 95.6h1.8v1.4h-1.8zM135.1 88.4h1.8v1.8h-1.8zM86.0 178.2h2.6v3.1h-2.6zM223.7 98.9h2.6v2.1h-2.6zM169.0 203.8h1.8v1.8h-1.8zM134.8 23.2h1.8v1.8h-1.8zM136.6 51.3h2.2v1.8h-2.2zM51.4 23.6h3.0v3.0h-3.0zM110.0 135.4h3.0v2.4h-3.0zM225.5 108.3h3.0v3.0h-3.0zM98.1 136.9h3.0v2.4h-3.0zM209.5 173.7h1.8v2.2h-1.8zM0.7 210.5h1.8v1.8h-1.8zM25.0 134.1h3.0v2.4h-3.0zM189.4 55.8h3.0v3.0h-3.0zM104.3 211.0h1.8v2.2h-1.8zM9.5 186.2h2.2v2.2h-2.2zM38.7 107.0h2.6v2.1h-2.6zM75.6 97.3h1.8v2.2h-1.8zM106.9 42.9h2.6v2.6h-2.6zM30.0 210.7h2.6v2.1h-2.6zM181.6 126.4h1.8v1.8h-1.8zM196.5 105.3h2.2v1.8h-2.2zM207.9 91.1h3.0v3.0h-3.0zM101.2 237.9h3.0v2.4h-3.0zM106.4 134.2h1.8v2.2h-1.8zM69.1 175.6h3.0v3.0h-3.0zM127.3 194.9h2.2v1.8h-2.2zM220.2 171.3h2.2v2.6h-2.2zM163.8 233.7h2.6v3.1h-2.6zM116.3 155.7h1.8v1.8h-1.8zM170.3 139.0h3.0v3.6h-3.0zM217.3 158.4h1.8v2.2h-1.8zM237.0 98.0h2.2v2.2h-2.2zM49.2 0.6h1.8v2.2h-1.8zM62.5 213.9h2.6v3.1h-2.6zM128.6 206.2h3.0v3.6h-3.0zM48.7 155.3h2.6v3.1h-2.6zM113.1 60.2h2.6v3.1h-2.6zM48.1 201.3h2.2v2.6h-2.2zM6.1 231.1h2.2v2.2h-2.2zM132.0 50.4h1.8v1.8h-1.8zM161.7 201.3h3.0v2.4h-3.0zM217.5 45.4h2.6v2.1h-2.6zM101.5 160.1h3.0v3.6h-3.0zM184.2 95.6h3.0v3.0h-3.0zM114.4 132.5h2.6v2.6h-2.6zM96.9 19.3h1.8v1.8h-1.8zM102.3 122.7h2.2v2.6h-2.2zM235.7 153.2h2.2v1.8h-2.2zM34.4 88.0h2.2v2.6h-2.2zM87.3 71.0h2.2v2.6h-2.2zM196.3 81.8h2.6v2.1h-2.6zM76.3 152.7h1.8v1.4h-1.8zM45.7 45.5h2.6v3.1h-2.6zM212.4 110.3h1.8v1.4h-1.8zM99.7 40.6h2.2v2.2h-2.2zM182.6 112.1h2.6v2.1h-2.6zM45.3 15.2h3.0v3.6h-3.0zM69.5 156.7h2.6v2.6h-2.6zM44.6 112.3h1.8v1.4h-1.8zM18.7 29.2h1.8v1.4h-1.8zM213.5 31.5h3.0v3.0h-3.0zM92.5 55.3h2.2v2.6h-2.2zM80.8 153.4h1.8v1.8h-1.8zM157.7 45.9h2.2v2.2h-2.2zM218.5 29.1h3.0v3.6h-3.0zM222.4 220.8h1.8v1.4h-1.8zM26.1 44.8h1.8v1.4h-1.8zM26.0 14.4h2.6v2.1h-2.6zM180.1 27.8h2.2v2.6h-2.2zM107.4 26.0h3.0v3.0h-3.0zM222.5 7.6h2.6v2.6h-2.6zM98.7 12.4h2.2v1.8h-2.2zM138.0 52.3h3.0v3.6h-3.0zM19.4 210.0h1.8v1.8h-1.8zM35.1 19.8h1.8v1.4h-1.8zM163.1 230.6h3.0v2.4h-3.0zM159.7 -0.9h3.0v2.4h-3.0zM89.3 235.8h2.2v2.2h-2.2zM12.9 15.9h1.8v2.2h-1.8zM185.1 234.2h2.6v2.1h-2.6zM230.9 101.7h3.0v3.0h-3.0zM164.5 151.4h3.0v2.4h-3.0zM125.9 123.5h2.2v1.8h-2.2zM54.0 93.8h2.6v2.1h-2.6zM10.4 23.9h2.2v2.2h-2.2zM191.7 112.5h1.8v2.2h-1.8zM49.9 175.0h1.8v1.4h-1.8zM109.7 138.6h1.8v2.2h-1.8zM89.7 164.8h2.2v2.2h-2.2zM174.9 8.6h2.2v2.2h-2.2zM56.8 13.3h2.2v1.8h-2.2zM125.3 44.9h2.2v1.8h-2.2zM46.7 116.4h2.6v2.1h-2.6zM139.5 34.0h2.6v2.1h-2.6zM76.7 114.5h2.2v2.6h-2.2zM23.2 205.2h3.0v2.4h-3.0zM17.4 7.3h2.6v2.6h-2.6zM113.4 30.6h3.0v2.4h-3.0zM80.7 235.4h1.8v1.8h-1.8zM163.6 46.2h3.0v3.6h-3.0zM134.4 204.5h1.8v2.2h-1.8zM209.5 134.6h2.6v2.6h-2.6zM67.5 184.1h2.2v2.2h-2.2zM34.8 233.6h1.8v1.8h-1.8zM132.2 87.3h2.6v2.1h-2.6zM198.4 208.1h2.2v2.2h-2.2zM238.1 158.4h2.2v2.6h-2.2zM169.0 143.9h2.6v2.1h-2.6zM78.3 100.9h2.2v2.2h-2.2zM116.4 150.3h1.8v1.8h-1.8zM14.6 110.2h2.2v1.8h-2.2zM225.3 8.1h1.8v2.2h-1.8zM226.3 209.9h3.0v3.0h-3.0zM78.3 205.9h3.0v3.6h-3.0zM221.8 164.9h2.6v2.1h-2.6zM22.5 89.6h3.0v2.4h-3.0zM68.6 164.2h2.6v3.1h-2.6zM87.5 45.5h2.2v1.8h-2.2zM104.4 3.0h2.2v2.6h-2.2zM236.1 84.4h3.0v3.6h-3.0zM34.9 142.0h1.8v1.8h-1.8zM211.8 197.3h2.6v2.1h-2.6z" fill="#121c70"/>
<path d="M107.3 51.6h2.6v3.1h-2.6zM26.2 229.7h2.2v1.8h-2.2zM228.6 130.7h2.6v2.6h-2.6zM184.0 20.6h1.8v1.4h-1.8zM105.4 20.7h2.2v1.8h-2.2zM101.0 235.5h1.8v2.2h-1.8zM221.8 15.4h2.6v2.1h-2.6zM210.4 112.1h3.0v3.6h-3.0zM232.0 182.4h2.2v1.8h-2.2zM144.8 110.2h2.6v2.6h-2.6zM202.1 141.5h2.6v2.1h-2.6zM235.5 144.6h1.8v2.2h-1.8zM129.0 129.8h3.0v2.4h-3.0zM126.5 30.7h3.0v2.4h-3.0zM127.1 75.7h1.8v2.2h-1.8zM182.0 133.7h3.0v3.0h-3.0zM53.9 194.3h2.2v1.8h-2.2zM75.3 129.5h1.8v2.2h-1.8zM-0.2 136.6h1.8v1.8h-1.8zM97.7 222.1h2.2v2.6h-2.2zM14.3 232.2h1.8v1.4h-1.8zM172.8 133.4h1.8v1.4h-1.8zM172.9 199.5h2.6v2.1h-2.6zM58.8 231.1h3.0v3.0h-3.0zM179.6 237.3h2.6v3.1h-2.6zM94.0 28.3h3.0v3.0h-3.0zM202.8 71.4h2.6v3.1h-2.6zM153.3 53.6h2.2v1.8h-2.2zM75.9 168.9h1.8v1.8h-1.8zM228.5 111.4h3.0v2.4h-3.0zM40.1 226.8h1.8v2.2h-1.8zM23.0 233.2h2.6v2.1h-2.6zM128.2 140.1h3.0v2.4h-3.0zM74.8 219.8h2.2v2.6h-2.2zM200.8 8.1h2.2v2.2h-2.2zM95.8 120.6h2.6v2.1h-2.6zM163.1 219.5h3.0v2.4h-3.0zM173.8 92.7h2.2v2.2h-2.2zM194.2 22.6h2.6v3.1h-2.6zM163.6 197.6h1.8v1.4h-1.8zM57.7 157.7h2.2v2.2h-2.2zM86.2 214.9h2.2v2.2h-2.2zM11.7 91.7h2.2v2.6h-2.2zM186.2 41.3h1.8v1.4h-1.8zM181.0 153.9h3.0v3.0h-3.0zM107.9 184.3h2.2v2.2h-2.2zM54.7 123.8h2.2v2.6h-2.2zM27.7 26.2h2.6v2.1h-2.6zM125.1 188.3h2.2v1.8h-2.2zM62.8 45.0h2.2v2.2h-2.2zM35.5 186.5h2.2v2.6h-2.2zM38.8 26.0h2.6v2.6h-2.6zM16.0 123.8h3.0v2.4h-3.0zM218.6 78.4h2.6v2.1h-2.6zM54.3 121.1h3.0v2.4h-3.0zM191.1 0.2h1.8v1.4h-1.8zM221.3 181.8h3.0v2.4h-3.0zM122.8 168.4h2.2v2.6h-2.2zM25.5 235.9h3.0v2.4h-3.0zM66.4 1.3h1.8v1.8h-1.8zM57.9 2.9h2.6v2.6h-2.6zM231.8 52.2h2.6v2.6h-2.6zM40.3 30.9h2.6v2.1h-2.6zM181.2 159.9h1.8v1.4h-1.8zM230.3 83.9h1.8v1.4h-1.8zM97.5 235.2h2.6v2.6h-2.6zM40.9 179.8h2.2v2.6h-2.2zM168.2 65.1h2.2v1.8h-2.2zM220.6 152.8h1.8v2.2h-1.8zM89.9 33.0h2.6v2.6h-2.6zM171.5 21.1h3.0v3.0h-3.0zM36.5 141.2h3.0v3.0h-3.0zM135.1 25.1h2.2v2.6h-2.2zM50.4 106.8h2.2v1.8h-2.2zM195.8 156.4h2.6v2.1h-2.6zM50.8 136.8h2.2v1.8h-2.2zM223.5 70.0h3.0v3.6h-3.0zM116.3 26.2h2.6v2.6h-2.6zM139.8 153.4h3.0v2.4h-3.0zM229.1 216.1h1.8v1.4h-1.8zM61.9 103.5h1.8v1.4h-1.8zM63.4 11.8h3.0v2.4h-3.0zM137.4 6.5h1.8v2.2h-1.8zM10.4 93.3h3.0v3.0h-3.0zM130.6 148.3h3.0v3.6h-3.0zM40.8 157.8h1.8v1.8h-1.8zM209.0 160.1h2.6v3.1h-2.6zM4.8 183.7h1.8v1.4h-1.8zM127.9 1.9h2.2v2.6h-2.2zM198.3 83.1h2.6v3.1h-2.6zM93.6 58.7h3.0v2.4h-3.0zM27.3 188.2h2.2v2.2h-2.2zM76.0 186.9h3.0v2.4h-3.0zM192.7 65.5h1.8v1.8h-1.8zM165.6 174.6h1.8v2.2h-1.8zM38.5 86.7h2.2v2.2h-2.2zM156.7 3.9h1.8v2.2h-1.8zM161.3 166.6h1.8v2.2h-1.8zM25.3 110.5h2.2v2.2h-2.2zM180.0 97.6h3.0v3.6h-3.0zM68.9 238.8h3.0v2.4h-3.0zM82.2 29.8h3.0v3.0h-3.0zM46.7 11.6h2.6v3.1h-2.6zM96.4 2.0h1.8v1.4h-1.8zM49.6 149.8h3.0v3.6h-3.0zM96.7 156.3h1.8v2.2h-1.8zM208.7 94.8h1.8v2.2h-1.8zM204.9 48.6h3.0v3.0h-3.0zM176.6 239.6h1.8v2.2h-1.8zM160.5 221.3h3.0v2.4h-3.0zM188.5 236.4h1.8v1.8h-1.8zM8.9 5.9h1.8v2.2h-1.8zM32.6 114.4h2.2v2.2h-2.2zM5.5 208.0h3.0v2.4h-3.0zM100.9 172.4h2.2v2.6h-2.2zM131.0 165.9h2.6v2.1h-2.6zM136.1 90.1h2.2v1.8h-2.2zM22.9 184.5h3.0v2.4h-3.0zM16.9 98.1h2.2v2.6h-2.2zM46.9 109.7h3.0v2.4h-3.0zM174.8 93.1h2.6v2.1h-2.6zM54.7 58.3h2.6v2.1h-2.6zM183.9 4.8h2.6v2.1h-2.6zM118.1 33.8h2.6v2.1h-2.6zM137.8 20.6h2.6v2.1h-2.6zM35.8 203.3h1.8v1.8h-1.8zM53.5 4.9h3.0v2.4h-3.0zM120.7 1.9h2.6v2.1h-2.6zM166.1 105.5h2.2v1.8h-2.2zM183.4 228.6h1.8v1.8h-1.8zM101.7 75.5h2.6v2.1h-2.6zM12.9 216.6h2.6v2.6h-2.6zM149.9 150.2h1.8v1.8h-1.8zM131.3 45.1h3.0v3.6h-3.0zM104.1 32.5h2.6v2.1h-2.6zM175.9 198.7h2.6v2.6h-2.6zM178.0 54.4h1.8v1.8h-1.8zM174.4 110.4h1.8v1.8h-1.8zM136.9 10.3h2.2v1.8h-2.2zM133.9 227.6h2.2v1.8h-2.2zM36.9 155.4h1.8v2.2h-1.8zM198.3 166.5h1.8v2.2h-1.8zM138.6 109.3h2.6v2.6h-2.6zM129.0 82.9h2.2v2.2h-2.2zM133.9 19.1h3.0v3.6h-3.0zM40.7 166.5h1.8v1.4h-1.8zM225.5 193.9h2.6v2.1h-2.6zM128.3 99.5h1.8v1.8h-1.8zM52.6 99.1h3.0v3.6h-3.0zM221.6 61.1h2.2v1.8h-2.2zM125.7 169.6h2.6v2.6h-2.6z" fill="#2234b0"/>
<path d="M110 215h2.0v2.0h-2.0zM27 18h2.0v2.0h-2.0zM182 167h2.0v2.0h-2.0zM27 59h2.0v2.0h-2.0zM161 40h2.0v2.0h-2.0zM115 228h2.0v2.0h-2.0zM40 171h2.0v2.0h-2.0zM206 144h2.0v2.0h-2.0zM5 62h2.0v2.0h-2.0zM75 150h2.0v2.0h-2.0zM71 193h2.0v2.0h-2.0zM136 127h2.0v2.0h-2.0zM185 86h2.0v2.0h-2.0zM84 13h2.0v2.0h-2.0zM161 102h2.0v2.0h-2.0zM75 218h2.0v2.0h-2.0zM24 147h2.0v2.0h-2.0zM154 98h2.0v2.0h-2.0zM74 199h2.0v2.0h-2.0zM160 35h2.0v2.0h-2.0zM4 116h2.0v2.0h-2.0zM96 102h2.0v2.0h-2.0zM226 67h2.0v2.0h-2.0zM112 99h2.0v2.0h-2.0zM76 230h2.0v2.0h-2.0zM196 163h2.0v2.0h-2.0zM132 70h2.0v2.0h-2.0zM151 185h2.0v2.0h-2.0zM100 97h2.0v2.0h-2.0zM212 123h2.0v2.0h-2.0zM181 136h2.0v2.0h-2.0zM33 115h2.0v2.0h-2.0zM161 26h2.0v2.0h-2.0zM104 180h2.0v2.0h-2.0zM139 8h2.0v2.0h-2.0zM40 127h2.0v2.0h-2.0zM15 207h2.0v2.0h-2.0zM217 214h2.0v2.0h-2.0zM76 147h2.0v2.0h-2.0zM218 20h2.0v2.0h-2.0z" fill="#207a40"/>
</g></g>
<circle cx="900.5" cy="459" r="1.8" fill="#30e070" filter="url(#bl)"/>
<circle cx="938.5" cy="465" r="1.8" fill="#30e070" filter="url(#bl)"/>
<circle cx="1018" cy="498" r="1.8" fill="#30e070" filter="url(#bl)"/>
<circle cx="968" cy="520" r="1.8" fill="#30e070" filter="url(#bl)"/>
<circle cx="947" cy="534" r="1.8" fill="#30e070" filter="url(#bl)"/>
<circle cx="969.5" cy="539.5" r="1.8" fill="#30e070" filter="url(#bl)"/>
<circle cx="1022" cy="538" r="1.8" fill="#30e070" filter="url(#bl)"/>
<circle cx="1030.5" cy="538" r="1.8" fill="#30e070" filter="url(#bl)"/>
<circle cx="1010" cy="548.5" r="1.8" fill="#30e070" filter="url(#bl)"/>
<circle cx="917.5" cy="506" r="1.8" fill="#30e070" filter="url(#bl)"/>
<circle cx="923" cy="503.5" r="1.8" fill="#30e070" filter="url(#bl)"/>
<circle cx="1030.5" cy="442" r="1.8" fill="#30e070" filter="url(#bl)"/>
<circle cx="1074.5" cy="444.5" r="1.8" fill="#30e070" filter="url(#bl)"/>
<rect x="865.6" y="499.5" width="72.3" height="71.1" fill="none" stroke="#fff" stroke-width="2.5" stroke-dasharray="4.1 2.9"/>
<line x1="869.8" y1="596.3" x2="1017.0" y2="596.3" stroke="#fff" stroke-width="3.1" />
<text font-size="19.8" text-anchor="middle" fill="#fff" stroke="#fff" stroke-width="0.32" transform="translate(941.3 591.4)">500µm</text>
<rect x="1109.5" y="367.5" width="239.5" height="239.2" fill="#fff" stroke="#000" stroke-width="2.7" />
<circle cx="1131.6" cy="370.6" r="1.2" fill="#111"/>
<circle cx="1190.2" cy="370.6" r="1.2" fill="#111"/>
<circle cx="1136.7" cy="404.3" r="0.9" fill="#111"/>
<circle cx="1173.5" cy="415.5" r="0.9" fill="#111"/>
<circle cx="1177.6" cy="417.1" r="0.9" fill="#111"/>
<circle cx="1168.0" cy="424.3" r="0.9" fill="#111"/>
<circle cx="1181.6" cy="429.2" r="1.5" fill="#111"/>
<circle cx="1156.7" cy="431.8" r="1.2" fill="#111"/>
<circle cx="1193.3" cy="439.0" r="0.7" fill="#111"/>
<circle cx="1162.9" cy="454.3" r="1.2" fill="#111"/>
<circle cx="1146.9" cy="459.8" r="1.5" fill="#111"/>
<circle cx="1186.3" cy="455.7" r="0.9" fill="#111"/>
<circle cx="1185.1" cy="464.9" r="0.9" fill="#111"/>
<circle cx="1196.9" cy="462.4" r="1.2" fill="#111"/>
<circle cx="1192.9" cy="472.7" r="0.7" fill="#111"/>
<circle cx="1182.0" cy="478.4" r="1.2" fill="#111"/>
<circle cx="1115.3" cy="504.3" r="1.2" fill="#111"/>
<circle cx="1169.0" cy="506.3" r="0.7" fill="#111"/>
<circle cx="1163.9" cy="510.4" r="1.2" fill="#111"/>
<circle cx="1130.2" cy="514.1" r="0.7" fill="#111"/>
<circle cx="1189.4" cy="520.0" r="1.2" fill="#111"/>
<circle cx="1126.5" cy="527.3" r="1.2" fill="#111"/>
<circle cx="1180.0" cy="532.2" r="1.2" fill="#111"/>
<circle cx="1191.8" cy="533.3" r="1.5" fill="#111"/>
<circle cx="1157.1" cy="539.0" r="1.2" fill="#111"/>
<circle cx="1172.0" cy="548.8" r="0.9" fill="#111"/>
<circle cx="1165.3" cy="550.8" r="1.5" fill="#111"/>
<circle cx="1145.5" cy="551.8" r="1.5" fill="#111"/>
<circle cx="1186.7" cy="559.8" r="0.9" fill="#111"/>
<circle cx="1131.6" cy="560.8" r="0.7" fill="#111"/>
<circle cx="1150.6" cy="565.5" r="1.2" fill="#111"/>
<circle cx="1170.4" cy="560.8" r="0.7" fill="#111"/>
<circle cx="1195.9" cy="569.0" r="1.2" fill="#111"/>
<circle cx="1176.5" cy="573.3" r="1.5" fill="#111"/>
<circle cx="1195.9" cy="583.3" r="0.7" fill="#111"/>
<circle cx="1243.9" cy="372.7" r="1.5" fill="#111"/>
<circle cx="1233.7" cy="378.2" r="1.2" fill="#111"/>
<circle cx="1229.6" cy="388.4" r="1.5" fill="#111"/>
<circle cx="1344.9" cy="384.9" r="0.7" fill="#111"/>
<circle cx="1259.6" cy="393.5" r="1.5" fill="#111"/>
<circle cx="1275.9" cy="397.1" r="0.7" fill="#111"/>
<circle cx="1302.4" cy="396.1" r="0.9" fill="#111"/>
<circle cx="1308.8" cy="399.6" r="0.9" fill="#111"/>
<circle cx="1238.2" cy="402.7" r="0.7" fill="#111"/>
<circle cx="1205.1" cy="411.8" r="0.9" fill="#111"/>
<circle cx="1320.4" cy="411.0" r="1.5" fill="#111"/>
<circle cx="1325.1" cy="431.2" r="1.2" fill="#111"/>
<circle cx="1340.4" cy="438.2" r="1.2" fill="#111"/>
<circle cx="1302.0" cy="436.5" r="1.2" fill="#111"/>
<circle cx="1296.3" cy="440.6" r="1.5" fill="#111"/>
<circle cx="1278.6" cy="442.7" r="0.7" fill="#111"/>
<circle cx="1248.0" cy="443.5" r="1.2" fill="#111"/>
<circle cx="1322.4" cy="444.5" r="1.2" fill="#111"/>
<circle cx="1213.7" cy="458.0" r="0.7" fill="#111"/>
<circle cx="1286.7" cy="469.2" r="1.5" fill="#111"/>
<circle cx="1281.6" cy="480.4" r="0.7" fill="#111"/>
<circle cx="1265.3" cy="498.2" r="0.9" fill="#111"/>
<circle cx="1277.6" cy="509.0" r="1.2" fill="#111"/>
<circle cx="1310.2" cy="513.1" r="1.2" fill="#111"/>
<circle cx="1215.3" cy="519.6" r="0.9" fill="#111"/>
<circle cx="1238.2" cy="524.3" r="1.2" fill="#111"/>
<circle cx="1247.3" cy="521.0" r="1.2" fill="#111"/>
<circle cx="1254.1" cy="525.3" r="0.7" fill="#111"/>
<circle cx="1240.8" cy="533.5" r="1.2" fill="#111"/>
<circle cx="1314.3" cy="534.5" r="1.2" fill="#111"/>
<circle cx="1270.0" cy="536.9" r="1.2" fill="#111"/>
<circle cx="1277.1" cy="538.4" r="0.9" fill="#111"/>
<circle cx="1282.7" cy="542.7" r="0.7" fill="#111"/>
<circle cx="1215.9" cy="539.6" r="0.9" fill="#111"/>
<circle cx="1256.7" cy="548.2" r="1.2" fill="#111"/>
<circle cx="1209.6" cy="554.9" r="1.5" fill="#111"/>
<circle cx="1263.7" cy="558.8" r="0.9" fill="#111"/>
<circle cx="1303.7" cy="563.9" r="0.7" fill="#111"/>
<circle cx="1275.5" cy="576.7" r="0.7" fill="#111"/>
<clipPath id="c8"><rect x="0" y="0" width="241.0" height="240.8"/></clipPath>
<g transform="translate(1355.0 367.0)" clip-path="url(#c8)">
<rect width="241.0" height="240.8" fill="#000205"/>
<g filter="url(#bl2)">
<path d="M227.9 177.2a3.1 2.9 15 1 0 6.0 1.7a3.1 2.9 15 1 0 -6.0 -1.7zM202.0 35.1a3.1 2.5 66 1 0 2.5 5.7a3.1 2.5 66 1 0 -2.5 -5.7zM195.5 194.2a4.3 2.2 134 1 0 -5.9 6.1a4.3 2.2 134 1 0 5.9 -6.1zM24.0 116.6a2.8 2.4 121 1 0 -2.9 4.8a2.8 2.4 121 1 0 2.9 -4.8zM59.4 86.0a3.4 2.2 81 1 0 1.1 6.8a3.4 2.2 81 1 0 -1.1 -6.8zM150.7 215.2a3.3 2.7 57 1 0 3.6 5.5a3.3 2.7 57 1 0 -3.6 -5.5zM65.2 157.4a3.8 2.3 178 1 0 -7.7 0.2a3.8 2.3 178 1 0 7.7 -0.2zM144.2 225.9a3.1 2.0 39 1 0 4.8 3.8a3.1 2.0 39 1 0 -4.8 -3.8zM86.3 105.0a3.0 2.0 93 1 0 -0.4 6.0a3.0 2.0 93 1 0 0.4 -6.0zM114.2 88.2a3.6 2.2 85 1 0 0.7 7.2a3.6 2.2 85 1 0 -0.7 -7.2zM199.7 184.1a3.7 2.1 67 1 0 2.9 6.8a3.7 2.1 67 1 0 -2.9 -6.8zM175.9 122.5a4.0 2.1 130 1 0 -5.1 6.1a4.0 2.1 130 1 0 5.1 -6.1zM42.2 127.7a2.8 2.2 13 1 0 5.4 1.3a2.8 2.2 13 1 0 -5.4 -1.3zM188.3 187.2a3.2 2.0 153 1 0 -5.6 2.9a3.2 2.0 153 1 0 5.6 -2.9zM229.5 233.5a3.6 2.8 51 1 0 4.5 5.5a3.6 2.8 51 1 0 -4.5 -5.5zM142.9 102.2a2.8 2.1 54 1 0 3.4 4.6a2.8 2.1 54 1 0 -3.4 -4.6zM133.5 228.9a4.0 2.9 69 1 0 2.8 7.4a4.0 2.9 69 1 0 -2.8 -7.4zM2.6 172.6a3.8 2.6 17 1 0 7.3 2.3a3.8 2.6 17 1 0 -7.3 -2.3zM92.7 201.1a2.8 2.5 47 1 0 3.9 4.1a2.8 2.5 47 1 0 -3.9 -4.1zM232.0 88.7a2.9 2.2 160 1 0 -5.4 2.0a2.9 2.2 160 1 0 5.4 -2.0zM143.2 92.5a4.2 2.0 47 1 0 5.8 6.1a4.2 2.0 47 1 0 -5.8 -6.1zM239.2 23.3a2.5 2.2 107 1 0 -1.5 4.9a2.5 2.2 107 1 0 1.5 -4.9zM228.9 121.4a3.8 2.9 74 1 0 2.1 7.2a3.8 2.9 74 1 0 -2.1 -7.2zM158.2 153.9a4.3 2.6 84 1 0 0.8 8.7a4.3 2.6 84 1 0 -0.8 -8.7zM53.8 70.9a3.7 2.5 17 1 0 7.0 2.2a3.7 2.5 17 1 0 -7.0 -2.2zM124.5 27.0a4.3 2.3 179 1 0 -8.6 0.2a4.3 2.3 179 1 0 8.6 -0.2zM117.8 55.9a3.3 2.9 27 1 0 5.8 3.0a3.3 2.9 27 1 0 -5.8 -3.0zM17.7 200.9a3.0 2.7 86 1 0 0.4 5.9a3.0 2.7 86 1 0 -0.4 -5.9zM123.3 224.7a2.5 2.5 133 1 0 -3.5 3.7a2.5 2.5 133 1 0 3.5 -3.7zM39.3 16.9a4.4 2.2 66 1 0 3.6 8.0a4.4 2.2 66 1 0 -3.6 -8.0zM72.3 119.7a4.5 2.5 159 1 0 -8.4 3.2a4.5 2.5 159 1 0 8.4 -3.2zM153.8 8.7a3.2 1.9 121 1 0 -3.3 5.5a3.2 1.9 121 1 0 3.3 -5.5zM214.6 222.2a3.0 2.4 135 1 0 -4.2 4.3a3.0 2.4 135 1 0 4.2 -4.3zM100.7 74.1a2.5 2.3 139 1 0 -3.8 3.4a2.5 2.3 139 1 0 3.8 -3.4zM130.3 51.9a3.4 2.0 109 1 0 -2.1 6.4a3.4 2.0 109 1 0 2.1 -6.4zM21.9 208.4a3.1 2.6 102 1 0 -1.3 6.1a3.1 2.6 102 1 0 1.3 -6.1zM82.1 155.6a3.5 2.3 119 1 0 -3.5 6.1a3.5 2.3 119 1 0 3.5 -6.1zM188.5 8.5a4.0 2.2 44 1 0 5.7 5.5a4.0 2.2 44 1 0 -5.7 -5.5zM118.1 136.3a4.3 2.3 150 1 0 -7.5 4.4a4.3 2.3 150 1 0 7.5 -4.4zM153.6 119.4a3.4 2.5 96 1 0 -0.7 6.9a3.4 2.5 96 1 0 0.7 -6.9zM144.8 188.7a3.6 2.5 175 1 0 -7.1 0.6a3.6 2.5 175 1 0 7.1 -0.6zM189.7 107.8a4.4 2.9 46 1 0 6.0 6.3a4.4 2.9 46 1 0 -6.0 -6.3zM-0.6 170.4a2.5 2.5 4 1 0 5.1 0.4a2.5 2.5 4 1 0 -5.1 -0.4zM181.7 122.9a4.1 2.0 71 1 0 2.6 7.7a4.1 2.0 71 1 0 -2.6 -7.7zM229.8 150.6a3.4 2.0 77 1 0 1.5 6.6a3.4 2.0 77 1 0 -1.5 -6.6zM52.6 168.3a3.6 2.7 63 1 0 3.3 6.4a3.6 2.7 63 1 0 -3.3 -6.4zM234.3 47.8a3.8 2.3 16 1 0 7.3 2.2a3.8 2.3 16 1 0 -7.3 -2.2zM162.6 131.1a4.3 2.3 97 1 0 -1.0 8.6a4.3 2.3 97 1 0 1.0 -8.6zM184.0 197.9a4.0 2.2 9 1 0 7.9 1.2a4.0 2.2 9 1 0 -7.9 -1.2zM129.5 97.9a4.0 2.8 7 1 0 7.9 0.9a4.0 2.8 7 1 0 -7.9 -0.9zM173.2 126.2a2.6 2.9 130 1 0 -3.3 4.0a2.6 2.9 130 1 0 3.3 -4.0zM102.0 169.6a3.7 2.4 82 1 0 1.0 7.4a3.7 2.4 82 1 0 -1.0 -7.4zM42.9 125.6a3.2 2.8 87 1 0 0.3 6.3a3.2 2.8 87 1 0 -0.3 -6.3zM180.1 119.9a3.2 2.9 31 1 0 5.4 3.2a3.2 2.9 31 1 0 -5.4 -3.2zM198.8 143.2a2.9 2.9 120 1 0 -2.9 5.0a2.9 2.9 120 1 0 2.9 -5.0zM23.0 150.3a3.6 2.2 166 1 0 -7.0 1.7a3.6 2.2 166 1 0 7.0 -1.7zM44.0 44.6a4.2 2.7 111 1 0 -3.0 7.8a4.2 2.7 111 1 0 3.0 -7.8zM155.8 218.5a3.9 2.9 145 1 0 -6.5 4.5a3.9 2.9 145 1 0 6.5 -4.5zM198.4 213.4a2.8 2.3 119 1 0 -2.7 4.8a2.8 2.3 119 1 0 2.7 -4.8zM231.0 221.1a3.1 2.9 173 1 0 -6.2 0.7a3.1 2.9 173 1 0 6.2 -0.7zM95.6 86.6a2.7 2.6 2 1 0 5.4 0.2a2.7 2.6 2 1 0 -5.4 -0.2zM142.6 153.4a3.8 2.8 44 1 0 5.5 5.4a3.8 2.8 44 1 0 -5.5 -5.4zM193.5 96.4a2.9 2.8 14 1 0 5.7 1.4a2.9 2.8 14 1 0 -5.7 -1.4zM98.8 184.9a4.0 2.7 179 1 0 -8.1 0.1a4.0 2.7 179 1 0 8.1 -0.1zM130.1 81.5a3.5 2.7 97 1 0 -0.9 7.0a3.5 2.7 97 1 0 0.9 -7.0zM205.9 195.3a4.2 2.8 88 1 0 0.3 8.5a4.2 2.8 88 1 0 -0.3 -8.5zM96.0 120.5a3.1 2.0 38 1 0 4.8 3.8a3.1 2.0 38 1 0 -4.8 -3.8zM239.5 218.5a3.0 2.2 155 1 0 -5.4 2.6a3.0 2.2 155 1 0 5.4 -2.6zM132.6 226.5a4.3 2.0 120 1 0 -4.3 7.4a4.3 2.0 120 1 0 4.3 -7.4zM160.5 220.7a2.9 2.8 169 1 0 -5.8 1.1a2.9 2.8 169 1 0 5.8 -1.1z" fill="#0a1278"/>
<path d="M174.0 198.3a4.5 2.1 121 1 0 -4.6 7.8a4.5 2.1 121 1 0 4.6 -7.8zM170.6 182.9a4.3 2.9 21 1 0 8.0 3.0a4.3 2.9 21 1 0 -8.0 -3.0zM186.0 124.7a3.8 2.2 116 1 0 -3.3 6.8a3.8 2.2 116 1 0 3.3 -6.8zM91.8 188.9a3.5 2.8 45 1 0 4.9 4.9a3.5 2.8 45 1 0 -4.9 -4.9zM193.0 127.6a3.3 2.3 40 1 0 5.1 4.3a3.3 2.3 40 1 0 -5.1 -4.3zM194.1 151.9a3.0 2.5 125 1 0 -3.5 5.0a3.0 2.5 125 1 0 3.5 -5.0zM98.1 3.4a2.7 2.7 152 1 0 -4.7 2.5a2.7 2.7 152 1 0 4.7 -2.5zM219.2 49.8a2.9 2.0 148 1 0 -4.9 3.0a2.9 2.0 148 1 0 4.9 -3.0zM227.3 132.5a2.6 2.8 143 1 0 -4.2 3.2a2.6 2.8 143 1 0 4.2 -3.2zM44.0 31.2a2.7 2.7 89 1 0 0.1 5.4a2.7 2.7 89 1 0 -0.1 -5.4zM203.5 81.9a2.8 2.1 174 1 0 -5.6 0.6a2.8 2.1 174 1 0 5.6 -0.6zM132.3 112.6a4.1 2.6 28 1 0 7.2 3.8a4.1 2.6 28 1 0 -7.2 -3.8zM51.7 53.7a3.9 2.7 43 1 0 5.7 5.3a3.9 2.7 43 1 0 -5.7 -5.3zM58.9 223.7a4.4 2.2 114 1 0 -3.6 8.1a4.4 2.2 114 1 0 3.6 -8.1zM224.7 83.6a4.2 2.9 92 1 0 -0.2 8.3a4.2 2.9 92 1 0 0.2 -8.3zM202.1 138.0a2.9 2.6 124 1 0 -3.2 4.9a2.9 2.6 124 1 0 3.2 -4.9zM213.6 120.5a3.9 2.1 94 1 0 -0.5 7.9a3.9 2.1 94 1 0 0.5 -7.9zM21.9 116.0a3.5 2.4 173 1 0 -7.0 0.9a3.5 2.4 173 1 0 7.0 -0.9zM220.6 172.7a3.2 2.0 115 1 0 -2.7 5.9a3.2 2.0 115 1 0 2.7 -5.9zM187.5 231.3a2.9 2.4 175 1 0 -5.7 0.5a2.9 2.4 175 1 0 5.7 -0.5zM129.9 181.1a3.1 2.6 100 1 0 -1.1 6.1a3.1 2.6 100 1 0 1.1 -6.1zM185.4 146.5a2.8 2.6 76 1 0 1.4 5.5a2.8 2.6 76 1 0 -1.4 -5.5zM152.4 228.8a2.9 2.2 155 1 0 -5.3 2.4a2.9 2.2 155 1 0 5.3 -2.4zM225.1 202.7a3.5 2.0 6 1 0 7.0 0.7a3.5 2.0 6 1 0 -7.0 -0.7zM215.6 210.8a3.8 2.0 46 1 0 5.3 5.4a3.8 2.0 46 1 0 -5.3 -5.4zM144.8 215.5a4.3 2.5 107 1 0 -2.5 8.3a4.3 2.5 107 1 0 2.5 -8.3zM167.1 154.2a3.2 2.3 176 1 0 -6.4 0.4a3.2 2.3 176 1 0 6.4 -0.4zM141.6 102.4a2.6 2.8 175 1 0 -5.2 0.4a2.6 2.8 175 1 0 5.2 -0.4zM224.3 29.3a4.5 2.6 28 1 0 8.0 4.3a4.5 2.6 28 1 0 -8.0 -4.3zM187.1 214.3a3.0 2.7 166 1 0 -5.8 1.4a3.0 2.7 166 1 0 5.8 -1.4zM60.5 103.3a3.5 2.9 122 1 0 -3.7 5.9a3.5 2.9 122 1 0 3.7 -5.9zM219.4 209.1a2.5 2.6 58 1 0 2.6 4.3a2.5 2.6 58 1 0 -2.6 -4.3zM217.6 93.6a3.1 2.9 63 1 0 2.8 5.5a3.1 2.9 63 1 0 -2.8 -5.5zM60.1 17.0a2.6 2.4 78 1 0 1.1 5.2a2.6 2.4 78 1 0 -1.1 -5.2zM198.7 207.6a3.6 2.1 53 1 0 4.4 5.8a3.6 2.1 53 1 0 -4.4 -5.8zM23.0 36.6a3.1 2.7 14 1 0 6.0 1.6a3.1 2.7 14 1 0 -6.0 -1.6zM172.8 228.4a3.8 2.4 66 1 0 3.1 6.9a3.8 2.4 66 1 0 -3.1 -6.9zM10.3 153.8a2.8 2.4 26 1 0 5.1 2.5a2.8 2.4 26 1 0 -5.1 -2.5zM158.8 161.9a4.1 2.0 108 1 0 -2.6 7.8a4.1 2.0 108 1 0 2.6 -7.8zM186.4 141.7a3.3 2.7 6 1 0 6.5 0.7a3.3 2.7 6 1 0 -6.5 -0.7zM1.5 148.9a2.5 2.8 57 1 0 2.8 4.2a2.5 2.8 57 1 0 -2.8 -4.2zM195.0 170.6a4.4 2.4 140 1 0 -6.7 5.7a4.4 2.4 140 1 0 6.7 -5.7zM233.6 89.0a4.3 2.6 72 1 0 2.6 8.1a4.3 2.6 72 1 0 -2.6 -8.1zM176.4 88.5a3.5 2.3 63 1 0 3.2 6.3a3.5 2.3 63 1 0 -3.2 -6.3zM192.0 155.7a2.9 2.3 107 1 0 -1.7 5.5a2.9 2.3 107 1 0 1.7 -5.5zM156.2 166.2a2.7 2.6 97 1 0 -0.7 5.3a2.7 2.6 97 1 0 0.7 -5.3zM215.4 31.5a3.8 2.3 117 1 0 -3.5 6.7a3.8 2.3 117 1 0 3.5 -6.7zM115.3 145.7a2.8 2.0 56 1 0 3.1 4.7a2.8 2.0 56 1 0 -3.1 -4.7zM47.1 60.7a3.7 2.9 29 1 0 6.6 3.6a3.7 2.9 29 1 0 -6.6 -3.6zM128.1 171.3a2.8 2.9 61 1 0 2.8 5.0a2.8 2.9 61 1 0 -2.8 -5.0zM27.1 23.6a4.4 2.5 42 1 0 6.6 5.9a4.4 2.5 42 1 0 -6.6 -5.9zM218.0 168.1a3.1 2.7 31 1 0 5.3 3.1a3.1 2.7 31 1 0 -5.3 -3.1zM140.5 202.3a4.1 2.0 88 1 0 0.3 8.2a4.1 2.0 88 1 0 -0.3 -8.2zM226.0 105.8a4.1 2.5 9 1 0 8.1 1.2a4.1 2.5 9 1 0 -8.1 -1.2zM145.2 185.7a3.2 2.0 9 1 0 6.2 1.0a3.2 2.0 9 1 0 -6.2 -1.0zM172.9 201.2a3.9 2.4 153 1 0 -7.0 3.5a3.9 2.4 153 1 0 7.0 -3.5zM60.9 27.8a2.8 2.1 57 1 0 3.0 4.6a2.8 2.1 57 1 0 -3.0 -4.6zM240.0 151.6a3.6 2.1 131 1 0 -4.7 5.5a3.6 2.1 131 1 0 4.7 -5.5zM38.4 1.4a3.7 2.4 53 1 0 4.4 5.9a3.7 2.4 53 1 0 -4.4 -5.9zM110.3 18.8a4.3 2.8 140 1 0 -6.6 5.6a4.3 2.8 140 1 0 6.6 -5.6zM96.4 26.6a2.6 2.0 130 1 0 -3.3 4.0a2.6 2.0 130 1 0 3.3 -4.0zM159.2 116.0a3.9 2.4 35 1 0 6.3 4.4a3.9 2.4 35 1 0 -6.3 -4.4zM196.2 225.4a4.0 2.9 128 1 0 -4.9 6.3a4.0 2.9 128 1 0 4.9 -6.3zM227.0 192.8a3.5 2.9 144 1 0 -5.7 4.1a3.5 2.9 144 1 0 5.7 -4.1zM200.1 17.9a2.9 2.0 50 1 0 3.7 4.4a2.9 2.0 50 1 0 -3.7 -4.4zM87.4 116.7a4.5 2.7 35 1 0 7.4 5.2a4.5 2.7 35 1 0 -7.4 -5.2zM36.4 197.2a4.4 2.4 50 1 0 5.6 6.6a4.4 2.4 50 1 0 -5.6 -6.6zM85.6 209.2a3.2 2.9 142 1 0 -5.0 4.0a3.2 2.9 142 1 0 5.0 -4.0zM159.0 99.5a2.7 2.9 178 1 0 -5.5 0.2a2.7 2.9 178 1 0 5.5 -0.2zM30.1 3.8a4.0 2.3 46 1 0 5.6 5.8a4.0 2.3 46 1 0 -5.6 -5.8zM151.7 134.0a3.4 2.4 116 1 0 -3.0 6.0a3.4 2.4 116 1 0 3.0 -6.0zM233.8 158.3a3.8 2.9 2 1 0 7.7 0.3a3.8 2.9 2 1 0 -7.7 -0.3zM135.8 224.8a2.9 2.5 178 1 0 -5.8 0.2a2.9 2.5 178 1 0 5.8 -0.2zM21.8 146.3a4.4 2.0 129 1 0 -5.5 6.9a4.4 2.0 129 1 0 5.5 -6.9zM143.2 157.2a3.2 2.9 80 1 0 1.1 6.4a3.2 2.9 80 1 0 -1.1 -6.4zM-1.5 149.1a3.6 2.2 20 1 0 6.8 2.5a3.6 2.2 20 1 0 -6.8 -2.5zM216.8 157.6a4.3 2.4 168 1 0 -8.4 1.7a4.3 2.4 168 1 0 8.4 -1.7zM226.0 207.3a2.5 2.5 69 1 0 1.8 4.7a2.5 2.5 69 1 0 -1.8 -4.7zM180.4 137.5a3.4 2.9 42 1 0 5.1 4.5a3.4 2.9 42 1 0 -5.1 -4.5zM88.6 204.2a2.8 2.7 120 1 0 -2.7 4.8a2.8 2.7 120 1 0 2.7 -4.8zM223.6 -3.1a4.3 2.8 98 1 0 -1.2 8.5a4.3 2.8 98 1 0 1.2 -8.5zM9.5 173.9a4.5 2.1 41 1 0 6.7 5.9a4.5 2.1 41 1 0 -6.7 -5.9zM167.9 208.1a3.6 2.5 43 1 0 5.2 4.9a3.6 2.5 43 1 0 -5.2 -4.9zM143.2 219.0a2.9 2.9 91 1 0 -0.1 5.7a2.9 2.9 91 1 0 0.1 -5.7zM200.3 227.0a4.5 2.5 78 1 0 1.9 8.8a4.5 2.5 78 1 0 -1.9 -8.8zM126.7 163.3a4.1 2.2 53 1 0 5.0 6.6a4.1 2.2 53 1 0 -5.0 -6.6zM145.4 131.1a3.1 2.6 77 1 0 1.4 6.1a3.1 2.6 77 1 0 -1.4 -6.1zM84.5 172.0a4.2 2.6 17 1 0 8.1 2.5a4.2 2.6 17 1 0 -8.1 -2.5zM34.0 131.6a3.7 2.4 72 1 0 2.2 7.0a3.7 2.4 72 1 0 -2.2 -7.0zM46.4 136.2a3.1 2.0 134 1 0 -4.4 4.5a3.1 2.0 134 1 0 4.4 -4.5zM219.6 204.3a4.5 2.3 90 1 0 0.0 9.0a4.5 2.3 90 1 0 -0.0 -9.0zM143.1 166.4a3.0 2.5 91 1 0 -0.1 6.1a3.0 2.5 91 1 0 0.1 -6.1zM28.2 68.2a2.7 2.0 34 1 0 4.4 3.0a2.7 2.0 34 1 0 -4.4 -3.0zM227.1 119.9a4.2 2.1 113 1 0 -3.3 7.8a4.2 2.1 113 1 0 3.3 -7.8zM107.8 27.0a3.8 2.6 82 1 0 1.1 7.6a3.8 2.6 82 1 0 -1.1 -7.6zM204.3 131.4a4.3 2.3 167 1 0 -8.5 2.0a4.3 2.3 167 1 0 8.5 -2.0zM229.8 219.7a3.7 2.9 171 1 0 -7.4 1.2a3.7 2.9 171 1 0 7.4 -1.2zM105.8 11.8a3.0 2.2 64 1 0 2.6 5.3a3.0 2.2 64 1 0 -2.6 -5.3zM18.4 100.6a3.0 2.2 5 1 0 6.0 0.5a3.0 2.2 5 1 0 -6.0 -0.5zM155.7 220.6a2.8 2.9 45 1 0 4.0 4.0a2.8 2.9 45 1 0 -4.0 -4.0zM45.4 135.3a3.1 2.0 24 1 0 5.6 2.5a3.1 2.0 24 1 0 -5.6 -2.5zM47.3 7.6a3.7 2.5 162 1 0 -7.0 2.3a3.7 2.5 162 1 0 7.0 -2.3zM161.3 107.7a2.8 2.0 11 1 0 5.4 1.0a2.8 2.0 11 1 0 -5.4 -1.0zM209.7 147.5a3.8 2.7 103 1 0 -1.7 7.5a3.8 2.7 103 1 0 1.7 -7.5zM217.9 133.1a4.5 2.7 133 1 0 -6.1 6.5a4.5 2.7 133 1 0 6.1 -6.5zM240.0 90.6a2.7 2.7 150 1 0 -4.6 2.7a2.7 2.7 150 1 0 4.6 -2.7zM229.4 104.4a4.3 2.0 172 1 0 -8.5 1.2a4.3 2.0 172 1 0 8.5 -1.2zM137.6 111.2a4.5 2.7 124 1 0 -5.0 7.5a4.5 2.7 124 1 0 5.0 -7.5zM65.5 214.4a2.7 2.4 171 1 0 -5.3 0.9a2.7 2.4 171 1 0 5.3 -0.9zM220.1 58.7a3.7 2.4 94 1 0 -0.6 7.4a3.7 2.4 94 1 0 0.6 -7.4zM205.5 124.1a4.2 2.4 92 1 0 -0.2 8.4a4.2 2.4 92 1 0 0.2 -8.4zM43.7 202.2a3.9 2.7 32 1 0 6.7 4.1a3.9 2.7 32 1 0 -6.7 -4.1zM5.7 51.8a4.3 2.7 146 1 0 -7.1 4.7a4.3 2.7 146 1 0 7.1 -4.7zM138.3 114.8a4.4 2.2 11 1 0 8.7 1.7a4.4 2.2 11 1 0 -8.7 -1.7zM87.3 82.5a3.7 2.1 121 1 0 -3.8 6.4a3.7 2.1 121 1 0 3.8 -6.4zM203.8 168.9a3.6 2.8 35 1 0 5.9 4.1a3.6 2.8 35 1 0 -5.9 -4.1zM240.1 75.4a2.9 2.4 86 1 0 0.4 5.9a2.9 2.4 86 1 0 -0.4 -5.9zM174.7 166.1a3.0 2.9 61 1 0 3.0 5.3a3.0 2.9 61 1 0 -3.0 -5.3zM15.4 53.4a2.8 2.1 9 1 0 5.6 0.9a2.8 2.1 9 1 0 -5.6 -0.9zM28.1 115.3a4.1 2.8 119 1 0 -4.0 7.2a4.1 2.8 119 1 0 4.0 -7.2zM235.1 107.1a3.3 2.7 171 1 0 -6.5 1.0a3.3 2.7 171 1 0 6.5 -1.0zM187.5 2.7a4.0 2.1 10 1 0 7.9 1.4a4.0 2.1 10 1 0 -7.9 -1.4zM13.1 6.0a3.6 2.6 138 1 0 -5.4 4.9a3.6 2.6 138 1 0 5.4 -4.9zM145.6 232.8a3.8 2.6 48 1 0 5.1 5.6a3.8 2.6 48 1 0 -5.1 -5.6zM213.1 232.7a3.0 2.3 76 1 0 1.4 5.8a3.0 2.3 76 1 0 -1.4 -5.8zM178.7 92.7a3.5 2.8 171 1 0 -6.8 1.1a3.5 2.8 171 1 0 6.8 -1.1zM27.6 164.9a4.1 2.5 129 1 0 -5.1 6.3a4.1 2.5 129 1 0 5.1 -6.3zM130.2 29.6a3.4 2.2 83 1 0 0.8 6.8a3.4 2.2 83 1 0 -0.8 -6.8zM162.7 107.0a4.3 2.2 173 1 0 -8.5 1.1a4.3 2.2 173 1 0 8.5 -1.1zM204.2 231.1a3.3 2.3 67 1 0 2.6 6.1a3.3 2.3 67 1 0 -2.6 -6.1zM166.2 207.7a2.6 2.5 83 1 0 0.7 5.1a2.6 2.5 83 1 0 -0.7 -5.1zM138.4 148.7a4.3 2.3 29 1 0 7.5 4.2a4.3 2.3 29 1 0 -7.5 -4.2zM3.1 114.0a4.0 2.5 64 1 0 3.5 7.1a4.0 2.5 64 1 0 -3.5 -7.1zM90.2 25.9a3.9 2.6 98 1 0 -1.0 7.7a3.9 2.6 98 1 0 1.0 -7.7zM199.7 96.3a3.0 2.6 88 1 0 0.2 6.1a3.0 2.6 88 1 0 -0.2 -6.1zM226.9 228.0a3.7 2.7 162 1 0 -7.0 2.3a3.7 2.7 162 1 0 7.0 -2.3zM112.1 136.8a3.2 2.8 65 1 0 2.7 5.9a3.2 2.8 65 1 0 -2.7 -5.9zM4.5 92.5a4.1 2.2 102 1 0 -1.7 7.9a4.1 2.2 102 1 0 1.7 -7.9zM149.3 26.4a2.6 2.0 157 1 0 -4.9 2.1a2.6 2.0 157 1 0 4.9 -2.1zM45.7 9.7a4.5 2.8 87 1 0 0.5 8.9a4.5 2.8 87 1 0 -0.5 -8.9zM60.3 19.3a2.6 2.7 44 1 0 3.8 3.6a2.6 2.7 44 1 0 -3.8 -3.6zM36.7 139.7a3.7 2.8 164 1 0 -7.2 2.0a3.7 2.8 164 1 0 7.2 -2.0zM235.7 24.8a4.1 2.7 14 1 0 7.9 2.0a4.1 2.7 14 1 0 -7.9 -2.0zM45.3 40.9a3.2 2.2 171 1 0 -6.4 1.0a3.2 2.2 171 1 0 6.4 -1.0zM187.4 136.1a3.0 2.7 96 1 0 -0.6 6.0a3.0 2.7 96 1 0 0.6 -6.0zM163.8 235.0a3.6 2.7 87 1 0 0.3 7.3a3.6 2.7 87 1 0 -0.3 -7.3zM206.0 134.2a3.7 2.3 95 1 0 -0.6 7.4a3.7 2.3 95 1 0 0.6 -7.4zM80.3 11.1a2.8 2.7 21 1 0 5.2 2.0a2.8 2.7 21 1 0 -5.2 -2.0zM192.2 185.9a4.0 2.5 165 1 0 -7.8 2.1a4.0 2.5 165 1 0 7.8 -2.1zM233.3 121.4a4.0 2.5 47 1 0 5.5 5.8a4.0 2.5 47 1 0 -5.5 -5.8zM12.8 161.0a2.7 2.8 144 1 0 -4.3 3.1a2.7 2.8 144 1 0 4.3 -3.1zM103.8 234.8a3.1 2.1 164 1 0 -6.0 1.7a3.1 2.1 164 1 0 6.0 -1.7zM72.1 168.3a3.8 2.4 166 1 0 -7.4 1.8a3.8 2.4 166 1 0 7.4 -1.8zM68.6 153.1a2.8 2.5 83 1 0 0.6 5.6a2.8 2.5 83 1 0 -0.6 -5.6zM101.8 195.5a4.2 2.0 84 1 0 0.9 8.4a4.2 2.0 84 1 0 -0.9 -8.4zM6.2 78.1a2.8 2.8 82 1 0 0.8 5.6a2.8 2.8 82 1 0 -0.8 -5.6zM185.8 134.8a4.4 2.8 43 1 0 6.4 6.0a4.4 2.8 43 1 0 -6.4 -6.0zM71.4 153.5a3.8 2.7 15 1 0 7.4 2.0a3.8 2.7 15 1 0 -7.4 -2.0zM160.8 94.8a4.5 2.4 129 1 0 -5.6 6.9a4.5 2.4 129 1 0 5.6 -6.9zM3.3 177.1a2.6 2.8 173 1 0 -5.2 0.7a2.6 2.8 173 1 0 5.2 -0.7zM3.2 64.7a4.1 2.7 11 1 0 8.1 1.6a4.1 2.7 11 1 0 -8.1 -1.6zM234.5 216.2a3.2 2.9 68 1 0 2.4 5.9a3.2 2.9 68 1 0 -2.4 -5.9zM106.2 220.8a3.8 2.4 153 1 0 -6.8 3.5a3.8 2.4 153 1 0 6.8 -3.5zM89.8 109.5a4.1 2.8 105 1 0 -2.2 8.0a4.1 2.8 105 1 0 2.2 -8.0zM117.1 169.0a3.6 2.5 113 1 0 -2.9 6.7a3.6 2.5 113 1 0 2.9 -6.7zM230.2 145.0a3.3 2.3 107 1 0 -2.0 6.4a3.3 2.3 107 1 0 2.0 -6.4zM147.4 126.8a4.2 2.6 111 1 0 -3.1 7.9a4.2 2.6 111 1 0 3.1 -7.9zM204.1 62.9a3.1 2.0 73 1 0 1.8 5.8a3.1 2.0 73 1 0 -1.8 -5.8zM236.8 72.3a3.6 2.4 97 1 0 -0.8 7.2a3.6 2.4 97 1 0 0.8 -7.2zM229.3 172.0a3.3 2.3 142 1 0 -5.2 4.2a3.3 2.3 142 1 0 5.2 -4.2zM121.5 13.5a3.7 2.6 47 1 0 5.1 5.4a3.7 2.6 47 1 0 -5.1 -5.4zM148.9 44.5a3.9 2.4 123 1 0 -4.3 6.5a3.9 2.4 123 1 0 4.3 -6.5zM91.4 52.1a3.0 2.5 8 1 0 6.0 0.9a3.0 2.5 8 1 0 -6.0 -0.9zM29.1 208.1a4.3 2.9 111 1 0 -3.1 8.1a4.3 2.9 111 1 0 3.1 -8.1zM100.3 45.4a3.1 2.7 42 1 0 4.7 4.2a3.1 2.7 42 1 0 -4.7 -4.2zM45.8 100.5a2.6 2.8 99 1 0 -0.9 5.2a2.6 2.8 99 1 0 0.9 -5.2zM203.9 222.0a3.5 2.9 97 1 0 -0.9 7.0a3.5 2.9 97 1 0 0.9 -7.0zM139.7 138.0a2.8 2.9 140 1 0 -4.2 3.5a2.8 2.9 140 1 0 4.2 -3.5zM69.0 15.4a3.6 2.2 15 1 0 7.0 1.9a3.6 2.2 15 1 0 -7.0 -1.9zM142.6 129.2a4.5 2.5 89 1 0 0.2 9.0a4.5 2.5 89 1 0 -0.2 -9.0zM159.4 161.4a4.0 2.0 92 1 0 -0.2 8.0a4.0 2.0 92 1 0 0.2 -8.0zM107.6 224.4a3.4 2.8 90 1 0 -0.0 6.8a3.4 2.8 90 1 0 0.0 -6.8zM238.3 210.1a3.8 2.7 138 1 0 -5.7 5.1a3.8 2.7 138 1 0 5.7 -5.1zM191.6 185.8a3.0 2.7 26 1 0 5.4 2.7a3.0 2.7 26 1 0 -5.4 -2.7zM107.0 118.0a4.5 2.5 170 1 0 -8.8 1.5a4.5 2.5 170 1 0 8.8 -1.5zM48.2 175.8a2.8 2.5 104 1 0 -1.4 5.5a2.8 2.5 104 1 0 1.4 -5.5zM68.0 106.3a4.3 2.6 129 1 0 -5.4 6.6a4.3 2.6 129 1 0 5.4 -6.6zM28.6 196.5a4.4 2.0 135 1 0 -6.2 6.2a4.4 2.0 135 1 0 6.2 -6.2zM91.6 112.6a4.0 2.2 61 1 0 3.9 6.9a4.0 2.2 61 1 0 -3.9 -6.9zM112.7 44.3a3.6 2.2 18 1 0 6.8 2.3a3.6 2.2 18 1 0 -6.8 -2.3zM115.6 67.1a2.5 2.1 59 1 0 2.6 4.3a2.5 2.1 59 1 0 -2.6 -4.3zM238.3 182.8a2.5 2.8 25 1 0 4.6 2.1a2.5 2.8 25 1 0 -4.6 -2.1zM141.2 233.0a3.1 2.1 4 1 0 6.2 0.5a3.1 2.1 4 1 0 -6.2 -0.5zM137.7 19.7a4.0 2.7 89 1 0 0.2 8.0a4.0 2.7 89 1 0 -0.2 -8.0zM13.9 132.5a3.8 2.4 88 1 0 0.2 7.5a3.8 2.4 88 1 0 -0.2 -7.5zM238.5 106.7a3.0 2.1 44 1 0 4.3 4.1a3.0 2.1 44 1 0 -4.3 -4.1zM108.5 138.8a3.2 2.5 63 1 0 2.9 5.7a3.2 2.5 63 1 0 -2.9 -5.7zM7.0 211.6a3.1 2.6 5 1 0 6.1 0.5a3.1 2.6 5 1 0 -6.1 -0.5zM145.0 130.9a4.5 2.9 155 1 0 -8.2 3.9a4.5 2.9 155 1 0 8.2 -3.9zM234.4 125.7a3.3 2.2 38 1 0 5.3 4.1a3.3 2.2 38 1 0 -5.3 -4.1zM93.9 34.2a4.2 2.8 160 1 0 -7.8 2.8a4.2 2.8 160 1 0 7.8 -2.8zM182.5 192.1a3.9 2.6 101 1 0 -1.5 7.6a3.9 2.6 101 1 0 1.5 -7.6zM20.3 220.7a3.5 2.2 91 1 0 -0.1 7.0a3.5 2.2 91 1 0 0.1 -7.0zM86.3 201.5a3.9 2.0 18 1 0 7.3 2.5a3.9 2.0 18 1 0 -7.3 -2.5zM132.8 193.4a2.7 2.2 98 1 0 -0.7 5.4a2.7 2.2 98 1 0 0.7 -5.4zM225.0 33.1a4.4 2.2 50 1 0 5.7 6.8a4.4 2.2 50 1 0 -5.7 -6.8zM198.9 23.6a4.1 2.6 74 1 0 2.3 7.9a4.1 2.6 74 1 0 -2.3 -7.9zM32.7 205.0a3.3 2.8 1 1 0 6.6 0.2a3.3 2.8 1 1 0 -6.6 -0.2zM89.9 139.0a3.6 2.6 121 1 0 -3.7 6.2a3.6 2.6 121 1 0 3.7 -6.2zM163.6 153.1a4.4 2.5 49 1 0 5.8 6.6a4.4 2.5 49 1 0 -5.8 -6.6z" fill="#1422f0"/>
<circle cx="6.5" cy="23.5" r="4" fill="#20e8a0"/>
<circle cx="53.0" cy="57.0" r="4.6" fill="#20e8a8"/>
<circle cx="169.0" cy="44.5" r="4.4" fill="#20e890"/>
<circle cx="186.0" cy="27.5" r="4.4" fill="#20e0a0"/>
<circle cx="44.0" cy="101.0" r="3.6" fill="#20b0b0"/>
<circle cx="197.0" cy="171.5" r="3.6" fill="#20d8d0"/>
<circle cx="107.5" cy="184.5" r="3" fill="#20d8e0"/>
<circle cx="173.5" cy="180.0" r="3.2" fill="#20b0c0"/>
<circle cx="125.5" cy="230.5" r="3.4" fill="#20b8c0"/>
<circle cx="146.0" cy="156.0" r="3" fill="#20a0b0"/>
</g></g>
<polygon points="1371.0,397.8 1389.8,406.3 1379.6,416.9" fill="#ffea00"/>
<polygon points="1420.4,433.9 1438.8,442.4 1429.6,452.9" fill="#ffea00"/>
<polygon points="1406.1,474.1 1425.5,482.9 1415.7,493.1" fill="#ffea00"/>
<polygon points="1546.9,405.3 1565.9,413.9 1556.1,424.1" fill="#ffea00"/>
<polygon points="1531.6,421.0 1550.4,429.2 1540.4,440.0" fill="#ffea00"/>
<polygon points="1562.2,545.1 1580.6,553.7 1571.0,563.9" fill="#ffea00"/>
<polygon points="1531.6,552.2 1550.4,560.8 1540.8,571.2" fill="#ffea00"/>
<polygon points="1467.3,556.3 1485.7,564.5 1475.9,575.1" fill="#ffea00"/>
<polygon points="1423.5,573.7 1431.2,555.3 1442.2,565.1" fill="#ffea00"/>
<polygon points="1487.3,594.1 1495.3,575.7 1506.5,585.5" fill="#ffea00"/>
<polygon points="1551.0,586.3 1569.8,595.1 1560.2,605.7" fill="#ffea00"/>
<line x1="1363.3" y1="598.4" x2="1461.2" y2="598.4" stroke="#fff" stroke-width="3.1" />
<text font-size="19.8" text-anchor="middle" fill="#fff" stroke="#fff" stroke-width="0.32" transform="translate(1413.0 589.4)">100µm</text>
<circle cx="88.8" cy="644.5" r="7.6" fill="#1a1aaa"/>
<text font-size="29.3" stroke="#000" stroke-width="0.47" transform="translate(101.4 654.3)">DAPI</text>
<circle cx="188.4" cy="644.5" r="6.4" fill="#40b658"/>
<text font-size="29.3" stroke="#000" stroke-width="0.47" transform="translate(196.5 654.3)">cFos</text>
<line x1="1716.0" y1="170.4" x2="1716.0" y2="539.1" stroke="#000" stroke-width="2.5" />
<line x1="1700.5" y1="537.9" x2="2083.9" y2="537.9" stroke="#000" stroke-width="2.5" />
<line x1="1700.5" y1="171.6" x2="1716.0" y2="171.6" stroke="#000" stroke-width="2.5" />
<text font-size="25" text-anchor="end" stroke="#000" stroke-width="0.40" transform="translate(1695.6 183.1)">300</text>
<line x1="1700.5" y1="293.7" x2="1716.0" y2="293.7" stroke="#000" stroke-width="2.5" />
<text font-size="25" text-anchor="end" stroke="#000" stroke-width="0.40" transform="translate(1695.6 305.2)">200</text>
<line x1="1700.5" y1="415.8" x2="1716.0" y2="415.8" stroke="#000" stroke-width="2.5" />
<text font-size="25" text-anchor="end" stroke="#000" stroke-width="0.40" transform="translate(1695.6 427.3)">100</text>
<text font-size="25" text-anchor="end" stroke="#000" stroke-width="0.40" transform="translate(1695.6 549.4)">0</text>
<line x1="1771.8" y1="537.9" x2="1771.8" y2="553.6" stroke="#000" stroke-width="2.5" />
<line x1="1856.4" y1="537.9" x2="1856.4" y2="553.6" stroke="#000" stroke-width="2.5" />
<line x1="1940.7" y1="537.9" x2="1940.7" y2="553.6" stroke="#000" stroke-width="2.5" />
<line x1="2025.6" y1="537.9" x2="2025.6" y2="553.6" stroke="#000" stroke-width="2.5" />
<rect x="1745.1" y="526.8" width="53.6" height="11.1" fill="#d9d9d9" stroke="#000" stroke-width="2.6" />
<rect x="1830.3" y="468.5" width="53.0" height="69.4" fill="#d9d9d9" stroke="#000" stroke-width="2.6" />
<rect x="1914.6" y="509.9" width="52.8" height="28.0" fill="#d9d9d9" stroke="#000" stroke-width="2.6" />
<rect x="1998.7" y="400.8" width="53.8" height="137.1" fill="#d9d9d9" stroke="#000" stroke-width="2.6" />
<line x1="1771.8" y1="521.5" x2="1771.8" y2="530.0" stroke="#000" stroke-width="2.2" />
<line x1="1757.8" y1="521.5" x2="1785.8" y2="521.5" stroke="#000" stroke-width="2.2" />
<line x1="1757.8" y1="530.0" x2="1785.8" y2="530.0" stroke="#000" stroke-width="2.2" />
<line x1="1856.4" y1="449.4" x2="1856.4" y2="485.0" stroke="#000" stroke-width="2.2" />
<line x1="1842.4" y1="449.4" x2="1870.4" y2="449.4" stroke="#000" stroke-width="2.2" />
<line x1="1842.4" y1="485.0" x2="1870.4" y2="485.0" stroke="#000" stroke-width="2.2" />
<line x1="1940.7" y1="495.2" x2="1940.7" y2="522.0" stroke="#000" stroke-width="2.2" />
<line x1="1926.7" y1="495.2" x2="1954.7" y2="495.2" stroke="#000" stroke-width="2.2" />
<line x1="1926.7" y1="522.0" x2="1954.7" y2="522.0" stroke="#000" stroke-width="2.2" />
<line x1="2025.6" y1="363.0" x2="2025.6" y2="435.1" stroke="#000" stroke-width="2.2" />
<line x1="2011.6" y1="363.0" x2="2039.6" y2="363.0" stroke="#000" stroke-width="2.2" />
<line x1="2011.6" y1="435.1" x2="2039.6" y2="435.1" stroke="#000" stroke-width="2.2" />
<circle cx="1750.8" cy="533.0" r="7.7" fill="#000"/>
<circle cx="1772.0" cy="519.0" r="7.7" fill="#000"/>
<circle cx="1793.0" cy="517.2" r="7.7" fill="#000"/>
<circle cx="1793.0" cy="533.0" r="7.7" fill="#000"/>
<circle cx="1835.7" cy="415.9" r="7.7" fill="#000"/>
<circle cx="1877.4" cy="412.9" r="7.7" fill="#000"/>
<circle cx="1877.4" cy="429.5" r="7.7" fill="#000"/>
<circle cx="1856.4" cy="482.1" r="7.7" fill="#000"/>
<circle cx="1835.7" cy="497.2" r="7.7" fill="#000"/>
<circle cx="1877.4" cy="510.0" r="7.7" fill="#000"/>
<circle cx="1835.7" cy="522.8" r="7.7" fill="#000"/>
<circle cx="1941.3" cy="468.8" r="7.7" fill="#aa0a0a"/>
<circle cx="1920.8" cy="527.4" r="7.7" fill="#aa0a0a"/>
<circle cx="1941.3" cy="519.7" r="7.7" fill="#aa0a0a"/>
<circle cx="1962.2" cy="519.2" r="7.7" fill="#aa0a0a"/>
<circle cx="2025.6" cy="402.9" r="7.7" fill="#aa0a0a"/>
<circle cx="2005.2" cy="422.3" r="7.7" fill="#aa0a0a"/>
<circle cx="2046.8" cy="423.6" r="7.7" fill="#aa0a0a"/>
<circle cx="2025.6" cy="429.5" r="7.7" fill="#aa0a0a"/>
<circle cx="2025.6" cy="487.8" r="7.7" fill="#aa0a0a"/>
<circle cx="2025.6" cy="228.8" r="7.7" fill="#aa0a0a"/>
<path d="M1774.8 135.0V79.2H2025.6V111.7" fill="none" stroke="#231f20" stroke-width="3.1"/>
<path d="M1860.5 182.0V134.6H2025.6V158.5" fill="none" stroke="#231f20" stroke-width="3.1"/>
<path d="M1939.7 236.0V196.8H2025.6V212.7" fill="none" stroke="#231f20" stroke-width="3.1"/>
<text font-size="27.2" text-anchor="middle" stroke="#000" stroke-width="0.44" transform="translate(1902.6 69.0)"><tspan font-style="italic">P</tspan> = 0.0089</text>
<text font-size="27.2" text-anchor="middle" stroke="#000" stroke-width="0.44" transform="translate(1945.6 124.8)"><tspan font-style="italic">P</tspan> = 0.0449</text>
<text font-size="27.2" text-anchor="middle" stroke="#000" stroke-width="0.44" transform="translate(1990.5 188.2)"><tspan font-style="italic">P</tspan> = 0.0160</text>
<text font-size="31.4" stroke="#000" stroke-width="0.50" transform="translate(1639.6 460.6) rotate(-90)">cFos<tspan font-size="19" dy="-10.5">+</tspan><tspan dy="10.5"> cells/mm</tspan><tspan font-size="19" dy="-10.5">2</tspan></text>
<text font-size="29.2" text-anchor="end" stroke="#000" stroke-width="0.47" transform="translate(1716.0 577.7)">Stress</text>
<text font-size="29.2" text-anchor="end" stroke="#000" stroke-width="0.47" transform="translate(1716.0 618.6)">Fear</text>
<text font-size="32.5" text-anchor="middle" stroke="#000" stroke-width="0.52" transform="translate(1772.7 581.4)">–</text>
<text font-size="32.5" text-anchor="middle" stroke="#000" stroke-width="0.52" transform="translate(1772.7 613.8)">–</text>
<text font-size="32.5" text-anchor="middle" stroke="#000" stroke-width="0.52" transform="translate(1857.2 581.4)">–</text>
<text font-size="32.5" text-anchor="middle" stroke="#000" stroke-width="0.52" transform="translate(1857.2 614.0)">+</text>
<text font-size="32.5" text-anchor="middle" stroke="#000" stroke-width="0.52" transform="translate(1941.0 582.1)">+</text>
<text font-size="32.5" text-anchor="middle" stroke="#000" stroke-width="0.52" transform="translate(1941.0 613.8)">–</text>
<text font-size="32.5" text-anchor="middle" stroke="#000" stroke-width="0.52" transform="translate(2026.0 582.1)">+</text>
<text font-size="32.5" text-anchor="middle" stroke="#000" stroke-width="0.52" transform="translate(2026.0 614.0)">+</text>
<text font-size="37" font-weight="bold" stroke="#000" stroke-width="0.41" transform="translate(-0.4 727.2)">b</text>
<text font-size="34.1" text-anchor="middle" font-weight="bold" stroke="#000" stroke-width="0.38" transform="translate(248.2 758.3)">Astrocyte</text>
<text font-size="26.3" text-anchor="middle" stroke="#000" stroke-width="0.42" transform="translate(124.0 798.1)">Unstressed</text>
<text font-size="26.3" text-anchor="middle" stroke="#000" stroke-width="0.42" transform="translate(121.0 849.0)">Fear</text>
<text font-size="26.3" text-anchor="middle" stroke="#000" stroke-width="0.42" transform="translate(120.9 881.2)">conditioning</text>
<text font-size="26.3" text-anchor="middle" stroke="#000" stroke-width="0.42" transform="translate(368.2 798.1)">Unstressed</text>
<text font-size="26.3" text-anchor="middle" stroke="#000" stroke-width="0.42" transform="translate(360.5 849.0)">No fear</text>
<text font-size="26.3" text-anchor="middle" stroke="#000" stroke-width="0.42" transform="translate(365.0 881.2)">conditioning</text>
<text font-size="26" text-anchor="middle" font-weight="bold" stroke="#000" stroke-width="0.29" transform="translate(243.6 840.5)">vs</text>
<rect x="23.3" y="932.0" width="294.3" height="44.6" fill="#ff0000" />
<line x1="8.0" y1="953.7" x2="23.3" y2="953.7" stroke="#000" stroke-width="2" />
<rect x="23.3" y="999.7" width="272.5" height="44.6" fill="#ff0000" />
<line x1="8.0" y1="1021.4" x2="23.3" y2="1021.4" stroke="#000" stroke-width="2" />
<rect x="23.3" y="1067.4" width="262.7" height="44.4" fill="#ff0000" />
<line x1="8.0" y1="1089.0" x2="23.3" y2="1089.0" stroke="#000" stroke-width="2" />
<rect x="23.3" y="1134.9" width="180.2" height="44.1" fill="#ff0000" />
<line x1="8.0" y1="1156.4" x2="23.3" y2="1156.4" stroke="#000" stroke-width="2" />
<rect x="23.3" y="1202.3" width="163.5" height="44.3" fill="#8b90d0" />
<line x1="8.0" y1="1223.8" x2="23.3" y2="1223.8" stroke="#000" stroke-width="2" />
<rect x="23.3" y="1270.0" width="77.8" height="44.5" fill="#ff0000" />
<line x1="8.0" y1="1291.7" x2="23.3" y2="1291.7" stroke="#000" stroke-width="2" />
<rect x="23.3" y="1337.4" width="61.6" height="44.3" fill="#ff0000" />
<line x1="8.0" y1="1359.0" x2="23.3" y2="1359.0" stroke="#000" stroke-width="2" />
<line x1="23.3" y1="905.5" x2="23.3" y2="1405.0" stroke="#000" stroke-width="2.0" />
<line x1="22.3" y1="1404.0" x2="478.9" y2="1404.0" stroke="#000" stroke-width="2.0" />
<line x1="23.3" y1="1404.0" x2="23.3" y2="1419.1" stroke="#000" stroke-width="2.0" />
<text font-size="26.4" text-anchor="middle" stroke="#000" stroke-width="0.42" transform="translate(23.3 1442.3)">0</text>
<line x1="174.6" y1="1404.0" x2="174.6" y2="1419.1" stroke="#000" stroke-width="2.0" />
<text font-size="26.4" text-anchor="middle" stroke="#000" stroke-width="0.42" transform="translate(174.6 1442.3)">5</text>
<line x1="326.3" y1="1404.0" x2="326.3" y2="1419.1" stroke="#000" stroke-width="2.0" />
<text font-size="26.4" text-anchor="middle" stroke="#000" stroke-width="0.42" transform="translate(321.8 1442.3)">10</text>
<line x1="478.4" y1="1404.0" x2="478.4" y2="1419.1" stroke="#000" stroke-width="2.0" />
<text font-size="26.4" text-anchor="middle" stroke="#000" stroke-width="0.42" transform="translate(473.9 1442.3)">15</text>
<line x1="62.4" y1="908.2" x2="62.4" y2="1403.0" stroke="#000" stroke-width="3.3" stroke-dasharray="13.8 14.7" stroke-dashoffset="3" stroke-linecap="round"/>
<text font-size="22.35" stroke="#000" stroke-width="0.36" transform="translate(71.7 963.9)">Synaptic Long Term Potentiation</text>
<text font-size="22.35" stroke="#000" stroke-width="0.36" transform="translate(71.7 1031.6)">AMPK Signaling</text>
<text font-size="22.35" stroke="#000" stroke-width="0.36" transform="translate(71.7 1098.6)">Glutamate Receptor Signaling</text>
<text font-size="22.35" stroke="#000" stroke-width="0.36" transform="translate(71.7 1166.2)">Neurotransmitter release cycle</text>
<text font-size="22.35" stroke="#000" stroke-width="0.36" transform="translate(71.7 1233.9)">Glucose metabolism</text>
<text font-size="22.35" stroke="#000" stroke-width="0.36" transform="translate(71.7 1301.4)">Glutamate and glutamine metabolism</text>
<text font-size="22.35" stroke="#000" stroke-width="0.36" transform="translate(71.7 1369.4)">Interleukin-6 family signaling</text>
<text font-size="26.2" text-anchor="middle" stroke="#000" stroke-width="0.42" transform="translate(254.2 1468.3)">–log<tspan font-size="24.9" dy="7.5" dx="0.8">10</tspan><tspan dy="-7.5" dx="1.6">(</tspan><tspan font-style="italic">p</tspan>-value)</text>
<text font-size="37" font-weight="bold" stroke="#000" stroke-width="0.41" transform="translate(519.2 727.2)">c</text>
<text font-size="34.1" text-anchor="middle" font-weight="bold" stroke="#000" stroke-width="0.38" transform="translate(764.7 758.3)">Astrocyte</text>
<text font-size="26.3" text-anchor="middle" stroke="#000" stroke-width="0.42" transform="translate(631.8 798.1)">Stressed</text>
<text font-size="26.3" text-anchor="middle" stroke="#000" stroke-width="0.42" transform="translate(628.7 849.0)">Fear</text>
<text font-size="26.3" text-anchor="middle" stroke="#000" stroke-width="0.42" transform="translate(628.9 881.2)">conditioning</text>
<text font-size="26.3" text-anchor="middle" stroke="#000" stroke-width="0.42" transform="translate(884.4 798.1)">Stressed</text>
<text font-size="26.3" text-anchor="middle" stroke="#000" stroke-width="0.42" transform="translate(876.8 849.0)">No fear</text>
<text font-size="26.3" text-anchor="middle" stroke="#000" stroke-width="0.42" transform="translate(881.4 881.2)">conditioning</text>
<text font-size="26" text-anchor="middle" font-weight="bold" stroke="#000" stroke-width="0.29" transform="translate(754.6 840.5)">vs</text>
<rect x="549.9" y="931.3" width="350.7" height="52.5" fill="#ff0000" />
<line x1="534.6" y1="957.5" x2="549.9" y2="957.5" stroke="#000" stroke-width="2" />
<rect x="549.9" y="1009.8" width="168.5" height="52.3" fill="#ff0000" />
<line x1="534.6" y1="1035.9" x2="549.9" y2="1035.9" stroke="#000" stroke-width="2" />
<rect x="549.9" y="1088.0" width="139.8" height="52.0" fill="#ff0000" />
<line x1="534.6" y1="1114.0" x2="549.9" y2="1114.0" stroke="#000" stroke-width="2" />
<rect x="549.9" y="1165.7" width="43.0" height="52.5" fill="#ff0000" />
<line x1="534.6" y1="1192.0" x2="549.9" y2="1192.0" stroke="#000" stroke-width="2" />
<rect x="549.9" y="1244.0" width="27.3" height="52.2" fill="#ff0000" />
<line x1="534.6" y1="1270.1" x2="549.9" y2="1270.1" stroke="#000" stroke-width="2" />
<rect x="549.9" y="1322.2" width="19.9" height="52.3" fill="#ff0000" />
<line x1="534.6" y1="1348.3" x2="549.9" y2="1348.3" stroke="#000" stroke-width="2" />
<line x1="549.9" y1="902.3" x2="549.9" y2="1401.2" stroke="#000" stroke-width="2.0" />
<line x1="548.9" y1="1400.2" x2="1008.9" y2="1400.2" stroke="#000" stroke-width="2.0" />
<line x1="549.9" y1="1400.2" x2="549.9" y2="1415.4" stroke="#000" stroke-width="2.0" />
<text font-size="26.4" text-anchor="middle" stroke="#000" stroke-width="0.42" transform="translate(553.2 1442.7)">0</text>
<line x1="664.5" y1="1400.2" x2="664.5" y2="1415.4" stroke="#000" stroke-width="2.0" />
<text font-size="26.4" text-anchor="middle" stroke="#000" stroke-width="0.42" transform="translate(663.0 1442.7)">10</text>
<line x1="779.1" y1="1400.2" x2="779.1" y2="1415.4" stroke="#000" stroke-width="2.0" />
<text font-size="26.4" text-anchor="middle" stroke="#000" stroke-width="0.42" transform="translate(777.6 1442.7)">20</text>
<line x1="893.7" y1="1400.2" x2="893.7" y2="1415.4" stroke="#000" stroke-width="2.0" />
<text font-size="26.4" text-anchor="middle" stroke="#000" stroke-width="0.42" transform="translate(892.2 1442.7)">30</text>
<line x1="1008.4" y1="1400.2" x2="1008.4" y2="1415.4" stroke="#000" stroke-width="2.0" />
<text font-size="26.4" text-anchor="middle" stroke="#000" stroke-width="0.42" transform="translate(1006.9 1442.7)">40</text>
<line x1="565.0" y1="904.6" x2="565.0" y2="1399.2" stroke="#000" stroke-width="3.3" stroke-dasharray="13.8 14.7" stroke-dashoffset="3" stroke-linecap="round"/>
<text font-size="22.5" stroke="#000" stroke-width="0.36" transform="translate(579.9 967.3)">Synaptogenesis Signaling Pathway</text>
<text font-size="22.5" stroke="#000" stroke-width="0.36" transform="translate(579.9 1045.6)">Synaptic Long Term Potentiation</text>
<text font-size="22.5" stroke="#000" stroke-width="0.36" transform="translate(579.9 1123.2)">Neuroinflammation Signaling Pathway</text>
<text font-size="22.5" stroke="#000" stroke-width="0.36" transform="translate(579.9 1202.0)">Chemokine Signaling</text>
<text font-size="22.5" stroke="#000" stroke-width="0.36" transform="translate(579.9 1279.8)">Signaling by NTRK2 (TRKB)</text>
<text font-size="22.5" stroke="#000" stroke-width="0.36" transform="translate(579.9 1358.6)">Interleukin-1 family signaling</text>
<text font-size="26.2" text-anchor="middle" stroke="#000" stroke-width="0.42" transform="translate(771.8 1468.2)">–log<tspan font-size="24.9" dy="7.5" dx="0.8">10</tspan><tspan dy="-7.5" dx="1.6">(</tspan><tspan font-style="italic">p</tspan>-value)</text>
<text font-size="37" font-weight="bold" stroke="#000" stroke-width="0.41" transform="translate(1035.0 727.2)">d</text>
<text font-size="34.1" text-anchor="middle" font-weight="bold" stroke="#000" stroke-width="0.38" transform="translate(1278.0 758.3)">Astrocyte</text>
<text font-size="26.3" text-anchor="middle" stroke="#000" stroke-width="0.42" transform="translate(1150.8 798.1)">Stressed</text>
<text font-size="26.3" text-anchor="middle" stroke="#000" stroke-width="0.42" transform="translate(1143.0 849.0)">No fear</text>
<text font-size="26.3" text-anchor="middle" stroke="#000" stroke-width="0.42" transform="translate(1147.5 881.2)">conditioning</text>
<text font-size="26.3" text-anchor="middle" stroke="#000" stroke-width="0.42" transform="translate(1401.7 798.1)">Unstressed</text>
<text font-size="26.3" text-anchor="middle" stroke="#000" stroke-width="0.42" transform="translate(1396.4 849.0)">No fear</text>
<text font-size="26.3" text-anchor="middle" stroke="#000" stroke-width="0.42" transform="translate(1400.8 881.2)">conditioning</text>
<text font-size="26" text-anchor="middle" font-weight="bold" stroke="#000" stroke-width="0.29" transform="translate(1273.3 840.5)">vs</text>
<rect x="1067.8" y="936.3" width="323.1" height="61.6" fill="#8b90d0" />
<line x1="1052.5" y1="967.6" x2="1067.8" y2="967.6" stroke="#000" stroke-width="2" />
<rect x="1067.8" y="1029.4" width="205.1" height="61.7" fill="#8b90d0" />
<line x1="1052.5" y1="1060.8" x2="1067.8" y2="1060.8" stroke="#000" stroke-width="2" />
<rect x="1067.8" y="1121.9" width="162.1" height="62.1" fill="#8b90d0" />
<line x1="1052.5" y1="1153.5" x2="1067.8" y2="1153.5" stroke="#000" stroke-width="2" />
<rect x="1067.8" y="1215.0" width="132.4" height="62.1" fill="#8b90d0" />
<line x1="1052.5" y1="1246.5" x2="1067.8" y2="1246.5" stroke="#000" stroke-width="2" />
<rect x="1067.8" y="1308.2" width="100.8" height="61.8" fill="#8b90d0" />
<line x1="1052.5" y1="1339.6" x2="1067.8" y2="1339.6" stroke="#000" stroke-width="2" />
<line x1="1067.8" y1="903.4" x2="1067.8" y2="1402.0" stroke="#000" stroke-width="2.0" />
<line x1="1066.8" y1="1401.0" x2="1526.8" y2="1401.0" stroke="#000" stroke-width="2.0" />
<line x1="1067.8" y1="1401.0" x2="1067.8" y2="1416.1" stroke="#000" stroke-width="2.0" />
<text font-size="26.4" text-anchor="middle" stroke="#000" stroke-width="0.42" transform="translate(1070.7 1439.6)">0</text>
<line x1="1220.3" y1="1401.0" x2="1220.3" y2="1416.1" stroke="#000" stroke-width="2.0" />
<text font-size="26.4" text-anchor="middle" stroke="#000" stroke-width="0.42" transform="translate(1223.2 1439.6)">5</text>
<line x1="1372.9" y1="1401.0" x2="1372.9" y2="1416.1" stroke="#000" stroke-width="2.0" />
<text font-size="26.4" text-anchor="middle" stroke="#000" stroke-width="0.42" transform="translate(1371.6 1439.6)">10</text>
<line x1="1526.0" y1="1401.0" x2="1526.0" y2="1416.1" stroke="#000" stroke-width="2.0" />
<text font-size="26.4" text-anchor="middle" stroke="#000" stroke-width="0.42" transform="translate(1524.7 1439.6)">15</text>
<line x1="1106.8" y1="905.7" x2="1106.8" y2="1400.0" stroke="#000" stroke-width="3.3" stroke-dasharray="13.8 14.7" stroke-dashoffset="3" stroke-linecap="round"/>
<text font-size="22.5" stroke="#000" stroke-width="0.36" transform="translate(1119.8 978.0)">Synaptic Long Term Depression</text>
<text font-size="22.5" stroke="#000" stroke-width="0.36" transform="translate(1119.8 1070.8)">GABA receptor activation</text>
<text font-size="22.5" stroke="#000" stroke-width="0.36" transform="translate(1119.8 1163.8)">ERBB Signaling</text>
<text font-size="22.5" stroke="#000" stroke-width="0.36" transform="translate(1119.8 1256.7)">NRF2-mediated Response</text>
<text font-size="22.5" stroke="#000" stroke-width="0.36" transform="translate(1119.8 1349.6)">Signaling by EGFR</text>
<text font-size="26.2" text-anchor="middle" stroke="#000" stroke-width="0.42" transform="translate(1297.0 1468.0)">–log<tspan font-size="24.9" dy="7.5" dx="0.8">10</tspan><tspan dy="-7.5" dx="1.6">(</tspan><tspan font-style="italic">p</tspan>-value)</text>
<text font-size="37" font-weight="bold" stroke="#000" stroke-width="0.41" transform="translate(1555.0 727.2)">e</text>
<text font-size="34.1" text-anchor="middle" font-weight="bold" stroke="#000" stroke-width="0.38" transform="translate(1808.8 758.3)">Astrocyte</text>
<text font-size="26.3" text-anchor="middle" stroke="#000" stroke-width="0.42" transform="translate(1681.3 798.1)">Stressed</text>
<text font-size="26.3" text-anchor="middle" stroke="#000" stroke-width="0.42" transform="translate(1678.1 849.0)">Fear</text>
<text font-size="26.3" text-anchor="middle" stroke="#000" stroke-width="0.42" transform="translate(1678.4 881.2)">conditioning</text>
<text font-size="26.3" text-anchor="middle" stroke="#000" stroke-width="0.42" transform="translate(1932.2 798.1)">Unstressed</text>
<text font-size="26.3" text-anchor="middle" stroke="#000" stroke-width="0.42" transform="translate(1931.4 849.0)">Fear</text>
<text font-size="26.3" text-anchor="middle" stroke="#000" stroke-width="0.42" transform="translate(1931.7 881.2)">conditioning</text>
<text font-size="26" text-anchor="middle" font-weight="bold" stroke="#000" stroke-width="0.29" transform="translate(1803.8 840.5)">vs</text>
<rect x="1586.7" y="929.6" width="419.8" height="44.4" fill="#ff0000" />
<line x1="1571.4" y1="951.8" x2="1586.7" y2="951.8" stroke="#000" stroke-width="2" />
<rect x="1586.7" y="996.8" width="388.4" height="44.7" fill="#ff0000" />
<line x1="1571.4" y1="1019.1" x2="1586.7" y2="1019.1" stroke="#000" stroke-width="2" />
<rect x="1586.7" y="1064.4" width="336.3" height="44.8" fill="#8b90d0" />
<line x1="1571.4" y1="1086.8" x2="1586.7" y2="1086.8" stroke="#000" stroke-width="2" />
<rect x="1586.7" y="1132.1" width="267.6" height="44.6" fill="#8b90d0" />
<line x1="1571.4" y1="1154.4" x2="1586.7" y2="1154.4" stroke="#000" stroke-width="2" />
<rect x="1586.7" y="1199.4" width="264.4" height="44.9" fill="#ff0000" />
<line x1="1571.4" y1="1221.8" x2="1586.7" y2="1221.8" stroke="#000" stroke-width="2" />
<rect x="1586.7" y="1267.2" width="204.3" height="44.6" fill="#8b90d0" />
<line x1="1571.4" y1="1289.5" x2="1586.7" y2="1289.5" stroke="#000" stroke-width="2" />
<rect x="1586.7" y="1334.7" width="169.1" height="44.4" fill="#8b90d0" />
<line x1="1571.4" y1="1356.9" x2="1586.7" y2="1356.9" stroke="#000" stroke-width="2" />
<line x1="1586.7" y1="903.3" x2="1586.7" y2="1402.1" stroke="#000" stroke-width="2.0" />
<line x1="1585.7" y1="1401.1" x2="2046.0" y2="1401.1" stroke="#000" stroke-width="2.0" />
<line x1="1586.7" y1="1401.1" x2="1586.7" y2="1416.1" stroke="#000" stroke-width="2.0" />
<text font-size="26.4" text-anchor="middle" stroke="#000" stroke-width="0.42" transform="translate(1586.9 1440.1)">0</text>
<line x1="1738.9" y1="1401.1" x2="1738.9" y2="1416.1" stroke="#000" stroke-width="2.0" />
<text font-size="26.4" text-anchor="middle" stroke="#000" stroke-width="0.42" transform="translate(1739.1 1440.1)">2</text>
<line x1="1892.1" y1="1401.1" x2="1892.1" y2="1416.1" stroke="#000" stroke-width="2.0" />
<text font-size="26.4" text-anchor="middle" stroke="#000" stroke-width="0.42" transform="translate(1892.3 1440.1)">4</text>
<line x1="2045.2" y1="1401.1" x2="2045.2" y2="1416.1" stroke="#000" stroke-width="2.0" />
<text font-size="26.4" text-anchor="middle" stroke="#000" stroke-width="0.42" transform="translate(2045.4 1440.1)">6</text>
<line x1="1686.0" y1="905.6" x2="1686.0" y2="1400.1" stroke="#000" stroke-width="3.3" stroke-dasharray="13.8 14.7" stroke-dashoffset="3" stroke-linecap="round"/>
<text font-size="22.5" stroke="#000" stroke-width="0.36" transform="translate(1712.7 960.5)">Interleukin-1 family signaling</text>
<text font-size="22.5" stroke="#000" stroke-width="0.36" transform="translate(1712.7 1015.5)">Glutamate binding, activation of</text>
<text font-size="22.5" stroke="#000" stroke-width="0.36" transform="translate(1712.7 1042.1)">AMPA receptors and synaptic plasticity</text>
<text font-size="22.5" stroke="#000" stroke-width="0.36" transform="translate(1712.7 1095.7)">Synaptic Long Term Depression</text>
<text font-size="22.5" stroke="#000" stroke-width="0.36" transform="translate(1712.7 1163.0)">ERBB Signaling</text>
<text font-size="22.5" stroke="#000" stroke-width="0.36" transform="translate(1712.7 1230.8)">Neurotransmitter release cycle</text>
<text font-size="22.5" stroke="#000" stroke-width="0.36" transform="translate(1712.7 1298.4)">Signaling by EGFR</text>
<text font-size="22.5" stroke="#000" stroke-width="0.36" transform="translate(1712.7 1365.6)">Dopamine Receptor Signaling</text>
<text font-size="26.2" text-anchor="middle" stroke="#000" stroke-width="0.42" transform="translate(1807.3 1467.8)">–log<tspan font-size="24.9" dy="7.5" dx="0.8">10</tspan><tspan dy="-7.5" dx="1.6">(</tspan><tspan font-style="italic">p</tspan>-value)</text>
<text font-size="37" font-weight="bold" stroke="#000" stroke-width="0.41" transform="translate(0.0 1566.8)">f</text>
<text font-size="37.5" text-anchor="middle" font-style="italic" stroke="#000" stroke-width="0.60" transform="translate(180.4 1569.6)">Slitrk2</text>
<line x1="125.4" y1="1605.4" x2="125.4" y2="1963.4" stroke="#000" stroke-width="2.2" />
<line x1="108.5" y1="1962.3" x2="300.2" y2="1962.3" stroke="#000" stroke-width="2.2" />
<line x1="108.5" y1="1606.5" x2="125.4" y2="1606.5" stroke="#000" stroke-width="2.2" />
<text font-size="25.5" text-anchor="middle" stroke="#000" stroke-width="0.41" transform="translate(91.0 1616.1)">8</text>
<line x1="108.5" y1="1695.1" x2="125.4" y2="1695.1" stroke="#000" stroke-width="2.2" />
<text font-size="25.5" text-anchor="middle" stroke="#000" stroke-width="0.41" transform="translate(91.0 1704.7)">6</text>
<line x1="108.5" y1="1783.8" x2="125.4" y2="1783.8" stroke="#000" stroke-width="2.2" />
<text font-size="25.5" text-anchor="middle" stroke="#000" stroke-width="0.41" transform="translate(91.0 1793.4)">4</text>
<line x1="108.5" y1="1872.9" x2="125.4" y2="1872.9" stroke="#000" stroke-width="2.2" />
<text font-size="25.5" text-anchor="middle" stroke="#000" stroke-width="0.41" transform="translate(91.0 1882.5)">2</text>
<text font-size="25.5" text-anchor="middle" stroke="#000" stroke-width="0.41" transform="translate(91.0 1971.9)">0</text>
<rect x="150.9" y="1918.9" width="48.0" height="43.4" fill="#d9d9d9" stroke="#000" stroke-width="2.2" />
<rect x="225.7" y="1801.1" width="47.6" height="161.2" fill="#d9d9d9" stroke="#000" stroke-width="2.2" />
<line x1="174.8" y1="1887.9" x2="174.8" y2="1947.6" stroke="#000" stroke-width="2.2" />
<line x1="161.4" y1="1887.9" x2="188.2" y2="1887.9" stroke="#000" stroke-width="2.2" />
<line x1="161.4" y1="1947.6" x2="188.2" y2="1947.6" stroke="#000" stroke-width="2.2" />
<line x1="249.5" y1="1750.9" x2="249.5" y2="1848.1" stroke="#000" stroke-width="2.2" />
<line x1="236.1" y1="1750.9" x2="262.9" y2="1750.9" stroke="#000" stroke-width="2.2" />
<line x1="236.1" y1="1848.1" x2="262.9" y2="1848.1" stroke="#000" stroke-width="2.2" />
<circle cx="174.8" cy="1836.0" r="8.4" fill="#000"/>
<circle cx="174.8" cy="1911.0" r="8.4" fill="#000"/>
<circle cx="157.8" cy="1962.3" r="8.4" fill="#000"/>
<circle cx="191.7" cy="1962.3" r="8.4" fill="#000"/>
<circle cx="249.5" cy="1652.2" r="8.4" fill="#9c1f9c"/>
<circle cx="249.5" cy="1754.5" r="8.4" fill="#9c1f9c"/>
<circle cx="249.5" cy="1807.2" r="8.4" fill="#9c1f9c"/>
<circle cx="249.5" cy="1841.1" r="8.4" fill="#9c1f9c"/>
<circle cx="249.5" cy="1944.5" r="8.4" fill="#9c1f9c"/>
<text font-size="27.2" text-anchor="middle" stroke="#000" stroke-width="0.44" transform="translate(225.0 1617.8)"><tspan font-style="italic">P</tspan> = 0.0465</text>
<line x1="183.8" y1="1626.3" x2="250.0" y2="1626.3" stroke="#000" stroke-width="2.2" />
<text font-size="33.35" stroke="#000" stroke-width="0.53" transform="translate(59.2 1971.3) rotate(-90)">Relative expression (fold)</text>
<circle cx="166.9" cy="1994.7" r="6.2" fill="#000"/>
<text font-size="28.4" stroke="#000" stroke-width="0.45" transform="translate(176.8 2002.6)">No fear</text>
<circle cx="166.9" cy="2024.3" r="6.0" fill="#9c1f9c"/>
<text font-size="28.4" stroke="#000" stroke-width="0.45" transform="translate(177.1 2033.2)">Fear</text>
</svg>
</body>
</html>
